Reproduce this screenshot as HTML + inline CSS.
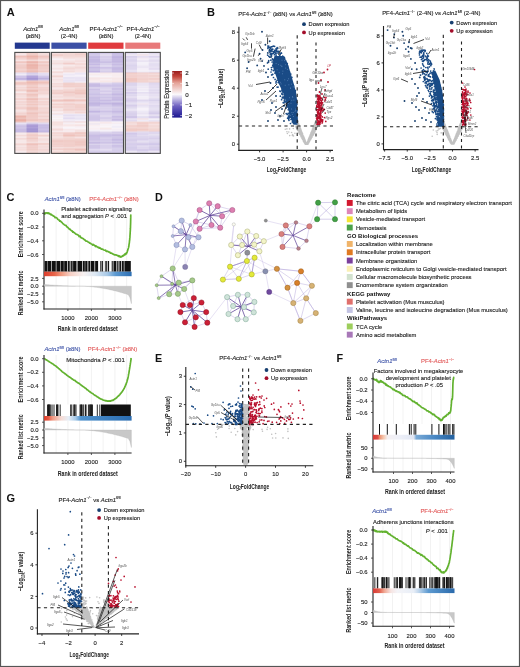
<!DOCTYPE html>
<html><head><meta charset="utf-8"><title>Figure</title>
<style>html,body{margin:0;padding:0;background:#fff;}body{width:520px;height:667px;overflow:hidden;font-family:"Liberation Sans", sans-serif;}svg{display:block;}</style>
</head><body><div style="will-change:transform;width:520px;height:667px;background:#fff;filter:blur(0.3px);">
<svg width="520" height="667" viewBox="0 0 520 667" font-family='"Liberation Sans", sans-serif'>
<text x="6.7" y="16.2" font-size="11" text-anchor="start" fill="#111" font-weight="bold">A</text>
<text x="33" y="30.7" font-size="5.9" text-anchor="middle" fill="#222" stroke="#222" stroke-width="0.12"><tspan font-style="italic">Actn1</tspan><tspan font-size="3.6" dy="-2.4">fl/fl</tspan></text>
<text x="33" y="38.2" font-size="5.9" text-anchor="middle" fill="#222" stroke="#222" stroke-width="0.12">(&#8805;8N)</text>
<text x="69.2" y="30.7" font-size="5.9" text-anchor="middle" fill="#222" stroke="#222" stroke-width="0.12"><tspan font-style="italic">Actn1</tspan><tspan font-size="3.6" dy="-2.4">fl/fl</tspan></text>
<text x="69.2" y="38.2" font-size="5.9" text-anchor="middle" fill="#222" stroke="#222" stroke-width="0.12">(2-4N)</text>
<text x="106" y="30.7" font-size="5.9" text-anchor="middle" fill="#222" stroke="#222" stroke-width="0.12">PF4-<tspan font-style="italic">Actn1</tspan><tspan font-size="3.6" dy="-2.4">&#8722;/&#8722;</tspan></text>
<text x="106" y="38.2" font-size="5.9" text-anchor="middle" fill="#222" stroke="#222" stroke-width="0.12">(&#8805;8N)</text>
<text x="143" y="30.7" font-size="5.9" text-anchor="middle" fill="#222" stroke="#222" stroke-width="0.12">PF4-<tspan font-style="italic">Actn1</tspan><tspan font-size="3.6" dy="-2.4">&#8722;/&#8722;</tspan></text>
<text x="143" y="38.2" font-size="5.9" text-anchor="middle" fill="#222" stroke="#222" stroke-width="0.12">(2-4N)</text>
<rect x="14.8" y="42.6" width="34.9" height="6.2" fill="#23388f"/>
<rect x="51.4" y="42.6" width="35.2" height="6.2" fill="#3b4fa5"/>
<rect x="88.2" y="42.6" width="35.3" height="6.2" fill="#e03a3e"/>
<rect x="125.3" y="42.6" width="35" height="6.2" fill="#e8797a"/>
<rect x="14.80" y="52.60" width="11.68" height="1.05" fill="#f3d8d7"/>
<rect x="26.43" y="52.60" width="11.68" height="1.05" fill="#edbdb7"/>
<rect x="38.07" y="52.60" width="11.68" height="1.05" fill="#f3dbdb"/>
<rect x="14.80" y="53.60" width="11.68" height="1.05" fill="#f4dcdd"/>
<rect x="26.43" y="53.60" width="11.68" height="1.05" fill="#eec2bc"/>
<rect x="38.07" y="53.60" width="11.68" height="1.05" fill="#f1d1cf"/>
<rect x="14.80" y="54.60" width="11.68" height="1.05" fill="#f5e4e5"/>
<rect x="26.43" y="54.60" width="11.68" height="1.05" fill="#edbfb9"/>
<rect x="38.07" y="54.60" width="11.68" height="1.05" fill="#f2d4d2"/>
<rect x="14.80" y="55.60" width="11.68" height="1.05" fill="#ebb4ac"/>
<rect x="26.43" y="55.60" width="11.68" height="1.05" fill="#e8a59a"/>
<rect x="38.07" y="55.60" width="11.68" height="1.05" fill="#ecbab3"/>
<rect x="14.80" y="56.60" width="11.68" height="1.05" fill="#eab1a9"/>
<rect x="26.43" y="56.60" width="11.68" height="1.05" fill="#e69e91"/>
<rect x="38.07" y="56.60" width="11.68" height="1.05" fill="#ebb4ac"/>
<rect x="14.80" y="57.60" width="11.68" height="1.05" fill="#f0cbc7"/>
<rect x="26.43" y="57.60" width="11.68" height="1.05" fill="#ecb7b0"/>
<rect x="38.07" y="57.60" width="11.68" height="1.05" fill="#efc9c5"/>
<rect x="14.80" y="58.60" width="11.68" height="1.05" fill="#efc5c0"/>
<rect x="26.43" y="58.60" width="11.68" height="1.05" fill="#e9aba1"/>
<rect x="38.07" y="58.60" width="11.68" height="1.05" fill="#efc5c0"/>
<rect x="14.80" y="59.60" width="11.68" height="1.05" fill="#f4dcdd"/>
<rect x="26.43" y="59.60" width="11.68" height="1.05" fill="#f2d4d3"/>
<rect x="38.07" y="59.60" width="11.68" height="1.05" fill="#f4dfe0"/>
<rect x="14.80" y="60.60" width="11.68" height="1.05" fill="#f4dede"/>
<rect x="26.43" y="60.60" width="11.68" height="1.05" fill="#f0ccc9"/>
<rect x="38.07" y="60.60" width="11.68" height="1.05" fill="#f3d9d8"/>
<rect x="14.80" y="61.60" width="11.68" height="1.05" fill="#e8a79d"/>
<rect x="26.43" y="61.60" width="11.68" height="1.05" fill="#e28a7a"/>
<rect x="38.07" y="61.60" width="11.68" height="1.05" fill="#e9aca3"/>
<rect x="14.80" y="62.60" width="11.68" height="1.05" fill="#f0cbc8"/>
<rect x="26.43" y="62.60" width="11.68" height="1.05" fill="#ecbab3"/>
<rect x="38.07" y="62.60" width="11.68" height="1.05" fill="#f0cac6"/>
<rect x="14.80" y="63.60" width="11.68" height="1.05" fill="#f2d3d1"/>
<rect x="26.43" y="63.60" width="11.68" height="1.05" fill="#eab1a8"/>
<rect x="38.07" y="63.60" width="11.68" height="1.05" fill="#f0cecb"/>
<rect x="14.80" y="64.60" width="11.68" height="1.05" fill="#ecbbb4"/>
<rect x="26.43" y="64.60" width="11.68" height="1.05" fill="#e69b8f"/>
<rect x="38.07" y="64.60" width="11.68" height="1.05" fill="#ebb4ac"/>
<rect x="14.80" y="65.60" width="11.68" height="1.05" fill="#efc6c2"/>
<rect x="26.43" y="65.60" width="11.68" height="1.05" fill="#e7a499"/>
<rect x="38.07" y="65.60" width="11.68" height="1.05" fill="#edbfb9"/>
<rect x="14.80" y="66.60" width="11.68" height="1.05" fill="#ecbab3"/>
<rect x="26.43" y="66.60" width="11.68" height="1.05" fill="#e8a69b"/>
<rect x="38.07" y="66.60" width="11.68" height="1.05" fill="#eec0bb"/>
<rect x="14.80" y="67.60" width="11.68" height="1.05" fill="#eec1bb"/>
<rect x="26.43" y="67.60" width="11.68" height="1.05" fill="#e7a296"/>
<rect x="38.07" y="67.60" width="11.68" height="1.05" fill="#eec3be"/>
<rect x="14.80" y="68.60" width="11.68" height="1.05" fill="#eec3be"/>
<rect x="26.43" y="68.60" width="11.68" height="1.05" fill="#e9ada4"/>
<rect x="38.07" y="68.60" width="11.68" height="1.05" fill="#eec1bc"/>
<rect x="14.80" y="69.60" width="11.68" height="1.05" fill="#f1cfcc"/>
<rect x="26.43" y="69.60" width="11.68" height="1.05" fill="#ecbbb4"/>
<rect x="38.07" y="69.60" width="11.68" height="1.05" fill="#f0cac6"/>
<rect x="14.80" y="70.60" width="11.68" height="1.05" fill="#edbcb5"/>
<rect x="26.43" y="70.60" width="11.68" height="1.05" fill="#e8a89e"/>
<rect x="38.07" y="70.60" width="11.68" height="1.05" fill="#ecbbb5"/>
<rect x="14.80" y="71.60" width="11.68" height="1.05" fill="#edbfb9"/>
<rect x="26.43" y="71.60" width="11.68" height="1.05" fill="#e9aca2"/>
<rect x="38.07" y="71.60" width="11.68" height="1.05" fill="#ecbbb4"/>
<rect x="14.80" y="72.60" width="11.68" height="1.05" fill="#e6dff1"/>
<rect x="26.43" y="72.60" width="11.68" height="1.05" fill="#cfc5e7"/>
<rect x="38.07" y="72.60" width="11.68" height="1.05" fill="#eee9f5"/>
<rect x="14.80" y="73.60" width="11.68" height="1.05" fill="#ded6ee"/>
<rect x="26.43" y="73.60" width="11.68" height="1.05" fill="#c9bee4"/>
<rect x="38.07" y="73.60" width="11.68" height="1.05" fill="#ccc1e6"/>
<rect x="14.80" y="74.60" width="11.68" height="1.05" fill="#f9f5fa"/>
<rect x="26.43" y="74.60" width="11.68" height="1.05" fill="#dbd2ec"/>
<rect x="38.07" y="74.60" width="11.68" height="1.05" fill="#eee8f5"/>
<rect x="14.80" y="75.60" width="11.68" height="1.05" fill="#b8aadd"/>
<rect x="26.43" y="75.60" width="11.68" height="1.05" fill="#9a87cf"/>
<rect x="38.07" y="75.60" width="11.68" height="1.05" fill="#bbadde"/>
<rect x="14.80" y="76.60" width="11.68" height="1.05" fill="#ccc1e5"/>
<rect x="26.43" y="76.60" width="11.68" height="1.05" fill="#a593d4"/>
<rect x="38.07" y="76.60" width="11.68" height="1.05" fill="#cbc0e5"/>
<rect x="14.80" y="77.60" width="11.68" height="1.05" fill="#baabdd"/>
<rect x="26.43" y="77.60" width="11.68" height="1.05" fill="#9885ce"/>
<rect x="38.07" y="77.60" width="11.68" height="1.05" fill="#ae9ed8"/>
<rect x="14.80" y="78.60" width="11.68" height="1.05" fill="#a593d4"/>
<rect x="26.43" y="78.60" width="11.68" height="1.05" fill="#8674c5"/>
<rect x="38.07" y="78.60" width="11.68" height="1.05" fill="#a898d5"/>
<rect x="14.80" y="79.60" width="11.68" height="1.05" fill="#c6bae3"/>
<rect x="26.43" y="79.60" width="11.68" height="1.05" fill="#a998d5"/>
<rect x="38.07" y="79.60" width="11.68" height="1.05" fill="#cbc0e5"/>
<rect x="14.80" y="80.60" width="11.68" height="1.05" fill="#f5e1e2"/>
<rect x="26.43" y="80.60" width="11.68" height="1.05" fill="#ecb8b0"/>
<rect x="38.07" y="80.60" width="11.68" height="1.05" fill="#edbdb7"/>
<rect x="14.80" y="81.60" width="11.68" height="1.05" fill="#f0cac6"/>
<rect x="26.43" y="81.60" width="11.68" height="1.05" fill="#ebb3ab"/>
<rect x="38.07" y="81.60" width="11.68" height="1.05" fill="#edbfb9"/>
<rect x="14.80" y="82.60" width="11.68" height="1.05" fill="#eaaea5"/>
<rect x="26.43" y="82.60" width="11.68" height="1.05" fill="#e69e92"/>
<rect x="38.07" y="82.60" width="11.68" height="1.05" fill="#e7a499"/>
<rect x="14.80" y="83.60" width="11.68" height="1.05" fill="#eec3be"/>
<rect x="26.43" y="83.60" width="11.68" height="1.05" fill="#eec1bc"/>
<rect x="38.07" y="83.60" width="11.68" height="1.05" fill="#f1d0cd"/>
<rect x="14.80" y="84.60" width="11.68" height="1.05" fill="#edbdb7"/>
<rect x="26.43" y="84.60" width="11.68" height="1.05" fill="#eaafa6"/>
<rect x="38.07" y="84.60" width="11.68" height="1.05" fill="#eec1bc"/>
<rect x="14.80" y="85.60" width="11.68" height="1.05" fill="#f6e9ec"/>
<rect x="26.43" y="85.60" width="11.68" height="1.05" fill="#f2d5d3"/>
<rect x="38.07" y="85.60" width="11.68" height="1.05" fill="#f5e4e6"/>
<rect x="14.80" y="86.60" width="11.68" height="1.05" fill="#f0cbc7"/>
<rect x="26.43" y="86.60" width="11.68" height="1.05" fill="#eaafa6"/>
<rect x="38.07" y="86.60" width="11.68" height="1.05" fill="#eec4c0"/>
<rect x="14.80" y="87.60" width="11.68" height="1.05" fill="#f1d2d0"/>
<rect x="26.43" y="87.60" width="11.68" height="1.05" fill="#edbcb6"/>
<rect x="38.07" y="87.60" width="11.68" height="1.05" fill="#f0cac6"/>
<rect x="14.80" y="88.60" width="11.68" height="1.05" fill="#f2d6d5"/>
<rect x="26.43" y="88.60" width="11.68" height="1.05" fill="#f0cac7"/>
<rect x="38.07" y="88.60" width="11.68" height="1.05" fill="#efc6c2"/>
<rect x="14.80" y="89.60" width="11.68" height="1.05" fill="#edc0ba"/>
<rect x="26.43" y="89.60" width="11.68" height="1.05" fill="#eaaea5"/>
<rect x="38.07" y="89.60" width="11.68" height="1.05" fill="#eec3bf"/>
<rect x="14.80" y="90.60" width="11.68" height="1.05" fill="#f0ccc8"/>
<rect x="26.43" y="90.60" width="11.68" height="1.05" fill="#e9aaa1"/>
<rect x="38.07" y="90.60" width="11.68" height="1.05" fill="#efc8c4"/>
<rect x="14.80" y="91.60" width="11.68" height="1.05" fill="#f6e9eb"/>
<rect x="26.43" y="91.60" width="11.68" height="1.05" fill="#ecbbb4"/>
<rect x="38.07" y="91.60" width="11.68" height="1.05" fill="#f2d3d1"/>
<rect x="14.80" y="92.60" width="11.68" height="1.05" fill="#f5e0e1"/>
<rect x="26.43" y="92.60" width="11.68" height="1.05" fill="#f3d9d9"/>
<rect x="38.07" y="92.60" width="11.68" height="1.05" fill="#efc6c2"/>
<rect x="14.80" y="93.60" width="11.68" height="1.05" fill="#edbeb8"/>
<rect x="26.43" y="93.60" width="11.68" height="1.05" fill="#eab0a7"/>
<rect x="38.07" y="93.60" width="11.68" height="1.05" fill="#f0cdcb"/>
<rect x="14.80" y="94.60" width="11.68" height="1.05" fill="#f3dbdb"/>
<rect x="26.43" y="94.60" width="11.68" height="1.05" fill="#ecb9b2"/>
<rect x="38.07" y="94.60" width="11.68" height="1.05" fill="#f4dcdc"/>
<rect x="14.80" y="95.60" width="11.68" height="1.05" fill="#f1d1cf"/>
<rect x="26.43" y="95.60" width="11.68" height="1.05" fill="#ecbbb4"/>
<rect x="38.07" y="95.60" width="11.68" height="1.05" fill="#f4dedf"/>
<rect x="14.80" y="96.60" width="11.68" height="1.05" fill="#f3dbda"/>
<rect x="26.43" y="96.60" width="11.68" height="1.05" fill="#efc7c3"/>
<rect x="38.07" y="96.60" width="11.68" height="1.05" fill="#f5e4e6"/>
<rect x="14.80" y="97.60" width="11.68" height="1.05" fill="#f4dcdc"/>
<rect x="26.43" y="97.60" width="11.68" height="1.05" fill="#f0ccc8"/>
<rect x="38.07" y="97.60" width="11.68" height="1.05" fill="#f3d8d8"/>
<rect x="14.80" y="98.60" width="11.68" height="1.05" fill="#edbcb5"/>
<rect x="26.43" y="98.60" width="11.68" height="1.05" fill="#e69f93"/>
<rect x="38.07" y="98.60" width="11.68" height="1.05" fill="#edbeb8"/>
<rect x="14.80" y="99.60" width="11.68" height="1.05" fill="#f3d7d6"/>
<rect x="26.43" y="99.60" width="11.68" height="1.05" fill="#edbeb8"/>
<rect x="38.07" y="99.60" width="11.68" height="1.05" fill="#f2d6d5"/>
<rect x="14.80" y="100.60" width="11.68" height="1.05" fill="#f4dfdf"/>
<rect x="26.43" y="100.60" width="11.68" height="1.05" fill="#efc6c2"/>
<rect x="38.07" y="100.60" width="11.68" height="1.05" fill="#f3dada"/>
<rect x="14.80" y="101.60" width="11.68" height="1.05" fill="#edbeb8"/>
<rect x="26.43" y="101.60" width="11.68" height="1.05" fill="#eab1a9"/>
<rect x="38.07" y="101.60" width="11.68" height="1.05" fill="#edbcb5"/>
<rect x="14.80" y="102.60" width="11.68" height="1.05" fill="#f3dbdb"/>
<rect x="26.43" y="102.60" width="11.68" height="1.05" fill="#f0cbc8"/>
<rect x="38.07" y="102.60" width="11.68" height="1.05" fill="#f3dada"/>
<rect x="14.80" y="103.60" width="11.68" height="1.05" fill="#f1cecb"/>
<rect x="26.43" y="103.60" width="11.68" height="1.05" fill="#edbfb9"/>
<rect x="38.07" y="103.60" width="11.68" height="1.05" fill="#eec2bd"/>
<rect x="14.80" y="104.60" width="11.68" height="1.05" fill="#efc9c5"/>
<rect x="26.43" y="104.60" width="11.68" height="1.05" fill="#eab1a8"/>
<rect x="38.07" y="104.60" width="11.68" height="1.05" fill="#f1cfcd"/>
<rect x="14.80" y="105.60" width="11.68" height="1.05" fill="#f5e1e1"/>
<rect x="26.43" y="105.60" width="11.68" height="1.05" fill="#f2d7d6"/>
<rect x="38.07" y="105.60" width="11.68" height="1.05" fill="#f3d9d9"/>
<rect x="14.80" y="106.60" width="11.68" height="1.05" fill="#eec4bf"/>
<rect x="26.43" y="106.60" width="11.68" height="1.05" fill="#ebb2aa"/>
<rect x="38.07" y="106.60" width="11.68" height="1.05" fill="#f2d6d5"/>
<rect x="14.80" y="107.60" width="11.68" height="1.05" fill="#f0cbc8"/>
<rect x="26.43" y="107.60" width="11.68" height="1.05" fill="#ecb8b1"/>
<rect x="38.07" y="107.60" width="11.68" height="1.05" fill="#efc6c2"/>
<rect x="14.80" y="108.60" width="11.68" height="1.05" fill="#eec0bb"/>
<rect x="26.43" y="108.60" width="11.68" height="1.05" fill="#e9aca2"/>
<rect x="38.07" y="108.60" width="11.68" height="1.05" fill="#f1cecb"/>
<rect x="14.80" y="109.60" width="11.68" height="1.05" fill="#f6e6e8"/>
<rect x="26.43" y="109.60" width="11.68" height="1.05" fill="#eec3be"/>
<rect x="38.07" y="109.60" width="11.68" height="1.05" fill="#f1cecc"/>
<rect x="14.80" y="110.60" width="11.68" height="1.05" fill="#f2d6d5"/>
<rect x="26.43" y="110.60" width="11.68" height="1.05" fill="#eec3be"/>
<rect x="38.07" y="110.60" width="11.68" height="1.05" fill="#f0cdcb"/>
<rect x="14.80" y="111.60" width="11.68" height="1.05" fill="#f4dedf"/>
<rect x="26.43" y="111.60" width="11.68" height="1.05" fill="#f0cac7"/>
<rect x="38.07" y="111.60" width="11.68" height="1.05" fill="#efc9c5"/>
<rect x="14.80" y="112.60" width="11.68" height="1.05" fill="#eec3be"/>
<rect x="26.43" y="112.60" width="11.68" height="1.05" fill="#e9ada4"/>
<rect x="38.07" y="112.60" width="11.68" height="1.05" fill="#edbeb8"/>
<rect x="14.80" y="113.60" width="11.68" height="1.05" fill="#f1cecb"/>
<rect x="26.43" y="113.60" width="11.68" height="1.05" fill="#ecbbb5"/>
<rect x="38.07" y="113.60" width="11.68" height="1.05" fill="#f1d2d0"/>
<rect x="14.80" y="114.60" width="11.68" height="1.05" fill="#f0cbc8"/>
<rect x="26.43" y="114.60" width="11.68" height="1.05" fill="#edbfb9"/>
<rect x="38.07" y="114.60" width="11.68" height="1.05" fill="#f2d3d1"/>
<rect x="14.80" y="115.60" width="11.68" height="1.05" fill="#e8a79c"/>
<rect x="26.43" y="115.60" width="11.68" height="1.05" fill="#edbcb5"/>
<rect x="38.07" y="115.60" width="11.68" height="1.05" fill="#efc8c4"/>
<rect x="14.80" y="116.60" width="11.68" height="1.05" fill="#e7a195"/>
<rect x="26.43" y="116.60" width="11.68" height="1.05" fill="#edbeb8"/>
<rect x="38.07" y="116.60" width="11.68" height="1.05" fill="#eec4c0"/>
<rect x="14.80" y="117.60" width="11.68" height="1.05" fill="#ecb7b0"/>
<rect x="26.43" y="117.60" width="11.68" height="1.05" fill="#eec1bb"/>
<rect x="38.07" y="117.60" width="11.68" height="1.05" fill="#f4dddd"/>
<rect x="14.80" y="118.60" width="11.68" height="1.05" fill="#e9aca2"/>
<rect x="26.43" y="118.60" width="11.68" height="1.05" fill="#eec3be"/>
<rect x="38.07" y="118.60" width="11.68" height="1.05" fill="#eec4bf"/>
<rect x="14.80" y="119.60" width="11.68" height="1.05" fill="#e59789"/>
<rect x="26.43" y="119.60" width="11.68" height="1.05" fill="#eaafa7"/>
<rect x="38.07" y="119.60" width="11.68" height="1.05" fill="#ecb9b1"/>
<rect x="14.80" y="120.60" width="11.68" height="1.05" fill="#e6a094"/>
<rect x="26.43" y="120.60" width="11.68" height="1.05" fill="#edc0ba"/>
<rect x="38.07" y="120.60" width="11.68" height="1.05" fill="#f0cbc7"/>
<rect x="14.80" y="121.60" width="11.68" height="1.05" fill="#ecbbb4"/>
<rect x="26.43" y="121.60" width="11.68" height="1.05" fill="#f2d4d2"/>
<rect x="38.07" y="121.60" width="11.68" height="1.05" fill="#efc8c4"/>
<rect x="14.80" y="122.60" width="11.68" height="1.05" fill="#ddd4ed"/>
<rect x="26.43" y="122.60" width="11.68" height="1.05" fill="#d3c9e9"/>
<rect x="38.07" y="122.60" width="11.68" height="1.05" fill="#dad1ec"/>
<rect x="14.80" y="123.60" width="11.68" height="1.05" fill="#e7e0f2"/>
<rect x="26.43" y="123.60" width="11.68" height="1.05" fill="#c5b8e2"/>
<rect x="38.07" y="123.60" width="11.68" height="1.05" fill="#d9d0eb"/>
<rect x="14.80" y="124.60" width="11.68" height="1.05" fill="#beb0df"/>
<rect x="26.43" y="124.60" width="11.68" height="1.05" fill="#927ecb"/>
<rect x="38.07" y="124.60" width="11.68" height="1.05" fill="#ac9bd7"/>
<rect x="14.80" y="125.60" width="11.68" height="1.05" fill="#cabee4"/>
<rect x="26.43" y="125.60" width="11.68" height="1.05" fill="#9c8ad0"/>
<rect x="38.07" y="125.60" width="11.68" height="1.05" fill="#c4b7e2"/>
<rect x="14.80" y="126.60" width="11.68" height="1.05" fill="#b3a4da"/>
<rect x="26.43" y="126.60" width="11.68" height="1.05" fill="#8976c6"/>
<rect x="38.07" y="126.60" width="11.68" height="1.05" fill="#b2a2d9"/>
<rect x="14.80" y="127.60" width="11.68" height="1.05" fill="#d3c9e9"/>
<rect x="26.43" y="127.60" width="11.68" height="1.05" fill="#aa99d6"/>
<rect x="38.07" y="127.60" width="11.68" height="1.05" fill="#bfb2e0"/>
<rect x="14.80" y="128.60" width="11.68" height="1.05" fill="#ae9ed8"/>
<rect x="26.43" y="128.60" width="11.68" height="1.05" fill="#7968bd"/>
<rect x="38.07" y="128.60" width="11.68" height="1.05" fill="#b7a9dc"/>
<rect x="14.80" y="129.60" width="11.68" height="1.05" fill="#c3b6e1"/>
<rect x="26.43" y="129.60" width="11.68" height="1.05" fill="#9f8dd1"/>
<rect x="38.07" y="129.60" width="11.68" height="1.05" fill="#c5b9e3"/>
<rect x="14.80" y="130.60" width="11.68" height="1.05" fill="#ae9ed8"/>
<rect x="26.43" y="130.60" width="11.68" height="1.05" fill="#7f6dc1"/>
<rect x="38.07" y="130.60" width="11.68" height="1.05" fill="#ac9cd7"/>
<rect x="14.80" y="131.60" width="11.68" height="1.05" fill="#c1b4e0"/>
<rect x="26.43" y="131.60" width="11.68" height="1.05" fill="#9683cd"/>
<rect x="38.07" y="131.60" width="11.68" height="1.05" fill="#baacdd"/>
<rect x="14.80" y="132.60" width="11.68" height="1.05" fill="#f3dcdb"/>
<rect x="26.43" y="132.60" width="11.68" height="1.05" fill="#f0cdc9"/>
<rect x="38.07" y="132.60" width="11.68" height="1.05" fill="#f3dad9"/>
<rect x="14.80" y="133.60" width="11.68" height="1.05" fill="#f8eff3"/>
<rect x="26.43" y="133.60" width="11.68" height="1.05" fill="#f1d1cf"/>
<rect x="38.07" y="133.60" width="11.68" height="1.05" fill="#f7eef1"/>
<rect x="14.80" y="134.60" width="11.68" height="1.05" fill="#f1d2d0"/>
<rect x="26.43" y="134.60" width="11.68" height="1.05" fill="#ebb5ae"/>
<rect x="38.07" y="134.60" width="11.68" height="1.05" fill="#efc7c3"/>
<rect x="14.80" y="135.60" width="11.68" height="1.05" fill="#f1d1cf"/>
<rect x="26.43" y="135.60" width="11.68" height="1.05" fill="#efc5c0"/>
<rect x="38.07" y="135.60" width="11.68" height="1.05" fill="#efc5c1"/>
<rect x="14.80" y="136.60" width="11.68" height="1.05" fill="#f7ebee"/>
<rect x="26.43" y="136.60" width="11.68" height="1.05" fill="#efc9c5"/>
<rect x="38.07" y="136.60" width="11.68" height="1.05" fill="#f5e3e4"/>
<rect x="14.80" y="137.60" width="11.68" height="1.05" fill="#f3dad9"/>
<rect x="26.43" y="137.60" width="11.68" height="1.05" fill="#eec1bb"/>
<rect x="38.07" y="137.60" width="11.68" height="1.05" fill="#f5e3e4"/>
<rect x="14.80" y="138.60" width="11.68" height="1.05" fill="#efc9c5"/>
<rect x="26.43" y="138.60" width="11.68" height="1.05" fill="#ebb7af"/>
<rect x="38.07" y="138.60" width="11.68" height="1.05" fill="#f1cecc"/>
<rect x="14.80" y="139.60" width="11.68" height="1.05" fill="#f5e5e6"/>
<rect x="26.43" y="139.60" width="11.68" height="1.05" fill="#f2d4d2"/>
<rect x="38.07" y="139.60" width="11.68" height="1.05" fill="#f3dbdb"/>
<rect x="14.80" y="140.60" width="11.68" height="1.05" fill="#f4dfdf"/>
<rect x="26.43" y="140.60" width="11.68" height="1.05" fill="#edbfb9"/>
<rect x="38.07" y="140.60" width="11.68" height="1.05" fill="#f2d6d5"/>
<rect x="14.80" y="141.60" width="11.68" height="1.05" fill="#f6e5e7"/>
<rect x="26.43" y="141.60" width="11.68" height="1.05" fill="#f4dddd"/>
<rect x="38.07" y="141.60" width="11.68" height="1.05" fill="#f6e6e8"/>
<rect x="14.80" y="142.60" width="11.68" height="1.05" fill="#f4e0e0"/>
<rect x="26.43" y="142.60" width="11.68" height="1.05" fill="#f0cdca"/>
<rect x="38.07" y="142.60" width="11.68" height="1.05" fill="#f2d6d5"/>
<rect x="14.80" y="143.60" width="11.68" height="1.05" fill="#efc7c3"/>
<rect x="26.43" y="143.60" width="11.68" height="1.05" fill="#e9ada3"/>
<rect x="38.07" y="143.60" width="11.68" height="1.05" fill="#eab2a9"/>
<rect x="14.80" y="144.60" width="11.68" height="1.05" fill="#f0cecb"/>
<rect x="26.43" y="144.60" width="11.68" height="1.05" fill="#ebb6af"/>
<rect x="38.07" y="144.60" width="11.68" height="1.05" fill="#f3d8d7"/>
<rect x="14.80" y="145.60" width="11.68" height="1.05" fill="#f5e5e7"/>
<rect x="26.43" y="145.60" width="11.68" height="1.05" fill="#f0cbc8"/>
<rect x="38.07" y="145.60" width="11.68" height="1.05" fill="#f2d4d2"/>
<rect x="14.80" y="146.60" width="11.68" height="1.05" fill="#f3d8d7"/>
<rect x="26.43" y="146.60" width="11.68" height="1.05" fill="#edbfb9"/>
<rect x="38.07" y="146.60" width="11.68" height="1.05" fill="#f1cfcc"/>
<rect x="14.80" y="147.60" width="11.68" height="1.05" fill="#f2d4d3"/>
<rect x="26.43" y="147.60" width="11.68" height="1.05" fill="#eec4bf"/>
<rect x="38.07" y="147.60" width="11.68" height="1.05" fill="#f2d5d4"/>
<rect x="14.80" y="148.60" width="11.68" height="1.05" fill="#f4dede"/>
<rect x="26.43" y="148.60" width="11.68" height="1.05" fill="#efc6c1"/>
<rect x="38.07" y="148.60" width="11.68" height="1.05" fill="#f2d5d4"/>
<rect x="14.80" y="149.60" width="11.68" height="1.05" fill="#f0ccc9"/>
<rect x="26.43" y="149.60" width="11.68" height="1.05" fill="#ecbbb4"/>
<rect x="38.07" y="149.60" width="11.68" height="1.05" fill="#eec4bf"/>
<rect x="14.80" y="150.60" width="11.68" height="1.05" fill="#f6e9ec"/>
<rect x="26.43" y="150.60" width="11.68" height="1.05" fill="#f2d6d5"/>
<rect x="38.07" y="150.60" width="11.68" height="1.05" fill="#f3dad9"/>
<rect x="14.80" y="151.60" width="11.68" height="1.05" fill="#f5e3e5"/>
<rect x="26.43" y="151.60" width="11.68" height="1.05" fill="#efc9c5"/>
<rect x="38.07" y="151.60" width="11.68" height="1.05" fill="#f1d0cd"/>
<rect x="14.80" y="152.60" width="11.68" height="1.05" fill="#f7ebee"/>
<rect x="26.43" y="152.60" width="11.68" height="1.05" fill="#efc8c4"/>
<rect x="38.07" y="152.60" width="11.68" height="1.05" fill="#f5e3e5"/>
<rect x="14.8" y="52.4" width="34.9" height="101" fill="none" stroke="#4a4a4a" stroke-width="1.1"/>
<rect x="51.40" y="52.60" width="11.78" height="1.05" fill="#f2d7d6"/>
<rect x="63.13" y="52.60" width="11.78" height="1.05" fill="#f1cecb"/>
<rect x="74.87" y="52.60" width="11.78" height="1.05" fill="#f3d8d7"/>
<rect x="51.40" y="53.60" width="11.78" height="1.05" fill="#f2d3d2"/>
<rect x="63.13" y="53.60" width="11.78" height="1.05" fill="#f1d0ce"/>
<rect x="74.87" y="53.60" width="11.78" height="1.05" fill="#ecbab3"/>
<rect x="51.40" y="54.60" width="11.78" height="1.05" fill="#ecb8b1"/>
<rect x="63.13" y="54.60" width="11.78" height="1.05" fill="#efc7c3"/>
<rect x="74.87" y="54.60" width="11.78" height="1.05" fill="#f0cac7"/>
<rect x="51.40" y="55.60" width="11.78" height="1.05" fill="#f0ccc9"/>
<rect x="63.13" y="55.60" width="11.78" height="1.05" fill="#f1d1cf"/>
<rect x="74.87" y="55.60" width="11.78" height="1.05" fill="#f0ccc9"/>
<rect x="51.40" y="56.60" width="11.78" height="1.05" fill="#f3d9d8"/>
<rect x="63.13" y="56.60" width="11.78" height="1.05" fill="#f0ccc8"/>
<rect x="74.87" y="56.60" width="11.78" height="1.05" fill="#f0cecb"/>
<rect x="51.40" y="57.60" width="11.78" height="1.05" fill="#f5e1e1"/>
<rect x="63.13" y="57.60" width="11.78" height="1.05" fill="#f4dcdc"/>
<rect x="74.87" y="57.60" width="11.78" height="1.05" fill="#f4dede"/>
<rect x="51.40" y="58.60" width="11.78" height="1.05" fill="#f8f1f5"/>
<rect x="63.13" y="58.60" width="11.78" height="1.05" fill="#f3dad9"/>
<rect x="74.87" y="58.60" width="11.78" height="1.05" fill="#f3dbdb"/>
<rect x="51.40" y="59.60" width="11.78" height="1.05" fill="#f7ecef"/>
<rect x="63.13" y="59.60" width="11.78" height="1.05" fill="#f8f0f4"/>
<rect x="74.87" y="59.60" width="11.78" height="1.05" fill="#f5e4e5"/>
<rect x="51.40" y="60.60" width="11.78" height="1.05" fill="#f2d4d3"/>
<rect x="63.13" y="60.60" width="11.78" height="1.05" fill="#f1cfcd"/>
<rect x="74.87" y="60.60" width="11.78" height="1.05" fill="#f0cdca"/>
<rect x="51.40" y="61.60" width="11.78" height="1.05" fill="#f6e8ea"/>
<rect x="63.13" y="61.60" width="11.78" height="1.05" fill="#f5e3e5"/>
<rect x="74.87" y="61.60" width="11.78" height="1.05" fill="#f4dfe0"/>
<rect x="51.40" y="62.60" width="11.78" height="1.05" fill="#f1d1cf"/>
<rect x="63.13" y="62.60" width="11.78" height="1.05" fill="#eec4bf"/>
<rect x="74.87" y="62.60" width="11.78" height="1.05" fill="#f4dfdf"/>
<rect x="51.40" y="63.60" width="11.78" height="1.05" fill="#f2d5d4"/>
<rect x="63.13" y="63.60" width="11.78" height="1.05" fill="#edbeb8"/>
<rect x="74.87" y="63.60" width="11.78" height="1.05" fill="#efc5c1"/>
<rect x="51.40" y="64.60" width="11.78" height="1.05" fill="#f6e8eb"/>
<rect x="63.13" y="64.60" width="11.78" height="1.05" fill="#f6e9ec"/>
<rect x="74.87" y="64.60" width="11.78" height="1.05" fill="#f4dcdc"/>
<rect x="51.40" y="65.60" width="11.78" height="1.05" fill="#f6e5e7"/>
<rect x="63.13" y="65.60" width="11.78" height="1.05" fill="#f4e0e0"/>
<rect x="74.87" y="65.60" width="11.78" height="1.05" fill="#f4dddd"/>
<rect x="51.40" y="66.60" width="11.78" height="1.05" fill="#f7ecef"/>
<rect x="63.13" y="66.60" width="11.78" height="1.05" fill="#f2d6d5"/>
<rect x="74.87" y="66.60" width="11.78" height="1.05" fill="#f1d0ce"/>
<rect x="51.40" y="67.60" width="11.78" height="1.05" fill="#f4e0e1"/>
<rect x="63.13" y="67.60" width="11.78" height="1.05" fill="#f1d2d0"/>
<rect x="74.87" y="67.60" width="11.78" height="1.05" fill="#f0cdca"/>
<rect x="51.40" y="68.60" width="11.78" height="1.05" fill="#f3dada"/>
<rect x="63.13" y="68.60" width="11.78" height="1.05" fill="#f0cbc7"/>
<rect x="74.87" y="68.60" width="11.78" height="1.05" fill="#f3dada"/>
<rect x="51.40" y="69.60" width="11.78" height="1.05" fill="#f7ecef"/>
<rect x="63.13" y="69.60" width="11.78" height="1.05" fill="#f4dede"/>
<rect x="74.87" y="69.60" width="11.78" height="1.05" fill="#f4dcdc"/>
<rect x="51.40" y="70.60" width="11.78" height="1.05" fill="#f6e8ea"/>
<rect x="63.13" y="70.60" width="11.78" height="1.05" fill="#f1d1cf"/>
<rect x="74.87" y="70.60" width="11.78" height="1.05" fill="#f4dddd"/>
<rect x="51.40" y="71.60" width="11.78" height="1.05" fill="#f0cac7"/>
<rect x="63.13" y="71.60" width="11.78" height="1.05" fill="#f2d4d3"/>
<rect x="74.87" y="71.60" width="11.78" height="1.05" fill="#f4ddde"/>
<rect x="51.40" y="72.60" width="11.78" height="1.05" fill="#f3dada"/>
<rect x="63.13" y="72.60" width="11.78" height="1.05" fill="#f8f1f5"/>
<rect x="74.87" y="72.60" width="11.78" height="1.05" fill="#ebe5f4"/>
<rect x="51.40" y="73.60" width="11.78" height="1.05" fill="#f7eaed"/>
<rect x="63.13" y="73.60" width="11.78" height="1.05" fill="#eae3f3"/>
<rect x="74.87" y="73.60" width="11.78" height="1.05" fill="#e3dbf0"/>
<rect x="51.40" y="74.60" width="11.78" height="1.05" fill="#f3dcdc"/>
<rect x="63.13" y="74.60" width="11.78" height="1.05" fill="#ebe4f3"/>
<rect x="74.87" y="74.60" width="11.78" height="1.05" fill="#f4eff8"/>
<rect x="51.40" y="75.60" width="11.78" height="1.05" fill="#f0cdca"/>
<rect x="63.13" y="75.60" width="11.78" height="1.05" fill="#f3eef7"/>
<rect x="74.87" y="75.60" width="11.78" height="1.05" fill="#f2edf7"/>
<rect x="51.40" y="76.60" width="11.78" height="1.05" fill="#eec5c0"/>
<rect x="63.13" y="76.60" width="11.78" height="1.05" fill="#efe9f5"/>
<rect x="74.87" y="76.60" width="11.78" height="1.05" fill="#ede7f4"/>
<rect x="51.40" y="77.60" width="11.78" height="1.05" fill="#f9f3f8"/>
<rect x="63.13" y="77.60" width="11.78" height="1.05" fill="#d8cfeb"/>
<rect x="74.87" y="77.60" width="11.78" height="1.05" fill="#ddd4ed"/>
<rect x="51.40" y="78.60" width="11.78" height="1.05" fill="#f2d3d2"/>
<rect x="63.13" y="78.60" width="11.78" height="1.05" fill="#f0ebf6"/>
<rect x="74.87" y="78.60" width="11.78" height="1.05" fill="#e9e3f3"/>
<rect x="51.40" y="79.60" width="11.78" height="1.05" fill="#f5e1e3"/>
<rect x="63.13" y="79.60" width="11.78" height="1.05" fill="#e0d7ee"/>
<rect x="74.87" y="79.60" width="11.78" height="1.05" fill="#e0d8ef"/>
<rect x="51.40" y="80.60" width="11.78" height="1.05" fill="#f4dddd"/>
<rect x="63.13" y="80.60" width="11.78" height="1.05" fill="#e8e2f2"/>
<rect x="74.87" y="80.60" width="11.78" height="1.05" fill="#e6dff1"/>
<rect x="51.40" y="81.60" width="11.78" height="1.05" fill="#f6e5e7"/>
<rect x="63.13" y="81.60" width="11.78" height="1.05" fill="#e1daef"/>
<rect x="74.87" y="81.60" width="11.78" height="1.05" fill="#efe9f5"/>
<rect x="51.40" y="82.60" width="11.78" height="1.05" fill="#f5e2e3"/>
<rect x="63.13" y="82.60" width="11.78" height="1.05" fill="#f0cecb"/>
<rect x="74.87" y="82.60" width="11.78" height="1.05" fill="#f2d6d5"/>
<rect x="51.40" y="83.60" width="11.78" height="1.05" fill="#eec2bd"/>
<rect x="63.13" y="83.60" width="11.78" height="1.05" fill="#ecb8b1"/>
<rect x="74.87" y="83.60" width="11.78" height="1.05" fill="#ecb9b2"/>
<rect x="51.40" y="84.60" width="11.78" height="1.05" fill="#f6e9ec"/>
<rect x="63.13" y="84.60" width="11.78" height="1.05" fill="#f0cac6"/>
<rect x="74.87" y="84.60" width="11.78" height="1.05" fill="#f1d2d1"/>
<rect x="51.40" y="85.60" width="11.78" height="1.05" fill="#efc5c0"/>
<rect x="63.13" y="85.60" width="11.78" height="1.05" fill="#edbeb8"/>
<rect x="74.87" y="85.60" width="11.78" height="1.05" fill="#ecb9b2"/>
<rect x="51.40" y="86.60" width="11.78" height="1.05" fill="#f3d7d6"/>
<rect x="63.13" y="86.60" width="11.78" height="1.05" fill="#efc6c1"/>
<rect x="74.87" y="86.60" width="11.78" height="1.05" fill="#f0ccc9"/>
<rect x="51.40" y="87.60" width="11.78" height="1.05" fill="#f5e3e5"/>
<rect x="63.13" y="87.60" width="11.78" height="1.05" fill="#f4dcdc"/>
<rect x="74.87" y="87.60" width="11.78" height="1.05" fill="#f1d2d0"/>
<rect x="51.40" y="88.60" width="11.78" height="1.05" fill="#f5e2e3"/>
<rect x="63.13" y="88.60" width="11.78" height="1.05" fill="#f2d4d2"/>
<rect x="74.87" y="88.60" width="11.78" height="1.05" fill="#eec5c0"/>
<rect x="51.40" y="89.60" width="11.78" height="1.05" fill="#f1d2d0"/>
<rect x="63.13" y="89.60" width="11.78" height="1.05" fill="#f0cac6"/>
<rect x="74.87" y="89.60" width="11.78" height="1.05" fill="#efc6c1"/>
<rect x="51.40" y="90.60" width="11.78" height="1.05" fill="#edbeb8"/>
<rect x="63.13" y="90.60" width="11.78" height="1.05" fill="#f0cac6"/>
<rect x="74.87" y="90.60" width="11.78" height="1.05" fill="#ebb3ab"/>
<rect x="51.40" y="91.60" width="11.78" height="1.05" fill="#f2d5d3"/>
<rect x="63.13" y="91.60" width="11.78" height="1.05" fill="#ecb9b2"/>
<rect x="74.87" y="91.60" width="11.78" height="1.05" fill="#efc8c4"/>
<rect x="51.40" y="92.60" width="11.78" height="1.05" fill="#ebb5ae"/>
<rect x="63.13" y="92.60" width="11.78" height="1.05" fill="#ecbab3"/>
<rect x="74.87" y="92.60" width="11.78" height="1.05" fill="#e9ada4"/>
<rect x="51.40" y="93.60" width="11.78" height="1.05" fill="#f0cbc7"/>
<rect x="63.13" y="93.60" width="11.78" height="1.05" fill="#f1d1cf"/>
<rect x="74.87" y="93.60" width="11.78" height="1.05" fill="#eec1bb"/>
<rect x="51.40" y="94.60" width="11.78" height="1.05" fill="#f4dcdc"/>
<rect x="63.13" y="94.60" width="11.78" height="1.05" fill="#edbfb9"/>
<rect x="74.87" y="94.60" width="11.78" height="1.05" fill="#f0cbc7"/>
<rect x="51.40" y="95.60" width="11.78" height="1.05" fill="#f3d9d9"/>
<rect x="63.13" y="95.60" width="11.78" height="1.05" fill="#f2d3d1"/>
<rect x="74.87" y="95.60" width="11.78" height="1.05" fill="#f1d1cf"/>
<rect x="51.40" y="96.60" width="11.78" height="1.05" fill="#f1cfcd"/>
<rect x="63.13" y="96.60" width="11.78" height="1.05" fill="#f0ccc8"/>
<rect x="74.87" y="96.60" width="11.78" height="1.05" fill="#efc7c2"/>
<rect x="51.40" y="97.60" width="11.78" height="1.05" fill="#f4dfdf"/>
<rect x="63.13" y="97.60" width="11.78" height="1.05" fill="#f4dedf"/>
<rect x="74.87" y="97.60" width="11.78" height="1.05" fill="#f2d6d4"/>
<rect x="51.40" y="98.60" width="11.78" height="1.05" fill="#f5e0e1"/>
<rect x="63.13" y="98.60" width="11.78" height="1.05" fill="#f1d2d0"/>
<rect x="74.87" y="98.60" width="11.78" height="1.05" fill="#f3dad9"/>
<rect x="51.40" y="99.60" width="11.78" height="1.05" fill="#ebb6af"/>
<rect x="63.13" y="99.60" width="11.78" height="1.05" fill="#e9ada4"/>
<rect x="74.87" y="99.60" width="11.78" height="1.05" fill="#eab0a7"/>
<rect x="51.40" y="100.60" width="11.78" height="1.05" fill="#ebb7af"/>
<rect x="63.13" y="100.60" width="11.78" height="1.05" fill="#ebb5ad"/>
<rect x="74.87" y="100.60" width="11.78" height="1.05" fill="#edbeb8"/>
<rect x="51.40" y="101.60" width="11.78" height="1.05" fill="#f2d4d2"/>
<rect x="63.13" y="101.60" width="11.78" height="1.05" fill="#f2d3d1"/>
<rect x="74.87" y="101.60" width="11.78" height="1.05" fill="#f2d5d4"/>
<rect x="51.40" y="102.60" width="11.78" height="1.05" fill="#f6e5e7"/>
<rect x="63.13" y="102.60" width="11.78" height="1.05" fill="#f2d7d6"/>
<rect x="74.87" y="102.60" width="11.78" height="1.05" fill="#f3d9d9"/>
<rect x="51.40" y="103.60" width="11.78" height="1.05" fill="#edbfb9"/>
<rect x="63.13" y="103.60" width="11.78" height="1.05" fill="#edbdb7"/>
<rect x="74.87" y="103.60" width="11.78" height="1.05" fill="#f1cecb"/>
<rect x="51.40" y="104.60" width="11.78" height="1.05" fill="#f1cecb"/>
<rect x="63.13" y="104.60" width="11.78" height="1.05" fill="#efc6c2"/>
<rect x="74.87" y="104.60" width="11.78" height="1.05" fill="#edbcb5"/>
<rect x="51.40" y="105.60" width="11.78" height="1.05" fill="#f3d9d8"/>
<rect x="63.13" y="105.60" width="11.78" height="1.05" fill="#f1d0cd"/>
<rect x="74.87" y="105.60" width="11.78" height="1.05" fill="#f0ccc8"/>
<rect x="51.40" y="106.60" width="11.78" height="1.05" fill="#edbeb8"/>
<rect x="63.13" y="106.60" width="11.78" height="1.05" fill="#eec4bf"/>
<rect x="74.87" y="106.60" width="11.78" height="1.05" fill="#ecbbb5"/>
<rect x="51.40" y="107.60" width="11.78" height="1.05" fill="#f2d6d5"/>
<rect x="63.13" y="107.60" width="11.78" height="1.05" fill="#f1d1cf"/>
<rect x="74.87" y="107.60" width="11.78" height="1.05" fill="#f0cac6"/>
<rect x="51.40" y="108.60" width="11.78" height="1.05" fill="#f5e0e1"/>
<rect x="63.13" y="108.60" width="11.78" height="1.05" fill="#efc7c3"/>
<rect x="74.87" y="108.60" width="11.78" height="1.05" fill="#efc6c2"/>
<rect x="51.40" y="109.60" width="11.78" height="1.05" fill="#f2d6d4"/>
<rect x="63.13" y="109.60" width="11.78" height="1.05" fill="#eec3be"/>
<rect x="74.87" y="109.60" width="11.78" height="1.05" fill="#efc6c1"/>
<rect x="51.40" y="110.60" width="11.78" height="1.05" fill="#f3d8d7"/>
<rect x="63.13" y="110.60" width="11.78" height="1.05" fill="#f1cfcc"/>
<rect x="74.87" y="110.60" width="11.78" height="1.05" fill="#f2d5d4"/>
<rect x="51.40" y="111.60" width="11.78" height="1.05" fill="#f7f3f9"/>
<rect x="63.13" y="111.60" width="11.78" height="1.05" fill="#f5e1e2"/>
<rect x="74.87" y="111.60" width="11.78" height="1.05" fill="#f2d3d1"/>
<rect x="51.40" y="112.60" width="11.78" height="1.05" fill="#f5e3e4"/>
<rect x="63.13" y="112.60" width="11.78" height="1.05" fill="#f1d0cd"/>
<rect x="74.87" y="112.60" width="11.78" height="1.05" fill="#efc5c0"/>
<rect x="51.40" y="113.60" width="11.78" height="1.05" fill="#f3dad9"/>
<rect x="63.13" y="113.60" width="11.78" height="1.05" fill="#f6f1f9"/>
<rect x="74.87" y="113.60" width="11.78" height="1.05" fill="#f7f3f9"/>
<rect x="51.40" y="114.60" width="11.78" height="1.05" fill="#ece5f4"/>
<rect x="63.13" y="114.60" width="11.78" height="1.05" fill="#d6cdea"/>
<rect x="74.87" y="114.60" width="11.78" height="1.05" fill="#d5ccea"/>
<rect x="51.40" y="115.60" width="11.78" height="1.05" fill="#f7f3f9"/>
<rect x="63.13" y="115.60" width="11.78" height="1.05" fill="#e5def1"/>
<rect x="74.87" y="115.60" width="11.78" height="1.05" fill="#eee8f5"/>
<rect x="51.40" y="116.60" width="11.78" height="1.05" fill="#f7eaec"/>
<rect x="63.13" y="116.60" width="11.78" height="1.05" fill="#e9e2f3"/>
<rect x="74.87" y="116.60" width="11.78" height="1.05" fill="#e3dcf0"/>
<rect x="51.40" y="117.60" width="11.78" height="1.05" fill="#f8f3f7"/>
<rect x="63.13" y="117.60" width="11.78" height="1.05" fill="#dcd3ed"/>
<rect x="74.87" y="117.60" width="11.78" height="1.05" fill="#ebe5f4"/>
<rect x="51.40" y="118.60" width="11.78" height="1.05" fill="#f8f4f9"/>
<rect x="63.13" y="118.60" width="11.78" height="1.05" fill="#ddd5ed"/>
<rect x="74.87" y="118.60" width="11.78" height="1.05" fill="#dad1ec"/>
<rect x="51.40" y="119.60" width="11.78" height="1.05" fill="#f6e5e7"/>
<rect x="63.13" y="119.60" width="11.78" height="1.05" fill="#f8f0f4"/>
<rect x="74.87" y="119.60" width="11.78" height="1.05" fill="#f6f2f9"/>
<rect x="51.40" y="120.60" width="11.78" height="1.05" fill="#f7f3f9"/>
<rect x="63.13" y="120.60" width="11.78" height="1.05" fill="#e3dcf0"/>
<rect x="74.87" y="120.60" width="11.78" height="1.05" fill="#ede7f5"/>
<rect x="51.40" y="121.60" width="11.78" height="1.05" fill="#f0cdcb"/>
<rect x="63.13" y="121.60" width="11.78" height="1.05" fill="#f3d9d8"/>
<rect x="74.87" y="121.60" width="11.78" height="1.05" fill="#f0cdca"/>
<rect x="51.40" y="122.60" width="11.78" height="1.05" fill="#f5e0e1"/>
<rect x="63.13" y="122.60" width="11.78" height="1.05" fill="#f3eef7"/>
<rect x="74.87" y="122.60" width="11.78" height="1.05" fill="#f7edf0"/>
<rect x="51.40" y="123.60" width="11.78" height="1.05" fill="#f1d1ce"/>
<rect x="63.13" y="123.60" width="11.78" height="1.05" fill="#f6e8ea"/>
<rect x="74.87" y="123.60" width="11.78" height="1.05" fill="#f7edf0"/>
<rect x="51.40" y="124.60" width="11.78" height="1.05" fill="#f4dede"/>
<rect x="63.13" y="124.60" width="11.78" height="1.05" fill="#f5e2e4"/>
<rect x="74.87" y="124.60" width="11.78" height="1.05" fill="#f3d7d7"/>
<rect x="51.40" y="125.60" width="11.78" height="1.05" fill="#f3dbdb"/>
<rect x="63.13" y="125.60" width="11.78" height="1.05" fill="#f4e0e1"/>
<rect x="74.87" y="125.60" width="11.78" height="1.05" fill="#f5e1e3"/>
<rect x="51.40" y="126.60" width="11.78" height="1.05" fill="#f8eff3"/>
<rect x="63.13" y="126.60" width="11.78" height="1.05" fill="#f9f4f9"/>
<rect x="74.87" y="126.60" width="11.78" height="1.05" fill="#f5f0f8"/>
<rect x="51.40" y="127.60" width="11.78" height="1.05" fill="#f4dfe0"/>
<rect x="63.13" y="127.60" width="11.78" height="1.05" fill="#f5f0f8"/>
<rect x="74.87" y="127.60" width="11.78" height="1.05" fill="#f7ecef"/>
<rect x="51.40" y="128.60" width="11.78" height="1.05" fill="#f3d8d8"/>
<rect x="63.13" y="128.60" width="11.78" height="1.05" fill="#f7ecf0"/>
<rect x="74.87" y="128.60" width="11.78" height="1.05" fill="#f9f4f9"/>
<rect x="51.40" y="129.60" width="11.78" height="1.05" fill="#f0cbc8"/>
<rect x="63.13" y="129.60" width="11.78" height="1.05" fill="#f3dada"/>
<rect x="74.87" y="129.60" width="11.78" height="1.05" fill="#f1d2d1"/>
<rect x="51.40" y="130.60" width="11.78" height="1.05" fill="#f6e7ea"/>
<rect x="63.13" y="130.60" width="11.78" height="1.05" fill="#f8f2f7"/>
<rect x="74.87" y="130.60" width="11.78" height="1.05" fill="#f5e3e4"/>
<rect x="51.40" y="131.60" width="11.78" height="1.05" fill="#f5e2e3"/>
<rect x="63.13" y="131.60" width="11.78" height="1.05" fill="#f4dddd"/>
<rect x="74.87" y="131.60" width="11.78" height="1.05" fill="#f1d1cf"/>
<rect x="51.40" y="132.60" width="11.78" height="1.05" fill="#edbeb8"/>
<rect x="63.13" y="132.60" width="11.78" height="1.05" fill="#edbcb6"/>
<rect x="74.87" y="132.60" width="11.78" height="1.05" fill="#eab0a7"/>
<rect x="51.40" y="133.60" width="11.78" height="1.05" fill="#f3dbda"/>
<rect x="63.13" y="133.60" width="11.78" height="1.05" fill="#eec2bd"/>
<rect x="74.87" y="133.60" width="11.78" height="1.05" fill="#efc8c4"/>
<rect x="51.40" y="134.60" width="11.78" height="1.05" fill="#f1cecb"/>
<rect x="63.13" y="134.60" width="11.78" height="1.05" fill="#ebb5ae"/>
<rect x="74.87" y="134.60" width="11.78" height="1.05" fill="#eec3be"/>
<rect x="51.40" y="135.60" width="11.78" height="1.05" fill="#f0cdca"/>
<rect x="63.13" y="135.60" width="11.78" height="1.05" fill="#eaafa6"/>
<rect x="74.87" y="135.60" width="11.78" height="1.05" fill="#ecb8b0"/>
<rect x="51.40" y="136.60" width="11.78" height="1.05" fill="#f4e0e1"/>
<rect x="63.13" y="136.60" width="11.78" height="1.05" fill="#f2d4d3"/>
<rect x="74.87" y="136.60" width="11.78" height="1.05" fill="#f3dada"/>
<rect x="51.40" y="137.60" width="11.78" height="1.05" fill="#f1d1ce"/>
<rect x="63.13" y="137.60" width="11.78" height="1.05" fill="#f0ccc8"/>
<rect x="74.87" y="137.60" width="11.78" height="1.05" fill="#f4dcdc"/>
<rect x="51.40" y="138.60" width="11.78" height="1.05" fill="#f1cfcc"/>
<rect x="63.13" y="138.60" width="11.78" height="1.05" fill="#efc8c4"/>
<rect x="74.87" y="138.60" width="11.78" height="1.05" fill="#edbfb9"/>
<rect x="51.40" y="139.60" width="11.78" height="1.05" fill="#eec3be"/>
<rect x="63.13" y="139.60" width="11.78" height="1.05" fill="#efc7c3"/>
<rect x="74.87" y="139.60" width="11.78" height="1.05" fill="#efc7c3"/>
<rect x="51.40" y="140.60" width="11.78" height="1.05" fill="#ecbab3"/>
<rect x="63.13" y="140.60" width="11.78" height="1.05" fill="#ecb8b0"/>
<rect x="74.87" y="140.60" width="11.78" height="1.05" fill="#ecb9b2"/>
<rect x="51.40" y="141.60" width="11.78" height="1.05" fill="#edbeb8"/>
<rect x="63.13" y="141.60" width="11.78" height="1.05" fill="#efc6c2"/>
<rect x="74.87" y="141.60" width="11.78" height="1.05" fill="#edbdb7"/>
<rect x="51.40" y="142.60" width="11.78" height="1.05" fill="#efc7c2"/>
<rect x="63.13" y="142.60" width="11.78" height="1.05" fill="#edbdb7"/>
<rect x="74.87" y="142.60" width="11.78" height="1.05" fill="#ecb7b0"/>
<rect x="51.40" y="143.60" width="11.78" height="1.05" fill="#eec0bb"/>
<rect x="63.13" y="143.60" width="11.78" height="1.05" fill="#efc7c3"/>
<rect x="74.87" y="143.60" width="11.78" height="1.05" fill="#eec2bd"/>
<rect x="51.40" y="144.60" width="11.78" height="1.05" fill="#eec4bf"/>
<rect x="63.13" y="144.60" width="11.78" height="1.05" fill="#edbcb5"/>
<rect x="74.87" y="144.60" width="11.78" height="1.05" fill="#ebb3ab"/>
<rect x="51.40" y="145.60" width="11.78" height="1.05" fill="#f0cac7"/>
<rect x="63.13" y="145.60" width="11.78" height="1.05" fill="#efc7c3"/>
<rect x="74.87" y="145.60" width="11.78" height="1.05" fill="#f1cecb"/>
<rect x="51.40" y="146.60" width="11.78" height="1.05" fill="#edc0ba"/>
<rect x="63.13" y="146.60" width="11.78" height="1.05" fill="#eec1bb"/>
<rect x="74.87" y="146.60" width="11.78" height="1.05" fill="#efc6c2"/>
<rect x="51.40" y="147.60" width="11.78" height="1.05" fill="#f7edf1"/>
<rect x="63.13" y="147.60" width="11.78" height="1.05" fill="#f6e5e7"/>
<rect x="74.87" y="147.60" width="11.78" height="1.05" fill="#f4dcdc"/>
<rect x="51.40" y="148.60" width="11.78" height="1.05" fill="#e9ada4"/>
<rect x="63.13" y="148.60" width="11.78" height="1.05" fill="#e8a89e"/>
<rect x="74.87" y="148.60" width="11.78" height="1.05" fill="#e9ada4"/>
<rect x="51.40" y="149.60" width="11.78" height="1.05" fill="#f4dcdc"/>
<rect x="63.13" y="149.60" width="11.78" height="1.05" fill="#f2d6d4"/>
<rect x="74.87" y="149.60" width="11.78" height="1.05" fill="#ecbab3"/>
<rect x="51.40" y="150.60" width="11.78" height="1.05" fill="#f2d6d4"/>
<rect x="63.13" y="150.60" width="11.78" height="1.05" fill="#eec2bc"/>
<rect x="74.87" y="150.60" width="11.78" height="1.05" fill="#efc5c1"/>
<rect x="51.40" y="151.60" width="11.78" height="1.05" fill="#f1d2d0"/>
<rect x="63.13" y="151.60" width="11.78" height="1.05" fill="#f2d5d4"/>
<rect x="74.87" y="151.60" width="11.78" height="1.05" fill="#f3d9d8"/>
<rect x="51.40" y="152.60" width="11.78" height="1.05" fill="#efc6c1"/>
<rect x="63.13" y="152.60" width="11.78" height="1.05" fill="#eec3be"/>
<rect x="74.87" y="152.60" width="11.78" height="1.05" fill="#ecb9b2"/>
<rect x="51.4" y="52.4" width="35.2" height="101" fill="none" stroke="#4a4a4a" stroke-width="1.1"/>
<rect x="88.20" y="52.60" width="11.82" height="1.05" fill="#bdb0df"/>
<rect x="99.97" y="52.60" width="11.82" height="1.05" fill="#c7bce3"/>
<rect x="111.73" y="52.60" width="11.82" height="1.05" fill="#b1a2d9"/>
<rect x="88.20" y="53.60" width="11.82" height="1.05" fill="#c1b4e0"/>
<rect x="99.97" y="53.60" width="11.82" height="1.05" fill="#d0c6e7"/>
<rect x="111.73" y="53.60" width="11.82" height="1.05" fill="#beb1df"/>
<rect x="88.20" y="54.60" width="11.82" height="1.05" fill="#cdc2e6"/>
<rect x="99.97" y="54.60" width="11.82" height="1.05" fill="#e5ddf1"/>
<rect x="111.73" y="54.60" width="11.82" height="1.05" fill="#c1b4e0"/>
<rect x="88.20" y="55.60" width="11.82" height="1.05" fill="#c4b7e2"/>
<rect x="99.97" y="55.60" width="11.82" height="1.05" fill="#d2c8e8"/>
<rect x="111.73" y="55.60" width="11.82" height="1.05" fill="#bcaede"/>
<rect x="88.20" y="56.60" width="11.82" height="1.05" fill="#b0a0d9"/>
<rect x="99.97" y="56.60" width="11.82" height="1.05" fill="#c8bce4"/>
<rect x="111.73" y="56.60" width="11.82" height="1.05" fill="#aa99d6"/>
<rect x="88.20" y="57.60" width="11.82" height="1.05" fill="#bcaede"/>
<rect x="99.97" y="57.60" width="11.82" height="1.05" fill="#d2c8e8"/>
<rect x="111.73" y="57.60" width="11.82" height="1.05" fill="#b7a8dc"/>
<rect x="88.20" y="58.60" width="11.82" height="1.05" fill="#bdafdf"/>
<rect x="99.97" y="58.60" width="11.82" height="1.05" fill="#d1c7e8"/>
<rect x="111.73" y="58.60" width="11.82" height="1.05" fill="#b7a9dc"/>
<rect x="88.20" y="59.60" width="11.82" height="1.05" fill="#ad9cd7"/>
<rect x="99.97" y="59.60" width="11.82" height="1.05" fill="#c6bae3"/>
<rect x="111.73" y="59.60" width="11.82" height="1.05" fill="#b5a6db"/>
<rect x="88.20" y="60.60" width="11.82" height="1.05" fill="#bcaede"/>
<rect x="99.97" y="60.60" width="11.82" height="1.05" fill="#cdc2e6"/>
<rect x="111.73" y="60.60" width="11.82" height="1.05" fill="#b6a8dc"/>
<rect x="88.20" y="61.60" width="11.82" height="1.05" fill="#ad9dd7"/>
<rect x="99.97" y="61.60" width="11.82" height="1.05" fill="#b6a7db"/>
<rect x="111.73" y="61.60" width="11.82" height="1.05" fill="#af9fd8"/>
<rect x="88.20" y="62.60" width="11.82" height="1.05" fill="#c6bae3"/>
<rect x="99.97" y="62.60" width="11.82" height="1.05" fill="#c4b8e2"/>
<rect x="111.73" y="62.60" width="11.82" height="1.05" fill="#c3b7e1"/>
<rect x="88.20" y="63.60" width="11.82" height="1.05" fill="#baacdd"/>
<rect x="99.97" y="63.60" width="11.82" height="1.05" fill="#d8cfeb"/>
<rect x="111.73" y="63.60" width="11.82" height="1.05" fill="#bfb2e0"/>
<rect x="88.20" y="64.60" width="11.82" height="1.05" fill="#b4a5db"/>
<rect x="99.97" y="64.60" width="11.82" height="1.05" fill="#c4b7e2"/>
<rect x="111.73" y="64.60" width="11.82" height="1.05" fill="#b3a4da"/>
<rect x="88.20" y="65.60" width="11.82" height="1.05" fill="#dbd2ec"/>
<rect x="99.97" y="65.60" width="11.82" height="1.05" fill="#ece6f4"/>
<rect x="111.73" y="65.60" width="11.82" height="1.05" fill="#d3c9e9"/>
<rect x="88.20" y="66.60" width="11.82" height="1.05" fill="#b1a1d9"/>
<rect x="99.97" y="66.60" width="11.82" height="1.05" fill="#c0b3e0"/>
<rect x="111.73" y="66.60" width="11.82" height="1.05" fill="#b6a8dc"/>
<rect x="88.20" y="67.60" width="11.82" height="1.05" fill="#bdafdf"/>
<rect x="99.97" y="67.60" width="11.82" height="1.05" fill="#c2b5e1"/>
<rect x="111.73" y="67.60" width="11.82" height="1.05" fill="#baacdd"/>
<rect x="88.20" y="68.60" width="11.82" height="1.05" fill="#beb1df"/>
<rect x="99.97" y="68.60" width="11.82" height="1.05" fill="#cbbfe5"/>
<rect x="111.73" y="68.60" width="11.82" height="1.05" fill="#b2a2da"/>
<rect x="88.20" y="69.60" width="11.82" height="1.05" fill="#c4b8e2"/>
<rect x="99.97" y="69.60" width="11.82" height="1.05" fill="#d7cdea"/>
<rect x="111.73" y="69.60" width="11.82" height="1.05" fill="#beb1df"/>
<rect x="88.20" y="70.60" width="11.82" height="1.05" fill="#baacdd"/>
<rect x="99.97" y="70.60" width="11.82" height="1.05" fill="#cfc5e7"/>
<rect x="111.73" y="70.60" width="11.82" height="1.05" fill="#bcaede"/>
<rect x="88.20" y="71.60" width="11.82" height="1.05" fill="#ab9ad6"/>
<rect x="99.97" y="71.60" width="11.82" height="1.05" fill="#c7bbe3"/>
<rect x="111.73" y="71.60" width="11.82" height="1.05" fill="#b6a7db"/>
<rect x="88.20" y="72.60" width="11.82" height="1.05" fill="#f7eef2"/>
<rect x="99.97" y="72.60" width="11.82" height="1.05" fill="#f4e0e0"/>
<rect x="111.73" y="72.60" width="11.82" height="1.05" fill="#f6e6e8"/>
<rect x="88.20" y="73.60" width="11.82" height="1.05" fill="#f6e8ea"/>
<rect x="99.97" y="73.60" width="11.82" height="1.05" fill="#f7ebee"/>
<rect x="111.73" y="73.60" width="11.82" height="1.05" fill="#f7ecef"/>
<rect x="88.20" y="74.60" width="11.82" height="1.05" fill="#f6e7e9"/>
<rect x="99.97" y="74.60" width="11.82" height="1.05" fill="#f7ebee"/>
<rect x="111.73" y="74.60" width="11.82" height="1.05" fill="#f6e6e9"/>
<rect x="88.20" y="75.60" width="11.82" height="1.05" fill="#f6f1f9"/>
<rect x="99.97" y="75.60" width="11.82" height="1.05" fill="#f8eef2"/>
<rect x="111.73" y="75.60" width="11.82" height="1.05" fill="#f7eaed"/>
<rect x="88.20" y="76.60" width="11.82" height="1.05" fill="#f8eff3"/>
<rect x="99.97" y="76.60" width="11.82" height="1.05" fill="#f8f4fa"/>
<rect x="111.73" y="76.60" width="11.82" height="1.05" fill="#f7ecef"/>
<rect x="88.20" y="77.60" width="11.82" height="1.05" fill="#f3dbdb"/>
<rect x="99.97" y="77.60" width="11.82" height="1.05" fill="#f4dddd"/>
<rect x="111.73" y="77.60" width="11.82" height="1.05" fill="#f5e4e6"/>
<rect x="88.20" y="78.60" width="11.82" height="1.05" fill="#f5e3e5"/>
<rect x="99.97" y="78.60" width="11.82" height="1.05" fill="#f6e7e9"/>
<rect x="111.73" y="78.60" width="11.82" height="1.05" fill="#f4dede"/>
<rect x="88.20" y="79.60" width="11.82" height="1.05" fill="#f5e1e2"/>
<rect x="99.97" y="79.60" width="11.82" height="1.05" fill="#f8eff3"/>
<rect x="111.73" y="79.60" width="11.82" height="1.05" fill="#f6e8eb"/>
<rect x="88.20" y="80.60" width="11.82" height="1.05" fill="#f8eff3"/>
<rect x="99.97" y="80.60" width="11.82" height="1.05" fill="#f4dedf"/>
<rect x="111.73" y="80.60" width="11.82" height="1.05" fill="#f4dfe0"/>
<rect x="88.20" y="81.60" width="11.82" height="1.05" fill="#f6e7e9"/>
<rect x="99.97" y="81.60" width="11.82" height="1.05" fill="#f5e5e7"/>
<rect x="111.73" y="81.60" width="11.82" height="1.05" fill="#f4dede"/>
<rect x="88.20" y="82.60" width="11.82" height="1.05" fill="#d6ccea"/>
<rect x="99.97" y="82.60" width="11.82" height="1.05" fill="#ddd4ed"/>
<rect x="111.73" y="82.60" width="11.82" height="1.05" fill="#cbc0e5"/>
<rect x="88.20" y="83.60" width="11.82" height="1.05" fill="#b5a6db"/>
<rect x="99.97" y="83.60" width="11.82" height="1.05" fill="#ccc1e6"/>
<rect x="111.73" y="83.60" width="11.82" height="1.05" fill="#cbc0e5"/>
<rect x="88.20" y="84.60" width="11.82" height="1.05" fill="#bdafdf"/>
<rect x="99.97" y="84.60" width="11.82" height="1.05" fill="#cbbfe5"/>
<rect x="111.73" y="84.60" width="11.82" height="1.05" fill="#bfb2e0"/>
<rect x="88.20" y="85.60" width="11.82" height="1.05" fill="#b2a3da"/>
<rect x="99.97" y="85.60" width="11.82" height="1.05" fill="#b7a9dc"/>
<rect x="111.73" y="85.60" width="11.82" height="1.05" fill="#c0b3e0"/>
<rect x="88.20" y="86.60" width="11.82" height="1.05" fill="#c2b6e1"/>
<rect x="99.97" y="86.60" width="11.82" height="1.05" fill="#d0c5e7"/>
<rect x="111.73" y="86.60" width="11.82" height="1.05" fill="#c6bae3"/>
<rect x="88.20" y="87.60" width="11.82" height="1.05" fill="#ddd4ed"/>
<rect x="99.97" y="87.60" width="11.82" height="1.05" fill="#d2c8e8"/>
<rect x="111.73" y="87.60" width="11.82" height="1.05" fill="#cec3e6"/>
<rect x="88.20" y="88.60" width="11.82" height="1.05" fill="#bbaede"/>
<rect x="99.97" y="88.60" width="11.82" height="1.05" fill="#d4cae9"/>
<rect x="111.73" y="88.60" width="11.82" height="1.05" fill="#b0a0d9"/>
<rect x="88.20" y="89.60" width="11.82" height="1.05" fill="#c3b6e1"/>
<rect x="99.97" y="89.60" width="11.82" height="1.05" fill="#d9d0ec"/>
<rect x="111.73" y="89.60" width="11.82" height="1.05" fill="#cfc4e7"/>
<rect x="88.20" y="90.60" width="11.82" height="1.05" fill="#ccc1e5"/>
<rect x="99.97" y="90.60" width="11.82" height="1.05" fill="#c7bbe3"/>
<rect x="111.73" y="90.60" width="11.82" height="1.05" fill="#c4b8e2"/>
<rect x="88.20" y="91.60" width="11.82" height="1.05" fill="#c4b8e2"/>
<rect x="99.97" y="91.60" width="11.82" height="1.05" fill="#ccc1e6"/>
<rect x="111.73" y="91.60" width="11.82" height="1.05" fill="#c4b7e2"/>
<rect x="88.20" y="92.60" width="11.82" height="1.05" fill="#cbc0e5"/>
<rect x="99.97" y="92.60" width="11.82" height="1.05" fill="#e0d8ef"/>
<rect x="111.73" y="92.60" width="11.82" height="1.05" fill="#c7bbe3"/>
<rect x="88.20" y="93.60" width="11.82" height="1.05" fill="#bbaede"/>
<rect x="99.97" y="93.60" width="11.82" height="1.05" fill="#c2b5e1"/>
<rect x="111.73" y="93.60" width="11.82" height="1.05" fill="#b4a5db"/>
<rect x="88.20" y="94.60" width="11.82" height="1.05" fill="#c0b3e0"/>
<rect x="99.97" y="94.60" width="11.82" height="1.05" fill="#c2b5e1"/>
<rect x="111.73" y="94.60" width="11.82" height="1.05" fill="#b6a8dc"/>
<rect x="88.20" y="95.60" width="11.82" height="1.05" fill="#cec4e7"/>
<rect x="99.97" y="95.60" width="11.82" height="1.05" fill="#d3c9e9"/>
<rect x="111.73" y="95.60" width="11.82" height="1.05" fill="#cabee4"/>
<rect x="88.20" y="96.60" width="11.82" height="1.05" fill="#bdb0df"/>
<rect x="99.97" y="96.60" width="11.82" height="1.05" fill="#c1b4e1"/>
<rect x="111.73" y="96.60" width="11.82" height="1.05" fill="#bbadde"/>
<rect x="88.20" y="97.60" width="11.82" height="1.05" fill="#baacdd"/>
<rect x="99.97" y="97.60" width="11.82" height="1.05" fill="#c2b6e1"/>
<rect x="111.73" y="97.60" width="11.82" height="1.05" fill="#b8aadc"/>
<rect x="88.20" y="98.60" width="11.82" height="1.05" fill="#bfb2df"/>
<rect x="99.97" y="98.60" width="11.82" height="1.05" fill="#d1c6e8"/>
<rect x="111.73" y="98.60" width="11.82" height="1.05" fill="#bdafdf"/>
<rect x="88.20" y="99.60" width="11.82" height="1.05" fill="#bbaede"/>
<rect x="99.97" y="99.60" width="11.82" height="1.05" fill="#bbadde"/>
<rect x="111.73" y="99.60" width="11.82" height="1.05" fill="#b1a1d9"/>
<rect x="88.20" y="100.60" width="11.82" height="1.05" fill="#bbadde"/>
<rect x="99.97" y="100.60" width="11.82" height="1.05" fill="#b9abdd"/>
<rect x="111.73" y="100.60" width="11.82" height="1.05" fill="#c4b8e2"/>
<rect x="88.20" y="101.60" width="11.82" height="1.05" fill="#c5b9e2"/>
<rect x="99.97" y="101.60" width="11.82" height="1.05" fill="#d1c6e8"/>
<rect x="111.73" y="101.60" width="11.82" height="1.05" fill="#cfc5e7"/>
<rect x="88.20" y="102.60" width="11.82" height="1.05" fill="#ab9bd7"/>
<rect x="99.97" y="102.60" width="11.82" height="1.05" fill="#b0a1d9"/>
<rect x="111.73" y="102.60" width="11.82" height="1.05" fill="#ac9cd7"/>
<rect x="88.20" y="103.60" width="11.82" height="1.05" fill="#b6a7db"/>
<rect x="99.97" y="103.60" width="11.82" height="1.05" fill="#b7a8dc"/>
<rect x="111.73" y="103.60" width="11.82" height="1.05" fill="#afa0d8"/>
<rect x="88.20" y="104.60" width="11.82" height="1.05" fill="#b4a5db"/>
<rect x="99.97" y="104.60" width="11.82" height="1.05" fill="#c7bbe3"/>
<rect x="111.73" y="104.60" width="11.82" height="1.05" fill="#b6a7db"/>
<rect x="88.20" y="105.60" width="11.82" height="1.05" fill="#bfb2e0"/>
<rect x="99.97" y="105.60" width="11.82" height="1.05" fill="#cabee4"/>
<rect x="111.73" y="105.60" width="11.82" height="1.05" fill="#c0b3e0"/>
<rect x="88.20" y="106.60" width="11.82" height="1.05" fill="#d1c7e8"/>
<rect x="99.97" y="106.60" width="11.82" height="1.05" fill="#cdc2e6"/>
<rect x="111.73" y="106.60" width="11.82" height="1.05" fill="#c9bee4"/>
<rect x="88.20" y="107.60" width="11.82" height="1.05" fill="#d6cdea"/>
<rect x="99.97" y="107.60" width="11.82" height="1.05" fill="#d6ccea"/>
<rect x="111.73" y="107.60" width="11.82" height="1.05" fill="#cfc5e7"/>
<rect x="88.20" y="108.60" width="11.82" height="1.05" fill="#c7bbe3"/>
<rect x="99.97" y="108.60" width="11.82" height="1.05" fill="#c8bde4"/>
<rect x="111.73" y="108.60" width="11.82" height="1.05" fill="#c0b3e0"/>
<rect x="88.20" y="109.60" width="11.82" height="1.05" fill="#d2c8e8"/>
<rect x="99.97" y="109.60" width="11.82" height="1.05" fill="#dcd3ed"/>
<rect x="111.73" y="109.60" width="11.82" height="1.05" fill="#cdc2e6"/>
<rect x="88.20" y="110.60" width="11.82" height="1.05" fill="#baacdd"/>
<rect x="99.97" y="110.60" width="11.82" height="1.05" fill="#bdb0df"/>
<rect x="111.73" y="110.60" width="11.82" height="1.05" fill="#bbadde"/>
<rect x="88.20" y="111.60" width="11.82" height="1.05" fill="#ab9bd7"/>
<rect x="99.97" y="111.60" width="11.82" height="1.05" fill="#c0b3e0"/>
<rect x="111.73" y="111.60" width="11.82" height="1.05" fill="#b4a5da"/>
<rect x="88.20" y="112.60" width="11.82" height="1.05" fill="#d3c9e9"/>
<rect x="99.97" y="112.60" width="11.82" height="1.05" fill="#d5cbe9"/>
<rect x="111.73" y="112.60" width="11.82" height="1.05" fill="#cabfe5"/>
<rect x="88.20" y="113.60" width="11.82" height="1.05" fill="#cabee5"/>
<rect x="99.97" y="113.60" width="11.82" height="1.05" fill="#cbc0e5"/>
<rect x="111.73" y="113.60" width="11.82" height="1.05" fill="#c4b7e2"/>
<rect x="88.20" y="114.60" width="11.82" height="1.05" fill="#ccc1e6"/>
<rect x="99.97" y="114.60" width="11.82" height="1.05" fill="#d6ccea"/>
<rect x="111.73" y="114.60" width="11.82" height="1.05" fill="#d4cae9"/>
<rect x="88.20" y="115.60" width="11.82" height="1.05" fill="#c1b4e0"/>
<rect x="99.97" y="115.60" width="11.82" height="1.05" fill="#d6ccea"/>
<rect x="111.73" y="115.60" width="11.82" height="1.05" fill="#c1b4e1"/>
<rect x="88.20" y="116.60" width="11.82" height="1.05" fill="#c7bbe3"/>
<rect x="99.97" y="116.60" width="11.82" height="1.05" fill="#d7cdea"/>
<rect x="111.73" y="116.60" width="11.82" height="1.05" fill="#b7a8dc"/>
<rect x="88.20" y="117.60" width="11.82" height="1.05" fill="#beb1df"/>
<rect x="99.97" y="117.60" width="11.82" height="1.05" fill="#c1b4e0"/>
<rect x="111.73" y="117.60" width="11.82" height="1.05" fill="#c8bce4"/>
<rect x="88.20" y="118.60" width="11.82" height="1.05" fill="#c7bce3"/>
<rect x="99.97" y="118.60" width="11.82" height="1.05" fill="#d4cae9"/>
<rect x="111.73" y="118.60" width="11.82" height="1.05" fill="#c2b5e1"/>
<rect x="88.20" y="119.60" width="11.82" height="1.05" fill="#bfb2e0"/>
<rect x="99.97" y="119.60" width="11.82" height="1.05" fill="#d4cae9"/>
<rect x="111.73" y="119.60" width="11.82" height="1.05" fill="#ae9ed8"/>
<rect x="88.20" y="120.60" width="11.82" height="1.05" fill="#d1c7e8"/>
<rect x="99.97" y="120.60" width="11.82" height="1.05" fill="#d4cae9"/>
<rect x="111.73" y="120.60" width="11.82" height="1.05" fill="#d1c7e8"/>
<rect x="88.20" y="121.60" width="11.82" height="1.05" fill="#f7edf0"/>
<rect x="99.97" y="121.60" width="11.82" height="1.05" fill="#f7ebee"/>
<rect x="111.73" y="121.60" width="11.82" height="1.05" fill="#f8f4fa"/>
<rect x="88.20" y="122.60" width="11.82" height="1.05" fill="#f6e8ea"/>
<rect x="99.97" y="122.60" width="11.82" height="1.05" fill="#f4ddde"/>
<rect x="111.73" y="122.60" width="11.82" height="1.05" fill="#f6e6e8"/>
<rect x="88.20" y="123.60" width="11.82" height="1.05" fill="#e6dff1"/>
<rect x="99.97" y="123.60" width="11.82" height="1.05" fill="#f4eff8"/>
<rect x="111.73" y="123.60" width="11.82" height="1.05" fill="#f2edf7"/>
<rect x="88.20" y="124.60" width="11.82" height="1.05" fill="#f7ebee"/>
<rect x="99.97" y="124.60" width="11.82" height="1.05" fill="#f8eff2"/>
<rect x="111.73" y="124.60" width="11.82" height="1.05" fill="#f7f2f9"/>
<rect x="88.20" y="125.60" width="11.82" height="1.05" fill="#f7ebed"/>
<rect x="99.97" y="125.60" width="11.82" height="1.05" fill="#f8f2f6"/>
<rect x="111.73" y="125.60" width="11.82" height="1.05" fill="#f3eef7"/>
<rect x="88.20" y="126.60" width="11.82" height="1.05" fill="#f7f3f9"/>
<rect x="99.97" y="126.60" width="11.82" height="1.05" fill="#f9f4f9"/>
<rect x="111.73" y="126.60" width="11.82" height="1.05" fill="#e9e3f3"/>
<rect x="88.20" y="127.60" width="11.82" height="1.05" fill="#f7ecef"/>
<rect x="99.97" y="127.60" width="11.82" height="1.05" fill="#f5e5e7"/>
<rect x="111.73" y="127.60" width="11.82" height="1.05" fill="#f6f2f9"/>
<rect x="88.20" y="128.60" width="11.82" height="1.05" fill="#f7ecef"/>
<rect x="99.97" y="128.60" width="11.82" height="1.05" fill="#f5e1e2"/>
<rect x="111.73" y="128.60" width="11.82" height="1.05" fill="#f7edf1"/>
<rect x="88.20" y="129.60" width="11.82" height="1.05" fill="#f2edf7"/>
<rect x="99.97" y="129.60" width="11.82" height="1.05" fill="#f1ebf6"/>
<rect x="111.73" y="129.60" width="11.82" height="1.05" fill="#ede7f5"/>
<rect x="88.20" y="130.60" width="11.82" height="1.05" fill="#f1ecf7"/>
<rect x="99.97" y="130.60" width="11.82" height="1.05" fill="#f7f3f9"/>
<rect x="111.73" y="130.60" width="11.82" height="1.05" fill="#f8f0f4"/>
<rect x="88.20" y="131.60" width="11.82" height="1.05" fill="#d0c6e7"/>
<rect x="99.97" y="131.60" width="11.82" height="1.05" fill="#d6ccea"/>
<rect x="111.73" y="131.60" width="11.82" height="1.05" fill="#c7bbe3"/>
<rect x="88.20" y="132.60" width="11.82" height="1.05" fill="#ccc1e5"/>
<rect x="99.97" y="132.60" width="11.82" height="1.05" fill="#d1c7e8"/>
<rect x="111.73" y="132.60" width="11.82" height="1.05" fill="#cec3e6"/>
<rect x="88.20" y="133.60" width="11.82" height="1.05" fill="#c9bde4"/>
<rect x="99.97" y="133.60" width="11.82" height="1.05" fill="#c7bce3"/>
<rect x="111.73" y="133.60" width="11.82" height="1.05" fill="#cabee4"/>
<rect x="88.20" y="134.60" width="11.82" height="1.05" fill="#beb1df"/>
<rect x="99.97" y="134.60" width="11.82" height="1.05" fill="#b9abdd"/>
<rect x="111.73" y="134.60" width="11.82" height="1.05" fill="#b3a4da"/>
<rect x="88.20" y="135.60" width="11.82" height="1.05" fill="#b6a7db"/>
<rect x="99.97" y="135.60" width="11.82" height="1.05" fill="#bbaede"/>
<rect x="111.73" y="135.60" width="11.82" height="1.05" fill="#beb0df"/>
<rect x="88.20" y="136.60" width="11.82" height="1.05" fill="#c2b5e1"/>
<rect x="99.97" y="136.60" width="11.82" height="1.05" fill="#c5b9e2"/>
<rect x="111.73" y="136.60" width="11.82" height="1.05" fill="#c7bbe3"/>
<rect x="88.20" y="137.60" width="11.82" height="1.05" fill="#bbadde"/>
<rect x="99.97" y="137.60" width="11.82" height="1.05" fill="#cdc2e6"/>
<rect x="111.73" y="137.60" width="11.82" height="1.05" fill="#beb1df"/>
<rect x="88.20" y="138.60" width="11.82" height="1.05" fill="#c4b8e2"/>
<rect x="99.97" y="138.60" width="11.82" height="1.05" fill="#ccc1e6"/>
<rect x="111.73" y="138.60" width="11.82" height="1.05" fill="#c3b6e1"/>
<rect x="88.20" y="139.60" width="11.82" height="1.05" fill="#baacdd"/>
<rect x="99.97" y="139.60" width="11.82" height="1.05" fill="#c1b4e0"/>
<rect x="111.73" y="139.60" width="11.82" height="1.05" fill="#aa99d6"/>
<rect x="88.20" y="140.60" width="11.82" height="1.05" fill="#cfc4e7"/>
<rect x="99.97" y="140.60" width="11.82" height="1.05" fill="#d1c7e8"/>
<rect x="111.73" y="140.60" width="11.82" height="1.05" fill="#cdc2e6"/>
<rect x="88.20" y="141.60" width="11.82" height="1.05" fill="#c4b7e2"/>
<rect x="99.97" y="141.60" width="11.82" height="1.05" fill="#c4b8e2"/>
<rect x="111.73" y="141.60" width="11.82" height="1.05" fill="#bcafde"/>
<rect x="88.20" y="142.60" width="11.82" height="1.05" fill="#af9fd8"/>
<rect x="99.97" y="142.60" width="11.82" height="1.05" fill="#beb0df"/>
<rect x="111.73" y="142.60" width="11.82" height="1.05" fill="#b5a6db"/>
<rect x="88.20" y="143.60" width="11.82" height="1.05" fill="#d3c9e9"/>
<rect x="99.97" y="143.60" width="11.82" height="1.05" fill="#d4cbe9"/>
<rect x="111.73" y="143.60" width="11.82" height="1.05" fill="#d3c9e9"/>
<rect x="88.20" y="144.60" width="11.82" height="1.05" fill="#d0c5e7"/>
<rect x="99.97" y="144.60" width="11.82" height="1.05" fill="#d9d0eb"/>
<rect x="111.73" y="144.60" width="11.82" height="1.05" fill="#c9bde4"/>
<rect x="88.20" y="145.60" width="11.82" height="1.05" fill="#b8aadc"/>
<rect x="99.97" y="145.60" width="11.82" height="1.05" fill="#c4b8e2"/>
<rect x="111.73" y="145.60" width="11.82" height="1.05" fill="#b5a6db"/>
<rect x="88.20" y="146.60" width="11.82" height="1.05" fill="#d0c5e7"/>
<rect x="99.97" y="146.60" width="11.82" height="1.05" fill="#d9d0eb"/>
<rect x="111.73" y="146.60" width="11.82" height="1.05" fill="#cbc0e5"/>
<rect x="88.20" y="147.60" width="11.82" height="1.05" fill="#b8aadd"/>
<rect x="99.97" y="147.60" width="11.82" height="1.05" fill="#c5b9e2"/>
<rect x="111.73" y="147.60" width="11.82" height="1.05" fill="#c4b7e2"/>
<rect x="88.20" y="148.60" width="11.82" height="1.05" fill="#dcd4ed"/>
<rect x="99.97" y="148.60" width="11.82" height="1.05" fill="#e1d9ef"/>
<rect x="111.73" y="148.60" width="11.82" height="1.05" fill="#d8cfeb"/>
<rect x="88.20" y="149.60" width="11.82" height="1.05" fill="#d7cdea"/>
<rect x="99.97" y="149.60" width="11.82" height="1.05" fill="#dcd3ed"/>
<rect x="111.73" y="149.60" width="11.82" height="1.05" fill="#c3b7e2"/>
<rect x="88.20" y="150.60" width="11.82" height="1.05" fill="#d2c8e8"/>
<rect x="99.97" y="150.60" width="11.82" height="1.05" fill="#d5ccea"/>
<rect x="111.73" y="150.60" width="11.82" height="1.05" fill="#d1c7e8"/>
<rect x="88.20" y="151.60" width="11.82" height="1.05" fill="#c9bde4"/>
<rect x="99.97" y="151.60" width="11.82" height="1.05" fill="#c7bbe3"/>
<rect x="111.73" y="151.60" width="11.82" height="1.05" fill="#c8bce4"/>
<rect x="88.20" y="152.60" width="11.82" height="1.05" fill="#ccc1e5"/>
<rect x="99.97" y="152.60" width="11.82" height="1.05" fill="#cbbfe5"/>
<rect x="111.73" y="152.60" width="11.82" height="1.05" fill="#cdc2e6"/>
<rect x="88.2" y="52.4" width="35.3" height="101" fill="none" stroke="#4a4a4a" stroke-width="1.1"/>
<rect x="125.30" y="52.60" width="11.72" height="1.05" fill="#ded6ee"/>
<rect x="136.97" y="52.60" width="11.72" height="1.05" fill="#f7f2f9"/>
<rect x="148.63" y="52.60" width="11.72" height="1.05" fill="#e2daef"/>
<rect x="125.30" y="53.60" width="11.72" height="1.05" fill="#d2c8e8"/>
<rect x="136.97" y="53.60" width="11.72" height="1.05" fill="#e4ddf0"/>
<rect x="148.63" y="53.60" width="11.72" height="1.05" fill="#d7ceeb"/>
<rect x="125.30" y="54.60" width="11.72" height="1.05" fill="#f9f3f7"/>
<rect x="136.97" y="54.60" width="11.72" height="1.05" fill="#f4dcdd"/>
<rect x="148.63" y="54.60" width="11.72" height="1.05" fill="#f4eff8"/>
<rect x="125.30" y="55.60" width="11.72" height="1.05" fill="#dbd2ec"/>
<rect x="136.97" y="55.60" width="11.72" height="1.05" fill="#eae3f3"/>
<rect x="148.63" y="55.60" width="11.72" height="1.05" fill="#dcd4ed"/>
<rect x="125.30" y="56.60" width="11.72" height="1.05" fill="#c2b6e1"/>
<rect x="136.97" y="56.60" width="11.72" height="1.05" fill="#d3c8e8"/>
<rect x="148.63" y="56.60" width="11.72" height="1.05" fill="#cabfe5"/>
<rect x="125.30" y="57.60" width="11.72" height="1.05" fill="#e2dbf0"/>
<rect x="136.97" y="57.60" width="11.72" height="1.05" fill="#f7ecf0"/>
<rect x="148.63" y="57.60" width="11.72" height="1.05" fill="#ece6f4"/>
<rect x="125.30" y="58.60" width="11.72" height="1.05" fill="#d2c8e8"/>
<rect x="136.97" y="58.60" width="11.72" height="1.05" fill="#e6dff1"/>
<rect x="148.63" y="58.60" width="11.72" height="1.05" fill="#e2dbf0"/>
<rect x="125.30" y="59.60" width="11.72" height="1.05" fill="#d8cfeb"/>
<rect x="136.97" y="59.60" width="11.72" height="1.05" fill="#f9f3f7"/>
<rect x="148.63" y="59.60" width="11.72" height="1.05" fill="#e1d9ef"/>
<rect x="125.30" y="60.60" width="11.72" height="1.05" fill="#cec3e6"/>
<rect x="136.97" y="60.60" width="11.72" height="1.05" fill="#d6ccea"/>
<rect x="148.63" y="60.60" width="11.72" height="1.05" fill="#d5cbe9"/>
<rect x="125.30" y="61.60" width="11.72" height="1.05" fill="#ddd5ed"/>
<rect x="136.97" y="61.60" width="11.72" height="1.05" fill="#f2edf7"/>
<rect x="148.63" y="61.60" width="11.72" height="1.05" fill="#e6dff1"/>
<rect x="125.30" y="62.60" width="11.72" height="1.05" fill="#ddd4ed"/>
<rect x="136.97" y="62.60" width="11.72" height="1.05" fill="#f2edf7"/>
<rect x="148.63" y="62.60" width="11.72" height="1.05" fill="#e7e0f2"/>
<rect x="125.30" y="63.60" width="11.72" height="1.05" fill="#d8cfeb"/>
<rect x="136.97" y="63.60" width="11.72" height="1.05" fill="#f2edf7"/>
<rect x="148.63" y="63.60" width="11.72" height="1.05" fill="#d8cfeb"/>
<rect x="125.30" y="64.60" width="11.72" height="1.05" fill="#d7ceeb"/>
<rect x="136.97" y="64.60" width="11.72" height="1.05" fill="#f0eaf6"/>
<rect x="148.63" y="64.60" width="11.72" height="1.05" fill="#e3dbf0"/>
<rect x="125.30" y="65.60" width="11.72" height="1.05" fill="#cdc2e6"/>
<rect x="136.97" y="65.60" width="11.72" height="1.05" fill="#e9e3f3"/>
<rect x="148.63" y="65.60" width="11.72" height="1.05" fill="#dad2ec"/>
<rect x="125.30" y="66.60" width="11.72" height="1.05" fill="#ddd5ed"/>
<rect x="136.97" y="66.60" width="11.72" height="1.05" fill="#e5def1"/>
<rect x="148.63" y="66.60" width="11.72" height="1.05" fill="#e9e2f3"/>
<rect x="125.30" y="67.60" width="11.72" height="1.05" fill="#cfc5e7"/>
<rect x="136.97" y="67.60" width="11.72" height="1.05" fill="#e9e2f3"/>
<rect x="148.63" y="67.60" width="11.72" height="1.05" fill="#ded5ee"/>
<rect x="125.30" y="68.60" width="11.72" height="1.05" fill="#dcd4ed"/>
<rect x="136.97" y="68.60" width="11.72" height="1.05" fill="#f7f2f9"/>
<rect x="148.63" y="68.60" width="11.72" height="1.05" fill="#dcd3ed"/>
<rect x="125.30" y="69.60" width="11.72" height="1.05" fill="#d7cdea"/>
<rect x="136.97" y="69.60" width="11.72" height="1.05" fill="#ece6f4"/>
<rect x="148.63" y="69.60" width="11.72" height="1.05" fill="#e4dcf0"/>
<rect x="125.30" y="70.60" width="11.72" height="1.05" fill="#eee8f5"/>
<rect x="136.97" y="70.60" width="11.72" height="1.05" fill="#f9f4f8"/>
<rect x="148.63" y="70.60" width="11.72" height="1.05" fill="#f8f4fa"/>
<rect x="125.30" y="71.60" width="11.72" height="1.05" fill="#d2c8e8"/>
<rect x="136.97" y="71.60" width="11.72" height="1.05" fill="#e6dff1"/>
<rect x="148.63" y="71.60" width="11.72" height="1.05" fill="#dcd4ed"/>
<rect x="125.30" y="72.60" width="11.72" height="1.05" fill="#edbdb7"/>
<rect x="136.97" y="72.60" width="11.72" height="1.05" fill="#eec2bd"/>
<rect x="148.63" y="72.60" width="11.72" height="1.05" fill="#eec4bf"/>
<rect x="125.30" y="73.60" width="11.72" height="1.05" fill="#eec3be"/>
<rect x="136.97" y="73.60" width="11.72" height="1.05" fill="#f1cfcd"/>
<rect x="148.63" y="73.60" width="11.72" height="1.05" fill="#f1cfcc"/>
<rect x="125.30" y="74.60" width="11.72" height="1.05" fill="#f0ccc9"/>
<rect x="136.97" y="74.60" width="11.72" height="1.05" fill="#f0cbc8"/>
<rect x="148.63" y="74.60" width="11.72" height="1.05" fill="#f2d6d5"/>
<rect x="125.30" y="75.60" width="11.72" height="1.05" fill="#edbcb6"/>
<rect x="136.97" y="75.60" width="11.72" height="1.05" fill="#eec4c0"/>
<rect x="148.63" y="75.60" width="11.72" height="1.05" fill="#ecbab3"/>
<rect x="125.30" y="76.60" width="11.72" height="1.05" fill="#f0cac7"/>
<rect x="136.97" y="76.60" width="11.72" height="1.05" fill="#f0cdca"/>
<rect x="148.63" y="76.60" width="11.72" height="1.05" fill="#f2d6d5"/>
<rect x="125.30" y="77.60" width="11.72" height="1.05" fill="#eec1bc"/>
<rect x="136.97" y="77.60" width="11.72" height="1.05" fill="#f0c9c6"/>
<rect x="148.63" y="77.60" width="11.72" height="1.05" fill="#f0cac7"/>
<rect x="125.30" y="78.60" width="11.72" height="1.05" fill="#ebb3ab"/>
<rect x="136.97" y="78.60" width="11.72" height="1.05" fill="#eec2bd"/>
<rect x="148.63" y="78.60" width="11.72" height="1.05" fill="#edbeb8"/>
<rect x="125.30" y="79.60" width="11.72" height="1.05" fill="#edbcb6"/>
<rect x="136.97" y="79.60" width="11.72" height="1.05" fill="#efc5c0"/>
<rect x="148.63" y="79.60" width="11.72" height="1.05" fill="#f0cdca"/>
<rect x="125.30" y="80.60" width="11.72" height="1.05" fill="#ebb7af"/>
<rect x="136.97" y="80.60" width="11.72" height="1.05" fill="#f0ccc9"/>
<rect x="148.63" y="80.60" width="11.72" height="1.05" fill="#f2d4d3"/>
<rect x="125.30" y="81.60" width="11.72" height="1.05" fill="#eec3be"/>
<rect x="136.97" y="81.60" width="11.72" height="1.05" fill="#eec3be"/>
<rect x="148.63" y="81.60" width="11.72" height="1.05" fill="#efc6c1"/>
<rect x="125.30" y="82.60" width="11.72" height="1.05" fill="#cfc5e7"/>
<rect x="136.97" y="82.60" width="11.72" height="1.05" fill="#e6dff1"/>
<rect x="148.63" y="82.60" width="11.72" height="1.05" fill="#d4cae9"/>
<rect x="125.30" y="83.60" width="11.72" height="1.05" fill="#d6cdea"/>
<rect x="136.97" y="83.60" width="11.72" height="1.05" fill="#e4dcf0"/>
<rect x="148.63" y="83.60" width="11.72" height="1.05" fill="#d9cfeb"/>
<rect x="125.30" y="84.60" width="11.72" height="1.05" fill="#d0c6e7"/>
<rect x="136.97" y="84.60" width="11.72" height="1.05" fill="#e5def1"/>
<rect x="148.63" y="84.60" width="11.72" height="1.05" fill="#d9d0eb"/>
<rect x="125.30" y="85.60" width="11.72" height="1.05" fill="#d9cfeb"/>
<rect x="136.97" y="85.60" width="11.72" height="1.05" fill="#e7e0f2"/>
<rect x="148.63" y="85.60" width="11.72" height="1.05" fill="#e0d8ef"/>
<rect x="125.30" y="86.60" width="11.72" height="1.05" fill="#e4ddf0"/>
<rect x="136.97" y="86.60" width="11.72" height="1.05" fill="#efeaf6"/>
<rect x="148.63" y="86.60" width="11.72" height="1.05" fill="#dbd2ec"/>
<rect x="125.30" y="87.60" width="11.72" height="1.05" fill="#d4cae9"/>
<rect x="136.97" y="87.60" width="11.72" height="1.05" fill="#e5ddf1"/>
<rect x="148.63" y="87.60" width="11.72" height="1.05" fill="#ded5ee"/>
<rect x="125.30" y="88.60" width="11.72" height="1.05" fill="#e2daef"/>
<rect x="136.97" y="88.60" width="11.72" height="1.05" fill="#f9f4f9"/>
<rect x="148.63" y="88.60" width="11.72" height="1.05" fill="#e7e0f2"/>
<rect x="125.30" y="89.60" width="11.72" height="1.05" fill="#c8bde4"/>
<rect x="136.97" y="89.60" width="11.72" height="1.05" fill="#ded6ee"/>
<rect x="148.63" y="89.60" width="11.72" height="1.05" fill="#d5cbea"/>
<rect x="125.30" y="90.60" width="11.72" height="1.05" fill="#e0d8ee"/>
<rect x="136.97" y="90.60" width="11.72" height="1.05" fill="#f9f5fa"/>
<rect x="148.63" y="90.60" width="11.72" height="1.05" fill="#dfd7ee"/>
<rect x="125.30" y="91.60" width="11.72" height="1.05" fill="#ded5ed"/>
<rect x="136.97" y="91.60" width="11.72" height="1.05" fill="#ebe5f4"/>
<rect x="148.63" y="91.60" width="11.72" height="1.05" fill="#e0d8ef"/>
<rect x="125.30" y="92.60" width="11.72" height="1.05" fill="#b9abdd"/>
<rect x="136.97" y="92.60" width="11.72" height="1.05" fill="#d2c8e8"/>
<rect x="148.63" y="92.60" width="11.72" height="1.05" fill="#cec3e6"/>
<rect x="125.30" y="93.60" width="11.72" height="1.05" fill="#e2dbf0"/>
<rect x="136.97" y="93.60" width="11.72" height="1.05" fill="#f4eff8"/>
<rect x="148.63" y="93.60" width="11.72" height="1.05" fill="#e5def1"/>
<rect x="125.30" y="94.60" width="11.72" height="1.05" fill="#d0c6e7"/>
<rect x="136.97" y="94.60" width="11.72" height="1.05" fill="#dfd7ee"/>
<rect x="148.63" y="94.60" width="11.72" height="1.05" fill="#ddd5ed"/>
<rect x="125.30" y="95.60" width="11.72" height="1.05" fill="#d9d0eb"/>
<rect x="136.97" y="95.60" width="11.72" height="1.05" fill="#f2edf7"/>
<rect x="148.63" y="95.60" width="11.72" height="1.05" fill="#e1d9ef"/>
<rect x="125.30" y="96.60" width="11.72" height="1.05" fill="#e3dbf0"/>
<rect x="136.97" y="96.60" width="11.72" height="1.05" fill="#f0eaf6"/>
<rect x="148.63" y="96.60" width="11.72" height="1.05" fill="#e8e1f2"/>
<rect x="125.30" y="97.60" width="11.72" height="1.05" fill="#dbd2ec"/>
<rect x="136.97" y="97.60" width="11.72" height="1.05" fill="#f1ecf6"/>
<rect x="148.63" y="97.60" width="11.72" height="1.05" fill="#e4ddf1"/>
<rect x="125.30" y="98.60" width="11.72" height="1.05" fill="#cfc4e7"/>
<rect x="136.97" y="98.60" width="11.72" height="1.05" fill="#eee9f5"/>
<rect x="148.63" y="98.60" width="11.72" height="1.05" fill="#d8ceeb"/>
<rect x="125.30" y="99.60" width="11.72" height="1.05" fill="#d3c8e8"/>
<rect x="136.97" y="99.60" width="11.72" height="1.05" fill="#dbd2ec"/>
<rect x="148.63" y="99.60" width="11.72" height="1.05" fill="#d5ccea"/>
<rect x="125.30" y="100.60" width="11.72" height="1.05" fill="#c6b9e3"/>
<rect x="136.97" y="100.60" width="11.72" height="1.05" fill="#d2c8e8"/>
<rect x="148.63" y="100.60" width="11.72" height="1.05" fill="#c9bde4"/>
<rect x="125.30" y="101.60" width="11.72" height="1.05" fill="#ded5ed"/>
<rect x="136.97" y="101.60" width="11.72" height="1.05" fill="#ece5f4"/>
<rect x="148.63" y="101.60" width="11.72" height="1.05" fill="#eee8f5"/>
<rect x="125.30" y="102.60" width="11.72" height="1.05" fill="#d8cfeb"/>
<rect x="136.97" y="102.60" width="11.72" height="1.05" fill="#e1d9ef"/>
<rect x="148.63" y="102.60" width="11.72" height="1.05" fill="#ccc1e5"/>
<rect x="125.30" y="103.60" width="11.72" height="1.05" fill="#e5def1"/>
<rect x="136.97" y="103.60" width="11.72" height="1.05" fill="#f7ecef"/>
<rect x="148.63" y="103.60" width="11.72" height="1.05" fill="#f4eff8"/>
<rect x="125.30" y="104.60" width="11.72" height="1.05" fill="#c9bee4"/>
<rect x="136.97" y="104.60" width="11.72" height="1.05" fill="#d9d0ec"/>
<rect x="148.63" y="104.60" width="11.72" height="1.05" fill="#d1c7e8"/>
<rect x="125.30" y="105.60" width="11.72" height="1.05" fill="#cec3e6"/>
<rect x="136.97" y="105.60" width="11.72" height="1.05" fill="#eae4f3"/>
<rect x="148.63" y="105.60" width="11.72" height="1.05" fill="#dfd7ee"/>
<rect x="125.30" y="106.60" width="11.72" height="1.05" fill="#d6cdea"/>
<rect x="136.97" y="106.60" width="11.72" height="1.05" fill="#e4dcf0"/>
<rect x="148.63" y="106.60" width="11.72" height="1.05" fill="#d8ceeb"/>
<rect x="125.30" y="107.60" width="11.72" height="1.05" fill="#dad1ec"/>
<rect x="136.97" y="107.60" width="11.72" height="1.05" fill="#f5f0f8"/>
<rect x="148.63" y="107.60" width="11.72" height="1.05" fill="#e4ddf0"/>
<rect x="125.30" y="108.60" width="11.72" height="1.05" fill="#e2dbf0"/>
<rect x="136.97" y="108.60" width="11.72" height="1.05" fill="#f3eef7"/>
<rect x="148.63" y="108.60" width="11.72" height="1.05" fill="#dcd4ed"/>
<rect x="125.30" y="109.60" width="11.72" height="1.05" fill="#ebe4f3"/>
<rect x="136.97" y="109.60" width="11.72" height="1.05" fill="#f6f1f9"/>
<rect x="148.63" y="109.60" width="11.72" height="1.05" fill="#e4dcf0"/>
<rect x="125.30" y="110.60" width="11.72" height="1.05" fill="#ddd4ed"/>
<rect x="136.97" y="110.60" width="11.72" height="1.05" fill="#ebe5f4"/>
<rect x="148.63" y="110.60" width="11.72" height="1.05" fill="#d5cbe9"/>
<rect x="125.30" y="111.60" width="11.72" height="1.05" fill="#d0c5e7"/>
<rect x="136.97" y="111.60" width="11.72" height="1.05" fill="#e7e0f2"/>
<rect x="148.63" y="111.60" width="11.72" height="1.05" fill="#d4cae9"/>
<rect x="125.30" y="112.60" width="11.72" height="1.05" fill="#d6ccea"/>
<rect x="136.97" y="112.60" width="11.72" height="1.05" fill="#e8e1f2"/>
<rect x="148.63" y="112.60" width="11.72" height="1.05" fill="#c9bde4"/>
<rect x="125.30" y="113.60" width="11.72" height="1.05" fill="#c9bee4"/>
<rect x="136.97" y="113.60" width="11.72" height="1.05" fill="#ded6ee"/>
<rect x="148.63" y="113.60" width="11.72" height="1.05" fill="#c9bde4"/>
<rect x="125.30" y="114.60" width="11.72" height="1.05" fill="#d5cbea"/>
<rect x="136.97" y="114.60" width="11.72" height="1.05" fill="#f7f3f9"/>
<rect x="148.63" y="114.60" width="11.72" height="1.05" fill="#e8e1f2"/>
<rect x="125.30" y="115.60" width="11.72" height="1.05" fill="#cec3e7"/>
<rect x="136.97" y="115.60" width="11.72" height="1.05" fill="#e7e0f2"/>
<rect x="148.63" y="115.60" width="11.72" height="1.05" fill="#d8cfeb"/>
<rect x="125.30" y="116.60" width="11.72" height="1.05" fill="#baacdd"/>
<rect x="136.97" y="116.60" width="11.72" height="1.05" fill="#d8cfeb"/>
<rect x="148.63" y="116.60" width="11.72" height="1.05" fill="#c5b9e3"/>
<rect x="125.30" y="117.60" width="11.72" height="1.05" fill="#ccc1e5"/>
<rect x="136.97" y="117.60" width="11.72" height="1.05" fill="#e2daef"/>
<rect x="148.63" y="117.60" width="11.72" height="1.05" fill="#d2c8e8"/>
<rect x="125.30" y="118.60" width="11.72" height="1.05" fill="#eae4f3"/>
<rect x="136.97" y="118.60" width="11.72" height="1.05" fill="#f4dcdc"/>
<rect x="148.63" y="118.60" width="11.72" height="1.05" fill="#f9f5fa"/>
<rect x="125.30" y="119.60" width="11.72" height="1.05" fill="#d9d0eb"/>
<rect x="136.97" y="119.60" width="11.72" height="1.05" fill="#eae3f3"/>
<rect x="148.63" y="119.60" width="11.72" height="1.05" fill="#e6e0f2"/>
<rect x="125.30" y="120.60" width="11.72" height="1.05" fill="#dbd2ec"/>
<rect x="136.97" y="120.60" width="11.72" height="1.05" fill="#eee9f5"/>
<rect x="148.63" y="120.60" width="11.72" height="1.05" fill="#e1d9ef"/>
<rect x="125.30" y="121.60" width="11.72" height="1.05" fill="#f2d4d2"/>
<rect x="136.97" y="121.60" width="11.72" height="1.05" fill="#f1d2d0"/>
<rect x="148.63" y="121.60" width="11.72" height="1.05" fill="#f2d5d4"/>
<rect x="125.30" y="122.60" width="11.72" height="1.05" fill="#f0cac7"/>
<rect x="136.97" y="122.60" width="11.72" height="1.05" fill="#edbcb5"/>
<rect x="148.63" y="122.60" width="11.72" height="1.05" fill="#edbfb9"/>
<rect x="125.30" y="123.60" width="11.72" height="1.05" fill="#f3dbdb"/>
<rect x="136.97" y="123.60" width="11.72" height="1.05" fill="#efc9c5"/>
<rect x="148.63" y="123.60" width="11.72" height="1.05" fill="#f4dcdc"/>
<rect x="125.30" y="124.60" width="11.72" height="1.05" fill="#f1d2d0"/>
<rect x="136.97" y="124.60" width="11.72" height="1.05" fill="#efc5c0"/>
<rect x="148.63" y="124.60" width="11.72" height="1.05" fill="#f2d5d4"/>
<rect x="125.30" y="125.60" width="11.72" height="1.05" fill="#edbfba"/>
<rect x="136.97" y="125.60" width="11.72" height="1.05" fill="#ecbab3"/>
<rect x="148.63" y="125.60" width="11.72" height="1.05" fill="#f0ccc9"/>
<rect x="125.30" y="126.60" width="11.72" height="1.05" fill="#f0cac7"/>
<rect x="136.97" y="126.60" width="11.72" height="1.05" fill="#efc8c4"/>
<rect x="148.63" y="126.60" width="11.72" height="1.05" fill="#f1d1cf"/>
<rect x="125.30" y="127.60" width="11.72" height="1.05" fill="#f0ccc9"/>
<rect x="136.97" y="127.60" width="11.72" height="1.05" fill="#f0cbc8"/>
<rect x="148.63" y="127.60" width="11.72" height="1.05" fill="#f2d7d5"/>
<rect x="125.30" y="128.60" width="11.72" height="1.05" fill="#ecbbb4"/>
<rect x="136.97" y="128.60" width="11.72" height="1.05" fill="#eec3be"/>
<rect x="148.63" y="128.60" width="11.72" height="1.05" fill="#efc7c3"/>
<rect x="125.30" y="129.60" width="11.72" height="1.05" fill="#edc0ba"/>
<rect x="136.97" y="129.60" width="11.72" height="1.05" fill="#ecb9b2"/>
<rect x="148.63" y="129.60" width="11.72" height="1.05" fill="#f0ccc9"/>
<rect x="125.30" y="130.60" width="11.72" height="1.05" fill="#edbcb6"/>
<rect x="136.97" y="130.60" width="11.72" height="1.05" fill="#f1d2d0"/>
<rect x="148.63" y="130.60" width="11.72" height="1.05" fill="#eec4bf"/>
<rect x="125.30" y="131.60" width="11.72" height="1.05" fill="#e0d8ef"/>
<rect x="136.97" y="131.60" width="11.72" height="1.05" fill="#d5ccea"/>
<rect x="148.63" y="131.60" width="11.72" height="1.05" fill="#d7ceeb"/>
<rect x="125.30" y="132.60" width="11.72" height="1.05" fill="#ccc1e6"/>
<rect x="136.97" y="132.60" width="11.72" height="1.05" fill="#e0d8ef"/>
<rect x="148.63" y="132.60" width="11.72" height="1.05" fill="#d7cdea"/>
<rect x="125.30" y="133.60" width="11.72" height="1.05" fill="#c0b3e0"/>
<rect x="136.97" y="133.60" width="11.72" height="1.05" fill="#cbc0e5"/>
<rect x="148.63" y="133.60" width="11.72" height="1.05" fill="#d7ceea"/>
<rect x="125.30" y="134.60" width="11.72" height="1.05" fill="#d5ccea"/>
<rect x="136.97" y="134.60" width="11.72" height="1.05" fill="#e0d8ef"/>
<rect x="148.63" y="134.60" width="11.72" height="1.05" fill="#eae4f3"/>
<rect x="125.30" y="135.60" width="11.72" height="1.05" fill="#cabee5"/>
<rect x="136.97" y="135.60" width="11.72" height="1.05" fill="#d8cfeb"/>
<rect x="148.63" y="135.60" width="11.72" height="1.05" fill="#d0c6e7"/>
<rect x="125.30" y="136.60" width="11.72" height="1.05" fill="#d3c9e9"/>
<rect x="136.97" y="136.60" width="11.72" height="1.05" fill="#d2c8e8"/>
<rect x="148.63" y="136.60" width="11.72" height="1.05" fill="#dbd3ed"/>
<rect x="125.30" y="137.60" width="11.72" height="1.05" fill="#d1c7e8"/>
<rect x="136.97" y="137.60" width="11.72" height="1.05" fill="#d5ccea"/>
<rect x="148.63" y="137.60" width="11.72" height="1.05" fill="#ccc1e6"/>
<rect x="125.30" y="138.60" width="11.72" height="1.05" fill="#d0c5e7"/>
<rect x="136.97" y="138.60" width="11.72" height="1.05" fill="#ccc1e6"/>
<rect x="148.63" y="138.60" width="11.72" height="1.05" fill="#d0c6e7"/>
<rect x="125.30" y="139.60" width="11.72" height="1.05" fill="#c9bee4"/>
<rect x="136.97" y="139.60" width="11.72" height="1.05" fill="#d1c7e8"/>
<rect x="148.63" y="139.60" width="11.72" height="1.05" fill="#dbd3ed"/>
<rect x="125.30" y="140.60" width="11.72" height="1.05" fill="#cec3e6"/>
<rect x="136.97" y="140.60" width="11.72" height="1.05" fill="#e1d9ef"/>
<rect x="148.63" y="140.60" width="11.72" height="1.05" fill="#d8cfeb"/>
<rect x="125.30" y="141.60" width="11.72" height="1.05" fill="#d6cdea"/>
<rect x="136.97" y="141.60" width="11.72" height="1.05" fill="#ded6ee"/>
<rect x="148.63" y="141.60" width="11.72" height="1.05" fill="#d6ccea"/>
<rect x="125.30" y="142.60" width="11.72" height="1.05" fill="#d0c5e7"/>
<rect x="136.97" y="142.60" width="11.72" height="1.05" fill="#d4cae9"/>
<rect x="148.63" y="142.60" width="11.72" height="1.05" fill="#d0c6e8"/>
<rect x="125.30" y="143.60" width="11.72" height="1.05" fill="#cbc0e5"/>
<rect x="136.97" y="143.60" width="11.72" height="1.05" fill="#c8bce4"/>
<rect x="148.63" y="143.60" width="11.72" height="1.05" fill="#c0b3e0"/>
<rect x="125.30" y="144.60" width="11.72" height="1.05" fill="#ccc0e5"/>
<rect x="136.97" y="144.60" width="11.72" height="1.05" fill="#c9bee4"/>
<rect x="148.63" y="144.60" width="11.72" height="1.05" fill="#cbc0e5"/>
<rect x="125.30" y="145.60" width="11.72" height="1.05" fill="#d3c9e9"/>
<rect x="136.97" y="145.60" width="11.72" height="1.05" fill="#e2daef"/>
<rect x="148.63" y="145.60" width="11.72" height="1.05" fill="#dbd2ec"/>
<rect x="125.30" y="146.60" width="11.72" height="1.05" fill="#cabfe5"/>
<rect x="136.97" y="146.60" width="11.72" height="1.05" fill="#d5cbea"/>
<rect x="148.63" y="146.60" width="11.72" height="1.05" fill="#c9bde4"/>
<rect x="125.30" y="147.60" width="11.72" height="1.05" fill="#c8bde4"/>
<rect x="136.97" y="147.60" width="11.72" height="1.05" fill="#d6ccea"/>
<rect x="148.63" y="147.60" width="11.72" height="1.05" fill="#d0c6e7"/>
<rect x="125.30" y="148.60" width="11.72" height="1.05" fill="#cdc3e6"/>
<rect x="136.97" y="148.60" width="11.72" height="1.05" fill="#d6cdea"/>
<rect x="148.63" y="148.60" width="11.72" height="1.05" fill="#cbbfe5"/>
<rect x="125.30" y="149.60" width="11.72" height="1.05" fill="#cabfe5"/>
<rect x="136.97" y="149.60" width="11.72" height="1.05" fill="#c0b3e0"/>
<rect x="148.63" y="149.60" width="11.72" height="1.05" fill="#c6bae3"/>
<rect x="125.30" y="150.60" width="11.72" height="1.05" fill="#e0d9ef"/>
<rect x="136.97" y="150.60" width="11.72" height="1.05" fill="#d7ceeb"/>
<rect x="148.63" y="150.60" width="11.72" height="1.05" fill="#e0d8ee"/>
<rect x="125.30" y="151.60" width="11.72" height="1.05" fill="#f1ecf6"/>
<rect x="136.97" y="151.60" width="11.72" height="1.05" fill="#dfd7ee"/>
<rect x="148.63" y="151.60" width="11.72" height="1.05" fill="#eee9f5"/>
<rect x="125.30" y="152.60" width="11.72" height="1.05" fill="#d7cdea"/>
<rect x="136.97" y="152.60" width="11.72" height="1.05" fill="#d7cdea"/>
<rect x="148.63" y="152.60" width="11.72" height="1.05" fill="#cfc4e7"/>
<rect x="125.3" y="52.4" width="35" height="101" fill="none" stroke="#4a4a4a" stroke-width="1.1"/>
<defs><linearGradient id="cbg" x1="0" y1="0" x2="0" y2="1"><stop offset="0" stop-color="#9a1c1c"/><stop offset="0.12" stop-color="#c4473d"/><stop offset="0.25" stop-color="#e4a095"/><stop offset="0.5" stop-color="#fbf8fb"/><stop offset="0.75" stop-color="#6f62c2"/><stop offset="1" stop-color="#1a1690"/></linearGradient></defs>
<rect x="172.2" y="71" width="9.8" height="46.6" fill="url(#cbg)"/>
<line x1="172.2" y1="73" x2="174" y2="73" stroke="#fff" stroke-width="0.6"/>
<line x1="180.2" y1="73" x2="182" y2="73" stroke="#fff" stroke-width="0.6"/>
<text x="185.2" y="75.2" font-size="6.2" text-anchor="start" fill="#222" stroke="#222" stroke-width="0.12">2</text>
<line x1="172.2" y1="83.65" x2="174" y2="83.65" stroke="#fff" stroke-width="0.6"/>
<line x1="180.2" y1="83.65" x2="182" y2="83.65" stroke="#fff" stroke-width="0.6"/>
<text x="185.2" y="85.85" font-size="6.2" text-anchor="start" fill="#222" stroke="#222" stroke-width="0.12">1</text>
<line x1="172.2" y1="94.3" x2="174" y2="94.3" stroke="#fff" stroke-width="0.6"/>
<line x1="180.2" y1="94.3" x2="182" y2="94.3" stroke="#fff" stroke-width="0.6"/>
<text x="185.2" y="96.5" font-size="6.2" text-anchor="start" fill="#222" stroke="#222" stroke-width="0.12">0</text>
<line x1="172.2" y1="104.95" x2="174" y2="104.95" stroke="#fff" stroke-width="0.6"/>
<line x1="180.2" y1="104.95" x2="182" y2="104.95" stroke="#fff" stroke-width="0.6"/>
<text x="185.2" y="107.15" font-size="6.2" text-anchor="start" fill="#222" stroke="#222" stroke-width="0.12">&#8722;1</text>
<line x1="172.2" y1="115.6" x2="174" y2="115.6" stroke="#fff" stroke-width="0.6"/>
<line x1="180.2" y1="115.6" x2="182" y2="115.6" stroke="#fff" stroke-width="0.6"/>
<text x="185.2" y="117.8" font-size="6.2" text-anchor="start" fill="#222" stroke="#222" stroke-width="0.12">&#8722;2</text>
<text x="168.8" y="94.5" font-size="6.3" text-anchor="middle" fill="#222" stroke="#222" stroke-width="0.12" transform="rotate(-90 168.8 94.5)" textLength="48.5" lengthAdjust="spacingAndGlyphs">Protein Expression</text>
<text x="207" y="16" font-size="11" text-anchor="start" fill="#111" font-weight="bold">B</text>
<path d="M300.9 132.9h0M303.8 139.5h0M309.3 137.4h0M301.4 131.9h0M313.9 128.7h0M309.6 136.9h0M309.5 140.9h0M307.1 144.2h0M310.3 134.9h0M312.2 133.4h0M302.3 133.3h0M314.5 127.2h0M311.3 137.4h0M311.2 138.0h0M304.3 141.7h0M305.4 144.2h0M314.8 123.6h0M298.7 125.2h0M309.3 138.2h0M306.8 144.2h0M303.4 138.5h0M308.4 143.2h0M310.5 139.3h0M314.3 132.9h0M310.3 135.2h0M314.4 132.4h0M315.3 126.3h0M311.2 133.2h0M313.8 129.8h0M302.0 132.5h0M314.3 133.0h0M297.7 128.5h0M304.7 139.6h0M302.1 137.1h0M314.7 123.7h0M309.1 137.9h0M311.3 133.6h0M314.8 131.8h0M306.7 144.2h0M302.5 133.9h0M308.8 138.7h0M300.1 129.8h0M309.0 138.5h0M296.7 127.3h0M302.6 139.4h0M315.2 124.8h0M305.7 143.5h0M309.7 138.8h0M307.9 142.9h0M305.1 142.9h0M300.9 131.1h0M307.6 141.5h0M304.8 141.6h0M309.5 137.0h0M309.4 138.9h0M310.5 135.7h0M311.1 136.9h0M310.4 139.8h0M301.2 132.9h0M308.6 140.0h0M303.7 137.8h0M303.8 139.5h0M302.3 134.8h0M312.5 129.2h0M308.1 143.0h0M302.5 134.5h0M313.2 128.6h0M299.8 129.5h0M310.9 133.5h0M302.8 135.7h0M313.8 128.5h0M314.3 125.4h0M303.1 138.3h0M314.9 126.1h0M300.7 129.4h0M307.2 142.9h0M313.2 133.4h0M299.8 128.2h0M313.2 131.5h0M313.2 129.2h0M298.6 125.5h0M313.0 129.3h0M303.3 137.4h0M304.9 141.0h0M315.7 121.8h0M295.9 126.8h0M314.8 131.9h0M305.2 144.2h0M315.8 121.9h0M311.9 136.0h0M310.1 137.5h0M302.0 134.0h0M300.7 129.3h0M308.5 140.1h0M313.3 127.2h0M315.3 127.6h0M315.8 129.1h0M315.2 126.6h0M299.5 127.7h0M310.1 137.5h0M304.7 143.3h0M309.0 139.1h0M301.2 136.1h0M306.1 144.2h0M303.4 136.6h0M307.3 144.2h0M299.5 132.0h0M315.7 128.1h0M313.6 126.3h0M309.4 141.1h0M301.6 134.2h0M304.9 141.5h0M312.6 128.9h0M298.5 123.7h0M316.9 126.4h0M297.7 125.1h0M302.6 135.3h0M303.4 138.9h0M308.5 140.5h0M299.9 128.9h0M298.5 127.5h0M311.3 134.0h0M297.5 122.0h0M303.9 139.7h0M312.7 130.6h0M313.1 131.7h0M305.1 141.5h0M306.5 144.2h0M304.9 142.3h0M305.8 142.6h0M307.4 144.2h0M297.3 123.7h0M305.0 143.5h0M315.2 129.0h0M301.5 133.5h0M298.5 130.1h0M310.1 139.8h0M312.9 132.4h0M311.7 134.4h0M298.0 126.8h0M312.5 129.1h0M297.8 122.1h0M314.8 124.1h0M296.3 126.2h0M298.4 130.4h0M310.4 139.0h0M313.1 127.8h0M312.4 132.4h0M311.3 132.6h0M312.0 136.6h0M308.0 143.7h0M301.0 130.7h0M301.2 134.0h0M312.1 132.2h0M303.7 138.3h0M303.4 137.6h0M297.6 125.0h0M311.9 131.1h0M310.7 137.7h0M310.4 136.9h0M306.2 144.2h0M315.2 123.0h0M297.9 128.2h0M315.6 125.2h0M305.4 143.5h0M299.8 128.2h0M300.1 131.4h0M302.6 134.8h0M310.7 139.1h0M302.2 136.8h0M304.7 142.8h0M308.4 140.3h0M300.5 128.6h0M306.2 144.0h0M299.5 128.2h0M302.8 138.4h0M298.9 132.9h0M306.2 144.2h0M305.9 144.2h0M313.6 130.1h0M306.2 144.2h0M314.3 127.0h0M311.7 137.5h0M305.9 142.9h0M300.9 134.1h0M310.4 139.8h0M314.3 125.9h0M299.9 128.4h0M299.8 131.8h0M314.4 131.8h0M301.3 136.2h0M302.6 135.8h0M311.6 131.8h0M297.8 129.0h0M302.1 134.3h0M308.3 142.2h0M305.2 142.2h0M300.3 131.9h0M307.6 142.0h0M301.7 135.5h0M298.2 130.5h0M315.4 122.0h0M312.5 134.1h0M302.2 136.5h0M309.9 139.7h0M301.5 135.8h0M307.4 142.4h0M306.5 144.2h0M311.3 135.9h0M308.0 140.9h0M309.7 139.0h0M299.7 133.3h0M310.0 135.9h0M315.9 121.0h0M303.0 138.5h0M308.7 140.8h0M309.8 137.9h0M302.5 134.4h0M297.3 126.6h0M312.1 133.2h0M311.8 132.7h0M301.5 133.1h0M314.7 123.7h0M306.7 144.2h0M312.4 131.2h0M303.0 136.6h0M307.5 144.2h0M303.4 140.2h0M298.2 124.4h0M297.9 122.6h0M312.6 133.6h0M299.8 127.6h0M304.8 142.4h0M313.4 132.1h0M308.6 139.5h0M304.4 139.1h0M307.2 144.2h0M300.2 129.0h0M312.7 128.7h0M313.2 134.0h0M307.7 143.1h0M309.5 141.6h0M310.6 135.1h0M314.4 127.6h0M308.8 141.5h0M310.1 137.4h0M307.1 144.1h0M300.0 130.6h0M309.8 137.9h0M308.0 144.2h0M315.1 123.2h0M312.9 132.1h0M300.8 129.7h0M307.4 144.2h0M302.8 139.1h0M310.8 133.9h0M314.3 128.8h0M315.8 126.8h0M311.8 132.6h0M313.2 134.3h0M314.4 127.1h0M312.2 132.7h0M298.1 122.7h0M297.5 122.0h0M299.3 128.7h0M310.9 135.8h0M304.9 142.2h0M302.4 135.6h0M312.2 132.1h0M299.7 133.4h0M311.3 133.8h0M303.8 139.2h0M308.7 139.5h0M312.7 129.1h0M305.7 142.4h0M300.3 128.9h0M304.5 139.3h0M299.4 129.0h0M305.5 142.5h0M311.0 133.1h0M304.5 140.2h0M296.4 127.9h0M300.5 129.0h0M306.1 143.1h0M309.2 138.6h0M298.5 123.6h0M311.5 132.8h0M312.8 131.0h0M316.0 122.3h0M301.2 131.6h0M313.4 131.1h0M303.2 135.8h0M310.5 139.6h0M308.6 139.1h0M299.5 126.1h0M315.3 123.2h0M313.2 134.3h0M302.4 136.5h0M302.1 137.7h0M298.3 125.5h0M303.0 138.3h0M315.9 121.5h0M311.8 135.4h0M313.9 129.4h0M315.8 123.3h0M304.8 140.1h0M312.6 131.5h0M301.6 132.1h0M311.4 135.3h0M311.2 134.3h0M306.3 143.8h0M311.2 132.6h0M305.9 144.2h0M310.4 134.7h0M300.9 135.3h0M309.7 140.6h0M314.6 126.7h0M315.2 128.4h0M303.0 136.5h0M297.3 123.4h0M308.1 140.6h0M297.5 126.4h0M301.0 130.0h0M299.1 129.7h0M308.4 139.5h0M300.8 136.1h0M300.5 132.2h0M304.9 142.7h0M308.9 141.7h0M307.4 142.6h0M299.6 126.6h0M313.6 126.6h0M296.3 127.8h0M300.1 134.1h0M297.6 124.8h0M300.6 134.5h0M309.1 140.4h0M312.3 135.6h0M303.3 138.4h0M305.4 141.4h0M313.9 129.8h0M313.4 127.8h0M307.4 143.3h0M311.5 131.8h0M303.3 137.7h0M297.3 125.0h0M311.7 133.3h0M309.8 138.7h0M300.4 130.3h0M305.1 140.5h0M300.5 129.3h0M315.9 126.8h0M314.7 132.1h0M309.0 142.2h0M307.4 143.3h0M316.3 128.2h0M312.5 131.3h0M317.4 126.4h0M302.1 138.3h0M299.8 127.1h0M311.4 133.2h0M307.0 144.2h0M301.8 133.9h0M303.2 139.2h0M311.9 131.9h0M298.0 124.1h0M304.7 139.4h0M299.1 130.9h0M310.9 138.9h0M317.0 126.5h0M303.8 137.6h0M302.5 135.9h0M307.2 144.2h0M303.6 140.5h0M302.0 134.6h0M315.0 129.6h0M302.2 133.9h0M313.2 127.2h0M298.6 127.6h0M307.4 142.5h0M312.4 131.9h0M299.8 126.8h0M305.1 141.4h0M297.8 123.8h0M301.1 135.4h0M304.8 140.4h0M309.4 140.1h0M315.5 128.5h0M301.1 130.7h0M312.2 135.0h0M306.8 144.2h0M307.7 142.0h0M299.4 125.9h0M309.7 140.7h0M315.4 125.2h0M310.2 140.0h0M313.4 130.9h0M304.7 141.2h0M299.5 126.9h0M310.6 139.7h0M307.6 142.7h0M303.4 137.9h0M313.1 130.2h0M302.6 136.4h0M304.7 142.7h0M313.7 133.4h0M309.0 138.0h0M308.2 141.9h0M306.3 144.1h0M311.1 138.1h0M298.0 127.6h0M303.8 139.1h0M315.2 131.0h0M309.7 136.9h0M315.7 121.9h0M304.1 141.4h0M302.6 135.1h0M316.3 128.6h0M302.7 135.8h0M301.9 132.6h0M301.2 137.0h0M297.5 122.3h0M300.1 127.9h0M307.2 144.2h0M313.9 130.0h0M313.5 126.6h0M301.9 138.1h0M297.3 122.1h0M306.2 143.8h0M307.6 141.7h0M300.9 136.2h0M298.9 132.0h0M299.6 134.3h0M310.4 137.7h0M298.9 124.6h0M312.2 130.6h0M299.9 133.1h0M314.7 123.6h0M304.1 137.9h0M304.2 142.6h0M301.9 132.5h0M298.9 125.1h0M303.4 140.6h0M297.5 121.9h0M316.1 129.7h0M303.5 141.0h0M306.3 144.2h0M302.6 133.9h0M303.3 139.3h0M312.7 132.1h0M305.8 143.7h0M305.4 142.7h0M313.8 126.8h0M308.6 142.9h0M314.1 125.8h0M316.6 126.7h0M299.4 127.3h0M300.2 127.9h0M314.7 124.1h0M296.1 126.1h0M313.0 135.4h0M310.6 136.4h0M312.4 129.8h0M307.5 143.2h0M299.0 129.0h0M302.8 136.7h0M303.9 138.3h0M303.5 139.0h0M317.0 127.3h0M314.4 131.0h0M302.0 138.4h0M301.6 131.9h0M306.6 144.2h0M303.2 138.4h0M301.9 138.2h0M305.6 143.0h0M307.3 144.2h0M305.3 143.0h0M297.3 123.6h0M314.1 131.0h0M297.1 127.9h0M304.1 142.3h0M303.7 137.5h0M307.7 144.2h0M305.1 143.6h0M311.2 134.1h0M302.3 135.6h0M304.4 139.8h0M309.9 140.2h0M308.4 139.9h0M300.5 130.7h0M309.1 138.2h0M297.6 123.2h0M301.9 132.2h0M307.4 144.2h0M307.3 144.2h0M313.7 132.4h0M315.5 124.6h0M310.5 134.5h0M314.8 125.7h0M306.1 144.2h0M302.0 133.1h0M313.6 130.4h0M297.6 121.3h0M303.4 136.0h0M313.8 126.7h0M301.7 133.6h0M306.9 144.2h0M309.4 139.9h0M305.2 140.9h0M297.6 124.4h0M312.1 137.0h0M297.2 120.2h0M306.2 144.1h0M315.1 129.5h0M303.0 136.6h0M308.4 143.1h0M300.2 129.9h0M297.7 126.7h0M296.4 127.5h0M307.1 144.2h0M297.6 122.7h0M305.9 144.2h0M307.4 142.7h0M307.2 143.0h0M302.2 138.3h0M298.7 127.7h0M309.2 138.8h0M312.4 135.6h0M314.3 130.2h0M300.2 128.0h0M305.1 141.3h0M300.0 133.7h0M300.5 134.2h0M315.5 124.1h0M300.4 129.1h0M304.1 141.6h0M313.8 126.0h0M304.5 140.0h0M299.6 127.7h0M301.5 135.2h0M303.1 135.7h0M300.6 131.2h0M308.0 141.2h0M310.9 134.0h0M310.3 137.7h0M299.6 131.8h0M304.3 140.4h0M308.7 141.2h0M305.4 141.1h0M312.8 134.4h0M306.4 144.2h0M301.6 137.1h0M310.6 134.7h0M313.5 134.4h0M303.3 140.9h0M306.2 143.6h0M311.3 133.7h0M311.6 134.6h0M298.1 126.4h0M314.2 128.0h0M307.5 144.2h0M305.4 142.7h0M308.4 142.8h0M300.2 128.1h0M312.2 133.0h0M302.3 138.4h0M314.9 126.9h0M312.0 131.8h0M311.7 132.9h0M306.1 144.2h0M301.2 134.6h0M308.0 141.8h0M298.2 126.8h0M302.7 138.0h0M299.5 128.5h0M300.0 129.8h0M308.3 140.2h0M300.1 130.8h0M299.4 126.2h0M307.4 144.2h0M314.6 127.5h0M304.4 138.6h0M301.8 133.2h0M305.2 141.2h0M308.1 141.9h0M300.1 128.6h0M311.6 137.0h0M297.9 127.8h0M312.0 131.3h0M305.7 144.2h0M302.9 138.5h0M299.4 130.5h0M301.6 134.1h0M303.8 141.2h0M311.9 133.4h0M310.6 135.8h0M313.2 128.7h0M307.6 143.5h0M304.2 138.1h0M299.5 130.5h0M300.4 133.4h0M306.7 144.2h0M314.1 130.5h0M303.8 137.2h0M307.8 143.6h0M315.7 122.1h0M299.2 133.4h0M311.8 133.5h0M311.8 131.6h0M307.6 143.8h0M308.8 138.9h0M298.7 128.8h0M314.9 123.6h0M312.8 130.6h0M305.6 144.2h0M309.0 138.9h0M310.9 133.1h0M301.9 136.1h0M299.5 126.1h0M307.0 143.9h0M313.1 129.7h0M313.2 130.0h0M310.2 136.2h0M300.6 131.5h0M313.1 129.5h0M300.8 131.5h0M297.9 123.9h0M308.2 142.0h0M308.7 139.7h0M303.1 135.9h0M308.1 141.1h0M312.3 133.3h0M310.1 138.8h0M307.1 144.0h0M302.5 133.8h0M313.0 131.0h0M297.9 130.4h0M308.4 141.9h0M305.3 141.1h0M303.7 141.7h0M298.4 126.9h0M306.2 143.6h0M315.8 123.7h0M314.6 131.4h0M302.4 135.6h0M302.3 134.4h0M298.7 128.6h0M297.7 130.4h0M296.7 128.6h0M299.9 127.4h0M311.9 133.6h0M312.4 132.3h0M309.4 137.2h0M310.4 136.9h0M297.3 126.2h0M315.8 123.7h0M311.2 135.4h0M304.2 139.8h0M308.8 138.6h0M302.4 137.4h0M301.4 133.3h0M301.3 132.5h0M309.9 139.4h0M300.2 129.6h0M308.4 141.7h0M301.0 130.6h0M297.9 122.9h0M306.6 144.2h0M314.9 127.2h0M303.1 137.1h0M312.0 132.1h0M311.5 132.9h0M300.5 129.7h0M300.0 131.4h0M309.7 139.7h0M298.0 128.7h0M306.1 143.9h0M306.7 144.2h0M300.1 129.9h0M309.8 139.4h0M315.6 122.3h0M315.1 129.4h0M311.2 138.5h0M298.8 130.4h0M315.2 122.7h0M308.6 143.0h0M302.1 137.7h0M315.4 124.9h0M298.9 125.7h0M313.7 128.6h0M302.6 136.0h0M315.9 122.1h0M296.2 127.4h0M302.6 135.7h0M297.6 129.4h0M301.1 131.0h0M315.3 124.2h0M302.3 134.1h0M307.5 143.5h0M304.4 140.4h0M302.2 137.8h0M316.0 126.9h0M313.5 126.7h0M301.2 131.2h0M299.1 133.1h0M315.4 130.1h0M307.9 141.2h0M305.0 140.3h0M315.3 123.5h0M302.0 138.2h0M300.1 134.5h0M302.5 137.2h0M298.1 130.4h0M304.4 139.7h0M309.9 138.3h0M301.2 130.9h0M308.2 140.1h0M314.6 125.8h0M299.5 127.8h0M298.3 124.8h0M307.5 142.9h0M303.0 136.1h0M306.3 144.2h0M305.3 143.4h0M306.2 143.4h0M299.5 132.5h0M306.2 144.0h0M306.9 144.2h0M303.9 138.6h0M303.7 136.8h0M307.6 143.1h0M306.5 144.2h0M306.0 144.2h0M299.8 134.5h0M298.3 130.3h0M299.6 132.2h0M301.4 131.2h0M307.5 144.2h0M314.1 132.1h0M304.0 137.8h0M312.1 132.5h0M311.9 135.7h0M314.7 127.5h0M297.5 129.2h0M297.8 121.9h0M313.7 127.5h0M310.1 135.3h0M300.3 133.0h0M311.0 137.0h0M309.2 140.9h0M310.9 133.2h0M299.9 130.6h0M308.5 139.7h0M314.1 127.9h0M307.1 144.2h0M298.7 129.8h0M313.1 133.9h0M301.9 133.1h0M299.4 132.8h0M305.3 141.9h0M307.0 144.2h0M302.7 135.5h0M312.4 134.6h0M302.2 133.1h0M315.9 126.9h0M308.6 140.3h0M300.5 128.9h0M303.4 138.6h0M303.7 141.3h0M309.8 137.8h0M310.1 138.1h0M309.1 139.6h0M307.1 144.2h0M313.8 126.8h0M312.8 129.9h0M314.1 125.2h0M306.3 144.2h0M311.2 133.3h0M301.5 131.5h0M307.9 142.6h0M300.1 134.8h0M305.6 143.4h0M302.1 136.2h0M313.4 131.5h0M306.4 143.6h0M312.9 129.8h0M302.1 136.1h0M308.4 141.2h0M314.4 128.0h0M303.2 135.7h0M307.7 142.3h0M307.4 143.0h0M299.2 125.6h0M314.2 128.9h0M300.9 134.2h0M309.5 136.9h0M312.0 131.3h0M302.0 133.4h0M314.4 130.8h0M308.3 140.1h0M305.1 142.7h0M297.0 128.6h0M314.0 132.9h0M310.9 136.4h0M302.4 133.8h0M299.7 132.4h0M297.8 128.1h0M304.4 142.2h0M312.2 134.1h0M314.1 125.2h0M301.5 133.0h0M305.1 142.6h0M314.8 129.2h0M315.9 126.5h0M303.5 138.4h0M312.0 135.6h0M303.8 138.3h0M309.1 138.5h0M314.9 123.0h0M309.8 138.0h0M300.0 131.0h0M306.0 144.2h0M314.9 127.4h0M314.6 131.1h0M299.4 132.1h0M313.8 133.8h0M312.2 131.9h0M300.3 132.3h0M300.3 133.4h0M308.2 143.2h0M303.5 137.3h0M315.3 127.3h0M304.0 139.7h0M305.2 142.8h0M307.0 143.9h0M317.0 126.6h0M312.2 131.2h0M300.0 132.4h0M313.6 130.9h0M300.4 133.2h0M307.1 143.8h0M308.5 140.8h0M309.8 139.5h0M308.1 143.9h0M310.0 138.1h0M314.2 124.7h0M312.9 132.1h0M308.4 140.4h0M309.2 137.9h0M307.2 143.3h0M315.9 127.6h0M306.0 144.2h0M304.1 139.8h0M299.3 132.2h0M312.3 134.5h0M297.6 128.5h0M306.3 143.6h0M304.9 143.3h0M309.3 138.4h0M313.4 128.8h0M315.2 125.0h0M297.5 130.1h0M297.3 122.1h0M312.5 129.6h0M307.6 144.2h0M308.5 140.3h0M312.2 135.3h0M308.3 142.0h0M302.8 136.1h0M317.2 127.3h0M300.7 134.3h0M300.1 128.4h0M312.3 130.2h0M315.2 129.2h0M300.3 133.5h0M304.8 140.1h0M307.9 141.6h0M313.8 126.8h0M305.4 141.3h0M303.4 140.4h0M306.6 144.2h0M300.9 133.6h0M301.8 137.3h0M297.1 128.1h0M309.2 141.1h0M303.4 136.3h0M299.5 130.4h0M312.7 134.8h0M314.3 131.3h0M307.8 144.2h0M310.9 136.1h0M305.0 140.1h0M297.7 123.0h0M305.8 142.3h0M311.8 136.6h0M300.7 135.2h0M298.5 130.1h0M315.0 129.4h0M304.6 141.3h0M298.3 124.2h0M304.8 142.5h0M297.7 130.0h0M296.4 128.1h0M300.9 135.1h0M313.5 134.0h0M306.0 144.2h0M302.1 137.5h0M298.1 130.3h0M308.6 139.2h0M297.3 122.0h0M285.3 129.2h0M293.5 135.9h0M292.6 134.6h0M294.9 133.3h0M289.6 128.9h0M286.9 131.7h0M287.4 133.5h0M288.8 132.0h0M291.6 132.5h0M286.9 128.9h0M293.3 128.5h0M293.1 135.7h0M289.7 135.6h0M292.4 135.5h0" stroke="#c2c2c2" stroke-width="1.6" stroke-linecap="round" fill="none"/>
<polygon points="274.5,56.0 272.5,64.0 275.0,73.0 278.5,83.0 283.2,93.0 285.5,100.0 289.0,112.0 293.0,123.5 297.8,123.5 297.0,100.0 296.2,93.0 293.5,83.0 290.6,73.0 287.7,64.0 283.5,56.0" fill="#1a4b86"/>
<path d="M281.3 83.0h0M285.2 83.6h0M291.1 87.8h0M268.7 60.6h0M268.2 69.2h0M297.0 110.6h0M288.1 94.9h0M287.4 89.8h0M268.0 47.2h0M282.5 68.5h0M287.8 66.0h0M279.5 76.4h0M292.2 87.8h0M286.9 68.5h0M291.7 111.3h0M276.9 68.6h0M284.7 66.5h0M294.4 118.3h0M291.1 109.4h0M281.2 76.2h0M270.7 51.5h0M272.7 49.1h0M289.6 115.8h0M290.8 94.9h0M293.1 96.5h0M282.8 75.0h0M290.9 99.9h0M289.7 85.7h0M286.1 108.1h0M296.9 104.3h0M289.6 117.6h0M271.6 74.9h0M283.2 57.8h0M288.2 113.3h0M289.6 112.1h0M296.2 114.9h0M291.8 104.7h0M295.0 91.8h0M282.4 97.4h0M295.7 110.4h0M286.5 99.4h0M282.4 98.0h0M271.6 55.9h0M295.8 106.4h0M291.5 113.8h0M284.2 84.8h0M291.9 109.1h0M295.6 104.4h0M295.3 108.3h0M275.1 79.4h0M277.2 47.6h0M282.7 62.2h0M289.1 118.1h0M285.8 62.4h0M289.0 120.3h0M294.0 100.4h0M292.4 89.6h0M276.8 68.9h0M281.5 70.4h0M286.3 100.2h0M281.2 52.8h0M288.6 84.2h0M294.4 97.5h0M295.9 102.6h0M289.7 100.3h0M289.7 113.9h0M279.6 83.2h0M286.9 99.8h0M280.3 53.9h0M279.8 79.4h0M268.7 46.2h0M293.2 89.7h0M285.6 102.0h0M294.0 122.6h0M294.1 117.1h0M277.6 57.6h0M283.2 102.7h0M288.5 105.3h0M282.4 84.5h0M271.9 53.4h0M288.3 106.7h0M276.1 55.2h0M290.0 89.4h0M288.8 105.3h0M282.2 84.6h0M293.8 105.2h0M284.4 76.9h0M273.4 70.6h0M284.4 58.2h0M277.6 65.0h0M292.3 122.1h0M294.0 116.4h0M289.5 104.1h0M275.9 59.6h0M293.6 117.4h0M281.0 53.1h0M277.1 73.1h0M291.1 94.9h0M294.8 122.3h0M277.4 59.5h0M286.0 77.0h0M292.9 119.9h0M291.2 84.8h0M284.8 96.8h0M287.6 101.8h0M287.3 98.8h0M287.4 84.6h0M296.7 100.0h0M271.6 50.8h0M296.1 115.3h0M281.5 53.2h0M286.3 80.7h0M276.7 73.1h0M290.5 107.8h0M289.1 78.0h0M280.0 70.4h0M274.2 69.8h0M275.8 53.5h0M290.3 102.4h0M271.6 69.7h0M279.8 55.7h0M282.2 76.7h0M288.1 101.2h0M273.7 59.6h0M293.5 117.3h0M287.0 78.2h0M295.1 99.1h0M292.6 99.8h0M292.5 100.3h0M294.4 99.0h0M286.5 63.4h0M284.5 105.5h0M277.8 51.4h0M273.2 51.5h0M279.1 63.1h0M277.1 87.1h0M274.9 73.1h0M290.5 116.9h0M274.6 46.3h0M288.0 113.6h0M276.5 49.9h0M283.5 68.5h0M273.9 52.6h0M293.9 123.0h0M277.8 78.0h0M289.3 96.1h0M279.7 77.9h0M297.1 118.0h0M272.1 74.7h0M271.4 53.5h0M277.0 75.0h0M286.4 102.3h0M277.7 67.5h0M282.7 79.7h0M288.4 77.8h0M295.0 100.3h0M271.0 50.6h0M286.0 64.9h0M271.4 67.5h0M291.9 77.3h0M292.1 108.0h0M284.0 96.7h0M275.6 66.9h0M284.8 65.9h0M286.2 94.7h0M295.5 124.0h0M276.9 65.3h0M294.6 107.8h0M288.9 109.2h0M276.3 57.3h0M280.3 84.1h0M276.1 49.7h0M279.0 81.5h0M294.6 118.3h0M270.5 53.8h0M273.4 46.1h0M296.8 102.8h0M277.6 61.2h0M290.4 81.6h0M294.0 101.5h0M271.9 49.6h0M281.6 73.2h0M269.9 52.4h0M288.0 83.1h0M275.2 52.5h0M269.5 47.6h0M291.7 118.5h0M285.7 68.8h0M282.4 60.9h0M287.1 69.2h0M277.3 60.2h0M289.0 115.6h0M278.8 51.3h0M285.9 70.5h0M282.2 87.3h0M293.4 111.7h0M276.0 83.0h0M281.7 93.9h0M282.2 86.9h0M274.4 59.3h0M290.4 98.5h0M290.8 74.1h0M288.4 69.1h0M275.9 57.3h0M290.5 114.0h0M270.3 54.4h0M281.8 70.2h0M278.1 75.0h0M278.2 82.5h0M289.9 110.4h0M273.5 77.5h0M285.7 84.3h0M289.2 108.5h0M287.3 63.7h0M277.5 48.4h0M288.5 117.5h0M291.8 118.9h0M296.6 116.3h0M272.4 46.5h0M281.6 99.7h0M284.3 100.3h0M296.9 120.8h0M277.1 57.8h0M289.3 81.6h0M294.5 100.3h0M284.1 96.8h0M290.6 92.5h0M290.7 113.7h0M283.6 75.3h0M292.6 93.7h0M281.5 58.0h0M283.3 77.5h0M281.2 79.7h0M284.6 73.3h0M287.5 87.9h0M285.8 79.7h0M292.7 109.6h0M290.4 88.8h0M283.2 57.1h0M287.5 87.2h0M292.5 120.8h0M286.7 100.2h0M289.3 101.5h0M286.7 65.0h0M276.8 51.3h0M277.3 67.5h0M291.2 109.0h0M271.0 72.0h0M267.5 62.9h0M285.1 70.1h0M289.7 113.0h0M292.9 121.8h0M284.3 57.7h0M295.6 112.2h0M272.0 54.1h0M285.2 89.7h0M287.6 103.7h0M290.7 110.5h0M287.3 68.5h0M277.1 64.9h0M274.2 65.8h0M292.0 94.6h0M272.7 65.4h0M281.1 77.4h0M287.2 64.1h0M297.0 110.6h0M270.8 47.1h0M278.4 53.0h0M276.1 48.6h0M286.2 96.2h0M289.3 90.8h0M288.8 79.7h0M284.9 87.3h0M273.1 66.9h0M295.5 110.1h0M285.9 77.2h0M272.0 51.0h0M279.6 82.1h0M286.8 77.5h0M286.8 104.1h0M281.3 65.6h0M274.4 54.7h0M293.6 85.9h0M287.2 106.9h0M279.1 51.3h0M276.5 66.9h0M286.3 101.9h0M289.9 104.5h0M291.0 119.4h0M284.1 78.8h0M290.8 117.1h0M275.0 67.3h0M267.9 46.1h0M280.4 96.2h0M285.0 89.8h0M289.9 112.7h0M293.1 84.7h0M288.0 67.7h0M297.0 115.5h0M289.5 85.3h0M284.4 63.5h0M277.5 60.1h0M294.3 122.1h0M292.0 94.9h0M285.9 61.0h0M282.7 56.2h0M292.2 89.7h0M280.5 72.5h0M297.1 120.1h0M292.3 87.2h0M290.8 109.4h0M276.1 62.0h0M295.3 99.0h0M286.4 69.7h0M295.4 90.7h0M274.7 50.4h0M286.1 85.5h0M282.4 91.9h0M283.7 87.3h0M285.0 84.1h0M295.5 123.5h0M282.5 94.2h0M287.7 105.0h0M268.3 47.5h0M291.1 109.9h0M282.2 63.1h0M276.1 81.7h0M286.7 105.7h0M279.5 78.1h0M294.8 123.1h0M284.8 68.5h0M274.4 68.6h0M271.5 46.9h0M270.8 48.6h0M272.8 74.3h0M290.7 113.9h0M291.8 114.7h0M288.7 95.2h0M293.5 89.9h0M282.8 58.0h0M285.5 65.5h0M289.9 96.2h0M290.2 107.5h0M270.9 60.2h0M290.5 123.5h0M292.9 93.4h0M267.6 55.1h0M288.0 95.5h0M296.5 121.8h0M276.6 71.3h0M282.6 97.3h0M284.8 91.1h0M290.2 104.1h0M295.2 122.1h0M295.7 103.5h0M290.8 104.0h0M270.8 54.8h0M297.1 121.8h0M273.3 60.7h0M275.9 65.7h0M282.3 69.7h0M275.4 73.0h0M297.6 121.1h0M292.4 89.1h0M286.7 68.6h0M285.5 86.4h0M280.4 67.7h0M286.9 79.7h0M284.0 102.9h0M286.4 62.6h0M282.9 80.3h0M286.0 95.1h0M275.8 50.0h0M293.5 123.6h0M277.1 80.3h0M267.9 48.5h0M280.5 91.4h0M289.4 105.1h0M288.0 94.7h0M273.2 66.7h0M289.5 72.0h0M293.6 101.8h0M269.6 50.5h0M294.2 89.9h0M283.7 77.0h0M284.8 97.5h0M275.1 60.5h0M288.3 109.7h0M272.8 59.5h0M280.5 82.8h0M295.6 95.8h0M276.2 64.2h0M283.0 76.0h0M279.2 67.8h0M281.8 90.1h0M296.7 115.0h0M284.0 102.3h0M292.1 90.7h0M295.0 105.8h0M268.8 56.3h0M277.6 48.1h0M297.4 114.4h0M294.3 121.6h0M289.0 78.3h0M297.2 115.6h0M285.5 75.2h0M289.3 113.7h0M292.5 91.2h0M284.5 98.8h0M292.5 114.8h0M283.5 68.4h0M280.8 58.8h0M291.9 109.7h0M293.6 102.7h0M286.5 78.7h0M287.0 94.2h0M288.1 98.7h0M287.6 118.2h0M285.6 65.0h0M282.4 90.1h0M284.6 65.7h0M284.1 59.8h0M291.4 94.0h0M292.2 107.1h0M294.2 118.2h0M282.5 58.3h0M284.4 57.3h0M295.4 100.2h0M288.1 92.0h0M280.5 63.2h0M295.9 110.9h0M291.5 110.3h0M288.0 78.0h0M286.4 98.0h0M275.0 66.4h0M286.2 79.6h0M270.9 53.8h0M284.6 101.3h0M274.2 51.6h0M283.4 68.6h0M287.3 114.5h0M295.5 114.5h0M296.7 124.0h0M289.1 96.8h0M280.4 81.8h0M291.2 92.6h0M286.2 113.6h0M283.9 98.1h0M276.8 53.0h0M292.9 106.1h0M286.0 97.4h0M292.6 109.9h0M279.7 63.7h0M271.4 51.1h0M281.9 81.3h0M283.1 62.0h0M287.0 101.1h0M289.4 96.7h0M292.2 118.1h0M262.2 61.1h0M296.2 100.0h0M272.8 49.3h0M291.0 113.3h0M288.7 119.4h0M278.4 70.3h0M288.0 102.5h0M285.1 91.4h0M293.1 106.5h0M275.9 50.9h0M283.8 105.9h0M272.4 58.8h0M276.6 60.5h0M294.9 123.9h0M295.5 112.5h0M277.7 69.7h0M294.6 122.3h0M287.3 102.6h0M286.4 101.7h0M282.5 86.9h0M296.1 115.3h0M285.0 69.7h0M294.8 94.4h0M284.2 73.5h0M292.9 96.4h0M292.0 98.3h0M287.3 102.7h0M296.8 120.3h0M280.2 54.3h0M295.0 106.5h0M273.5 53.2h0M282.9 94.7h0M294.5 121.0h0M289.8 100.1h0M283.0 68.5h0M284.8 59.0h0M277.2 56.8h0M284.7 92.9h0M285.0 83.5h0M282.0 93.7h0M281.9 86.6h0M286.2 80.7h0M269.1 50.9h0M278.1 87.1h0M293.1 106.5h0M290.1 105.4h0M283.3 88.5h0M290.4 96.9h0M287.5 106.2h0M274.8 51.5h0M288.5 116.4h0M285.0 84.0h0M272.1 62.1h0M289.3 78.2h0M279.5 55.1h0M291.1 117.2h0M290.4 108.3h0M279.8 91.1h0M269.8 57.2h0M279.9 70.2h0M290.3 113.6h0" stroke="#1a4b86" stroke-width="1.7" stroke-linecap="round" fill="none"/>
<path d="M281.1 83.9h0M282.9 71.1h0M291.5 109.0h0M293.9 100.1h0M292.6 96.5h0M291.8 100.3h0M287.6 69.4h0M284.6 60.6h0M278.4 64.6h0M295.1 111.3h0M290.6 88.3h0M293.3 116.5h0M288.6 78.8h0M280.7 82.3h0M292.8 97.6h0M295.7 109.1h0M288.9 84.8h0M290.5 88.0h0M287.7 80.6h0M282.4 73.8h0M291.8 112.6h0M293.2 112.5h0M285.2 85.3h0M285.7 68.1h0M295.7 110.5h0M293.2 86.9h0M291.0 103.3h0M291.6 84.2h0M285.7 64.7h0M288.6 103.3h0M281.8 66.1h0M292.3 114.4h0M277.1 69.8h0M284.8 79.8h0M282.0 60.2h0M279.2 72.7h0M289.6 97.7h0M280.8 65.3h0M281.9 66.6h0M276.1 63.5h0" stroke="#5d86b8" stroke-width="0.9" stroke-linecap="round" fill="none"/>
<path d="M262.0 31.7h0M269.7 41.3h0M265.4 44.7h0M262.5 50.0h0M245.2 52.4h0M259.6 53.8h0M248.6 62.0h0M260.6 58.7h0M257.2 65.4h0M264.0 65.9h0M247.1 68.3h0M269.7 49.5h0M267.8 52.9h0M271.0 57.0h0M268.5 62.0h0M266.0 72.5h0M268.0 77.0h0M270.5 83.0h0M265.0 91.0h0M262.0 100.0h0M276.0 107.0h0M271.0 110.0h0M278.0 120.0h0M280.0 116.0h0M275.0 113.0h0M282.0 109.0h0M284.0 121.0h0M268.0 121.0h0M272.0 103.0h0M273.0 88.0h0M276.0 96.0h0" stroke="#173f6e" stroke-width="1.9" stroke-linecap="round" fill="none"/>
<path d="M321.2 119.4h0M320.1 119.0h0M316.9 105.4h0M320.6 114.8h0M321.0 105.4h0M320.4 112.8h0M316.7 107.3h0M320.0 96.9h0M318.9 105.4h0M319.6 117.3h0M317.2 95.5h0M317.8 115.3h0M319.6 107.9h0M317.4 111.9h0M319.6 116.7h0M317.7 104.2h0M317.3 123.8h0M318.7 95.6h0M316.5 118.0h0M318.0 120.5h0M317.0 119.9h0M320.1 120.5h0M319.9 116.2h0M317.6 124.2h0M317.5 99.0h0M318.4 121.3h0M318.7 111.0h0M320.3 113.9h0M319.9 98.3h0M319.3 102.1h0M319.6 106.4h0M318.0 99.2h0M320.2 122.5h0M320.7 102.5h0M318.5 113.9h0M316.9 119.5h0M319.5 117.7h0M318.7 96.2h0M319.4 104.9h0M318.4 101.6h0M318.8 105.5h0M320.8 100.2h0M319.2 108.9h0M320.0 95.9h0M321.2 109.8h0M316.7 106.2h0M319.2 124.2h0M317.7 112.6h0M316.7 110.2h0M316.9 118.4h0M318.5 99.0h0M316.8 115.2h0M318.1 117.0h0M321.2 103.0h0M317.8 113.3h0M317.0 101.0h0M318.3 122.3h0M321.3 101.7h0M320.9 113.6h0M318.4 112.3h0M316.9 124.1h0M321.8 105.0h0M319.5 116.0h0M319.1 101.6h0M319.1 100.1h0M317.5 118.7h0M318.5 96.5h0M319.5 99.5h0M320.2 118.0h0M320.2 103.6h0M317.3 115.0h0M318.7 100.6h0M318.4 122.7h0M318.9 121.7h0M321.1 108.6h0M318.7 104.8h0M318.8 96.8h0M319.3 113.6h0M318.5 121.1h0M320.4 117.4h0M317.4 117.0h0M319.1 99.8h0M317.9 120.3h0M319.4 108.1h0M318.1 96.5h0M318.7 100.7h0M316.7 109.5h0M318.3 98.0h0M321.0 111.4h0M319.4 122.0h0M318.6 124.4h0M320.8 113.6h0M318.2 104.1h0M319.2 104.1h0M319.4 124.5h0M319.9 123.5h0M317.5 102.2h0M320.2 109.5h0M319.7 110.1h0M319.9 96.4h0M317.8 95.3h0M320.4 97.7h0M316.7 115.6h0M321.1 110.6h0M320.6 108.7h0M321.0 115.7h0M318.2 122.0h0M320.1 98.4h0M317.2 95.2h0M321.2 110.2h0M320.5 114.5h0M321.1 118.9h0M320.1 121.0h0M318.7 103.5h0M318.1 103.4h0M316.7 117.8h0M318.1 118.2h0M318.3 106.5h0M321.1 100.6h0M319.9 107.4h0M318.4 95.5h0M319.4 103.2h0M321.0 110.2h0M319.5 122.5h0M320.2 121.8h0M319.6 115.1h0M319.1 109.5h0M317.8 109.7h0M317.4 96.7h0M321.4 103.3h0M321.2 107.0h0M317.7 101.8h0M318.7 121.8h0M317.8 103.2h0M318.6 117.0h0M318.0 106.8h0M320.5 120.5h0M317.7 106.4h0M319.9 124.2h0M320.1 108.8h0M319.3 118.6h0M318.8 96.0h0M320.4 119.8h0M318.6 101.0h0M318.2 107.2h0M318.0 96.6h0M317.0 115.1h0M320.7 111.4h0M319.5 113.7h0M319.1 116.6h0M320.7 109.4h0M320.1 118.3h0M319.5 122.3h0M317.0 124.4h0M320.8 112.6h0M321.6 108.8h0M317.4 122.2h0M318.7 109.0h0M317.4 95.1h0M318.6 117.6h0M322.6 102.7h0M322.0 103.9h0M322.5 99.9h0M322.5 121.7h0M325.2 113.1h0M325.8 121.4h0M321.5 98.2h0M322.7 110.8h0M326.0 97.7h0M324.5 117.6h0M322.3 116.9h0M325.3 99.4h0M324.3 109.3h0M324.9 100.9h0M324.3 97.3h0M321.2 108.2h0M322.7 108.2h0M322.1 122.9h0M323.1 109.9h0M322.8 119.9h0M321.8 121.2h0M322.0 119.8h0" stroke="#b80f2c" stroke-width="1.7" stroke-linecap="round" fill="none"/>
<path d="M327.5 69.5h0M324.0 72.5h0M321.0 80.0h0M318.5 83.0h0M328.0 82.0h0M325.0 90.0h0M322.0 94.0h0M319.5 92.0h0" stroke="#b80f2c" stroke-width="1.8" stroke-linecap="round" fill="none"/>
<line x1="297.2" y1="35.2" x2="297.2" y2="150" stroke="#222" stroke-width="1.1" stroke-dasharray="3.2,3.3"/>
<line x1="316" y1="42.4" x2="316" y2="150" stroke="#222" stroke-width="1.1" stroke-dasharray="3.2,3.3"/>
<line x1="238.9" y1="126" x2="333" y2="126" stroke="#222" stroke-width="1.1" stroke-dasharray="3.2,3.3"/>
<line x1="238.9" y1="26.8" x2="238.9" y2="150.9" stroke="#222" stroke-width="1.1"/>
<line x1="238.4" y1="150.4" x2="333" y2="150.4" stroke="#222" stroke-width="1.1"/>
<line x1="236.9" y1="144.2" x2="238.9" y2="144.2" stroke="#222" stroke-width="0.9"/>
<text x="235.1" y="146.3" font-size="5.9" text-anchor="end" fill="#222" stroke="#222" stroke-width="0.12">0</text>
<line x1="236.9" y1="116.2" x2="238.9" y2="116.2" stroke="#222" stroke-width="0.9"/>
<text x="235.1" y="118.3" font-size="5.9" text-anchor="end" fill="#222" stroke="#222" stroke-width="0.12">2</text>
<line x1="236.9" y1="88.2" x2="238.9" y2="88.2" stroke="#222" stroke-width="0.9"/>
<text x="235.1" y="90.3" font-size="5.9" text-anchor="end" fill="#222" stroke="#222" stroke-width="0.12">4</text>
<line x1="236.9" y1="60.2" x2="238.9" y2="60.2" stroke="#222" stroke-width="0.9"/>
<text x="235.1" y="62.3" font-size="5.9" text-anchor="end" fill="#222" stroke="#222" stroke-width="0.12">6</text>
<line x1="236.9" y1="32.2" x2="238.9" y2="32.2" stroke="#222" stroke-width="0.9"/>
<text x="235.1" y="34.3" font-size="5.9" text-anchor="end" fill="#222" stroke="#222" stroke-width="0.12">8</text>
<line x1="259.6" y1="150.4" x2="259.6" y2="152.4" stroke="#222" stroke-width="0.9"/>
<text x="259.6" y="161" font-size="5.9" text-anchor="middle" fill="#222" stroke="#222" stroke-width="0.12">&#8722;5.0</text>
<line x1="283.1" y1="150.4" x2="283.1" y2="152.4" stroke="#222" stroke-width="0.9"/>
<text x="283.1" y="161" font-size="5.9" text-anchor="middle" fill="#222" stroke="#222" stroke-width="0.12">&#8722;2.5</text>
<line x1="306.6" y1="150.4" x2="306.6" y2="152.4" stroke="#222" stroke-width="0.9"/>
<text x="306.6" y="161" font-size="5.9" text-anchor="middle" fill="#222" stroke="#222" stroke-width="0.12">0.0</text>
<line x1="330.1" y1="150.4" x2="330.1" y2="152.4" stroke="#222" stroke-width="0.9"/>
<text x="330.1" y="161" font-size="5.9" text-anchor="middle" fill="#222" stroke="#222" stroke-width="0.12">2.5</text>
<text x="222.9" y="88.5" font-size="7.2" text-anchor="middle" fill="#222" font-weight="bold" transform="rotate(-90 222.9 88.5)" textLength="39.5" lengthAdjust="spacingAndGlyphs">&#8722;Log<tspan font-size="4.6" dy="1.8">10</tspan><tspan dy="-1.8">(</tspan><tspan font-style="italic">P</tspan> value)</text>
<text x="286.6" y="172.4" font-size="7.4" text-anchor="middle" fill="#222" font-weight="bold" textLength="39.5" lengthAdjust="spacingAndGlyphs">Log<tspan font-size="4.8" dy="1.8">2</tspan><tspan dy="-1.8">FoldChange</tspan></text>
<text x="285.5" y="15.9" font-size="5.9" text-anchor="middle" fill="#222" stroke="#222" stroke-width="0.12">PF4-<tspan font-style="italic">Actn1</tspan><tspan font-size="3.5" dy="-2.3">&#8722;/&#8722;</tspan><tspan dy="2.3"> (&#8805;8N) vs </tspan><tspan font-style="italic">Actn1</tspan><tspan font-size="3.5" dy="-2.3">fl/fl</tspan><tspan dy="2.3"> (&#8805;8N)</tspan></text>
<circle cx="304" cy="24.2" r="1.9" fill="#173f70"/>
<text x="308.6" y="26.3" font-size="5.7" text-anchor="start" fill="#222" stroke="#222" stroke-width="0.12">Down expresion</text>
<circle cx="304" cy="32.4" r="1.9" fill="#a30d2a"/>
<text x="308.6" y="34.5" font-size="5.7" text-anchor="start" fill="#222" stroke="#222" stroke-width="0.12">Up expression</text>
<text x="250" y="34.8" font-size="3.1" text-anchor="middle" fill="#555" font-style="italic">Gp1bb</text>
<text x="269.7" y="36.8" font-size="3.1" text-anchor="middle" fill="#555" font-style="italic">Actn1</text>
<text x="244.7" y="44.8" font-size="3.1" text-anchor="middle" fill="#555" font-style="italic">Itgb3</text>
<text x="258.7" y="44.3" font-size="3.1" text-anchor="middle" fill="#555" font-style="italic">Cd9</text>
<text x="282.2" y="48.6" font-size="3.1" text-anchor="middle" fill="#555" font-style="italic">Myh9</text>
<text x="249.5" y="52.4" font-size="3.1" text-anchor="middle" fill="#555" font-style="italic">Gp5</text>
<text x="247.1" y="56.8" font-size="3.1" text-anchor="middle" fill="#555" font-style="italic">Gp1ba</text>
<text x="251.5" y="60.6" font-size="3.1" text-anchor="middle" fill="#555" font-style="italic">Itga2b</text>
<text x="260.6" y="62.1" font-size="3.1" text-anchor="middle" fill="#555" font-style="italic">Vwf</text>
<text x="248.1" y="73.1" font-size="3.1" text-anchor="middle" fill="#555" font-style="italic">Pf4</text>
<text x="261.1" y="71.7" font-size="3.1" text-anchor="middle" fill="#555" font-style="italic">Itgb1</text>
<text x="250.5" y="86.8" font-size="3.1" text-anchor="middle" fill="#555" font-style="italic">Vcl</text>
<text x="264.5" y="94.5" font-size="3.1" text-anchor="middle" fill="#555" font-style="italic">Acta1</text>
<text x="261" y="102.5" font-size="3.1" text-anchor="middle" fill="#555" font-style="italic">Rgs6</text>
<text x="273.5" y="101.5" font-size="3.1" text-anchor="middle" fill="#555" font-style="italic">Rap1</text>
<text x="268" y="114" font-size="3.1" text-anchor="middle" fill="#555" font-style="italic">Sh3</text>
<text x="281" y="116.5" font-size="3.1" text-anchor="middle" fill="#555" font-style="italic">Itgb7</text>
<line x1="242.8" y1="38.5" x2="244.7" y2="40.4" stroke="#111" stroke-width="0.8"/>
<line x1="246.2" y1="37.3" x2="247.6" y2="39.9" stroke="#111" stroke-width="0.8"/>
<line x1="267.6" y1="37.5" x2="267.6" y2="44.2" stroke="#111" stroke-width="0.8"/>
<line x1="251.5" y1="43.3" x2="251.5" y2="48.6" stroke="#111" stroke-width="0.8"/>
<line x1="259.2" y1="44.7" x2="261.6" y2="49.5" stroke="#111" stroke-width="0.8"/>
<line x1="281" y1="49.5" x2="278.5" y2="55" stroke="#111" stroke-width="0.8"/>
<line x1="255.1" y1="48.6" x2="253.4" y2="56.7" stroke="#111" stroke-width="0.8"/>
<line x1="259.6" y1="53.8" x2="258.2" y2="55.8" stroke="#111" stroke-width="0.8"/>
<line x1="256" y1="84.5" x2="270" y2="82" stroke="#111" stroke-width="0.8"/>
<line x1="268" y1="93" x2="277" y2="84" stroke="#111" stroke-width="0.8"/>
<line x1="266" y1="100" x2="276" y2="91" stroke="#111" stroke-width="0.8"/>
<line x1="275" y1="111.5" x2="290" y2="101" stroke="#111" stroke-width="0.8"/>
<line x1="283.5" y1="114" x2="287" y2="104" stroke="#111" stroke-width="0.8"/>
<text x="327.5" y="66.5" font-size="2.9" text-anchor="start" fill="#b21a30" font-style="italic">LP</text>
<text x="312.5" y="73.5" font-size="2.9" text-anchor="start" fill="#444" font-style="italic">Gm10xx</text>
<text x="309" y="81" font-size="2.9" text-anchor="start" fill="#444" font-style="italic">Itga</text>
<text x="320" y="87.5" font-size="2.9" text-anchor="start" fill="#444" font-style="italic">Lrrc7</text>
<text x="324.5" y="92" font-size="2.9" text-anchor="start" fill="#444" font-style="italic">Arhgd</text>
<text x="325" y="97" font-size="2.9" text-anchor="start" fill="#444" font-style="italic">Rasa1</text>
<text x="324.5" y="103" font-size="2.9" text-anchor="start" fill="#444" font-style="italic">Cald1</text>
<text x="326.5" y="108.5" font-size="2.9" text-anchor="start" fill="#444" font-style="italic">Cd47</text>
<text x="326.5" y="113" font-size="2.9" text-anchor="start" fill="#444" font-style="italic">Tpx</text>
<text x="325.5" y="119" font-size="2.9" text-anchor="start" fill="#444" font-style="italic">Rgs2</text>
<line x1="315" y1="81" x2="322" y2="81" stroke="#111" stroke-width="0.65"/>
<line x1="322" y1="88" x2="320" y2="95" stroke="#111" stroke-width="0.65"/>
<line x1="325" y1="93" x2="322" y2="100" stroke="#111" stroke-width="0.65"/>
<line x1="324" y1="104" x2="321" y2="110" stroke="#111" stroke-width="0.65"/>
<line x1="325" y1="109" x2="322" y2="113" stroke="#111" stroke-width="0.65"/>
<path d="M451.0 142.0h0M447.0 135.0h0M446.7 134.1h0M455.8 139.9h0M445.7 132.4h0M444.2 129.4h0M461.3 122.1h0M442.9 126.8h0M449.4 138.9h0M459.1 133.9h0M452.9 143.9h0M461.1 128.4h0M449.8 141.2h0M450.9 143.1h0M450.1 139.4h0M461.4 124.4h0M457.3 134.0h0M457.2 134.5h0M445.1 126.7h0M455.3 137.1h0M453.8 143.6h0M457.3 132.1h0M444.3 128.5h0M450.6 139.3h0M444.7 128.9h0M459.8 125.2h0M446.3 128.0h0M457.3 134.6h0M458.1 134.9h0M457.1 132.4h0M451.6 141.7h0M458.7 130.1h0M451.7 143.9h0M450.1 141.6h0M459.7 126.6h0M451.5 143.9h0M462.6 127.1h0M452.2 143.5h0M460.6 124.1h0M454.6 139.7h0M459.7 127.6h0M449.9 141.1h0M457.2 138.0h0M444.6 124.2h0M456.2 136.7h0M460.7 126.1h0M447.3 135.4h0M458.9 133.6h0M444.4 127.2h0M446.2 135.0h0M445.2 129.8h0M457.0 133.0h0M454.2 139.7h0M443.7 124.5h0M456.2 139.3h0M447.5 133.6h0M456.4 135.0h0M448.5 135.3h0M459.5 128.2h0M458.1 130.1h0M448.5 134.8h0M446.8 130.0h0M450.3 141.6h0M455.8 140.5h0M448.7 135.2h0M447.1 132.8h0M444.7 130.2h0M450.9 139.9h0M452.6 143.9h0M446.1 129.1h0M456.0 140.2h0M454.7 139.1h0M447.1 132.2h0M451.5 141.9h0M445.5 133.2h0M461.4 125.5h0M457.5 133.2h0M455.9 139.4h0M456.8 137.3h0M454.8 139.0h0M458.8 134.2h0M447.0 130.4h0M445.9 127.8h0M445.5 127.8h0M445.6 133.7h0M443.6 121.0h0M461.3 124.0h0M457.7 132.1h0M461.3 121.5h0M451.3 141.6h0M455.5 137.6h0M458.9 128.5h0M453.3 143.9h0M453.2 143.9h0M443.1 128.0h0M450.2 142.4h0M456.7 134.2h0M458.1 130.2h0M453.1 143.9h0M445.6 126.3h0M459.6 126.6h0M457.9 132.5h0M446.1 133.7h0M449.8 137.9h0M460.8 131.4h0M449.0 140.0h0M444.4 129.5h0M454.3 140.0h0M450.4 139.4h0M456.1 136.4h0M451.0 142.3h0M449.3 136.0h0M452.4 143.9h0M447.1 131.2h0M461.1 122.7h0M446.4 133.1h0M460.6 126.3h0M447.7 132.1h0M457.5 132.5h0M452.0 143.9h0M456.6 136.9h0M461.2 123.0h0M448.7 137.6h0M448.4 135.3h0M459.2 132.5h0M454.5 141.9h0M460.1 126.8h0M443.7 129.8h0M444.2 126.6h0M458.3 129.0h0M452.4 143.9h0M456.0 139.5h0M456.1 134.8h0M449.4 137.9h0M445.5 132.4h0M449.6 137.7h0M446.5 131.8h0M458.9 127.9h0M452.5 143.9h0M455.3 139.2h0M461.4 127.1h0M456.3 138.9h0M460.1 130.2h0M448.9 135.7h0M460.1 124.5h0M450.2 141.5h0M448.2 135.2h0M449.3 138.6h0M459.4 126.5h0M450.6 142.4h0M450.7 143.2h0M447.7 134.3h0M445.7 132.9h0M452.1 143.9h0M456.4 134.8h0M459.9 125.3h0M461.4 128.0h0M447.2 133.5h0M449.4 137.7h0M454.2 139.6h0M450.9 143.3h0M454.0 143.4h0M454.0 143.4h0M448.7 134.3h0M457.7 134.3h0M446.2 128.7h0M451.9 143.9h0M456.0 136.6h0M454.0 141.0h0M450.3 138.7h0M456.6 133.5h0M453.0 142.7h0M445.1 130.6h0M460.1 128.0h0M453.3 143.5h0M457.7 132.4h0M448.0 133.1h0M461.5 125.2h0M447.4 131.1h0M454.2 139.5h0M460.0 125.3h0M458.0 135.5h0M448.1 135.6h0M456.4 135.9h0M450.7 142.7h0M447.4 134.0h0M457.4 132.8h0M449.9 138.7h0M460.4 125.6h0M454.2 141.6h0M451.8 142.9h0M457.0 133.4h0M447.5 131.8h0M456.1 136.2h0M451.6 142.1h0M447.5 134.9h0M456.5 139.1h0M453.4 143.9h0M445.9 132.4h0M444.4 124.3h0M444.1 122.4h0M457.9 131.8h0M449.6 139.8h0M447.3 136.0h0M445.9 134.4h0M460.2 127.5h0M461.6 128.2h0M450.7 140.2h0M451.3 142.6h0M460.0 126.7h0M453.7 141.6h0M451.4 141.0h0M453.4 143.5h0M454.4 142.4h0M452.9 143.4h0M446.1 130.7h0M456.7 134.2h0M446.9 129.9h0M453.7 141.9h0M458.7 128.8h0M454.8 138.3h0M446.2 128.2h0M455.5 139.4h0M451.1 143.3h0M458.8 133.9h0M455.5 137.9h0M450.8 142.4h0M448.2 133.9h0M462.9 126.9h0M455.7 139.7h0M443.2 127.0h0M454.4 139.8h0M447.9 135.8h0M461.1 128.0h0M449.1 135.9h0M447.7 133.1h0M452.5 143.9h0M447.8 134.9h0M455.6 139.5h0M459.7 126.5h0M460.1 124.8h0M451.6 143.9h0M460.8 124.8h0M456.2 137.8h0M443.1 126.4h0M459.5 126.5h0M448.8 136.1h0M461.6 129.5h0M445.9 129.3h0M444.6 123.9h0M446.5 135.2h0M460.9 123.4h0M455.1 139.9h0M451.4 143.9h0M444.0 123.7h0M444.5 131.0h0M458.7 130.6h0M443.9 129.3h0M458.3 134.8h0M452.3 143.9h0M445.0 131.2h0M448.5 135.6h0M460.3 124.0h0M449.1 139.2h0M450.5 142.4h0M457.0 133.2h0M452.3 143.9h0M455.9 138.6h0M452.5 143.9h0M460.0 125.5h0M455.3 140.5h0M451.6 141.7h0M453.5 141.4h0M445.7 127.4h0M445.7 130.2h0M457.7 132.8h0M449.0 136.0h0M453.3 143.8h0M447.8 134.0h0M450.0 138.7h0M443.3 126.8h0M446.8 131.5h0M456.7 137.4h0M460.2 128.8h0M448.0 132.4h0M445.2 132.1h0M450.0 138.8h0M449.4 137.3h0M446.1 128.9h0M451.9 143.5h0M455.5 140.3h0M450.4 140.8h0M458.4 131.8h0M453.3 142.1h0M456.3 137.8h0M448.4 136.7h0M446.4 128.8h0M449.0 137.3h0M450.2 138.7h0M447.9 132.4h0M457.0 137.8h0M457.1 135.9h0M444.7 127.0h0M450.3 140.4h0M445.4 130.0h0M456.8 134.0h0M455.1 138.4h0M456.1 136.6h0M456.5 134.0h0M458.0 132.5h0M449.3 137.2h0M459.7 129.1h0M450.8 141.0h0M454.1 141.1h0M456.9 134.6h0M448.0 132.8h0M451.6 141.8h0M446.2 128.4h0M449.5 140.6h0M452.7 143.8h0M452.0 143.6h0M443.2 127.3h0M452.7 143.9h0M455.3 137.5h0M445.5 126.7h0M445.3 126.1h0M460.8 123.2h0M452.2 143.5h0M448.6 134.1h0M449.8 137.8h0M457.2 138.0h0M446.1 130.2h0M454.9 142.1h0M443.5 126.1h0M450.5 140.5h0M456.7 136.8h0M450.1 141.2h0M454.2 140.2h0M446.1 128.5h0M459.0 133.5h0M445.5 129.9h0M443.6 121.4h0M456.3 136.8h0M451.0 141.4h0M451.5 142.4h0M448.0 137.9h0M443.5 125.7h0M445.8 128.7h0M454.8 138.0h0M450.7 141.5h0M454.0 140.3h0M450.9 140.6h0M458.8 133.8h0M454.4 142.0h0M450.7 143.2h0M457.0 137.5h0M445.5 130.9h0M456.0 138.2h0M460.7 124.2h0M444.6 127.6h0M446.7 135.8h0M461.1 125.4h0M458.9 131.5h0M461.1 126.0h0M446.3 135.3h0M447.6 131.8h0M458.3 133.0h0M460.1 125.6h0M461.3 128.6h0M455.5 136.3h0M458.0 131.6h0M444.9 126.4h0M451.7 143.9h0M456.9 134.3h0M449.0 137.4h0M453.3 143.9h0M455.5 136.7h0M460.3 130.3h0M452.5 143.9h0M451.5 143.9h0M447.7 133.1h0M456.5 137.5h0M459.4 128.5h0M457.3 132.4h0M447.0 135.6h0M448.9 135.9h0M459.7 125.5h0M444.7 125.3h0M452.5 143.9h0M446.0 134.8h0M445.1 125.4h0M447.7 131.5h0M460.4 124.5h0M449.2 135.7h0M451.9 142.6h0M443.7 125.2h0M447.1 131.6h0M452.4 143.9h0M454.7 140.2h0M448.4 135.4h0M447.6 136.5h0M461.5 128.4h0M450.7 141.8h0M448.2 137.3h0M443.9 130.8h0M454.0 142.8h0M459.7 131.4h0M444.2 124.2h0M449.8 140.9h0M457.3 132.4h0M445.0 130.8h0M460.3 123.9h0M449.0 135.1h0M451.0 140.2h0M450.2 138.3h0M443.3 129.4h0M445.2 132.6h0M457.2 133.4h0M449.9 138.6h0M447.8 134.9h0M444.9 128.6h0M452.3 143.8h0M455.2 140.1h0M457.5 134.3h0M451.7 142.8h0M457.5 131.3h0M453.8 143.4h0M451.5 142.7h0M456.5 137.8h0M448.9 137.4h0M459.1 131.1h0M446.5 135.6h0M449.2 138.5h0M453.6 143.9h0M446.9 129.6h0M449.0 136.6h0M456.3 135.3h0M458.1 135.0h0M442.8 128.7h0M443.8 128.5h0M453.9 143.8h0M458.1 130.7h0M451.7 143.9h0M460.2 127.3h0M454.2 139.7h0M450.3 141.6h0M453.9 140.4h0M445.8 132.1h0M446.0 130.2h0M456.4 134.0h0M453.1 143.8h0M452.1 143.9h0M443.5 125.8h0M449.4 139.0h0M447.4 136.6h0M451.7 143.9h0M453.0 143.3h0M451.2 141.2h0M453.1 143.1h0M447.7 137.8h0M453.9 143.3h0M455.3 138.4h0M452.6 143.9h0M443.8 126.0h0M444.8 126.3h0M449.9 140.6h0M446.4 129.3h0M450.8 141.7h0M446.4 129.4h0M450.2 140.3h0M448.2 135.5h0M458.4 130.1h0M457.0 136.5h0M461.3 127.5h0M455.4 139.2h0M450.0 141.5h0M446.0 129.3h0M444.7 127.5h0M460.9 127.4h0M442.4 126.7h0M452.1 142.8h0M458.6 132.7h0M451.0 140.7h0M448.7 137.2h0M459.4 127.0h0M453.0 143.9h0M446.9 133.9h0M447.9 133.7h0M446.4 135.0h0M454.8 139.7h0M446.7 132.0h0M451.9 143.8h0M451.3 141.3h0M456.6 134.7h0M458.9 129.4h0M460.1 125.7h0M455.6 140.8h0M448.3 137.6h0M453.6 141.2h0M454.4 140.2h0M443.5 128.0h0M456.6 138.7h0M444.8 126.5h0M454.1 140.9h0M444.7 126.2h0M451.1 141.8h0M451.3 141.9h0M452.5 143.9h0M447.3 133.0h0M459.6 131.4h0M458.4 135.1h0M452.2 143.9h0M458.5 130.3h0M458.0 132.4h0M453.9 140.7h0M457.4 132.8h0M451.0 141.8h0M457.9 136.5h0M460.2 129.2h0M448.2 135.5h0M455.1 138.4h0M461.0 124.1h0M453.0 143.9h0M446.5 130.9h0M461.2 129.9h0M451.3 143.2h0M454.0 140.3h0M461.1 129.4h0M461.2 122.9h0M453.5 143.9h0M460.0 131.5h0M449.3 136.0h0M452.6 143.7h0M448.4 135.3h0M450.4 139.5h0M452.2 143.9h0M445.2 126.5h0M449.0 135.0h0M453.0 143.9h0M447.2 136.0h0M449.8 138.6h0M458.3 131.3h0M452.5 143.9h0M443.5 124.2h0M448.4 135.6h0M453.5 143.4h0M448.2 138.3h0M461.9 126.8h0M454.7 141.4h0M451.4 142.0h0M456.3 135.7h0M460.7 123.3h0M447.6 133.7h0M445.0 125.1h0M456.2 135.4h0M444.9 129.6h0M460.0 129.1h0M455.1 138.2h0M461.0 128.6h0M458.9 130.9h0M446.9 132.1h0M450.1 140.2h0M445.0 125.8h0M453.6 141.4h0M445.5 129.4h0M451.4 143.8h0M455.5 137.8h0M454.7 139.5h0M460.2 127.6h0M447.1 132.3h0M459.7 125.6h0M452.6 143.9h0M447.3 132.2h0M457.2 135.2h0M452.5 143.9h0M450.8 140.0h0M449.9 140.2h0M442.5 127.6h0M448.2 135.5h0M447.5 134.5h0M443.0 128.0h0M461.3 129.1h0M456.6 133.8h0M455.1 139.5h0M458.7 130.7h0M458.5 130.2h0M444.9 125.2h0M461.9 127.1h0M451.2 140.6h0M458.8 127.8h0M457.7 132.7h0M449.6 136.4h0M455.9 139.7h0M451.5 143.9h0M445.9 128.8h0M451.0 140.5h0M445.2 127.2h0M459.1 128.9h0M447.6 136.7h0M447.6 137.2h0M453.6 143.6h0M448.3 137.9h0M447.9 137.2h0M452.4 143.9h0M462.1 126.6h0M445.1 127.9h0M461.1 125.0h0M446.4 131.0h0M444.9 124.6h0M454.4 139.2h0M450.5 139.8h0M458.7 130.0h0M451.3 142.7h0M445.6 129.2h0M446.1 129.9h0M458.9 134.4h0M461.9 127.0h0M449.7 138.1h0M451.7 143.9h0M443.3 126.8h0M461.5 126.3h0M458.2 136.0h0M461.1 123.6h0M454.8 139.7h0M452.9 143.9h0M442.7 127.3h0M458.5 128.7h0M455.4 140.5h0M455.2 139.7h0M452.2 143.9h0M449.1 135.3h0M448.5 134.3h0M451.0 141.1h0M448.5 139.3h0M446.9 131.5h0M459.2 128.8h0M449.2 139.3h0M449.0 136.2h0M452.7 143.9h0M444.8 124.3h0M458.0 130.9h0M461.6 127.8h0M453.2 142.3h0M447.5 131.0h0M454.2 141.3h0M457.2 133.5h0M460.9 129.8h0M456.4 136.1h0M461.4 124.9h0M443.9 124.4h0M449.7 140.7h0M454.6 140.5h0M462.7 126.6h0M455.5 137.9h0M446.9 135.3h0M456.8 138.2h0M450.6 142.9h0M443.7 123.1h0M461.7 127.0h0M445.8 128.7h0M446.7 132.9h0M456.5 136.6h0M450.4 138.6h0M449.0 139.7h0M457.4 134.5h0M454.3 140.5h0M448.6 133.8h0M449.4 137.2h0M450.6 140.4h0M458.3 132.0h0M460.8 126.9h0M448.8 136.4h0M456.3 134.6h0M456.8 138.4h0M457.3 135.5h0M459.4 126.1h0M453.7 141.8h0M445.9 129.1h0M444.1 125.0h0M444.1 131.2h0M447.0 132.8h0M450.7 139.2h0M460.4 128.4h0M444.6 126.5h0M458.2 130.3h0M459.4 129.3h0M455.1 141.8h0M445.7 131.6h0M461.2 125.4h0M446.9 134.4h0M451.6 141.7h0M460.9 123.0h0M457.6 131.5h0M451.5 142.9h0M447.8 134.7h0M454.8 142.0h0M445.2 132.0h0M461.3 126.5h0M446.8 132.3h0M446.3 134.8h0M459.1 129.4h0M452.9 143.9h0M449.6 138.4h0M454.3 140.2h0M446.9 131.3h0M446.0 131.3h0M453.6 143.5h0M455.4 139.0h0M446.9 131.7h0M444.3 129.3h0M461.2 127.0h0M452.6 143.9h0M453.4 143.9h0M452.5 143.9h0M443.7 122.7h0M453.6 143.9h0M448.0 134.7h0M448.9 135.0h0M448.2 136.4h0M449.8 138.7h0M453.0 143.9h0M454.9 140.4h0M460.6 128.0h0M453.9 143.7h0M451.3 142.5h0M443.8 126.6h0M454.3 143.0h0M443.6 122.4h0M457.9 135.0h0M456.1 135.5h0M461.3 125.6h0M459.6 131.9h0M455.9 137.3h0M455.8 135.7h0M457.7 136.5h0M454.8 140.5h0M457.6 134.7h0M445.0 131.2h0M458.6 129.5h0M453.6 141.2h0M447.2 132.2h0M452.4 143.9h0M461.7 126.9h0M448.7 135.4h0M444.1 126.4h0M450.0 139.7h0M450.8 141.9h0M457.9 132.2h0M452.4 143.9h0M446.2 131.8h0M444.3 124.9h0M451.3 142.3h0M450.2 141.6h0M447.8 136.5h0M457.2 132.6h0M448.0 136.2h0M453.9 142.2h0M460.0 125.4h0M445.9 134.4h0M448.5 136.7h0M448.0 132.7h0M459.0 132.4h0M448.2 133.1h0M458.1 130.8h0M458.0 131.0h0M449.0 135.8h0M455.1 140.7h0M444.7 127.8h0M461.5 123.7h0M457.1 136.0h0M448.2 138.0h0M458.8 130.5h0M446.4 128.8h0M460.0 128.7h0M452.9 143.8h0M443.4 128.8h0M455.1 139.7h0M462.4 128.4h0M444.9 132.0h0M454.9 138.9h0M458.5 128.6h0M459.0 133.6h0M443.9 123.4h0M462.6 127.5h0M455.0 141.9h0M443.8 124.5h0M459.8 125.3h0M449.0 135.3h0M454.4 143.1h0M452.3 143.9h0M443.5 123.8h0M462.2 128.5h0M447.2 131.0h0M447.7 137.3h0M444.6 125.1h0M448.6 135.9h0M458.4 131.8h0M458.6 131.0h0M459.3 128.5h0M454.6 139.6h0M450.7 139.7h0M460.0 126.9h0M444.3 130.5h0M459.7 129.5h0M447.7 136.6h0M448.1 137.8h0M460.3 124.1h0M449.2 140.5h0M458.8 128.9h0M450.8 143.1h0M456.9 134.5h0M455.6 137.6h0M452.5 143.9h0M457.4 131.7h0M454.3 143.3h0M453.0 143.0h0M460.9 125.0h0M461.3 121.8h0M453.1 143.9h0M450.7 140.1h0M459.2 127.0h0M459.5 132.7h0M459.2 130.9h0M450.6 140.6h0M447.2 131.5h0M453.0 142.7h0M443.8 122.2h0M457.7 132.9h0M443.1 128.8h0M458.3 129.7h0M460.0 132.1h0M448.3 135.9h0M446.3 134.7h0M457.3 132.6h0M457.5 131.4h0M459.3 133.5h0M448.3 134.4h0M451.3 141.8h0M456.5 135.7h0M447.2 131.5h0M453.7 141.0h0M445.7 127.4h0M446.2 127.8h0M453.1 143.9h0M448.2 138.3h0M448.4 135.7h0M455.5 139.0h0M461.5 120.9h0M443.8 121.9h0M444.2 125.2h0M453.5 143.9h0M460.0 128.9h0M453.2 143.3h0M446.6 129.6h0M449.5 136.5h0M455.1 138.0h0M457.9 131.3h0M446.8 131.7h0M453.2 143.9h0M445.6 126.4h0M443.8 129.2h0M443.5 129.5h0M445.9 133.7h0M449.3 140.2h0M451.6 142.5h0M451.5 143.9h0M452.9 143.9h0M451.4 143.1h0M454.7 138.5h0M454.3 141.8h0M450.8 139.9h0M445.5 128.5h0M447.1 132.6h0M457.6 136.1h0M444.7 126.9h0M451.6 142.1h0M444.8 130.4h0M446.6 133.6h0M445.0 125.4h0M446.1 133.2h0M443.9 123.2h0M454.8 139.5h0M460.5 125.2h0M450.6 140.7h0M446.0 134.2h0M458.3 130.1h0M449.7 136.9h0M450.5 139.4h0M452.1 143.9h0M447.4 134.1h0M456.0 135.7h0M453.9 143.9h0M448.5 133.6h0M447.2 130.6h0M443.9 129.9h0M439.1 129.1h0M436.2 131.0h0M433.3 130.0h0M432.2 136.3h0M437.0 132.5h0M441.2 132.9h0M437.2 134.4h0M437.8 130.6h0M440.4 128.4h0M438.4 129.0h0" stroke="#c2c2c2" stroke-width="1.6" stroke-linecap="round" fill="none"/>
<polygon points="431.5,72.0 433.0,80.0 436.5,94.0 438.5,107.0 441.5,125.5 443.6,125.5 443.6,107.0 442.8,94.0 439.7,80.0 436.0,72.0" fill="#1a4b86"/>
<path d="M435.3 99.2h0M429.3 83.6h0M442.1 123.7h0M427.3 88.2h0M435.5 92.5h0M434.4 93.4h0M440.1 125.3h0M421.3 52.8h0M432.9 99.3h0M419.3 53.1h0M436.5 116.7h0M423.0 73.1h0M438.9 115.0h0M430.7 94.9h0M443.1 104.2h0M437.5 92.1h0M442.7 125.5h0M435.6 81.1h0M426.1 56.8h0M442.9 117.6h0M441.1 119.3h0M439.6 119.0h0M439.5 98.2h0M422.7 51.1h0M431.4 89.0h0M435.5 110.9h0M423.6 56.7h0M433.3 112.6h0M440.5 100.5h0M420.1 57.2h0M436.0 80.8h0M428.9 74.7h0M440.8 125.3h0M439.2 102.0h0M442.9 107.3h0M440.4 103.5h0M432.6 83.9h0M437.9 98.6h0M437.8 119.2h0M441.0 105.2h0M436.1 86.7h0M425.3 77.8h0M442.3 120.7h0M443.1 124.9h0M436.0 92.2h0M443.5 118.1h0M443.0 125.6h0M443.3 120.7h0M438.6 123.9h0M437.4 111.3h0M436.6 99.5h0M439.5 103.9h0M441.0 123.4h0M434.0 81.5h0M440.7 125.0h0M440.9 110.8h0M437.3 118.6h0M430.5 76.9h0M440.0 115.6h0M442.6 105.5h0M441.1 111.8h0M438.8 86.6h0M429.4 86.9h0M438.0 90.9h0M433.8 83.2h0M433.6 70.8h0M430.9 91.4h0M422.5 70.7h0M443.4 104.9h0M442.2 124.9h0M427.8 79.7h0M440.2 121.0h0M427.2 71.6h0M433.4 92.1h0M435.7 95.5h0M436.9 95.5h0M433.4 90.9h0M431.4 98.0h0M439.6 87.9h0M438.0 85.3h0M438.4 105.6h0M434.6 97.2h0M440.4 101.9h0M441.3 121.7h0M436.0 82.2h0M440.6 125.8h0M424.5 79.0h0M438.8 120.6h0M438.9 98.7h0M432.0 87.7h0M423.9 66.4h0M428.3 76.1h0M441.7 112.6h0M431.7 100.4h0M436.2 114.1h0M435.8 93.0h0M437.7 83.3h0M435.5 77.5h0M434.2 105.4h0M429.4 96.1h0M438.6 114.1h0M441.0 124.5h0M423.4 60.9h0M432.6 101.0h0M441.2 109.2h0M422.5 55.7h0M437.5 98.9h0M440.5 94.1h0M430.3 93.2h0M429.6 76.5h0M434.6 95.3h0M442.1 105.9h0M437.0 119.6h0M440.8 124.1h0M419.8 51.2h0M443.2 115.3h0M435.9 114.0h0M424.3 60.3h0M438.8 125.6h0M437.4 107.4h0M440.9 118.9h0M443.4 120.0h0M440.6 90.0h0M434.2 69.1h0M438.2 97.4h0M425.3 50.7h0M425.7 85.5h0M436.9 106.6h0M438.4 121.4h0M427.4 84.5h0M437.8 122.3h0M435.1 89.9h0M436.9 94.8h0M424.7 70.9h0M428.3 90.3h0M441.2 120.0h0M441.9 124.2h0M436.7 87.8h0M423.4 57.8h0M440.9 125.3h0M420.6 52.5h0M429.9 80.7h0M438.2 97.8h0M443.1 117.4h0M419.6 51.5h0M439.7 125.5h0M437.4 113.5h0M440.9 111.6h0M439.4 118.3h0M439.4 123.9h0M442.1 123.0h0M431.4 103.7h0M436.4 93.9h0M436.1 95.9h0M427.9 56.2h0M443.2 123.8h0M442.2 95.3h0M439.1 122.3h0M440.4 125.0h0M426.3 87.0h0M440.7 125.6h0M435.2 88.2h0M442.6 125.4h0M427.6 56.8h0M433.7 104.0h0M442.1 124.5h0M434.2 98.6h0M440.1 118.8h0M440.1 102.7h0M443.1 124.3h0M437.2 119.9h0M439.0 124.9h0M437.7 100.0h0M422.6 63.8h0M442.3 115.1h0M428.4 59.6h0M443.1 125.9h0M435.9 102.7h0M441.3 124.6h0M442.7 122.4h0M439.5 122.1h0M440.0 120.2h0M424.5 73.8h0M442.3 113.2h0M441.0 124.6h0M435.8 112.0h0M430.1 83.4h0M422.2 70.8h0M430.7 62.5h0M440.4 111.8h0M433.6 102.5h0M438.1 80.9h0M441.7 125.1h0M439.8 106.2h0M422.7 51.1h0M437.5 87.5h0M441.6 100.1h0M443.4 109.4h0M429.9 93.7h0M423.7 50.2h0M434.4 86.4h0M436.5 109.9h0M436.9 106.6h0M442.1 122.3h0M423.3 81.5h0M443.3 123.1h0M425.5 85.6h0M423.5 69.7h0M438.4 125.7h0M439.1 84.1h0M429.6 64.1h0M441.8 98.2h0M442.8 120.8h0M439.6 123.7h0M442.9 100.6h0M440.8 124.0h0M439.6 122.6h0M436.8 104.0h0M443.2 125.7h0M441.7 122.7h0M433.8 73.9h0M427.2 60.7h0M432.8 77.2h0M441.4 119.6h0M439.1 123.2h0M441.5 113.0h0M433.5 108.6h0M437.3 102.1h0M435.7 78.4h0M424.7 80.5h0M439.5 120.2h0M440.5 91.8h0M440.0 85.4h0M435.6 88.0h0M438.1 84.5h0M440.5 120.4h0M439.9 117.9h0M430.2 80.2h0M439.9 106.1h0M431.5 91.5h0M427.8 56.2h0M440.6 104.0h0M435.8 100.1h0M436.7 105.1h0M441.4 125.9h0M441.6 117.4h0M439.5 118.1h0M442.2 106.1h0M438.7 87.9h0M434.5 77.0h0M438.0 115.9h0M427.3 72.7h0M441.7 118.8h0M435.2 72.2h0M426.2 74.7h0M438.1 111.9h0M439.4 109.1h0M434.0 92.5h0M441.8 116.7h0M426.1 81.8h0M437.3 114.5h0M438.2 91.8h0M428.1 68.8h0M419.5 54.9h0M425.7 79.3h0M443.1 105.4h0M435.6 93.9h0M440.8 124.5h0M428.0 62.4h0M422.5 61.2h0M440.6 112.4h0M428.1 75.0h0M429.3 66.9h0M442.3 123.4h0M441.7 125.2h0M434.2 107.6h0M433.3 71.4h0M433.7 79.3h0M435.8 105.6h0M432.1 85.1h0M441.7 114.6h0M442.1 125.3h0M443.0 108.2h0M423.5 54.0h0M434.8 71.4h0M440.3 112.8h0M442.5 114.8h0M421.3 57.2h0M427.6 85.3h0M441.5 101.4h0M439.3 124.4h0M437.6 86.2h0M442.0 102.9h0M441.5 122.6h0M427.7 55.2h0M439.2 85.9h0M434.7 108.9h0M431.8 97.3h0M432.3 80.5h0M423.0 61.5h0M434.4 104.3h0M423.7 52.9h0M421.6 50.4h0M423.8 77.6h0M442.9 124.1h0M429.8 88.8h0M438.2 116.7h0M433.3 71.2h0M438.1 117.6h0M439.2 85.5h0M439.6 124.4h0M422.2 51.0h0M422.8 58.7h0M436.1 97.9h0M423.5 57.3h0M432.9 76.7h0M436.3 92.3h0M425.7 71.7h0M443.0 113.5h0M433.8 75.2h0M439.3 104.3h0M443.2 122.1h0M430.4 64.0h0M431.5 63.8h0M443.3 126.0h0M426.3 83.1h0M429.8 89.1h0M430.7 71.1h0M443.5 121.6h0M430.3 86.5h0M439.9 115.7h0M432.6 96.9h0M443.1 125.8h0M436.3 101.7h0M427.3 58.7h0M436.4 82.7h0M442.1 110.1h0M437.6 106.9h0M438.3 84.6h0M441.5 121.2h0M439.8 107.8h0M440.5 125.5h0M425.5 71.4h0M438.8 126.0h0M425.5 56.1h0M441.7 105.1h0M441.3 105.8h0M443.4 108.7h0M439.9 119.3h0M437.9 120.6h0M440.5 107.8h0M440.7 120.3h0M440.0 125.9h0M431.6 64.3h0M440.0 96.6h0M434.3 90.7h0M427.1 87.4h0M424.0 76.9h0M421.4 59.5h0M427.3 81.3h0M443.0 103.9h0M440.1 124.3h0M441.2 122.2h0M435.4 102.1h0M440.9 125.9h0M429.6 85.9h0M443.5 119.5h0M438.3 120.7h0M443.0 120.6h0M438.9 120.3h0M430.4 61.2h0M423.3 72.8h0M433.9 96.5h0M437.5 89.0h0M430.9 85.5h0M431.7 81.2h0M420.5 51.6h0M435.4 118.6h0M428.3 81.6h0M439.8 123.4h0M438.0 111.3h0M442.0 124.8h0M435.0 105.6h0M422.6 71.4h0M428.4 56.1h0M439.3 111.2h0M436.8 87.7h0M432.9 105.8h0M431.0 84.2h0M442.4 96.3h0M427.4 88.3h0M440.4 87.2h0M440.6 87.9h0M435.2 106.9h0M423.7 55.6h0M438.9 125.0h0M434.1 68.8h0M443.1 111.6h0M435.2 80.9h0M434.7 97.7h0M423.8 54.2h0M438.4 113.8h0M428.2 84.4h0M439.5 113.5h0M439.2 123.7h0M429.3 79.9h0M438.5 117.1h0M442.9 101.0h0M434.4 106.5h0M438.9 91.2h0M426.2 59.4h0M430.8 65.7h0M430.9 63.3h0M440.3 88.6h0M432.0 83.8h0M438.1 81.2h0M441.2 120.9h0M426.5 72.0h0M442.4 125.0h0M423.6 55.1h0M427.1 58.2h0M435.3 110.3h0M439.9 122.0h0M429.7 63.5h0M439.4 125.0h0M438.2 119.3h0M434.7 75.0h0M435.5 112.6h0M425.8 67.5h0M420.9 52.5h0M436.9 124.0h0M442.6 100.0h0M440.7 101.3h0M438.5 107.2h0M441.5 116.5h0M440.2 115.6h0M439.8 125.9h0M441.5 121.1h0M439.2 83.6h0M433.0 109.1h0M437.1 98.4h0M426.8 53.3h0M426.9 78.7h0M440.4 121.2h0M429.7 83.9h0M442.9 110.7h0M438.8 109.2h0M441.5 124.8h0M431.2 72.7h0M440.4 91.1h0M443.6 116.0h0M441.7 109.5h0M431.7 95.9h0M443.3 125.8h0M441.1 115.8h0M431.7 81.6h0M433.3 102.8h0M442.4 124.2h0M431.4 64.5h0M432.3 111.7h0M428.9 91.5h0M422.4 72.1h0M428.2 71.1h0M440.3 124.6h0M441.1 124.4h0M430.0 73.3h0M421.5 52.0h0M435.7 79.0h0M424.9 50.2h0M441.2 99.2h0M443.2 125.1h0M428.7 80.4h0M435.9 103.0h0M421.2 50.2h0M424.7 79.5h0M435.4 106.9h0M439.7 126.0h0M439.1 122.3h0M440.4 112.5h0M442.2 122.7h0M437.2 118.4h0M427.8 63.9h0M443.5 113.0h0M422.6 74.0h0M421.1 68.0h0M443.3 112.9h0M423.1 65.1h0M438.7 109.7h0M442.4 104.7h0M436.9 83.0h0M438.3 122.7h0M442.6 114.9h0M422.7 50.1h0M440.7 121.8h0M439.8 123.6h0M438.7 119.0h0M424.6 76.6h0M433.8 94.8h0M440.7 122.9h0M424.8 59.7h0M441.0 90.6h0M440.9 121.0h0M425.1 82.9h0M442.2 122.1h0M439.4 113.6h0M434.6 111.1h0M435.7 106.0h0M437.4 94.7h0M433.4 90.0h0M419.8 52.1h0M439.6 125.3h0M438.7 105.5h0M441.5 90.4h0M436.9 125.9h0M437.3 97.6h0M443.4 110.7h0M424.9 51.5h0M431.9 100.7h0M434.0 80.8h0M425.6 75.0h0M435.1 110.4h0M433.8 100.3h0M427.6 67.4h0M437.0 108.5h0M432.2 73.9h0M436.7 99.6h0M442.8 118.0h0M429.1 64.3h0M442.0 96.5h0M433.6 73.3h0M428.8 75.8h0M429.0 60.2h0M440.2 121.2h0M439.5 125.3h0M434.4 103.9h0M433.0 72.9h0M422.3 56.1h0M441.5 113.8h0M428.5 61.9h0M440.8 112.6h0M440.0 109.7h0M434.1 93.7h0M437.6 89.6h0M433.0 83.4h0M442.9 109.3h0M438.9 122.6h0M430.2 83.8h0M431.3 63.3h0M437.5 85.0h0M423.8 53.1h0M431.7 83.8h0M443.4 125.3h0M433.9 105.4h0M440.7 125.5h0M422.2 58.7h0M440.1 95.4h0M436.0 114.5h0M439.6 121.8h0M440.7 113.0h0M441.9 119.7h0" stroke="#1a4b86" stroke-width="1.7" stroke-linecap="round" fill="none"/>
<path d="M387.6 30.1h0M394.3 34.1h0M394.0 37.6h0M402.4 31.8h0M403.2 35.8h0M390.5 45.7h0M397.1 48.3h0M404.1 43.1h0M409.0 42.2h0M408.2 46.8h0M405.8 49.1h0M410.7 48.0h0M408.6 51.8h0M411.8 48.5h0M410.9 58.9h0M415.1 63.0h0M411.8 69.1h0M416.7 69.3h0M420.5 75.1h0M419.7 77.4h0M412.0 79.0h0M415.0 84.0h0M418.0 88.0h0M419.0 93.0h0M412.0 103.0h0M416.0 107.0h0M419.0 110.0h0M422.0 118.0h0M426.0 120.0h0M429.0 113.0h0M431.0 122.0h0M423.0 99.0h0M417.0 96.0h0M404.5 101.0h0M415.0 121.0h0M425.0 108.0h0M427.0 102.0h0" stroke="#173f6e" stroke-width="1.9" stroke-linecap="round" fill="none"/>
<path d="M466.1 91.8h0M462.4 122.6h0M461.9 113.3h0M462.0 113.3h0M464.9 110.0h0M464.9 125.1h0M467.1 102.2h0M465.8 90.6h0M465.2 117.3h0M466.2 100.3h0M462.2 107.2h0M465.9 113.3h0M465.9 112.5h0M465.9 101.8h0M462.6 112.6h0M464.5 110.2h0M462.0 117.1h0M464.5 107.7h0M462.8 124.5h0M462.6 112.8h0M462.2 102.3h0M465.7 94.0h0M466.0 107.9h0M462.6 89.3h0M462.4 109.4h0M461.9 111.1h0M466.9 103.4h0M462.9 96.0h0M463.8 122.5h0M464.5 120.6h0M463.7 107.1h0M463.5 111.1h0M463.7 120.8h0M465.5 124.3h0M462.0 95.4h0M466.5 98.7h0M464.7 92.5h0M463.9 111.6h0M462.2 100.4h0M465.8 111.4h0M462.9 100.2h0M466.1 99.0h0M465.5 114.8h0M465.8 124.2h0M463.5 89.6h0M462.0 94.1h0M462.9 120.5h0M465.2 121.5h0M465.4 93.9h0M463.8 98.0h0M462.6 118.1h0M465.2 90.6h0M464.8 106.3h0M465.6 111.3h0M464.5 119.1h0M463.4 112.7h0M464.6 95.7h0M466.5 115.1h0M462.0 121.6h0M464.8 96.6h0M463.6 110.7h0M465.3 90.0h0M463.9 105.8h0M465.5 121.3h0M463.2 105.0h0M464.3 124.2h0M463.8 107.6h0M462.2 95.2h0M465.6 124.4h0M467.2 101.1h0M466.1 113.4h0M462.6 96.8h0M462.7 92.3h0M466.2 120.0h0M464.0 101.8h0M466.6 94.7h0M465.8 96.7h0M465.4 91.9h0M462.8 125.1h0M465.6 90.2h0M462.1 104.5h0M463.0 117.4h0M464.7 93.8h0M464.9 89.8h0M462.9 114.2h0M464.8 97.0h0M464.8 111.3h0M466.5 95.1h0M467.2 104.7h0M463.4 112.0h0M464.4 117.9h0M462.8 117.2h0M462.9 118.0h0M465.9 109.9h0M462.8 92.6h0M463.6 115.2h0M463.1 102.4h0M462.6 120.6h0M465.7 119.0h0M464.7 96.7h0M466.6 114.8h0M462.8 103.0h0M463.9 117.5h0M463.7 107.8h0M466.0 90.1h0M462.6 104.0h0M463.1 93.7h0M463.3 105.5h0M463.7 89.9h0M464.3 94.8h0M465.0 98.8h0M466.1 93.0h0M466.5 110.0h0M464.2 118.6h0M464.8 94.8h0M462.0 100.7h0M467.0 107.7h0M464.0 103.7h0M462.0 94.9h0M463.1 113.0h0M463.9 108.8h0M463.4 122.1h0M463.3 94.4h0M462.6 100.5h0M464.4 105.5h0M465.3 103.7h0M466.5 105.5h0M465.2 100.5h0M465.0 92.5h0M463.0 94.7h0M463.2 115.4h0M462.2 96.7h0M463.8 123.7h0M463.4 101.4h0M462.2 102.0h0M465.9 100.1h0M463.5 106.8h0M466.6 94.4h0M465.2 96.4h0M462.5 91.9h0M465.0 104.2h0M465.4 90.2h0M466.0 89.1h0M462.5 102.3h0M466.2 101.6h0M467.0 99.0h0M465.8 107.1h0M462.3 98.5h0M462.4 96.6h0M462.0 97.4h0M470.7 102.5h0M467.0 112.8h0M470.8 115.0h0M468.0 103.2h0M469.3 100.2h0M467.3 113.2h0M466.6 112.0h0M469.9 120.0h0M468.0 112.5h0M468.2 111.7h0M468.0 105.2h0M470.0 100.7h0M470.8 108.3h0M467.1 102.4h0M466.9 115.4h0M467.8 94.3h0M468.0 117.9h0M468.0 92.2h0M468.0 108.9h0M469.5 99.2h0" stroke="#b80f2c" stroke-width="1.7" stroke-linecap="round" fill="none"/>
<path d="M474.5 69.5h0M462.5 83.0h0M465.0 87.0h0M468.0 91.0h0M470.0 93.0h0" stroke="#b80f2c" stroke-width="1.7" stroke-linecap="round" fill="none"/>
<line x1="443.3" y1="34.7" x2="443.3" y2="149.5" stroke="#222" stroke-width="1.1" stroke-dasharray="3.2,3.3"/>
<line x1="461.5" y1="41.4" x2="461.5" y2="149.5" stroke="#222" stroke-width="1.1" stroke-dasharray="3.2,3.3"/>
<line x1="383.5" y1="126.8" x2="478.5" y2="126.8" stroke="#222" stroke-width="1.1" stroke-dasharray="3.2,3.3"/>
<line x1="383.5" y1="26" x2="383.5" y2="150.1" stroke="#222" stroke-width="1.1"/>
<line x1="383" y1="149.6" x2="478.5" y2="149.6" stroke="#222" stroke-width="1.1"/>
<line x1="381.5" y1="143.9" x2="383.5" y2="143.9" stroke="#222" stroke-width="0.9"/>
<text x="379.7" y="146" font-size="5.9" text-anchor="end" fill="#222" stroke="#222" stroke-width="0.12">0</text>
<line x1="381.5" y1="116.9" x2="383.5" y2="116.9" stroke="#222" stroke-width="0.9"/>
<text x="379.7" y="119" font-size="5.9" text-anchor="end" fill="#222" stroke="#222" stroke-width="0.12">2</text>
<line x1="381.5" y1="89.9" x2="383.5" y2="89.9" stroke="#222" stroke-width="0.9"/>
<text x="379.7" y="92" font-size="5.9" text-anchor="end" fill="#222" stroke="#222" stroke-width="0.12">4</text>
<line x1="381.5" y1="62.9" x2="383.5" y2="62.9" stroke="#222" stroke-width="0.9"/>
<text x="379.7" y="65" font-size="5.9" text-anchor="end" fill="#222" stroke="#222" stroke-width="0.12">6</text>
<line x1="381.5" y1="35.9" x2="383.5" y2="35.9" stroke="#222" stroke-width="0.9"/>
<text x="379.7" y="38" font-size="5.9" text-anchor="end" fill="#222" stroke="#222" stroke-width="0.12">8</text>
<line x1="384.62" y1="149.6" x2="384.62" y2="151.6" stroke="#222" stroke-width="0.9"/>
<text x="384.62" y="160.2" font-size="5.9" text-anchor="middle" fill="#222" stroke="#222" stroke-width="0.12">&#8722;7.5</text>
<line x1="407.25" y1="149.6" x2="407.25" y2="151.6" stroke="#222" stroke-width="0.9"/>
<text x="407.25" y="160.2" font-size="5.9" text-anchor="middle" fill="#222" stroke="#222" stroke-width="0.12">&#8722;5.0</text>
<line x1="429.88" y1="149.6" x2="429.88" y2="151.6" stroke="#222" stroke-width="0.9"/>
<text x="429.88" y="160.2" font-size="5.9" text-anchor="middle" fill="#222" stroke="#222" stroke-width="0.12">&#8722;2.5</text>
<line x1="452.5" y1="149.6" x2="452.5" y2="151.6" stroke="#222" stroke-width="0.9"/>
<text x="452.5" y="160.2" font-size="5.9" text-anchor="middle" fill="#222" stroke="#222" stroke-width="0.12">0.0</text>
<line x1="475.12" y1="149.6" x2="475.12" y2="151.6" stroke="#222" stroke-width="0.9"/>
<text x="475.12" y="160.2" font-size="5.9" text-anchor="middle" fill="#222" stroke="#222" stroke-width="0.12">2.5</text>
<text x="367" y="87.5" font-size="7.2" text-anchor="middle" fill="#222" font-weight="bold" transform="rotate(-90 367 87.5)" textLength="39.5" lengthAdjust="spacingAndGlyphs">&#8722;Log<tspan font-size="4.6" dy="1.8">10</tspan><tspan dy="-1.8">(</tspan><tspan font-style="italic">P</tspan> value)</text>
<text x="431.5" y="172.2" font-size="7.4" text-anchor="middle" fill="#222" font-weight="bold" textLength="39.5" lengthAdjust="spacingAndGlyphs">Log<tspan font-size="4.8" dy="1.8">2</tspan><tspan dy="-1.8">FoldChange</tspan></text>
<text x="431.3" y="15.4" font-size="5.9" text-anchor="middle" fill="#222" stroke="#222" stroke-width="0.12">PF4-<tspan font-style="italic">Actn1</tspan><tspan font-size="3.5" dy="-2.3">&#8722;/&#8722;</tspan><tspan dy="2.3"> (2-4N) vs </tspan><tspan font-style="italic">Actn1</tspan><tspan font-size="3.5" dy="-2.3">fl/fl</tspan><tspan dy="2.3"> (2-4N)</tspan></text>
<circle cx="451.7" cy="22.6" r="1.9" fill="#173f70"/>
<text x="456.3" y="24.7" font-size="5.7" text-anchor="start" fill="#222" stroke="#222" stroke-width="0.12">Down expresion</text>
<circle cx="451.7" cy="30.8" r="1.9" fill="#a30d2a"/>
<text x="456.3" y="32.9" font-size="5.7" text-anchor="start" fill="#222" stroke="#222" stroke-width="0.12">Up expression</text>
<text x="389" y="28.2" font-size="3.1" text-anchor="middle" fill="#555" font-style="italic">Pf4</text>
<text x="395.7" y="31.7" font-size="3.1" text-anchor="middle" fill="#555" font-style="italic">Itgb3</text>
<text x="408.4" y="29.9" font-size="3.1" text-anchor="middle" fill="#555" font-style="italic">Gp5</text>
<text x="390.5" y="43.8" font-size="3.1" text-anchor="middle" fill="#555" font-style="italic">Gp1bb</text>
<text x="401.5" y="41.2" font-size="3.1" text-anchor="middle" fill="#555" font-style="italic">Gp1ba</text>
<text x="414.1" y="37.8" font-size="3.1" text-anchor="middle" fill="#555" font-style="italic">Itgb1</text>
<text x="427.5" y="40.3" font-size="3.1" text-anchor="middle" fill="#555" font-style="italic">Vcl</text>
<text x="419.9" y="49" font-size="3.1" text-anchor="middle" fill="#555" font-style="italic">Itgb2</text>
<text x="392" y="54.1" font-size="3.1" text-anchor="middle" fill="#555" font-style="italic">Itga2b</text>
<text x="406.6" y="56.5" font-size="3.1" text-anchor="middle" fill="#555" font-style="italic">Itga6</text>
<text x="435.5" y="51.3" font-size="3.1" text-anchor="middle" fill="#555" font-style="italic">Actn1</text>
<text x="407.8" y="68.6" font-size="3.1" text-anchor="middle" fill="#555" font-style="italic">Vwf</text>
<text x="408.1" y="74.9" font-size="3.1" text-anchor="middle" fill="#555" font-style="italic">Itgb5</text>
<text x="396.3" y="80.1" font-size="3.1" text-anchor="middle" fill="#555" font-style="italic">Gp6</text>
<text x="414" y="101" font-size="3.1" text-anchor="middle" fill="#555" font-style="italic">Myl9</text>
<text x="432" y="111" font-size="3.1" text-anchor="middle" fill="#555" font-style="italic">Flna</text>
<line x1="424" y1="39.5" x2="413.5" y2="43.5" stroke="#111" stroke-width="0.8"/>
<line x1="413" y1="73.5" x2="428" y2="71" stroke="#111" stroke-width="0.8"/>
<line x1="401" y1="79" x2="408" y2="82" stroke="#111" stroke-width="0.8"/>
<line x1="421" y1="101" x2="432" y2="105" stroke="#111" stroke-width="0.8"/>
<line x1="409.5" y1="39" x2="409" y2="42" stroke="#111" stroke-width="0.8"/>
<line x1="394.5" y1="34" x2="393.5" y2="38" stroke="#111" stroke-width="0.8"/>
<line x1="431" y1="50" x2="428.5" y2="54" stroke="#111" stroke-width="0.8"/>
<text x="462.5" y="69.5" font-size="2.7" text-anchor="start" fill="#555" font-style="italic">Gm10648</text>
<text x="463" y="86" font-size="2.7" text-anchor="start" fill="#555" font-style="italic">Cd36</text>
<text x="466" y="96" font-size="2.7" text-anchor="start" fill="#555" font-style="italic">Rasa1</text>
<text x="464" y="102" font-size="2.7" text-anchor="start" fill="#555" font-style="italic">Pkn2</text>
<text x="464" y="108" font-size="2.7" text-anchor="start" fill="#555" font-style="italic">Rac1</text>
<text x="465" y="113" font-size="2.7" text-anchor="start" fill="#555" font-style="italic">Tns1</text>
<text x="467" y="119" font-size="2.7" text-anchor="start" fill="#555" font-style="italic">Cd47</text>
<text x="468" y="125" font-size="2.7" text-anchor="start" fill="#555" font-style="italic">Mmrn2</text>
<text x="465" y="131" font-size="2.7" text-anchor="start" fill="#555" font-style="italic">Cd226</text>
<text x="463.5" y="137" font-size="2.7" text-anchor="start" fill="#555" font-style="italic">Cdc42ep</text>
<line x1="468" y1="121" x2="466" y2="110" stroke="#111" stroke-width="0.65"/>
<line x1="466" y1="127" x2="465" y2="112" stroke="#111" stroke-width="0.65"/>
<line x1="466" y1="133" x2="464" y2="114" stroke="#111" stroke-width="0.65"/>
<text x="6.4" y="200.6" font-size="11" text-anchor="start" fill="#111" font-weight="bold">C</text>
<line x1="56.15" y1="209.5" x2="56.15" y2="261" stroke="#e4e4e4" stroke-width="0.5"/>
<line x1="56.15" y1="276.2" x2="56.15" y2="309" stroke="#e4e4e4" stroke-width="0.5"/>
<line x1="67.9" y1="209.5" x2="67.9" y2="261" stroke="#e4e4e4" stroke-width="0.5"/>
<line x1="67.9" y1="276.2" x2="67.9" y2="309" stroke="#e4e4e4" stroke-width="0.5"/>
<line x1="79.65" y1="209.5" x2="79.65" y2="261" stroke="#e4e4e4" stroke-width="0.5"/>
<line x1="79.65" y1="276.2" x2="79.65" y2="309" stroke="#e4e4e4" stroke-width="0.5"/>
<line x1="91.4" y1="209.5" x2="91.4" y2="261" stroke="#e4e4e4" stroke-width="0.5"/>
<line x1="91.4" y1="276.2" x2="91.4" y2="309" stroke="#e4e4e4" stroke-width="0.5"/>
<line x1="103.15" y1="209.5" x2="103.15" y2="261" stroke="#e4e4e4" stroke-width="0.5"/>
<line x1="103.15" y1="276.2" x2="103.15" y2="309" stroke="#e4e4e4" stroke-width="0.5"/>
<line x1="114.9" y1="209.5" x2="114.9" y2="261" stroke="#e4e4e4" stroke-width="0.5"/>
<line x1="114.9" y1="276.2" x2="114.9" y2="309" stroke="#e4e4e4" stroke-width="0.5"/>
<line x1="126.65" y1="209.5" x2="126.65" y2="261" stroke="#e4e4e4" stroke-width="0.5"/>
<line x1="126.65" y1="276.2" x2="126.65" y2="309" stroke="#e4e4e4" stroke-width="0.5"/>
<polyline points="44.3,213.69 44.41,213.81 44.54,213.26 44.68,213.2 44.85,213.46 45.02,213.75 45.21,213.37 45.41,212.92 45.62,212.97 45.84,213.09 46.07,213.29 46.3,213.02 46.53,212.9 46.77,212.91 47,212.99 47.24,212.77 47.47,212.97 47.7,213.07 47.92,213.46 48.15,213.09 48.37,213.41 48.59,212.99 48.81,213.53 49.03,213.44 49.26,213.36 49.49,213.59 49.73,213.93 49.98,213.75 50.23,214.22 50.5,214.48 50.77,214.66 51.06,214.83 51.36,214.3 51.67,214.89 52,214.84 52.34,215.46 52.7,215.47 53.07,215.75 53.44,216.06 53.83,216.06 54.23,216.51 54.64,216.59 55.06,217.57 55.48,217.26 55.92,217.69 56.36,217.58 56.82,217.99 57.28,218.5 57.75,219.26 58.23,219.62 58.71,219.89 59.2,220.05 59.7,221.07 60.22,220.8 60.75,221.29 61.29,222.09 61.84,222.22 62.41,223.02 62.98,223.7 63.55,223.96 64.14,224.6 64.72,225.03 65.31,225.38 65.9,225.28 66.48,226.27 67.07,227.07 67.65,227.17 68.23,227.91 68.8,228.56 69.37,229.29 69.94,229.07 70.51,229.71 71.08,230.33 71.65,230.84 72.22,230.8 72.8,232.02 73.37,231.77 73.94,232.66 74.52,232.75 75.09,233.31 75.66,234.03 76.23,234.19 76.8,234.45 77.37,234.57 77.93,235.05 78.5,235.26 79.06,236.5 79.63,236.01 80.19,236.15 80.74,237.58 81.3,237.87 81.86,237.85 82.42,238.52 82.97,238.49 83.53,238.92 84.08,239.56 84.64,239.9 85.2,240.05 85.76,240.92 86.31,241.06 86.87,241.26 87.44,241.28 88,241.94 88.57,242.17 89.13,242.56 89.7,243.1 90.27,243.08 90.84,243.61 91.41,244.05 91.98,244.26 92.56,245.04 93.13,244.35 93.7,245.06 94.28,245.08 94.85,245.65 95.42,246.59 95.99,245.85 96.56,246.47 97.13,246.99 97.7,247.13 98.27,247.61 98.83,247.28 99.4,248.18 99.97,247.97 100.53,248.17 101.1,248.88 101.66,249.12 102.22,249.08 102.79,249.31 103.35,249.72 103.92,250.02 104.48,250.23 105.04,250.27 105.61,250.19 106.17,251.34 106.74,251.3 107.3,251.2 107.87,251.36 108.46,251.83 109.07,252.16 109.68,251.99 110.3,253.12 110.92,253.13 111.54,253.2 112.15,253.62 112.76,253.83 113.35,254.28 113.93,254.29 114.49,254.78 115.03,255.07 115.55,254.81 116.03,254.96 116.48,255.03 116.9,255.35 117.28,255.37 117.62,255.69 117.93,255.89 118.21,256.07 118.47,255.76 118.7,256.42 118.92,256.16 119.12,256.29 119.31,256.27 119.49,255.96 119.66,256.57 119.83,256.11 120.01,256.86 120.19,256.62 120.38,257 120.58,256.78 120.8,256.78 121.03,256.93 121.26,256.53 121.49,256.87 121.72,256.4 121.95,256.42 122.18,256.1 122.42,256.31 122.65,256.24 122.88,255.83 123.1,255.52 123.33,255.7 123.55,255.68 123.77,255.39 123.98,255.04 124.19,254.94 124.4,254.9 124.6,254.15 124.8,254.49 124.99,254.83 125.18,254 125.37,254.1 125.55,254.4 125.73,253.98 125.91,253.85 126.08,253.4 126.25,252.9 126.42,253.73 126.59,252.86 126.75,252.6 126.91,252.68 127.06,252.19 127.21,251.7 127.36,251.08 127.5,250.96 127.64,250.59 127.77,250.06 127.91,249.61 128.03,249.14 128.16,248.92 128.28,248.34 128.4,248.11 128.51,247.76 128.62,247.08 128.73,246.48 128.84,246.31 128.94,245.52 129.04,244.42 129.13,244.01 129.22,243.62 129.31,242.73 129.4,242.49 129.48,241.2 129.56,240.46 129.64,240.46 129.71,239.62 129.78,238.31 129.84,237.95 129.91,237.46 129.97,236.04 130.02,235.2 130.08,234.36 130.13,233.58 130.18,232.55 130.23,232.02 130.27,230.94 130.32,230.48 130.36,230.18 130.4,228.54 130.44,228.18 130.48,227.35 130.51,225.55 130.54,225.2 130.57,224.19 130.6,223.12 130.63,222.42 130.65,221.13 130.67,220.37 130.69,219.25 130.71,218.42 130.73,217.41 130.75,217.38 130.76,216.08 130.77,215.16 130.79,215.36 130.8,214.4" fill="none" stroke="#62b22f" stroke-width="1.7" stroke-linejoin="round"/>
<line x1="44" y1="209.5" x2="44" y2="309.5" stroke="#222" stroke-width="1.1"/>
<line x1="42" y1="213.3" x2="44" y2="213.3" stroke="#333" stroke-width="0.8"/>
<text x="38.6" y="215.4" font-size="5.9" text-anchor="end" fill="#222" stroke="#222" stroke-width="0.12">0.0</text>
<line x1="42" y1="227" x2="44" y2="227" stroke="#333" stroke-width="0.8"/>
<text x="38.6" y="229.1" font-size="5.9" text-anchor="end" fill="#222" stroke="#222" stroke-width="0.12">&#8722;0.2</text>
<line x1="42" y1="240.8" x2="44" y2="240.8" stroke="#333" stroke-width="0.8"/>
<text x="38.6" y="242.9" font-size="5.9" text-anchor="end" fill="#222" stroke="#222" stroke-width="0.12">&#8722;0.4</text>
<line x1="42" y1="254.5" x2="44" y2="254.5" stroke="#333" stroke-width="0.8"/>
<text x="38.6" y="256.6" font-size="5.9" text-anchor="end" fill="#222" stroke="#222" stroke-width="0.12">&#8722;0.6</text>
<rect x="44.6" y="261" width="86.2" height="10.7" fill="#111"/>
<rect x="51" y="261" width="0.6" height="10.7" fill="#fff"/>
<rect x="55.8" y="261" width="0.6" height="10.7" fill="#fff"/>
<rect x="60.25" y="261" width="0.5" height="10.7" fill="#fff"/>
<rect x="67.05" y="261" width="0.7" height="10.7" fill="#fff"/>
<rect x="70.4" y="261" width="0.6" height="10.7" fill="#fff"/>
<rect x="76.35" y="261" width="0.5" height="10.7" fill="#fff"/>
<rect x="77.25" y="261" width="0.5" height="10.7" fill="#fff"/>
<rect x="82.25" y="261" width="0.7" height="10.7" fill="#fff"/>
<rect x="87.5" y="261" width="0.8" height="10.7" fill="#fff"/>
<rect x="90" y="261" width="0.6" height="10.7" fill="#fff"/>
<rect x="94.45" y="261" width="0.7" height="10.7" fill="#fff"/>
<rect x="98.1" y="261" width="2.2" height="10.7" fill="#fff"/>
<rect x="103.1" y="261" width="1.8" height="10.7" fill="#fff"/>
<rect x="106.9" y="261" width="0.8" height="10.7" fill="#fff"/>
<rect x="109.1" y="261" width="2.6" height="10.7" fill="#fff"/>
<rect x="112.75" y="261" width="0.7" height="10.7" fill="#fff"/>
<rect x="116.4" y="261" width="0.8" height="10.7" fill="#fff"/>
<rect x="121.05" y="261" width="0.7" height="10.7" fill="#fff"/>
<rect x="123.8" y="261" width="0.6" height="10.7" fill="#fff"/>
<rect x="47.3" y="261" width="0.4" height="10.7" fill="#fff"/>
<rect x="63.8" y="261" width="0.4" height="10.7" fill="#fff"/>
<rect x="84.8" y="261" width="0.4" height="10.7" fill="#fff"/>
<rect x="101.5" y="261" width="0.6" height="10.7" fill="#fff"/>
<rect x="118.25" y="261" width="0.5" height="10.7" fill="#fff"/>
<rect x="68.9" y="261" width="1.2" height="10.7" fill="#555"/>
<rect x="71.75" y="261" width="1.5" height="10.7" fill="#666"/>
<rect x="105.35" y="261" width="0.9" height="10.7" fill="#888"/>
<rect x="119.1" y="261" width="0.8" height="10.7" fill="#777"/>
<defs><linearGradient id="cbC1" x1="0" y1="0" x2="1" y2="0"><stop offset="0" stop-color="#dc3d2c"/><stop offset="0.12" stop-color="#e8654a"/><stop offset="0.2" stop-color="#f09a80"/><stop offset="0.3" stop-color="#f6cfc4"/><stop offset="0.45" stop-color="#f7f1f1"/><stop offset="0.58" stop-color="#dde8f3"/><stop offset="0.72" stop-color="#a9c9e6"/><stop offset="0.82" stop-color="#5a98d0"/><stop offset="1" stop-color="#2d6fb3"/></linearGradient></defs>
<rect x="44" y="271.7" width="87.6" height="4.5" fill="url(#cbC1)"/>
<path d="M44.2,286.2 L44.2,284.5 L45.65,284.61 L47.11,284.71 L48.56,284.81 L50.01,284.91 L51.47,285.01 L52.92,285.1 L54.37,285.19 L55.83,285.28 L57.28,285.36 L58.73,285.44 L60.19,285.52 L61.64,285.6 L63.09,285.67 L64.55,285.74 L66,285.8 L67.45,285.86 L68.91,285.92 L70.36,285.97 L71.81,286.02 L73.27,286.06 L74.72,286.1 L76.17,286.14 L77.63,286.17 L79.08,286.19 L80.53,286.2 L81.99,286.21 L83.44,286.25 L84.89,286.3 L86.35,286.38 L87.8,286.47 L89.25,286.58 L90.71,286.7 L92.16,286.84 L93.61,287 L95.07,287.17 L96.52,287.36 L97.97,287.56 L99.43,287.77 L100.88,288 L102.33,288.24 L103.79,288.49 L105.24,288.76 L106.69,289.04 L108.15,289.34 L109.6,289.64 L111.05,289.96 L112.51,290.29 L113.96,290.64 L115.41,290.99 L116.87,291.36 L118.32,291.74 L119.77,292.14 L121.23,292.54 L122.68,292.96 L124.13,293.39 L125.59,293.83 L127.04,294.28 L128.49,295.01 L129.95,297.73 L131.4,303.7 L131.4,286.2 Z" fill="#c8c8c8" stroke="#b0b0b0" stroke-width="0.3"/>
<line x1="42" y1="278.4" x2="44" y2="278.4" stroke="#333" stroke-width="0.8"/>
<text x="38.6" y="280.5" font-size="5.9" text-anchor="end" fill="#222" stroke="#222" stroke-width="0.12">2.5</text>
<line x1="42" y1="286.2" x2="44" y2="286.2" stroke="#333" stroke-width="0.8"/>
<text x="38.6" y="288.3" font-size="5.9" text-anchor="end" fill="#222" stroke="#222" stroke-width="0.12">0.0</text>
<line x1="42" y1="294" x2="44" y2="294" stroke="#333" stroke-width="0.8"/>
<text x="38.6" y="296.1" font-size="5.9" text-anchor="end" fill="#222" stroke="#222" stroke-width="0.12">&#8722;2.5</text>
<line x1="42" y1="301.8" x2="44" y2="301.8" stroke="#333" stroke-width="0.8"/>
<text x="38.6" y="303.9" font-size="5.9" text-anchor="end" fill="#222" stroke="#222" stroke-width="0.12">&#8722;5.0</text>
<line x1="43.5" y1="309" x2="131.6" y2="309" stroke="#222" stroke-width="1.1"/>
<line x1="67.9" y1="309" x2="67.9" y2="311" stroke="#333" stroke-width="0.8"/>
<text x="67.9" y="320.3" font-size="5.9" text-anchor="middle" fill="#222" stroke="#222" stroke-width="0.12">1000</text>
<line x1="91.4" y1="309" x2="91.4" y2="311" stroke="#333" stroke-width="0.8"/>
<text x="91.4" y="320.3" font-size="5.9" text-anchor="middle" fill="#222" stroke="#222" stroke-width="0.12">2000</text>
<line x1="114.9" y1="309" x2="114.9" y2="311" stroke="#333" stroke-width="0.8"/>
<text x="114.9" y="320.3" font-size="5.9" text-anchor="middle" fill="#222" stroke="#222" stroke-width="0.12">3000</text>
<text x="87.8" y="331.3" font-size="7.4" text-anchor="middle" fill="#222" font-weight="bold" textLength="60" lengthAdjust="spacingAndGlyphs">Rank in ordered dataset</text>
<text x="23" y="234.3" font-size="7.2" text-anchor="middle" fill="#222" font-weight="bold" transform="rotate(-90 23 234.3)" textLength="46" lengthAdjust="spacingAndGlyphs">Enrichment score</text>
<text x="23" y="293" font-size="7.2" text-anchor="middle" fill="#222" font-weight="bold" transform="rotate(-90 23 293)" textLength="44.7" lengthAdjust="spacingAndGlyphs">Ranked list metric</text>
<text x="62.7" y="200.8" font-size="5.9" text-anchor="middle" fill="#3f55a8" stroke="#3f55a8" stroke-width="0.12"><tspan font-style="italic">Actn1</tspan><tspan font-size="3.6" dy="-2.3">fl/fl</tspan><tspan dy="2.3"> (&#8805;8N)</tspan></text>
<text x="114" y="200.8" font-size="5.9" text-anchor="middle" fill="#e25a5a" stroke="#e25a5a" stroke-width="0.12">PF4-<tspan font-style="italic">Actn1</tspan><tspan font-size="3.6" dy="-2.3">&#8722;/&#8722;</tspan><tspan dy="2.3"> (&#8805;8N)</tspan></text>
<text x="61.2" y="210.8" font-size="5.85" text-anchor="start" fill="#222" stroke="#222" stroke-width="0.12">Platelet activation signaling</text>
<text x="61.2" y="218.2" font-size="5.85" text-anchor="start" fill="#222" stroke="#222" stroke-width="0.12">and aggregation <tspan font-style="italic">P</tspan> &lt; .001</text>
<line x1="56.15" y1="355" x2="56.15" y2="404.5" stroke="#e4e4e4" stroke-width="0.5"/>
<line x1="56.15" y1="420.6" x2="56.15" y2="453" stroke="#e4e4e4" stroke-width="0.5"/>
<line x1="67.9" y1="355" x2="67.9" y2="404.5" stroke="#e4e4e4" stroke-width="0.5"/>
<line x1="67.9" y1="420.6" x2="67.9" y2="453" stroke="#e4e4e4" stroke-width="0.5"/>
<line x1="79.65" y1="355" x2="79.65" y2="404.5" stroke="#e4e4e4" stroke-width="0.5"/>
<line x1="79.65" y1="420.6" x2="79.65" y2="453" stroke="#e4e4e4" stroke-width="0.5"/>
<line x1="91.4" y1="355" x2="91.4" y2="404.5" stroke="#e4e4e4" stroke-width="0.5"/>
<line x1="91.4" y1="420.6" x2="91.4" y2="453" stroke="#e4e4e4" stroke-width="0.5"/>
<line x1="103.15" y1="355" x2="103.15" y2="404.5" stroke="#e4e4e4" stroke-width="0.5"/>
<line x1="103.15" y1="420.6" x2="103.15" y2="453" stroke="#e4e4e4" stroke-width="0.5"/>
<line x1="114.9" y1="355" x2="114.9" y2="404.5" stroke="#e4e4e4" stroke-width="0.5"/>
<line x1="114.9" y1="420.6" x2="114.9" y2="453" stroke="#e4e4e4" stroke-width="0.5"/>
<line x1="126.65" y1="355" x2="126.65" y2="404.5" stroke="#e4e4e4" stroke-width="0.5"/>
<line x1="126.65" y1="420.6" x2="126.65" y2="453" stroke="#e4e4e4" stroke-width="0.5"/>
<polyline points="44.3,358.94 44.63,358.87 45.01,359.02 45.44,359.26 45.91,359.83 46.43,359.89 46.99,360.16 47.58,360.74 48.21,360.94 48.86,361.35 49.53,362.06 50.22,362.33 50.92,362.83 51.64,363.17 52.36,363.78 53.08,364.06 53.8,364.74 54.53,365.3 55.3,365.66 56.08,366.15 56.89,367.07 57.72,367.64 58.57,368.44 59.43,368.97 60.3,369.86 61.18,370.65 62.06,371.59 62.95,372.23 63.83,372.74 64.71,373.61 65.59,373.99 66.45,374.93 67.3,375.42 68.14,376.22 68.99,376.69 69.83,377.21 70.68,377.73 71.52,378.61 72.37,379.01 73.21,379.68 74.06,380.22 74.9,380.42 75.74,381.38 76.59,381.81 77.43,382.5 78.27,383.09 79.12,383.34 79.96,384.15 80.8,384.79 81.65,385.48 82.52,386.2 83.39,386.61 84.28,387.35 85.17,388.15 86.07,388.46 86.95,389.69 87.84,389.95 88.71,390.95 89.57,391.43 90.41,392.32 91.23,392.81 92.02,393.23 92.78,393.54 93.51,394.34 94.2,394.85 94.86,395.33 95.48,395.48 96.09,395.95 96.66,396.33 97.21,396.84 97.74,397 98.26,397.43 98.75,397.88 99.23,397.95 99.69,398.48 100.15,398.57 100.59,398.72 101.02,399.15 101.45,399.27 101.88,399.36 102.3,399.51 102.71,399.78 103.11,400 103.5,400.27 103.87,400.27 104.22,400.26 104.57,400.26 104.91,400.58 105.24,400.68 105.56,400.86 105.87,400.68 106.18,400.62 106.49,400.98 106.79,400.87 107.1,400.75 107.4,401.22 107.7,401.13 108,401.04 108.29,401.09 108.58,400.95 108.86,401.22 109.14,401.01 109.42,401 109.68,401.01 109.95,400.86 110.21,401.16 110.47,401.22 110.73,401.04 110.99,400.57 111.24,400.77 111.49,400.66 111.75,400.74 112,400.28 112.25,400.19 112.49,400.36 112.72,400.48 112.95,400.2 113.17,400.45 113.39,399.89 113.61,399.9 113.83,399.74 114.05,399.5 114.28,399.64 114.51,399.11 114.75,398.98 115,398.9 115.25,398.68 115.52,398.7 115.8,398.22 116.1,398.13 116.41,397.71 116.73,397.69 117.07,397.2 117.42,396.92 117.77,396.32 118.13,396.33 118.49,395.78 118.85,395.65 119.21,395.23 119.56,394.87 119.91,394.58 120.25,394.09 120.58,393.53 120.9,393.3 121.2,392.93 121.49,392.34 121.78,392.23 122.06,391.96 122.33,391.39 122.6,390.97 122.86,390.61 123.12,390.3 123.37,389.64 123.62,389.44 123.86,388.76 124.09,388.52 124.32,388.08 124.55,387.37 124.77,387.21 124.99,386.69 125.2,385.95 125.41,385.67 125.61,385.18 125.8,384.67 125.99,384.4 126.17,383.75 126.34,383.39 126.51,382.74 126.68,382.37 126.84,382.18 127,381.46 127.16,380.65 127.31,380.21 127.46,379.79 127.61,379.01 127.76,378.83 127.9,378.09 128.04,377.49 128.18,376.88 128.31,376.12 128.44,375.38 128.57,374.4 128.69,373.93 128.81,373.51 128.93,372.86 129.05,372.03 129.16,371.07 129.27,370.59 129.38,369.95 129.49,369.07 129.59,368.79 129.7,367.77 129.8,367.3 129.9,366.51 130.01,366.15 130.11,365.17 130.22,364.56 130.32,364.19 130.42,363.18 130.52,362.63 130.62,362.16 130.71,361.51 130.8,360.61 130.88,360.4 130.96,359.75 131.03,359.5 131.1,358.63 131.15,358.63 131.2,358.2" fill="none" stroke="#62b22f" stroke-width="1.7" stroke-linejoin="round"/>
<line x1="44" y1="355" x2="44" y2="453.5" stroke="#222" stroke-width="1.1"/>
<line x1="42" y1="358.7" x2="44" y2="358.7" stroke="#333" stroke-width="0.8"/>
<text x="38.6" y="360.8" font-size="5.9" text-anchor="end" fill="#222" stroke="#222" stroke-width="0.12">0.0</text>
<line x1="42" y1="372.3" x2="44" y2="372.3" stroke="#333" stroke-width="0.8"/>
<text x="38.6" y="374.4" font-size="5.9" text-anchor="end" fill="#222" stroke="#222" stroke-width="0.12">&#8722;0.2</text>
<line x1="42" y1="385.9" x2="44" y2="385.9" stroke="#333" stroke-width="0.8"/>
<text x="38.6" y="388" font-size="5.9" text-anchor="end" fill="#222" stroke="#222" stroke-width="0.12">&#8722;0.4</text>
<line x1="42" y1="399.5" x2="44" y2="399.5" stroke="#333" stroke-width="0.8"/>
<text x="38.6" y="401.6" font-size="5.9" text-anchor="end" fill="#222" stroke="#222" stroke-width="0.12">&#8722;0.6</text>
<rect x="101" y="404.5" width="29.8" height="11.5" fill="#111"/>
<rect x="51.25" y="404.5" width="1.5" height="11.5" fill="#666"/>
<rect x="56.4" y="404.5" width="1.2" height="11.5" fill="#777"/>
<rect x="74.25" y="404.5" width="1.5" height="11.5" fill="#888"/>
<rect x="79.4" y="404.5" width="1.2" height="11.5" fill="#777"/>
<rect x="85.25" y="404.5" width="1.5" height="11.5" fill="#666"/>
<line x1="56.52" y1="404.5" x2="56.52" y2="416" stroke="#111" stroke-width="0.9"/>
<line x1="47.5" y1="404.5" x2="47.5" y2="416" stroke="#111" stroke-width="0.9"/>
<line x1="60.18" y1="404.5" x2="60.18" y2="416" stroke="#111" stroke-width="0.9"/>
<line x1="49.7" y1="404.5" x2="49.7" y2="416" stroke="#111" stroke-width="0.9"/>
<line x1="57.42" y1="404.5" x2="57.42" y2="416" stroke="#111" stroke-width="0.9"/>
<line x1="50.27" y1="404.5" x2="50.27" y2="416" stroke="#111" stroke-width="0.9"/>
<line x1="48.84" y1="404.5" x2="48.84" y2="416" stroke="#111" stroke-width="0.9"/>
<line x1="48.63" y1="404.5" x2="48.63" y2="416" stroke="#111" stroke-width="0.9"/>
<line x1="54" y1="404.5" x2="54" y2="416" stroke="#111" stroke-width="0.9"/>
<line x1="57.99" y1="404.5" x2="57.99" y2="416" stroke="#111" stroke-width="0.9"/>
<line x1="48.83" y1="404.5" x2="48.83" y2="416" stroke="#111" stroke-width="0.9"/>
<line x1="91.28" y1="404.5" x2="91.28" y2="416" stroke="#111" stroke-width="0.9"/>
<line x1="80.39" y1="404.5" x2="80.39" y2="416" stroke="#111" stroke-width="0.9"/>
<line x1="90.13" y1="404.5" x2="90.13" y2="416" stroke="#111" stroke-width="0.9"/>
<line x1="81.41" y1="404.5" x2="81.41" y2="416" stroke="#111" stroke-width="0.9"/>
<line x1="75.99" y1="404.5" x2="75.99" y2="416" stroke="#111" stroke-width="0.9"/>
<line x1="74.37" y1="404.5" x2="74.37" y2="416" stroke="#111" stroke-width="0.9"/>
<line x1="71.79" y1="404.5" x2="71.79" y2="416" stroke="#111" stroke-width="0.9"/>
<line x1="91.59" y1="404.5" x2="91.59" y2="416" stroke="#111" stroke-width="0.9"/>
<line x1="82.82" y1="404.5" x2="82.82" y2="416" stroke="#111" stroke-width="0.9"/>
<line x1="73.82" y1="404.5" x2="73.82" y2="416" stroke="#111" stroke-width="0.9"/>
<line x1="97.3" y1="404.5" x2="97.3" y2="416" stroke="#111" stroke-width="0.9"/>
<line x1="90.3" y1="404.5" x2="90.3" y2="416" stroke="#111" stroke-width="0.9"/>
<line x1="70.66" y1="404.5" x2="70.66" y2="416" stroke="#111" stroke-width="0.9"/>
<line x1="92.47" y1="404.5" x2="92.47" y2="416" stroke="#111" stroke-width="0.9"/>
<line x1="88.43" y1="404.5" x2="88.43" y2="416" stroke="#111" stroke-width="0.9"/>
<line x1="83.76" y1="404.5" x2="83.76" y2="416" stroke="#111" stroke-width="0.9"/>
<line x1="85.52" y1="404.5" x2="85.52" y2="416" stroke="#111" stroke-width="0.9"/>
<line x1="99.83" y1="404.5" x2="99.83" y2="416" stroke="#111" stroke-width="0.9"/>
<line x1="81.59" y1="404.5" x2="81.59" y2="416" stroke="#111" stroke-width="0.9"/>
<line x1="89.72" y1="404.5" x2="89.72" y2="416" stroke="#111" stroke-width="0.9"/>
<defs><linearGradient id="cbC2" x1="0" y1="0" x2="1" y2="0"><stop offset="0" stop-color="#dc3d2c"/><stop offset="0.05" stop-color="#e65a44"/><stop offset="0.1" stop-color="#f19c86"/><stop offset="0.2" stop-color="#f5dcd6"/><stop offset="0.28" stop-color="#e6eef7"/><stop offset="0.36" stop-color="#a8cae8"/><stop offset="0.42" stop-color="#4f92cd"/><stop offset="1" stop-color="#2a6cb0"/></linearGradient></defs>
<rect x="44" y="416" width="87.6" height="4.6" fill="url(#cbC2)"/>
<path d="M44.2,430 L44.2,428.3 L45.65,428.41 L47.11,428.51 L48.56,428.61 L50.01,428.71 L51.47,428.81 L52.92,428.9 L54.37,428.99 L55.83,429.08 L57.28,429.16 L58.73,429.24 L60.19,429.32 L61.64,429.4 L63.09,429.47 L64.55,429.54 L66,429.6 L67.45,429.66 L68.91,429.72 L70.36,429.77 L71.81,429.82 L73.27,429.86 L74.72,429.9 L76.17,429.94 L77.63,429.97 L79.08,429.99 L80.53,430 L81.99,430.01 L83.44,430.05 L84.89,430.1 L86.35,430.18 L87.8,430.27 L89.25,430.38 L90.71,430.5 L92.16,430.64 L93.61,430.8 L95.07,430.97 L96.52,431.16 L97.97,431.36 L99.43,431.57 L100.88,431.8 L102.33,432.04 L103.79,432.29 L105.24,432.56 L106.69,432.84 L108.15,433.14 L109.6,433.44 L111.05,433.76 L112.51,434.09 L113.96,434.44 L115.41,434.79 L116.87,435.16 L118.32,435.54 L119.77,435.94 L121.23,436.34 L122.68,436.76 L124.13,437.19 L125.59,437.63 L127.04,438.08 L128.49,438.81 L129.95,441.53 L131.4,447.5 L131.4,430 Z" fill="#c8c8c8" stroke="#b0b0b0" stroke-width="0.3"/>
<line x1="42" y1="422.2" x2="44" y2="422.2" stroke="#333" stroke-width="0.8"/>
<text x="38.6" y="424.3" font-size="5.9" text-anchor="end" fill="#222" stroke="#222" stroke-width="0.12">2.5</text>
<line x1="42" y1="430" x2="44" y2="430" stroke="#333" stroke-width="0.8"/>
<text x="38.6" y="432.1" font-size="5.9" text-anchor="end" fill="#222" stroke="#222" stroke-width="0.12">0.0</text>
<line x1="42" y1="437.8" x2="44" y2="437.8" stroke="#333" stroke-width="0.8"/>
<text x="38.6" y="439.9" font-size="5.9" text-anchor="end" fill="#222" stroke="#222" stroke-width="0.12">&#8722;2.5</text>
<line x1="42" y1="445.6" x2="44" y2="445.6" stroke="#333" stroke-width="0.8"/>
<text x="38.6" y="447.7" font-size="5.9" text-anchor="end" fill="#222" stroke="#222" stroke-width="0.12">&#8722;5.0</text>
<line x1="43.5" y1="453" x2="131.6" y2="453" stroke="#222" stroke-width="1.1"/>
<line x1="67.9" y1="453" x2="67.9" y2="455" stroke="#333" stroke-width="0.8"/>
<text x="67.9" y="464.3" font-size="5.9" text-anchor="middle" fill="#222" stroke="#222" stroke-width="0.12">1000</text>
<line x1="91.4" y1="453" x2="91.4" y2="455" stroke="#333" stroke-width="0.8"/>
<text x="91.4" y="464.3" font-size="5.9" text-anchor="middle" fill="#222" stroke="#222" stroke-width="0.12">2000</text>
<line x1="114.9" y1="453" x2="114.9" y2="455" stroke="#333" stroke-width="0.8"/>
<text x="114.9" y="464.3" font-size="5.9" text-anchor="middle" fill="#222" stroke="#222" stroke-width="0.12">3000</text>
<text x="87.8" y="475.9" font-size="7.4" text-anchor="middle" fill="#222" font-weight="bold" textLength="60" lengthAdjust="spacingAndGlyphs">Rank in ordered dataset</text>
<text x="23" y="379.5" font-size="7.2" text-anchor="middle" fill="#222" font-weight="bold" transform="rotate(-90 23 379.5)" textLength="46" lengthAdjust="spacingAndGlyphs">Enrichment score</text>
<text x="23" y="436.8" font-size="7.2" text-anchor="middle" fill="#222" font-weight="bold" transform="rotate(-90 23 436.8)" textLength="44.7" lengthAdjust="spacingAndGlyphs">Ranked list metric</text>
<text x="62.4" y="351" font-size="5.9" text-anchor="middle" fill="#3f55a8" stroke="#3f55a8" stroke-width="0.12"><tspan font-style="italic">Actn1</tspan><tspan font-size="3.6" dy="-2.3">fl/fl</tspan><tspan dy="2.3"> (&#8805;8N)</tspan></text>
<text x="112.5" y="351" font-size="5.9" text-anchor="middle" fill="#e25a5a" stroke="#e25a5a" stroke-width="0.12">PF4-<tspan font-style="italic">Actn1</tspan><tspan font-size="3.6" dy="-2.3">&#8722;/&#8722;</tspan><tspan dy="2.3"> (&#8805;8N)</tspan></text>
<text x="95.5" y="362.4" font-size="6" text-anchor="middle" fill="#222" stroke="#222" stroke-width="0.12">Mitochondria <tspan font-style="italic">P</tspan> &lt; .001</text>
<text x="155" y="200.7" font-size="10.8" text-anchor="start" fill="#111" font-weight="bold">D</text>
<line x1="199.6" y1="228.8" x2="192.3" y2="246.9" stroke="#c7bde4" stroke-width="0.45"/>
<line x1="195.8" y1="221.5" x2="188.5" y2="237.3" stroke="#c7bde4" stroke-width="0.45"/>
<line x1="185" y1="249.4" x2="185.2" y2="266.9" stroke="#c7bde4" stroke-width="0.45"/>
<line x1="176.5" y1="245" x2="172.7" y2="268.5" stroke="#c7bde4" stroke-width="0.45"/>
<line x1="192.3" y1="246.9" x2="185.2" y2="266.9" stroke="#c7bde4" stroke-width="0.45"/>
<line x1="185" y1="249.4" x2="172.7" y2="268.5" stroke="#c7bde4" stroke-width="0.45"/>
<line x1="192.3" y1="280.4" x2="193.8" y2="298.1" stroke="#c7bde4" stroke-width="0.45"/>
<line x1="184.2" y1="289" x2="190" y2="305" stroke="#c7bde4" stroke-width="0.45"/>
<line x1="177.9" y1="293.8" x2="182.7" y2="305" stroke="#c7bde4" stroke-width="0.45"/>
<line x1="207.3" y1="322.7" x2="227.1" y2="297.1" stroke="#c7bde4" stroke-width="0.45"/>
<line x1="233.8" y1="224.4" x2="230" y2="266.7" stroke="#c7bde4" stroke-width="0.45"/>
<line x1="233.8" y1="224.4" x2="231.2" y2="245" stroke="#c7bde4" stroke-width="0.45"/>
<line x1="246.9" y1="261" x2="265.4" y2="271.3" stroke="#c7bde4" stroke-width="0.45"/>
<line x1="251.7" y1="274.4" x2="265.4" y2="271.3" stroke="#c7bde4" stroke-width="0.45"/>
<line x1="265.4" y1="271.3" x2="276.9" y2="268.8" stroke="#c7bde4" stroke-width="0.45"/>
<line x1="265.4" y1="271.3" x2="269.2" y2="291.9" stroke="#c7bde4" stroke-width="0.45"/>
<line x1="269.2" y1="291.9" x2="293.3" y2="303.1" stroke="#c7bde4" stroke-width="0.45"/>
<line x1="254.6" y1="257.7" x2="276.9" y2="268.8" stroke="#c7bde4" stroke-width="0.45"/>
<line x1="309.4" y1="226.3" x2="317.1" y2="219.2" stroke="#c7bde4" stroke-width="0.45"/>
<line x1="309.4" y1="226.3" x2="318.1" y2="202.7" stroke="#c7bde4" stroke-width="0.45"/>
<line x1="265.8" y1="220.6" x2="285.8" y2="225.4" stroke="#c7bde4" stroke-width="0.45"/>
<line x1="199.6" y1="210" x2="188.5" y2="237.3" stroke="#c7bde4" stroke-width="0.45"/>
<line x1="263.8" y1="241.2" x2="281.5" y2="234" stroke="#c7bde4" stroke-width="0.45"/>
<line x1="259.4" y1="251.3" x2="265.4" y2="271.3" stroke="#c7bde4" stroke-width="0.45"/>
<line x1="238.8" y1="278.8" x2="254.6" y2="257.7" stroke="#c7bde4" stroke-width="0.45"/>
<line x1="222.9" y1="279.6" x2="246.9" y2="261" stroke="#c7bde4" stroke-width="0.45"/>
<line x1="230" y1="266.7" x2="251.7" y2="274.4" stroke="#c7bde4" stroke-width="0.45"/>
<line x1="222.9" y1="279.6" x2="238.8" y2="278.8" stroke="#c7bde4" stroke-width="0.45"/>
<line x1="209.2" y1="203.3" x2="217.7" y2="206.2" stroke="#b6a8dc" stroke-width="0.45"/>
<line x1="209.2" y1="203.3" x2="199.6" y2="210" stroke="#b6a8dc" stroke-width="0.45"/>
<line x1="209.2" y1="203.3" x2="222.1" y2="216.2" stroke="#b6a8dc" stroke-width="0.45"/>
<line x1="217.7" y1="206.2" x2="222.1" y2="216.2" stroke="#b6a8dc" stroke-width="0.45"/>
<line x1="217.7" y1="206.2" x2="232.3" y2="210" stroke="#b6a8dc" stroke-width="0.45"/>
<line x1="199.6" y1="210" x2="195.8" y2="221.5" stroke="#b6a8dc" stroke-width="0.45"/>
<line x1="232.3" y1="210" x2="222.1" y2="216.2" stroke="#b6a8dc" stroke-width="0.45"/>
<line x1="232.3" y1="210" x2="220.2" y2="227.7" stroke="#b6a8dc" stroke-width="0.45"/>
<line x1="222.1" y1="216.2" x2="220.2" y2="227.7" stroke="#b6a8dc" stroke-width="0.45"/>
<line x1="195.8" y1="221.5" x2="199.6" y2="228.8" stroke="#b6a8dc" stroke-width="0.45"/>
<line x1="195.8" y1="221.5" x2="211.5" y2="225" stroke="#b6a8dc" stroke-width="0.45"/>
<line x1="211.5" y1="225" x2="220.2" y2="227.7" stroke="#b6a8dc" stroke-width="0.45"/>
<line x1="211.5" y1="225" x2="199.6" y2="228.8" stroke="#b6a8dc" stroke-width="0.45"/>
<line x1="220.2" y1="227.7" x2="199.6" y2="228.8" stroke="#b6a8dc" stroke-width="0.45"/>
<line x1="181.7" y1="220.6" x2="190.4" y2="225" stroke="#b6a8dc" stroke-width="0.45"/>
<line x1="181.7" y1="220.6" x2="173.5" y2="226.3" stroke="#b6a8dc" stroke-width="0.45"/>
<line x1="181.7" y1="220.6" x2="180.8" y2="231.2" stroke="#b6a8dc" stroke-width="0.45"/>
<line x1="180.8" y1="231.2" x2="173.5" y2="226.3" stroke="#b6a8dc" stroke-width="0.45"/>
<line x1="180.8" y1="231.2" x2="172.7" y2="236" stroke="#b6a8dc" stroke-width="0.45"/>
<line x1="180.8" y1="231.2" x2="188.5" y2="237.3" stroke="#b6a8dc" stroke-width="0.45"/>
<line x1="198.5" y1="237.3" x2="188.5" y2="237.3" stroke="#b6a8dc" stroke-width="0.45"/>
<line x1="198.5" y1="237.3" x2="192.3" y2="246.9" stroke="#b6a8dc" stroke-width="0.45"/>
<line x1="198.5" y1="237.3" x2="190.4" y2="225" stroke="#b6a8dc" stroke-width="0.45"/>
<line x1="188.5" y1="237.3" x2="192.3" y2="246.9" stroke="#b6a8dc" stroke-width="0.45"/>
<line x1="176.5" y1="245" x2="185" y2="249.4" stroke="#b6a8dc" stroke-width="0.45"/>
<line x1="176.5" y1="245" x2="172.7" y2="236" stroke="#b6a8dc" stroke-width="0.45"/>
<line x1="185" y1="249.4" x2="192.3" y2="246.9" stroke="#b6a8dc" stroke-width="0.45"/>
<line x1="173.5" y1="226.3" x2="172.7" y2="236" stroke="#b6a8dc" stroke-width="0.45"/>
<line x1="172.7" y1="268.5" x2="161.5" y2="276.2" stroke="#b6a8dc" stroke-width="0.45"/>
<line x1="172.7" y1="268.5" x2="172.1" y2="283.8" stroke="#b6a8dc" stroke-width="0.45"/>
<line x1="172.7" y1="268.5" x2="178.8" y2="282.7" stroke="#b6a8dc" stroke-width="0.45"/>
<line x1="192.3" y1="280.4" x2="184.2" y2="289" stroke="#b6a8dc" stroke-width="0.45"/>
<line x1="192.3" y1="280.4" x2="178.8" y2="282.7" stroke="#b6a8dc" stroke-width="0.45"/>
<line x1="192.3" y1="280.4" x2="177.9" y2="293.8" stroke="#b6a8dc" stroke-width="0.45"/>
<line x1="178.8" y1="282.7" x2="172.1" y2="283.8" stroke="#b6a8dc" stroke-width="0.45"/>
<line x1="178.8" y1="282.7" x2="184.2" y2="289" stroke="#b6a8dc" stroke-width="0.45"/>
<line x1="178.8" y1="282.7" x2="177.9" y2="293.8" stroke="#b6a8dc" stroke-width="0.45"/>
<line x1="184.2" y1="289" x2="177.9" y2="293.8" stroke="#b6a8dc" stroke-width="0.45"/>
<line x1="169.2" y1="294.2" x2="177.9" y2="293.8" stroke="#b6a8dc" stroke-width="0.45"/>
<line x1="169.2" y1="294.2" x2="172.1" y2="283.8" stroke="#b6a8dc" stroke-width="0.45"/>
<line x1="169.2" y1="294.2" x2="158.7" y2="298.1" stroke="#b6a8dc" stroke-width="0.45"/>
<line x1="161.5" y1="276.2" x2="156.7" y2="285.2" stroke="#b6a8dc" stroke-width="0.45"/>
<line x1="161.5" y1="276.2" x2="172.1" y2="283.8" stroke="#b6a8dc" stroke-width="0.45"/>
<line x1="156.7" y1="285.2" x2="158.7" y2="298.1" stroke="#b6a8dc" stroke-width="0.45"/>
<line x1="193.8" y1="298.1" x2="190" y2="305" stroke="#b6a8dc" stroke-width="0.45"/>
<line x1="193.8" y1="298.1" x2="201.5" y2="302.5" stroke="#b6a8dc" stroke-width="0.45"/>
<line x1="193.8" y1="298.1" x2="182.7" y2="305" stroke="#b6a8dc" stroke-width="0.45"/>
<line x1="182.7" y1="305" x2="190" y2="305" stroke="#b6a8dc" stroke-width="0.45"/>
<line x1="182.7" y1="305" x2="180.4" y2="312.1" stroke="#b6a8dc" stroke-width="0.45"/>
<line x1="190" y1="305" x2="201.5" y2="302.5" stroke="#b6a8dc" stroke-width="0.45"/>
<line x1="201.5" y1="302.5" x2="206.2" y2="312.1" stroke="#b6a8dc" stroke-width="0.45"/>
<line x1="180.4" y1="312.1" x2="185" y2="322.3" stroke="#b6a8dc" stroke-width="0.45"/>
<line x1="206.2" y1="312.1" x2="207.3" y2="322.7" stroke="#b6a8dc" stroke-width="0.45"/>
<line x1="206.2" y1="312.1" x2="195.8" y2="317.3" stroke="#b6a8dc" stroke-width="0.45"/>
<line x1="195.8" y1="317.3" x2="194.6" y2="326.9" stroke="#b6a8dc" stroke-width="0.45"/>
<line x1="195.8" y1="317.3" x2="185" y2="322.3" stroke="#b6a8dc" stroke-width="0.45"/>
<line x1="185" y1="322.3" x2="194.6" y2="326.9" stroke="#b6a8dc" stroke-width="0.45"/>
<line x1="207.3" y1="322.7" x2="194.6" y2="326.9" stroke="#b6a8dc" stroke-width="0.45"/>
<line x1="227.1" y1="297.1" x2="233.1" y2="306" stroke="#b6a8dc" stroke-width="0.45"/>
<line x1="227.1" y1="297.1" x2="237.9" y2="294.8" stroke="#b6a8dc" stroke-width="0.45"/>
<line x1="227.1" y1="297.1" x2="228.5" y2="314" stroke="#b6a8dc" stroke-width="0.45"/>
<line x1="237.9" y1="294.8" x2="247.5" y2="294.8" stroke="#b6a8dc" stroke-width="0.45"/>
<line x1="237.9" y1="294.8" x2="233.1" y2="306" stroke="#b6a8dc" stroke-width="0.45"/>
<line x1="247.5" y1="294.8" x2="254.4" y2="301.9" stroke="#b6a8dc" stroke-width="0.45"/>
<line x1="247.5" y1="294.8" x2="244" y2="307.1" stroke="#b6a8dc" stroke-width="0.45"/>
<line x1="254.4" y1="301.9" x2="253.8" y2="312.3" stroke="#b6a8dc" stroke-width="0.45"/>
<line x1="254.4" y1="301.9" x2="244" y2="307.1" stroke="#b6a8dc" stroke-width="0.45"/>
<line x1="233.1" y1="306" x2="228.5" y2="314" stroke="#b6a8dc" stroke-width="0.45"/>
<line x1="233.1" y1="306" x2="244" y2="307.1" stroke="#b6a8dc" stroke-width="0.45"/>
<line x1="244" y1="307.1" x2="253.8" y2="312.3" stroke="#b6a8dc" stroke-width="0.45"/>
<line x1="228.5" y1="314" x2="237.5" y2="319.2" stroke="#b6a8dc" stroke-width="0.45"/>
<line x1="253.8" y1="312.3" x2="245.8" y2="319.2" stroke="#b6a8dc" stroke-width="0.45"/>
<line x1="237.5" y1="319.2" x2="245.8" y2="319.2" stroke="#b6a8dc" stroke-width="0.45"/>
<line x1="247.3" y1="231.5" x2="239.8" y2="236.5" stroke="#b6a8dc" stroke-width="0.45"/>
<line x1="247.3" y1="231.5" x2="256.2" y2="236" stroke="#b6a8dc" stroke-width="0.45"/>
<line x1="247.3" y1="231.5" x2="242.1" y2="245" stroke="#b6a8dc" stroke-width="0.45"/>
<line x1="239.8" y1="236.5" x2="242.1" y2="245" stroke="#b6a8dc" stroke-width="0.45"/>
<line x1="239.8" y1="236.5" x2="231.2" y2="245" stroke="#b6a8dc" stroke-width="0.45"/>
<line x1="256.2" y1="236" x2="254.2" y2="244.6" stroke="#b6a8dc" stroke-width="0.45"/>
<line x1="256.2" y1="236" x2="263.8" y2="241.2" stroke="#b6a8dc" stroke-width="0.45"/>
<line x1="263.8" y1="241.2" x2="254.2" y2="244.6" stroke="#b6a8dc" stroke-width="0.45"/>
<line x1="263.8" y1="241.2" x2="259.4" y2="251.3" stroke="#b6a8dc" stroke-width="0.45"/>
<line x1="231.2" y1="245" x2="242.1" y2="245" stroke="#b6a8dc" stroke-width="0.45"/>
<line x1="231.2" y1="245" x2="237.9" y2="255.2" stroke="#b6a8dc" stroke-width="0.45"/>
<line x1="242.1" y1="245" x2="237.9" y2="255.2" stroke="#b6a8dc" stroke-width="0.45"/>
<line x1="254.2" y1="244.6" x2="259.4" y2="251.3" stroke="#b6a8dc" stroke-width="0.45"/>
<line x1="254.6" y1="257.7" x2="246.9" y2="261" stroke="#b6a8dc" stroke-width="0.45"/>
<line x1="254.6" y1="257.7" x2="251.7" y2="274.4" stroke="#b6a8dc" stroke-width="0.45"/>
<line x1="254.6" y1="257.7" x2="230" y2="266.7" stroke="#b6a8dc" stroke-width="0.45"/>
<line x1="246.9" y1="261" x2="251.7" y2="274.4" stroke="#b6a8dc" stroke-width="0.45"/>
<line x1="246.9" y1="261" x2="230" y2="266.7" stroke="#b6a8dc" stroke-width="0.45"/>
<line x1="230" y1="266.7" x2="222.9" y2="279.6" stroke="#b6a8dc" stroke-width="0.45"/>
<line x1="230" y1="266.7" x2="238.8" y2="278.8" stroke="#b6a8dc" stroke-width="0.45"/>
<line x1="251.7" y1="274.4" x2="238.8" y2="278.8" stroke="#b6a8dc" stroke-width="0.45"/>
<line x1="238.8" y1="278.8" x2="222.9" y2="279.6" stroke="#b6a8dc" stroke-width="0.45"/>
<line x1="285.8" y1="225.4" x2="281.5" y2="234" stroke="#b6a8dc" stroke-width="0.45"/>
<line x1="285.8" y1="225.4" x2="296" y2="222.5" stroke="#b6a8dc" stroke-width="0.45"/>
<line x1="285.8" y1="225.4" x2="282.5" y2="246.9" stroke="#b6a8dc" stroke-width="0.45"/>
<line x1="309.4" y1="226.3" x2="296" y2="222.5" stroke="#b6a8dc" stroke-width="0.45"/>
<line x1="309.4" y1="226.3" x2="306.5" y2="240.8" stroke="#b6a8dc" stroke-width="0.45"/>
<line x1="281.5" y1="234" x2="282.5" y2="246.9" stroke="#b6a8dc" stroke-width="0.45"/>
<line x1="281.5" y1="234" x2="296" y2="222.5" stroke="#b6a8dc" stroke-width="0.45"/>
<line x1="282.5" y1="246.9" x2="298.5" y2="248.5" stroke="#b6a8dc" stroke-width="0.45"/>
<line x1="306.5" y1="240.8" x2="298.5" y2="248.5" stroke="#b6a8dc" stroke-width="0.45"/>
<line x1="276.9" y1="268.8" x2="287.5" y2="287.7" stroke="#b6a8dc" stroke-width="0.45"/>
<line x1="276.9" y1="268.8" x2="301" y2="271.3" stroke="#b6a8dc" stroke-width="0.45"/>
<line x1="276.9" y1="268.8" x2="297.1" y2="282.9" stroke="#b6a8dc" stroke-width="0.45"/>
<line x1="301" y1="271.3" x2="297.1" y2="282.9" stroke="#b6a8dc" stroke-width="0.45"/>
<line x1="301" y1="271.3" x2="311.9" y2="285.8" stroke="#b6a8dc" stroke-width="0.45"/>
<line x1="301" y1="271.3" x2="287.5" y2="287.7" stroke="#b6a8dc" stroke-width="0.45"/>
<line x1="297.1" y1="282.9" x2="287.5" y2="287.7" stroke="#b6a8dc" stroke-width="0.45"/>
<line x1="297.1" y1="282.9" x2="311.9" y2="285.8" stroke="#b6a8dc" stroke-width="0.45"/>
<line x1="287.5" y1="287.7" x2="293.3" y2="303.1" stroke="#b6a8dc" stroke-width="0.45"/>
<line x1="311.9" y1="285.8" x2="306.2" y2="298.3" stroke="#b6a8dc" stroke-width="0.45"/>
<line x1="306.2" y1="298.3" x2="293.3" y2="303.1" stroke="#b6a8dc" stroke-width="0.45"/>
<line x1="306.2" y1="298.3" x2="315.8" y2="313.1" stroke="#b6a8dc" stroke-width="0.45"/>
<line x1="293.3" y1="303.1" x2="300.4" y2="320.8" stroke="#b6a8dc" stroke-width="0.45"/>
<line x1="315.8" y1="313.1" x2="300.4" y2="320.8" stroke="#b6a8dc" stroke-width="0.45"/>
<line x1="318.1" y1="202.7" x2="335" y2="202.3" stroke="#b6a8dc" stroke-width="0.55"/>
<line x1="318.1" y1="202.7" x2="317.1" y2="219.2" stroke="#b6a8dc" stroke-width="0.55"/>
<line x1="318.1" y1="202.7" x2="335" y2="219.2" stroke="#b6a8dc" stroke-width="0.55"/>
<line x1="335" y1="202.3" x2="317.1" y2="219.2" stroke="#b6a8dc" stroke-width="0.55"/>
<line x1="335" y1="202.3" x2="335" y2="219.2" stroke="#b6a8dc" stroke-width="0.55"/>
<line x1="317.1" y1="219.2" x2="335" y2="219.2" stroke="#b6a8dc" stroke-width="0.55"/>
<line x1="210" y1="215.4" x2="209.2" y2="203.3" stroke="#5b3f96" stroke-width="0.75"/>
<line x1="210" y1="215.4" x2="217.7" y2="206.2" stroke="#5b3f96" stroke-width="0.75"/>
<line x1="210" y1="215.4" x2="199.6" y2="210" stroke="#5b3f96" stroke-width="0.75"/>
<line x1="210" y1="215.4" x2="232.3" y2="210" stroke="#5b3f96" stroke-width="0.75"/>
<line x1="210" y1="215.4" x2="222.1" y2="216.2" stroke="#5b3f96" stroke-width="0.75"/>
<line x1="210" y1="215.4" x2="195.8" y2="221.5" stroke="#5b3f96" stroke-width="0.75"/>
<line x1="210" y1="215.4" x2="211.5" y2="225" stroke="#5b3f96" stroke-width="0.75"/>
<line x1="210" y1="215.4" x2="220.2" y2="227.7" stroke="#5b3f96" stroke-width="0.75"/>
<line x1="210" y1="215.4" x2="199.6" y2="228.8" stroke="#5b3f96" stroke-width="0.75"/>
<line x1="186.2" y1="234.6" x2="181.7" y2="220.6" stroke="#5b3f96" stroke-width="0.7"/>
<line x1="186.2" y1="234.6" x2="180.8" y2="231.2" stroke="#5b3f96" stroke-width="0.7"/>
<line x1="186.2" y1="234.6" x2="198.5" y2="237.3" stroke="#5b3f96" stroke-width="0.7"/>
<line x1="186.2" y1="234.6" x2="188.5" y2="237.3" stroke="#5b3f96" stroke-width="0.7"/>
<line x1="186.2" y1="234.6" x2="176.5" y2="245" stroke="#5b3f96" stroke-width="0.7"/>
<line x1="186.2" y1="234.6" x2="185" y2="249.4" stroke="#5b3f96" stroke-width="0.7"/>
<line x1="186.2" y1="234.6" x2="192.3" y2="246.9" stroke="#5b3f96" stroke-width="0.7"/>
<line x1="186.2" y1="234.6" x2="173.5" y2="226.3" stroke="#5b3f96" stroke-width="0.7"/>
<line x1="186.2" y1="234.6" x2="190.4" y2="225" stroke="#5b3f96" stroke-width="0.7"/>
<line x1="186.2" y1="234.6" x2="172.7" y2="236" stroke="#5b3f96" stroke-width="0.7"/>
<line x1="175.5" y1="285" x2="172.7" y2="268.5" stroke="#5b3f96" stroke-width="0.7"/>
<line x1="175.5" y1="285" x2="192.3" y2="280.4" stroke="#5b3f96" stroke-width="0.7"/>
<line x1="175.5" y1="285" x2="178.8" y2="282.7" stroke="#5b3f96" stroke-width="0.7"/>
<line x1="175.5" y1="285" x2="184.2" y2="289" stroke="#5b3f96" stroke-width="0.7"/>
<line x1="175.5" y1="285" x2="169.2" y2="294.2" stroke="#5b3f96" stroke-width="0.7"/>
<line x1="175.5" y1="285" x2="177.9" y2="293.8" stroke="#5b3f96" stroke-width="0.7"/>
<line x1="175.5" y1="285" x2="161.5" y2="276.2" stroke="#5b3f96" stroke-width="0.7"/>
<line x1="175.5" y1="285" x2="172.1" y2="283.8" stroke="#5b3f96" stroke-width="0.7"/>
<line x1="175.5" y1="285" x2="156.7" y2="285.2" stroke="#5b3f96" stroke-width="0.7"/>
<line x1="175.5" y1="285" x2="158.7" y2="298.1" stroke="#5b3f96" stroke-width="0.7"/>
<line x1="192.3" y1="310.2" x2="193.8" y2="298.1" stroke="#5b3f96" stroke-width="0.75"/>
<line x1="192.3" y1="310.2" x2="182.7" y2="305" stroke="#5b3f96" stroke-width="0.75"/>
<line x1="192.3" y1="310.2" x2="190" y2="305" stroke="#5b3f96" stroke-width="0.75"/>
<line x1="192.3" y1="310.2" x2="201.5" y2="302.5" stroke="#5b3f96" stroke-width="0.75"/>
<line x1="192.3" y1="310.2" x2="180.4" y2="312.1" stroke="#5b3f96" stroke-width="0.75"/>
<line x1="192.3" y1="310.2" x2="206.2" y2="312.1" stroke="#5b3f96" stroke-width="0.75"/>
<line x1="192.3" y1="310.2" x2="195.8" y2="317.3" stroke="#5b3f96" stroke-width="0.75"/>
<line x1="192.3" y1="310.2" x2="185" y2="322.3" stroke="#5b3f96" stroke-width="0.75"/>
<line x1="192.3" y1="310.2" x2="207.3" y2="322.7" stroke="#5b3f96" stroke-width="0.75"/>
<line x1="192.3" y1="310.2" x2="194.6" y2="326.9" stroke="#5b3f96" stroke-width="0.75"/>
<line x1="241.2" y1="306.8" x2="227.1" y2="297.1" stroke="#5b3f96" stroke-width="0.75"/>
<line x1="241.2" y1="306.8" x2="237.9" y2="294.8" stroke="#5b3f96" stroke-width="0.75"/>
<line x1="241.2" y1="306.8" x2="247.5" y2="294.8" stroke="#5b3f96" stroke-width="0.75"/>
<line x1="241.2" y1="306.8" x2="254.4" y2="301.9" stroke="#5b3f96" stroke-width="0.75"/>
<line x1="241.2" y1="306.8" x2="233.1" y2="306" stroke="#5b3f96" stroke-width="0.75"/>
<line x1="241.2" y1="306.8" x2="244" y2="307.1" stroke="#5b3f96" stroke-width="0.75"/>
<line x1="241.2" y1="306.8" x2="228.5" y2="314" stroke="#5b3f96" stroke-width="0.75"/>
<line x1="241.2" y1="306.8" x2="253.8" y2="312.3" stroke="#5b3f96" stroke-width="0.75"/>
<line x1="241.2" y1="306.8" x2="237.5" y2="319.2" stroke="#5b3f96" stroke-width="0.75"/>
<line x1="241.2" y1="306.8" x2="245.8" y2="319.2" stroke="#5b3f96" stroke-width="0.75"/>
<line x1="248.5" y1="246.5" x2="247.3" y2="231.5" stroke="#5b3f96" stroke-width="0.7"/>
<line x1="248.5" y1="246.5" x2="239.8" y2="236.5" stroke="#5b3f96" stroke-width="0.7"/>
<line x1="248.5" y1="246.5" x2="256.2" y2="236" stroke="#5b3f96" stroke-width="0.7"/>
<line x1="248.5" y1="246.5" x2="263.8" y2="241.2" stroke="#5b3f96" stroke-width="0.7"/>
<line x1="248.5" y1="246.5" x2="231.2" y2="245" stroke="#5b3f96" stroke-width="0.7"/>
<line x1="248.5" y1="246.5" x2="242.1" y2="245" stroke="#5b3f96" stroke-width="0.7"/>
<line x1="248.5" y1="246.5" x2="254.2" y2="244.6" stroke="#5b3f96" stroke-width="0.7"/>
<line x1="248.5" y1="246.5" x2="259.4" y2="251.3" stroke="#5b3f96" stroke-width="0.7"/>
<line x1="248.5" y1="246.5" x2="237.9" y2="255.2" stroke="#5b3f96" stroke-width="0.7"/>
<line x1="293" y1="235.4" x2="285.8" y2="225.4" stroke="#5b3f96" stroke-width="0.7"/>
<line x1="293" y1="235.4" x2="309.4" y2="226.3" stroke="#5b3f96" stroke-width="0.7"/>
<line x1="293" y1="235.4" x2="281.5" y2="234" stroke="#5b3f96" stroke-width="0.7"/>
<line x1="293" y1="235.4" x2="282.5" y2="246.9" stroke="#5b3f96" stroke-width="0.7"/>
<line x1="293" y1="235.4" x2="296" y2="222.5" stroke="#5b3f96" stroke-width="0.7"/>
<line x1="293" y1="235.4" x2="306.5" y2="240.8" stroke="#5b3f96" stroke-width="0.7"/>
<line x1="293" y1="235.4" x2="298.5" y2="248.5" stroke="#5b3f96" stroke-width="0.7"/>
<line x1="246.9" y1="261" x2="238.8" y2="278.8" stroke="#8a78c0" stroke-width="0.55"/>
<line x1="246.9" y1="261" x2="230" y2="266.7" stroke="#8a78c0" stroke-width="0.55"/>
<line x1="254.6" y1="257.7" x2="251.7" y2="274.4" stroke="#8a78c0" stroke-width="0.55"/>
<line x1="247.3" y1="252.7" x2="246.9" y2="261" stroke="#8a78c0" stroke-width="0.55"/>
<line x1="297.1" y1="282.9" x2="306.2" y2="298.3" stroke="#b9abdd" stroke-width="0.5"/>
<line x1="287.5" y1="287.7" x2="293.3" y2="303.1" stroke="#b9abdd" stroke-width="0.5"/>
<line x1="301" y1="271.3" x2="311.9" y2="285.8" stroke="#b9abdd" stroke-width="0.5"/>
<line x1="297.1" y1="282.9" x2="293.3" y2="303.1" stroke="#b9abdd" stroke-width="0.5"/>
<line x1="306.2" y1="298.3" x2="315.8" y2="313.1" stroke="#b9abdd" stroke-width="0.5"/>
<line x1="293.3" y1="303.1" x2="300.4" y2="320.8" stroke="#b9abdd" stroke-width="0.5"/>
<line x1="306.2" y1="298.3" x2="300.4" y2="320.8" stroke="#b9abdd" stroke-width="0.5"/>
<line x1="276.9" y1="268.8" x2="301" y2="271.3" stroke="#b9abdd" stroke-width="0.5"/>
<line x1="276.9" y1="268.8" x2="287.5" y2="287.7" stroke="#b9abdd" stroke-width="0.5"/>
<line x1="311.9" y1="285.8" x2="293.3" y2="303.1" stroke="#b9abdd" stroke-width="0.5"/>
<circle cx="209.2" cy="203.3" r="2.6" fill="#dd7fb0" stroke="#a05080" stroke-width="0.5"/>
<circle cx="217.7" cy="206.2" r="2.6" fill="#dd7fb0" stroke="#a05080" stroke-width="0.5"/>
<circle cx="199.6" cy="210" r="2.6" fill="#dd7fb0" stroke="#a05080" stroke-width="0.5"/>
<circle cx="232.3" cy="210" r="2.6" fill="#dd7fb0" stroke="#a05080" stroke-width="0.5"/>
<circle cx="222.1" cy="216.2" r="2.6" fill="#dd7fb0" stroke="#a05080" stroke-width="0.5"/>
<circle cx="195.8" cy="221.5" r="2.6" fill="#dd7fb0" stroke="#a05080" stroke-width="0.5"/>
<circle cx="211.5" cy="225" r="2.6" fill="#dd7fb0" stroke="#a05080" stroke-width="0.5"/>
<circle cx="220.2" cy="227.7" r="2.6" fill="#dd7fb0" stroke="#a05080" stroke-width="0.5"/>
<circle cx="199.6" cy="228.8" r="2.6" fill="#dd7fb0" stroke="#a05080" stroke-width="0.5"/>
<circle cx="181.7" cy="220.6" r="2.6" fill="#b3bde0" stroke="#7f88b0" stroke-width="0.5"/>
<circle cx="180.8" cy="231.2" r="2.6" fill="#b3bde0" stroke="#7f88b0" stroke-width="0.5"/>
<circle cx="198.5" cy="237.3" r="2.6" fill="#b3bde0" stroke="#7f88b0" stroke-width="0.5"/>
<circle cx="188.5" cy="237.3" r="2.6" fill="#b3bde0" stroke="#7f88b0" stroke-width="0.5"/>
<circle cx="176.5" cy="245" r="2.6" fill="#b3bde0" stroke="#7f88b0" stroke-width="0.5"/>
<circle cx="185" cy="249.4" r="2.6" fill="#b3bde0" stroke="#7f88b0" stroke-width="0.5"/>
<circle cx="192.3" cy="246.9" r="2.6" fill="#b3bde0" stroke="#7f88b0" stroke-width="0.5"/>
<circle cx="173.5" cy="226.3" r="1.5" fill="#b3bde0" stroke="#7f88b0" stroke-width="0.5"/>
<circle cx="190.4" cy="225" r="1.5" fill="#b3bde0" stroke="#7f88b0" stroke-width="0.5"/>
<circle cx="172.7" cy="236" r="1.5" fill="#b3bde0" stroke="#7f88b0" stroke-width="0.5"/>
<circle cx="172.7" cy="268.5" r="2.6" fill="#a5c98a" stroke="#70905a" stroke-width="0.5"/>
<circle cx="192.3" cy="280.4" r="2.6" fill="#a5c98a" stroke="#70905a" stroke-width="0.5"/>
<circle cx="178.8" cy="282.7" r="2.6" fill="#a5c98a" stroke="#70905a" stroke-width="0.5"/>
<circle cx="184.2" cy="289" r="2.6" fill="#a5c98a" stroke="#70905a" stroke-width="0.5"/>
<circle cx="169.2" cy="294.2" r="2.6" fill="#a5c98a" stroke="#70905a" stroke-width="0.5"/>
<circle cx="177.9" cy="293.8" r="2.6" fill="#a5c98a" stroke="#70905a" stroke-width="0.5"/>
<circle cx="161.5" cy="276.2" r="1.5" fill="#a5c98a" stroke="#70905a" stroke-width="0.5"/>
<circle cx="172.1" cy="283.8" r="1.5" fill="#a5c98a" stroke="#70905a" stroke-width="0.5"/>
<circle cx="156.7" cy="285.2" r="1.5" fill="#a5c98a" stroke="#70905a" stroke-width="0.5"/>
<circle cx="158.7" cy="298.1" r="1.5" fill="#a5c98a" stroke="#70905a" stroke-width="0.5"/>
<circle cx="185.2" cy="266.9" r="2.6" fill="#8b83b2" stroke="#6a6290" stroke-width="0.35"/>
<circle cx="193.8" cy="298.1" r="2.6" fill="#cc1f36" stroke="#8a1020" stroke-width="0.5"/>
<circle cx="182.7" cy="305" r="2.6" fill="#cc1f36" stroke="#8a1020" stroke-width="0.5"/>
<circle cx="190" cy="305" r="2.6" fill="#cc1f36" stroke="#8a1020" stroke-width="0.5"/>
<circle cx="201.5" cy="302.5" r="2.6" fill="#cc1f36" stroke="#8a1020" stroke-width="0.5"/>
<circle cx="180.4" cy="312.1" r="2.6" fill="#cc1f36" stroke="#8a1020" stroke-width="0.5"/>
<circle cx="206.2" cy="312.1" r="2.6" fill="#cc1f36" stroke="#8a1020" stroke-width="0.5"/>
<circle cx="195.8" cy="317.3" r="2.6" fill="#cc1f36" stroke="#8a1020" stroke-width="0.5"/>
<circle cx="185" cy="322.3" r="2.6" fill="#cc1f36" stroke="#8a1020" stroke-width="0.5"/>
<circle cx="207.3" cy="322.7" r="2.6" fill="#cc1f36" stroke="#8a1020" stroke-width="0.5"/>
<circle cx="194.6" cy="326.9" r="2.6" fill="#cc1f36" stroke="#8a1020" stroke-width="0.5"/>
<circle cx="227.1" cy="297.1" r="2.6" fill="#cfe3d9" stroke="#7ea896" stroke-width="0.5"/>
<circle cx="237.9" cy="294.8" r="2.6" fill="#cfe3d9" stroke="#7ea896" stroke-width="0.5"/>
<circle cx="247.5" cy="294.8" r="2.6" fill="#cfe3d9" stroke="#7ea896" stroke-width="0.5"/>
<circle cx="254.4" cy="301.9" r="2.6" fill="#cfe3d9" stroke="#7ea896" stroke-width="0.5"/>
<circle cx="233.1" cy="306" r="2.6" fill="#cfe3d9" stroke="#7ea896" stroke-width="0.5"/>
<circle cx="244" cy="307.1" r="2.6" fill="#cfe3d9" stroke="#7ea896" stroke-width="0.5"/>
<circle cx="228.5" cy="314" r="2.6" fill="#cfe3d9" stroke="#7ea896" stroke-width="0.5"/>
<circle cx="253.8" cy="312.3" r="2.6" fill="#cfe3d9" stroke="#7ea896" stroke-width="0.5"/>
<circle cx="237.5" cy="319.2" r="2.6" fill="#cfe3d9" stroke="#7ea896" stroke-width="0.5"/>
<circle cx="245.8" cy="319.2" r="2.6" fill="#cfe3d9" stroke="#7ea896" stroke-width="0.5"/>
<circle cx="247.3" cy="231.5" r="2.6" fill="#f3f4c8" stroke="#a6aa70" stroke-width="0.5"/>
<circle cx="239.8" cy="236.5" r="2.6" fill="#f3f4c8" stroke="#a6aa70" stroke-width="0.5"/>
<circle cx="256.2" cy="236" r="2.6" fill="#f3f4c8" stroke="#a6aa70" stroke-width="0.5"/>
<circle cx="263.8" cy="241.2" r="2.6" fill="#f3f4c8" stroke="#a6aa70" stroke-width="0.5"/>
<circle cx="231.2" cy="245" r="2.6" fill="#f3f4c8" stroke="#a6aa70" stroke-width="0.5"/>
<circle cx="242.1" cy="245" r="2.6" fill="#f3f4c8" stroke="#a6aa70" stroke-width="0.5"/>
<circle cx="254.2" cy="244.6" r="2.6" fill="#f3f4c8" stroke="#a6aa70" stroke-width="0.5"/>
<circle cx="259.4" cy="251.3" r="2.6" fill="#f3f4c8" stroke="#a6aa70" stroke-width="0.5"/>
<circle cx="237.9" cy="255.2" r="2.6" fill="#f3f4c8" stroke="#a6aa70" stroke-width="0.5"/>
<circle cx="233.8" cy="224.4" r="1.6" fill="#fbfbf0" stroke="#999" stroke-width="0.35"/>
<circle cx="247.3" cy="252.7" r="2.6" fill="#8e8e96" stroke="#666" stroke-width="0.35"/>
<circle cx="254.6" cy="257.7" r="2.6" fill="#e3ea3a" stroke="#a0a020" stroke-width="0.5"/>
<circle cx="246.9" cy="261" r="2.6" fill="#e3ea3a" stroke="#a0a020" stroke-width="0.5"/>
<circle cx="230" cy="266.7" r="2.6" fill="#e3ea3a" stroke="#a0a020" stroke-width="0.5"/>
<circle cx="251.7" cy="274.4" r="2.6" fill="#e3ea3a" stroke="#a0a020" stroke-width="0.5"/>
<circle cx="238.8" cy="278.8" r="2.6" fill="#e3ea3a" stroke="#a0a020" stroke-width="0.5"/>
<circle cx="222.9" cy="279.6" r="2.6" fill="#e3ea3a" stroke="#a0a020" stroke-width="0.5"/>
<circle cx="265.4" cy="271.3" r="2.6" fill="#8890b0" stroke="#667" stroke-width="0.35"/>
<circle cx="269.2" cy="291.9" r="2.6" fill="#6f4a9e" stroke="#4a2a70" stroke-width="0.35"/>
<circle cx="285.8" cy="225.4" r="2.6" fill="#d9807e" stroke="#a05555" stroke-width="0.5"/>
<circle cx="309.4" cy="226.3" r="2.6" fill="#d9807e" stroke="#a05555" stroke-width="0.5"/>
<circle cx="281.5" cy="234" r="2.6" fill="#d9807e" stroke="#a05555" stroke-width="0.5"/>
<circle cx="282.5" cy="246.9" r="2.6" fill="#d9807e" stroke="#a05555" stroke-width="0.5"/>
<circle cx="296" cy="222.5" r="1.8" fill="#b9808a" stroke="#805560" stroke-width="0.5"/>
<circle cx="306.5" cy="240.8" r="1.8" fill="#b9808a" stroke="#805560" stroke-width="0.5"/>
<circle cx="298.5" cy="248.5" r="1.8" fill="#b9808a" stroke="#805560" stroke-width="0.5"/>
<circle cx="265.8" cy="220.6" r="1.6" fill="#909090" stroke="#666" stroke-width="0.35"/>
<circle cx="318.1" cy="202.7" r="2.6" fill="#43a047" stroke="#2a7a2a" stroke-width="0.5"/>
<circle cx="335" cy="202.3" r="2.6" fill="#43a047" stroke="#2a7a2a" stroke-width="0.5"/>
<circle cx="317.1" cy="219.2" r="2.6" fill="#43a047" stroke="#2a7a2a" stroke-width="0.5"/>
<circle cx="335" cy="219.2" r="2.6" fill="#43a047" stroke="#2a7a2a" stroke-width="0.5"/>
<circle cx="276.9" cy="268.8" r="2.6" fill="#d3913f" stroke="#9a6020" stroke-width="0.5"/>
<circle cx="287.5" cy="287.7" r="2.6" fill="#d3913f" stroke="#9a6020" stroke-width="0.5"/>
<circle cx="301" cy="271.3" r="2.6" fill="#d97f2a" stroke="#9a5a10" stroke-width="0.5"/>
<circle cx="297.1" cy="282.9" r="2.6" fill="#d97f2a" stroke="#9a5a10" stroke-width="0.5"/>
<circle cx="311.9" cy="285.8" r="2.6" fill="#d6b274" stroke="#a08040" stroke-width="0.5"/>
<circle cx="306.2" cy="298.3" r="2.6" fill="#d6b274" stroke="#a08040" stroke-width="0.5"/>
<circle cx="293.3" cy="303.1" r="2.6" fill="#d6b274" stroke="#a08040" stroke-width="0.5"/>
<circle cx="315.8" cy="313.1" r="2.6" fill="#d6b274" stroke="#a08040" stroke-width="0.5"/>
<circle cx="300.4" cy="320.8" r="2.6" fill="#d6b274" stroke="#a08040" stroke-width="0.5"/>
<text x="347.1" y="196.7" font-size="6" text-anchor="start" fill="#111" font-weight="bold">Reactome</text>
<rect x="346.8" y="200" width="5.9" height="5.9" fill="#d3192f"/>
<text x="355.9" y="205" font-size="5.85" text-anchor="start" fill="#222" stroke="#222" stroke-width="0.12">The citric acid (TCA) cycle and respiratory electron transport</text>
<rect x="346.8" y="208.2" width="5.9" height="5.9" fill="#de86b8"/>
<text x="355.9" y="213.2" font-size="5.85" text-anchor="start" fill="#222" stroke="#222" stroke-width="0.12">Metabolism of lipids</text>
<rect x="346.8" y="216.4" width="5.9" height="5.9" fill="#f5e434"/>
<text x="355.9" y="221.4" font-size="5.85" text-anchor="start" fill="#222" stroke="#222" stroke-width="0.12">Vesicle-mediated transport</text>
<rect x="346.8" y="224.6" width="5.9" height="5.9" fill="#4ca24a"/>
<text x="355.9" y="229.6" font-size="5.85" text-anchor="start" fill="#222" stroke="#222" stroke-width="0.12">Hemostasis</text>
<text x="347.1" y="237.7" font-size="6" text-anchor="start" fill="#111" font-weight="bold">GO Biological processes</text>
<rect x="346.8" y="241" width="5.9" height="5.9" fill="#f0b46a"/>
<text x="355.9" y="246" font-size="5.85" text-anchor="start" fill="#222" stroke="#222" stroke-width="0.12">Localization within membrane</text>
<rect x="346.8" y="249.3" width="5.9" height="5.9" fill="#e07a22"/>
<text x="355.9" y="254.3" font-size="5.85" text-anchor="start" fill="#222" stroke="#222" stroke-width="0.12">Intracellular protein transport</text>
<rect x="346.8" y="257.6" width="5.9" height="5.9" fill="#7b3f9c"/>
<text x="355.9" y="262.6" font-size="5.85" text-anchor="start" fill="#222" stroke="#222" stroke-width="0.12">Membrane organization</text>
<rect x="346.8" y="265.8" width="5.9" height="5.9" fill="#faf0b4"/>
<text x="355.9" y="270.8" font-size="5.85" text-anchor="start" fill="#222" stroke="#222" stroke-width="0.12">Endoplasmic reticulum to Golgi vesicle-mediated transport</text>
<rect x="346.8" y="274" width="5.9" height="5.9" fill="#d2e2cf"/>
<text x="355.9" y="279" font-size="5.85" text-anchor="start" fill="#222" stroke="#222" stroke-width="0.12">Cellular macromolecule biosynthetic process</text>
<rect x="346.8" y="282.2" width="5.9" height="5.9" fill="#8f8f8f"/>
<text x="355.9" y="287.2" font-size="5.85" text-anchor="start" fill="#222" stroke="#222" stroke-width="0.12">Enomembrane system organization</text>
<text x="347.1" y="295.7" font-size="6" text-anchor="start" fill="#111" font-weight="bold">KEGG pathway</text>
<rect x="346.8" y="298.7" width="5.9" height="5.9" fill="#e0706c"/>
<text x="355.9" y="303.7" font-size="5.85" text-anchor="start" fill="#222" stroke="#222" stroke-width="0.12"> Platelet activation (Mus musculus)</text>
<rect x="346.8" y="307" width="5.9" height="5.9" fill="#c3c3e3"/>
<text x="355.9" y="312" font-size="5.85" text-anchor="start" fill="#222" stroke="#222" stroke-width="0.12">Valine, leucine and isoleucine degradation (Mus musculus)</text>
<text x="347.1" y="320.3" font-size="6" text-anchor="start" fill="#111" font-weight="bold">WikiPathways</text>
<rect x="346.8" y="323.5" width="5.9" height="5.9" fill="#9dce5c"/>
<text x="355.9" y="328.5" font-size="5.85" text-anchor="start" fill="#222" stroke="#222" stroke-width="0.12">TCA cycle</text>
<rect x="346.8" y="331.7" width="5.9" height="5.9" fill="#a878b8"/>
<text x="355.9" y="336.7" font-size="5.85" text-anchor="start" fill="#222" stroke="#222" stroke-width="0.12">Amino acid metabolism</text>
<text x="155" y="362.4" font-size="10.8" text-anchor="start" fill="#111" font-weight="bold">E</text>
<path d="M247.0 441.9h0M247.8 452.2h0M247.8 448.9h0M245.4 406.2h0M246.2 461.1h0M243.9 458.6h0M243.6 432.6h0M246.1 437.1h0M243.6 405.3h0M248.6 421.3h0M243.8 450.4h0M243.8 452.3h0M243.4 441.5h0M248.3 404.6h0M243.6 417.1h0M247.1 463.4h0M248.9 421.9h0M246.9 436.9h0M248.8 416.8h0M248.2 445.9h0M244.7 458.1h0M241.9 426.2h0M242.5 413.2h0M246.3 422.6h0M246.9 404.7h0M243.4 424.8h0M245.5 453.6h0M245.4 423.4h0M243.2 446.8h0M243.6 463.0h0M247.4 449.5h0M247.7 405.6h0M246.4 426.5h0M242.3 405.0h0M248.9 415.4h0M247.4 416.3h0M247.5 460.3h0M243.9 425.2h0M247.6 436.0h0M247.4 411.0h0M247.4 452.3h0M248.8 406.7h0M244.5 410.0h0M248.1 441.1h0M250.5 424.9h0M244.2 437.2h0M241.7 423.5h0M243.1 409.2h0M248.3 445.9h0M242.3 414.2h0M245.7 463.7h0M243.1 428.9h0M247.6 440.1h0M245.0 431.8h0M248.6 407.8h0M245.6 406.5h0M243.8 454.8h0M248.0 448.4h0M247.3 442.3h0M245.1 410.9h0M248.1 413.5h0M245.3 422.2h0M247.0 464.5h0M245.4 463.1h0M247.3 433.8h0M244.0 433.2h0M242.2 428.7h0M250.7 427.1h0M246.1 462.1h0M244.4 434.5h0M244.0 409.8h0M247.5 451.4h0M248.7 426.2h0M246.6 451.0h0M247.1 444.3h0M247.8 426.3h0M245.5 421.4h0M246.6 450.7h0M248.8 422.1h0M246.1 443.5h0M245.9 405.2h0M246.8 419.5h0M248.1 432.3h0M247.3 443.3h0M247.2 425.4h0M247.3 448.8h0M249.5 425.5h0M246.5 456.7h0M247.5 463.1h0M245.8 435.6h0M248.0 414.5h0M245.5 460.7h0M246.8 446.0h0M243.8 448.3h0M246.0 451.3h0M245.2 444.4h0M247.2 441.9h0M246.9 442.7h0M243.2 406.2h0M246.9 431.0h0M246.9 417.6h0M242.9 442.4h0M243.5 432.8h0M243.0 407.7h0M241.7 423.5h0M242.3 416.1h0M244.6 432.4h0M246.1 441.2h0M248.5 418.8h0M244.9 404.5h0M245.0 421.2h0M248.0 411.4h0M240.7 426.9h0M243.2 441.3h0M244.4 437.2h0M248.9 439.4h0M245.2 453.6h0M246.3 453.3h0M241.8 426.7h0M246.0 440.3h0M247.6 461.9h0M244.7 441.0h0M243.3 458.1h0M246.1 411.0h0M243.5 441.4h0M247.9 442.3h0M244.9 427.1h0M244.1 418.1h0M245.1 462.8h0M247.3 462.2h0M244.2 440.2h0M245.6 463.4h0M243.9 429.4h0M245.6 463.6h0M245.4 421.7h0M246.5 411.8h0M243.8 431.1h0M247.3 451.4h0M245.8 405.3h0M248.7 420.9h0M244.3 451.4h0M243.1 420.6h0M244.8 463.8h0M245.4 441.0h0M246.2 443.2h0M243.6 449.1h0M244.6 450.1h0M244.4 436.5h0M245.8 422.3h0M244.5 432.4h0M246.1 449.2h0M243.8 406.7h0M249.0 431.8h0M245.8 457.8h0M247.6 405.4h0M246.3 430.2h0M246.3 447.0h0M248.7 433.4h0M244.5 427.6h0M244.2 455.6h0M248.0 422.3h0M248.0 408.5h0M245.2 446.2h0M247.6 421.7h0M244.0 459.1h0M246.0 433.2h0M244.4 434.4h0M246.2 413.7h0M243.5 453.2h0M247.9 418.3h0M246.4 452.0h0M247.2 406.0h0M247.7 463.2h0M243.1 446.6h0M244.3 455.0h0M248.2 443.2h0M243.6 447.2h0M248.6 422.0h0M246.4 413.5h0M242.4 429.3h0M242.9 441.8h0M244.7 411.0h0M242.4 408.8h0M247.3 439.0h0M243.9 457.2h0M243.9 430.4h0M245.5 440.5h0M245.1 460.8h0M247.0 407.8h0M246.5 413.6h0M248.6 434.9h0M246.5 437.8h0M246.0 420.3h0M247.4 419.8h0M243.0 435.5h0M244.7 418.6h0M243.9 448.7h0M246.4 447.3h0M246.8 409.6h0M242.9 410.0h0M244.0 440.1h0M245.5 457.1h0M249.2 423.9h0M247.2 406.3h0M243.1 407.7h0M246.4 461.6h0M242.8 417.9h0M246.3 462.9h0M243.8 453.7h0M244.7 442.0h0M244.4 418.6h0M244.7 441.3h0M241.9 427.6h0M246.3 454.4h0M245.3 452.8h0M245.7 455.6h0M246.0 440.1h0M245.0 448.9h0M242.2 410.3h0M242.3 416.6h0M245.5 457.9h0M243.0 450.1h0M248.6 432.7h0M245.2 441.7h0M242.4 432.4h0M243.1 413.8h0M244.4 427.0h0M244.0 457.3h0M244.0 419.7h0M244.1 414.2h0M245.5 418.6h0M248.7 406.4h0M250.3 426.6h0M246.6 445.8h0M249.1 432.8h0M246.8 411.6h0M246.9 422.0h0M243.8 448.3h0M242.2 416.6h0M242.6 418.3h0M250.2 428.6h0M243.6 426.4h0M243.9 432.6h0M246.8 448.4h0M243.7 414.3h0M248.1 444.8h0M245.2 443.3h0M243.5 463.0h0M247.6 408.2h0M241.3 429.1h0M249.1 437.4h0M244.5 435.6h0M242.5 410.1h0M245.6 458.4h0M243.7 460.6h0M242.4 419.1h0M241.2 428.3h0M244.9 419.8h0M242.4 422.9h0M249.0 406.8h0M245.7 415.3h0M245.9 428.6h0M244.3 409.6h0M245.9 411.0h0M246.0 459.8h0M244.2 455.9h0M245.9 405.5h0M246.1 433.7h0M246.9 427.1h0M247.8 448.0h0M245.2 423.0h0M244.3 454.1h0M244.2 411.4h0M247.6 409.8h0M244.7 453.7h0M242.6 412.3h0M242.6 419.2h0M246.3 430.2h0M242.4 419.2h0M243.1 446.5h0M244.1 416.5h0M241.3 426.9h0M243.9 429.7h0M245.9 449.6h0M246.3 458.3h0M246.0 450.1h0M248.3 431.0h0M248.2 443.8h0M246.7 448.2h0M247.8 420.6h0M241.8 427.4h0M243.2 408.5h0M246.9 420.3h0M242.5 421.6h0M245.9 450.3h0M242.4 406.1h0M244.6 412.3h0M247.7 456.1h0M244.0 441.2h0M244.4 430.2h0M239.8 424.3h0M248.0 439.6h0M243.4 448.1h0M243.2 436.3h0M245.3 447.1h0M246.9 460.8h0M244.3 411.6h0M245.4 459.4h0M245.1 430.5h0M247.8 450.6h0M249.0 436.5h0M243.2 440.3h0M245.2 453.4h0M249.0 407.6h0M246.2 406.5h0M248.5 433.4h0M242.7 428.1h0M243.4 421.1h0M244.6 438.2h0M244.2 449.6h0M242.8 425.6h0M247.0 463.4h0M246.2 455.5h0M242.1 428.6h0M245.6 454.4h0M243.2 406.8h0M247.2 410.4h0M244.2 458.5h0M244.7 452.3h0M247.6 445.5h0M247.4 441.9h0M240.4 427.1h0M246.2 435.2h0M244.8 415.6h0M239.8 423.5h0M244.2 423.2h0M247.2 433.1h0M250.4 428.4h0M247.7 453.4h0M246.5 446.1h0M247.8 436.7h0M246.6 426.3h0M245.7 445.3h0M242.6 421.6h0M244.6 409.7h0M247.5 439.3h0M244.6 447.4h0M244.6 460.3h0M243.3 447.5h0M246.5 449.7h0M247.3 461.9h0M247.5 445.8h0M246.2 448.8h0M245.7 417.0h0M244.4 458.3h0M245.8 463.0h0M240.6 428.1h0M242.3 427.9h0M247.9 443.7h0M246.1 459.1h0M241.6 427.7h0M245.9 445.8h0M244.9 447.4h0M244.3 457.7h0M243.9 422.8h0M247.9 441.8h0M246.6 414.5h0M244.2 450.5h0M246.1 408.3h0M247.4 454.3h0M245.2 448.2h0M245.9 430.0h0M244.7 458.8h0M246.4 421.3h0M244.3 462.5h0M242.8 406.3h0M246.3 438.3h0M243.4 415.5h0M246.5 440.2h0M246.9 445.9h0M245.5 408.2h0M247.8 454.6h0M249.9 423.6h0M248.1 443.2h0M247.0 418.2h0M245.5 454.9h0M243.4 410.5h0M242.7 413.9h0M246.4 413.6h0M247.5 410.8h0M247.3 448.7h0M246.7 452.7h0M247.6 459.9h0M248.3 442.0h0M242.7 410.7h0M243.5 408.4h0M245.2 427.0h0M247.0 445.3h0M244.9 409.5h0M244.7 437.1h0M246.3 411.6h0M247.5 427.0h0M248.9 434.2h0M243.8 461.2h0M246.7 450.1h0M242.8 422.3h0M244.5 433.2h0M247.8 448.7h0M243.4 427.4h0M247.0 434.4h0M246.0 451.8h0M244.4 422.3h0M245.7 455.4h0M245.0 407.5h0M246.8 418.8h0M244.0 408.9h0M245.4 410.3h0M245.8 463.6h0M250.0 427.7h0M244.6 410.0h0M243.2 453.1h0M244.9 450.5h0M243.8 405.5h0M244.6 432.0h0M242.4 435.5h0M249.0 417.6h0M245.4 431.1h0M244.0 409.6h0M246.4 461.8h0M242.4 435.0h0M248.4 428.1h0M246.4 430.6h0M246.3 458.6h0M242.9 442.7h0M247.5 405.9h0M249.1 429.3h0M247.6 454.0h0M250.8 427.2h0M247.6 449.9h0M247.6 413.4h0M249.9 429.8h0M244.4 464.2h0M243.5 429.8h0M243.9 432.7h0M243.5 444.5h0M245.3 414.7h0M244.7 408.9h0M247.3 458.3h0M242.1 416.3h0M247.8 454.2h0M243.4 440.4h0M248.6 418.7h0M243.6 460.8h0M245.1 415.6h0M247.4 420.5h0M248.5 426.9h0M245.7 413.6h0M246.4 463.0h0M242.8 409.9h0M244.9 443.1h0M245.4 426.6h0M249.0 439.4h0M246.1 419.0h0M245.9 420.3h0M243.6 448.4h0M247.1 433.4h0M247.6 405.0h0M245.6 429.6h0M247.3 441.1h0M245.6 407.9h0M244.8 406.8h0M240.1 425.2h0M245.2 422.4h0M248.0 443.8h0M245.9 426.7h0M248.0 447.3h0M247.7 461.5h0M243.2 422.6h0M243.8 460.4h0M247.6 431.4h0M244.8 436.2h0M244.7 460.0h0M248.0 437.6h0M244.5 412.8h0M246.1 434.2h0M245.3 416.9h0M242.6 408.1h0M241.5 425.0h0M244.6 462.6h0M247.6 421.0h0M244.3 449.0h0M246.2 454.3h0M246.9 427.8h0M243.9 419.2h0M245.3 457.1h0M244.1 458.3h0M242.4 412.7h0M245.9 448.9h0M242.3 405.1h0M245.6 453.9h0M243.5 456.8h0M242.8 439.8h0M246.2 447.8h0M244.0 441.2h0M243.9 461.4h0M246.9 408.3h0M242.5 410.1h0M246.8 432.1h0M246.6 458.0h0M246.6 408.7h0M243.8 455.1h0M244.3 449.8h0M242.0 422.4h0M245.7 450.0h0M245.4 458.6h0M243.6 413.8h0M248.8 420.3h0M242.6 416.8h0M240.9 425.7h0M246.7 430.0h0M243.7 443.5h0M245.5 412.8h0M245.3 445.7h0M248.6 438.9h0M243.9 413.2h0M245.9 434.1h0M245.8 458.5h0M245.1 444.2h0M247.3 451.6h0M242.8 422.1h0M244.6 420.1h0M244.5 457.9h0M246.4 442.3h0M244.0 461.9h0M244.8 450.7h0M246.6 410.7h0M246.0 455.2h0M249.0 407.5h0M247.0 427.5h0M244.3 447.9h0M244.0 429.0h0M242.5 410.3h0M245.1 447.5h0M243.6 456.7h0M243.3 422.6h0M246.9 461.1h0M245.6 458.3h0M245.0 410.8h0M242.2 418.1h0M244.1 438.4h0M245.7 411.0h0M247.5 460.5h0M242.4 432.5h0M243.6 450.6h0M242.6 436.7h0M245.8 463.7h0M243.6 430.7h0M249.0 437.6h0M243.0 430.2h0M248.6 435.4h0M247.0 427.4h0M244.8 459.6h0M245.7 453.2h0M242.4 412.9h0M245.5 460.8h0M249.2 431.1h0M245.6 438.9h0M247.4 421.5h0M245.4 419.9h0M246.1 450.0h0M243.5 412.6h0M246.9 446.2h0M249.2 410.7h0M243.2 412.5h0M245.2 409.9h0M247.7 441.7h0M247.0 414.3h0M246.2 410.8h0M244.6 419.6h0M247.2 407.6h0M247.5 411.8h0M246.7 424.7h0M245.5 442.8h0M247.5 456.9h0M244.4 421.4h0M243.9 457.1h0M244.8 429.7h0M244.1 463.1h0M247.1 443.8h0M242.9 448.2h0M244.8 461.1h0M246.4 455.7h0M248.7 429.7h0M244.7 445.0h0M245.6 448.4h0M246.2 447.2h0M243.9 452.3h0M242.0 434.2h0M247.0 451.9h0M243.4 454.7h0M245.4 436.6h0M243.5 411.7h0M247.1 463.0h0M248.0 418.8h0M244.9 443.6h0M244.0 443.2h0M242.1 420.9h0M246.1 443.9h0M245.6 449.1h0M243.9 430.6h0M244.9 448.6h0M247.1 440.3h0M247.2 431.2h0M243.9 408.2h0M243.9 454.9h0M242.1 407.9h0M243.6 450.5h0M245.1 432.0h0M245.5 452.7h0M242.2 435.8h0M246.9 452.2h0M247.6 441.9h0M246.9 441.3h0M246.2 455.6h0M248.4 405.7h0M244.4 463.9h0M244.4 408.5h0M244.7 410.5h0M243.6 409.9h0M245.1 404.7h0M247.2 422.5h0M242.2 427.8h0M247.3 461.7h0M244.0 445.9h0M245.1 428.7h0M241.1 429.0h0M247.8 431.8h0M247.6 446.1h0M247.1 445.5h0M247.5 456.7h0M245.2 452.1h0M246.5 444.1h0M246.6 457.5h0M242.9 431.1h0M242.6 424.1h0M247.1 445.4h0M245.8 416.0h0M245.0 454.9h0M246.4 410.2h0M241.7 426.2h0M242.0 421.8h0M245.1 413.4h0M242.0 410.8h0M248.9 437.5h0M244.8 454.5h0M243.8 460.0h0M242.0 413.5h0M246.3 408.0h0M245.5 449.9h0M245.4 452.7h0M246.1 459.6h0M243.2 436.7h0M245.1 430.1h0M244.3 453.9h0M247.9 422.2h0M245.9 408.8h0M246.8 417.7h0M243.2 440.2h0M245.1 448.3h0M249.9 423.7h0M244.6 451.2h0M243.5 445.2h0M242.6 435.6h0M248.0 442.9h0M242.9 442.7h0M245.4 435.3h0M242.6 431.1h0M245.2 421.2h0M246.9 408.8h0M244.1 419.1h0M244.2 409.9h0M244.7 460.4h0M244.5 410.3h0M243.8 461.2h0M242.3 425.0h0M245.4 445.4h0M248.2 410.4h0M247.8 424.2h0M248.7 431.7h0M243.6 408.0h0M243.9 421.6h0M245.6 453.8h0M245.7 425.3h0M245.9 455.2h0M246.9 431.6h0M245.0 441.4h0M242.3 430.1h0M248.9 430.8h0M244.6 422.9h0M246.1 440.7h0M245.2 415.0h0M243.2 448.5h0M247.4 411.0h0M243.7 458.8h0M246.5 409.4h0M246.7 421.6h0M245.3 406.6h0M244.4 414.2h0M245.7 446.1h0M247.2 455.7h0M247.6 441.7h0M245.4 415.1h0M247.1 423.7h0M248.4 411.2h0M248.6 426.7h0M247.5 461.1h0M249.2 427.9h0M244.1 464.3h0M246.8 449.3h0M243.8 432.0h0M245.0 414.9h0M245.2 460.4h0M246.5 419.8h0M246.6 430.7h0M243.8 431.8h0M247.9 406.6h0M244.1 444.0h0M246.2 434.5h0M248.5 434.7h0M244.6 451.2h0M246.9 424.8h0M248.7 414.2h0M245.6 407.2h0M245.8 420.9h0M243.6 407.2h0M246.8 463.8h0M245.3 417.8h0M242.9 406.4h0M249.1 416.0h0M242.5 423.2h0M242.8 408.4h0M246.6 464.2h0M247.1 459.7h0M244.4 451.5h0M243.9 414.6h0M243.3 408.4h0M245.6 447.7h0M244.2 405.1h0M247.3 455.5h0M246.8 448.3h0M245.9 459.2h0M246.4 427.5h0M242.3 421.4h0M245.3 420.1h0M242.6 411.7h0M244.7 419.3h0M245.5 461.9h0M246.8 454.7h0M244.5 440.0h0M243.8 428.1h0M247.7 442.6h0M244.6 451.9h0M242.1 413.5h0M243.6 439.6h0M244.2 404.8h0M243.5 418.2h0M246.1 444.4h0M247.3 421.4h0M248.6 416.9h0M246.3 411.6h0M246.9 446.8h0M248.3 433.7h0M246.7 442.2h0M243.3 409.2h0M246.0 432.4h0M247.3 410.2h0M245.3 425.3h0M248.0 435.8h0M246.0 422.6h0M246.5 440.8h0M242.9 423.2h0M246.4 432.7h0M243.5 443.2h0M246.1 431.3h0M242.7 416.2h0M243.5 460.2h0M244.1 434.4h0M243.9 406.4h0M244.9 414.2h0M243.7 459.1h0M247.8 425.6h0M242.8 442.0h0M244.0 418.2h0M245.3 458.2h0M245.5 420.0h0M243.0 433.6h0M246.8 444.5h0M245.9 433.1h0M247.9 450.7h0M242.9 441.3h0M246.8 434.8h0M247.8 424.4h0M246.9 426.6h0M246.6 441.3h0M246.5 460.0h0M246.7 447.1h0M246.4 418.3h0M243.0 441.7h0M244.2 449.8h0M245.8 434.0h0M247.0 447.8h0M249.1 432.6h0M246.2 431.1h0M244.9 464.0h0M248.1 447.3h0M247.6 409.6h0M245.8 443.6h0M247.4 451.9h0M245.5 413.3h0M246.8 441.4h0M246.9 462.0h0M243.5 454.2h0M249.4 430.1h0M246.7 461.3h0M248.8 424.5h0M246.8 436.4h0M247.7 442.7h0M248.1 447.4h0M245.6 434.1h0M246.0 443.9h0M248.9 407.4h0M245.6 423.6h0M243.4 407.0h0M244.6 460.2h0M247.8 422.4h0M246.8 419.0h0M248.5 438.6h0M244.3 433.1h0M244.6 420.0h0M242.9 404.5h0M244.3 413.4h0M247.9 450.6h0M242.8 425.8h0M246.5 422.1h0M242.7 433.2h0M243.9 435.9h0M247.7 413.1h0M245.2 410.8h0M245.8 450.5h0M244.8 456.9h0M243.6 461.3h0M245.3 458.2h0M243.9 404.7h0M246.5 463.8h0M247.2 448.7h0M244.2 404.9h0M248.9 432.4h0M244.0 459.0h0M245.8 463.7h0M242.6 422.8h0M245.8 430.1h0M244.0 431.7h0M245.5 461.4h0M247.6 423.0h0M245.0 419.2h0M243.7 410.7h0M246.1 464.3h0M246.8 435.9h0M245.7 444.8h0M241.8 426.5h0M242.9 406.3h0M240.9 428.8h0M244.7 445.0h0M244.3 418.5h0M243.5 434.1h0M245.5 455.6h0M242.6 408.6h0M246.0 457.9h0M247.1 422.0h0M248.4 407.3h0M246.3 460.7h0M245.1 407.5h0M246.1 454.7h0M243.7 417.0h0M245.8 408.3h0M245.2 415.4h0M247.4 458.2h0M247.6 434.0h0M248.8 412.5h0M245.5 456.4h0M244.7 457.7h0M244.9 463.3h0M247.1 460.0h0M246.6 460.6h0M244.0 408.9h0M247.9 443.8h0M243.0 445.4h0M243.8 425.4h0M243.6 414.8h0M244.7 435.5h0M234.8 428.5h0M287.9 431.4h0M272.6 438.0h0M216.4 436.9h0M221.4 425.8h0M271.7 434.3h0M262.0 429.4h0M270.3 428.7h0M229.2 426.0h0M222.8 424.6h0M288.3 438.4h0M241.2 428.5h0M235.7 434.9h0M252.4 425.6h0M283.0 437.9h0M217.6 429.2h0M231.2 432.2h0M242.0 426.9h0M237.6 431.6h0M253.2 429.6h0M267.1 429.4h0M287.9 428.9h0M275.8 438.0h0M262.5 431.3h0M275.6 433.5h0M229.1 428.5h0M226.2 424.5h0M267.6 427.3h0M233.9 424.6h0M215.8 432.8h0" stroke="#c2c2c2" stroke-width="1.6" stroke-linecap="round" fill="none"/>
<path d="M241.2 417.2h0M239.0 406.0h0M238.7 421.4h0M228.1 422.1h0M239.8 412.5h0M241.5 406.5h0M239.6 410.9h0M242.1 407.9h0M241.5 413.1h0M238.3 419.5h0M241.6 419.3h0M230.4 412.2h0M240.6 414.4h0M239.2 420.7h0M242.3 423.3h0M239.8 413.5h0M230.4 413.0h0M236.5 403.9h0M240.4 417.5h0M240.6 418.5h0M238.0 414.1h0M242.2 404.8h0M240.2 410.0h0M240.1 413.8h0M239.9 423.2h0M242.2 410.4h0M241.2 423.0h0M237.2 410.0h0M238.0 418.2h0M242.1 409.7h0M241.8 411.9h0M238.8 420.4h0M242.6 413.7h0M237.6 413.8h0M229.3 421.3h0M238.4 417.2h0M239.8 419.9h0M241.8 414.7h0M239.6 405.9h0M239.6 415.8h0M239.2 412.9h0M240.9 420.6h0M238.9 418.2h0M242.5 422.3h0M241.2 411.5h0M239.2 416.0h0M237.2 419.4h0M241.2 409.9h0M239.0 417.4h0M235.6 424.4h0M240.1 407.3h0M235.8 421.9h0M237.3 415.0h0M233.8 419.4h0M239.1 412.5h0M227.7 419.2h0M241.0 423.0h0M238.9 423.8h0M236.5 422.7h0M241.9 404.9h0M240.4 409.8h0M241.2 421.0h0M241.1 404.1h0M241.9 406.1h0M235.7 411.6h0M241.6 410.4h0M235.1 413.7h0M241.8 413.3h0M232.6 413.7h0M242.1 421.7h0M239.4 424.1h0M242.6 418.5h0M241.6 415.9h0M242.4 414.4h0M239.0 419.6h0M239.8 415.2h0M237.6 414.1h0M239.3 414.3h0M237.1 423.5h0M242.2 407.1h0M236.9 424.5h0M235.4 413.3h0M236.4 411.1h0M241.1 423.2h0M238.0 410.9h0M240.6 420.5h0M241.2 405.3h0M240.6 421.6h0M228.9 404.2h0M242.0 421.8h0M238.4 418.2h0M240.5 411.5h0M241.6 413.6h0M241.9 421.4h0M240.1 417.3h0M235.4 422.8h0M234.7 420.7h0M241.3 423.3h0M241.4 404.1h0M241.2 407.8h0M230.6 411.3h0M241.9 417.3h0M242.0 420.9h0M241.3 422.4h0M239.0 415.3h0M241.5 420.8h0M242.1 423.2h0M240.8 423.8h0M240.2 420.8h0M237.9 420.6h0M236.4 405.0h0M234.1 421.3h0M234.1 416.4h0M235.7 416.6h0M240.1 420.7h0M238.1 418.6h0M235.7 411.0h0M240.8 424.3h0M241.6 417.6h0M241.1 413.9h0M242.6 416.5h0M235.5 404.8h0M238.9 411.5h0M239.6 403.6h0M237.6 416.6h0M229.9 404.0h0M230.8 413.8h0M226.9 412.1h0M229.8 403.8h0M238.0 402.1h0M237.2 423.8h0M223.2 419.7h0M235.2 414.8h0M226.1 423.3h0M226.0 423.0h0M224.3 409.9h0M225.1 422.5h0M231.9 423.0h0M235.3 412.5h0M236.0 410.4h0M233.7 421.0h0M228.8 418.8h0M228.3 404.8h0M229.0 408.3h0M232.1 423.5h0M225.4 414.3h0M234.6 421.5h0M226.0 418.9h0M229.3 418.0h0M236.8 413.6h0M226.5 419.6h0M230.1 422.6h0M228.3 423.6h0M232.5 406.2h0M236.4 413.8h0M228.2 414.8h0M230.9 422.4h0M230.6 416.3h0M225.2 417.5h0M235.4 412.7h0M227.3 421.4h0M232.1 415.0h0M226.8 416.9h0M228.5 413.1h0M236.1 419.0h0M195.2 373.5h0M190.8 386.9h0M192.7 389.2h0M191.9 406.2h0M193.3 406.9h0M195.2 408.8h0M207.7 415.2h0M213.5 415.8h0M223.1 402.3h0M228.8 404.6h0M230.8 406.5h0M217.3 423.5h0M193.3 423.5h0M195.8 423.8h0M200.0 423.8h0M240.5 386.0h0M241.0 391.0h0M238.5 398.0h0M221.0 419.0h0M226.0 414.0h0M212.0 423.5h0M204.0 423.0h0" stroke="#1a4b86" stroke-width="1.7" stroke-linecap="round" fill="none"/>
<path d="M252.9 411.4h0M254.5 420.1h0M250.4 399.4h0M249.8 407.6h0M250.5 413.5h0M252.0 420.2h0M250.0 398.1h0M249.2 422.4h0M255.7 416.9h0M250.1 404.5h0M269.0 421.0h0M255.1 416.2h0M279.0 410.3h0M260.3 408.2h0M249.7 414.9h0M255.1 422.2h0M249.5 396.9h0M261.9 408.6h0M249.3 407.0h0M271.5 404.2h0M255.3 415.0h0M254.0 399.2h0M252.5 423.6h0M249.8 398.3h0M255.2 398.9h0M249.8 423.1h0M254.7 415.3h0M252.1 420.4h0M256.2 404.3h0M255.5 415.3h0M252.4 416.2h0M252.1 418.1h0M252.2 398.0h0M257.1 422.5h0M254.6 403.0h0M251.1 400.6h0M263.1 423.7h0M253.9 416.6h0M252.1 411.8h0M258.8 409.2h0M260.0 420.0h0M257.0 416.3h0M250.0 403.5h0M253.3 420.6h0M260.2 413.5h0M254.6 397.1h0M251.0 411.9h0M253.0 419.1h0M252.8 397.8h0M255.0 419.6h0M254.8 409.7h0M251.3 407.9h0M251.4 404.3h0M251.5 402.8h0M250.8 421.8h0M251.0 422.7h0M259.4 396.8h0M251.7 420.2h0M259.7 401.9h0M250.4 418.6h0M252.4 422.6h0M250.2 416.2h0M249.6 422.3h0M253.6 418.7h0M261.3 398.0h0M254.5 419.4h0M256.1 417.7h0M259.2 415.4h0M254.9 405.3h0M255.1 405.2h0M251.1 422.2h0M251.3 398.1h0M249.2 419.2h0M250.9 415.0h0M259.2 421.8h0M249.6 424.5h0M251.1 406.1h0M252.0 408.7h0M252.6 417.2h0M251.6 424.2h0M264.2 405.9h0M249.5 421.1h0M256.6 413.0h0M255.9 405.3h0M249.8 402.9h0M250.1 422.5h0M255.9 403.1h0M250.8 416.5h0M255.6 418.9h0M251.9 396.9h0M249.7 398.6h0M259.9 396.7h0M250.4 421.2h0M251.9 421.8h0M261.9 411.1h0M258.2 413.5h0M252.5 398.2h0M249.7 420.6h0M258.7 410.5h0M256.6 396.8h0M256.4 409.9h0M256.0 412.3h0M250.2 418.1h0M261.9 412.4h0M249.2 408.9h0M274.3 409.4h0M252.4 414.5h0M254.0 409.7h0M252.4 400.1h0M259.9 404.3h0M255.5 406.4h0M250.1 413.5h0M250.6 421.0h0M264.0 420.4h0M257.4 402.5h0M251.6 424.4h0M250.0 408.8h0M255.2 417.3h0M253.6 422.0h0M254.4 404.3h0M256.6 411.3h0M253.3 424.6h0M250.5 415.9h0M249.4 423.7h0M264.8 407.5h0M253.1 407.3h0M259.2 409.1h0M251.8 416.3h0M266.6 398.3h0M249.8 403.0h0M287.5 417.9h0M290.0 419.3h0M292.5 413.1h0M284.7 423.3h0M300.3 403.2h0M293.3 419.0h0M291.4 422.3h0M282.8 417.9h0M279.1 419.0h0M259.5 415.9h0M267.6 421.3h0M272.2 422.2h0M257.1 402.7h0M258.7 404.8h0M276.6 422.3h0M277.0 414.3h0M258.7 413.4h0M256.4 418.8h0M290.8 406.0h0M264.7 416.5h0M302.4 418.5h0M261.8 419.9h0M298.4 417.9h0M288.6 403.6h0M286.5 420.9h0M279.6 418.3h0M279.5 411.7h0M303.8 409.9h0M280.9 406.9h0M280.8 420.9h0M288.8 419.4h0M266.4 416.9h0M279.8 423.6h0M273.7 403.0h0M281.0 417.4h0M278.4 409.7h0M280.6 416.6h0M284.4 419.3h0M289.5 416.1h0M290.6 417.8h0M298.8 390.4h0M255.6 383.0h0M258.5 389.8h0M253.0 395.0h0M256.0 399.0h0M262.0 396.0h0M264.0 400.0h0M292.0 404.0h0M300.0 401.0h0M303.0 405.0h0" stroke="#b80f2c" stroke-width="1.7" stroke-linecap="round" fill="none"/>
<line x1="242.7" y1="368.5" x2="242.7" y2="465.5" stroke="#222" stroke-width="1.1" stroke-dasharray="3.2,3.3"/>
<line x1="248.6" y1="368.5" x2="248.6" y2="465.5" stroke="#222" stroke-width="1.1" stroke-dasharray="3.2,3.3"/>
<line x1="185.8" y1="424.4" x2="313.3" y2="424.4" stroke="#222" stroke-width="1.1" stroke-dasharray="3.2,3.3"/>
<line x1="185.8" y1="367.1" x2="185.8" y2="466.3" stroke="#222" stroke-width="1.1"/>
<line x1="185.3" y1="465.8" x2="313.3" y2="465.8" stroke="#222" stroke-width="1.1"/>
<line x1="183.8" y1="461.3" x2="185.8" y2="461.3" stroke="#222" stroke-width="0.9"/>
<text x="182" y="463.4" font-size="5.9" text-anchor="end" fill="#222" stroke="#222" stroke-width="0.12">0</text>
<line x1="183.8" y1="432.95" x2="185.8" y2="432.95" stroke="#222" stroke-width="0.9"/>
<text x="182" y="435.05" font-size="5.9" text-anchor="end" fill="#222" stroke="#222" stroke-width="0.12">1</text>
<line x1="183.8" y1="404.6" x2="185.8" y2="404.6" stroke="#222" stroke-width="0.9"/>
<text x="182" y="406.7" font-size="5.9" text-anchor="end" fill="#222" stroke="#222" stroke-width="0.12">2</text>
<line x1="183.8" y1="376.25" x2="185.8" y2="376.25" stroke="#222" stroke-width="0.9"/>
<text x="182" y="378.35" font-size="5.9" text-anchor="end" fill="#222" stroke="#222" stroke-width="0.12">3</text>
<line x1="185.8" y1="465.8" x2="185.8" y2="467.8" stroke="#222" stroke-width="0.9"/>
<text x="185.8" y="476.4" font-size="5.9" text-anchor="middle" fill="#222" stroke="#222" stroke-width="0.12">&#8722;20</text>
<line x1="215.7" y1="465.8" x2="215.7" y2="467.8" stroke="#222" stroke-width="0.9"/>
<text x="215.7" y="476.4" font-size="5.9" text-anchor="middle" fill="#222" stroke="#222" stroke-width="0.12">&#8722;10</text>
<line x1="245.6" y1="465.8" x2="245.6" y2="467.8" stroke="#222" stroke-width="0.9"/>
<text x="245.6" y="476.4" font-size="5.9" text-anchor="middle" fill="#222" stroke="#222" stroke-width="0.12">0</text>
<line x1="275.5" y1="465.8" x2="275.5" y2="467.8" stroke="#222" stroke-width="0.9"/>
<text x="275.5" y="476.4" font-size="5.9" text-anchor="middle" fill="#222" stroke="#222" stroke-width="0.12">10</text>
<line x1="305.4" y1="465.8" x2="305.4" y2="467.8" stroke="#222" stroke-width="0.9"/>
<text x="305.4" y="476.4" font-size="5.9" text-anchor="middle" fill="#222" stroke="#222" stroke-width="0.12">20</text>
<text x="170" y="416.2" font-size="7.2" text-anchor="middle" fill="#222" font-weight="bold" transform="rotate(-90 170 416.2)" textLength="40" lengthAdjust="spacingAndGlyphs">&#8722;Log<tspan font-size="4.6" dy="1.8">10</tspan><tspan dy="-1.8">(</tspan><tspan font-style="italic">P</tspan> value)</text>
<text x="249.6" y="488.6" font-size="7.4" text-anchor="middle" fill="#222" font-weight="bold" textLength="39.5" lengthAdjust="spacingAndGlyphs">Log<tspan font-size="4.8" dy="1.8">2</tspan><tspan dy="-1.8">FoldChange</tspan></text>
<text x="250.3" y="360.2" font-size="5.95" text-anchor="middle" fill="#222" stroke="#222" stroke-width="0.12">PF4-<tspan font-style="italic">Actn1</tspan><tspan font-size="3.5" dy="-2.3">&#8722;/&#8722;</tspan><tspan dy="2.3"> vs </tspan><tspan font-style="italic">Actn1</tspan><tspan font-size="3.5" dy="-2.3">fl/fl</tspan></text>
<circle cx="266.5" cy="370" r="1.9" fill="#173f70"/>
<text x="271.1" y="372.1" font-size="5.7" text-anchor="start" fill="#222" stroke="#222" stroke-width="0.12">Down expresion</text>
<circle cx="266.5" cy="378.2" r="1.9" fill="#a30d2a"/>
<text x="271.1" y="380.3" font-size="5.7" text-anchor="start" fill="#222" stroke="#222" stroke-width="0.12">Up expression</text>
<text x="189.4" y="380.2" font-size="2.9" text-anchor="start" fill="#555" font-style="italic">Actn1</text>
<text x="195.5" y="391.5" font-size="2.9" text-anchor="start" fill="#555" font-style="italic">Pf4</text>
<text x="211" y="406" font-size="2.9" text-anchor="start" fill="#555" font-style="italic">Gp1ba</text>
<text x="214.5" y="413.5" font-size="2.9" text-anchor="start" fill="#555" font-style="italic">Gp5</text>
<text x="188.8" y="418.5" font-size="2.9" text-anchor="start" fill="#555" font-style="italic">Gp1bb</text>
<text x="216.5" y="428" font-size="2.9" text-anchor="start" fill="#555" font-style="italic">Itga6</text>
<text x="284.5" y="418" font-size="2.9" text-anchor="start" fill="#555" font-style="italic">Itgb1</text>
<line x1="190.5" y1="386.5" x2="195" y2="390" stroke="#111" stroke-width="0.7"/>
<line x1="220.5" y1="405" x2="237" y2="420" stroke="#111" stroke-width="0.7"/>
<line x1="221" y1="412.5" x2="236" y2="421" stroke="#111" stroke-width="0.7"/>
<line x1="197" y1="416.5" x2="203" y2="423" stroke="#111" stroke-width="0.7"/>
<line x1="258" y1="417" x2="283" y2="417.5" stroke="#111" stroke-width="0.7"/>
<line x1="224" y1="408" x2="236" y2="419" stroke="#111" stroke-width="0.7"/>
<text x="336.5" y="362.3" font-size="10.8" text-anchor="start" fill="#111" font-weight="bold">F</text>
<line x1="384" y1="372.5" x2="384" y2="424" stroke="#e4e4e4" stroke-width="0.5"/>
<line x1="384" y1="439.6" x2="384" y2="472" stroke="#e4e4e4" stroke-width="0.5"/>
<line x1="393.5" y1="372.5" x2="393.5" y2="424" stroke="#e4e4e4" stroke-width="0.5"/>
<line x1="393.5" y1="439.6" x2="393.5" y2="472" stroke="#e4e4e4" stroke-width="0.5"/>
<line x1="403" y1="372.5" x2="403" y2="424" stroke="#e4e4e4" stroke-width="0.5"/>
<line x1="403" y1="439.6" x2="403" y2="472" stroke="#e4e4e4" stroke-width="0.5"/>
<line x1="412.5" y1="372.5" x2="412.5" y2="424" stroke="#e4e4e4" stroke-width="0.5"/>
<line x1="412.5" y1="439.6" x2="412.5" y2="472" stroke="#e4e4e4" stroke-width="0.5"/>
<line x1="422" y1="372.5" x2="422" y2="424" stroke="#e4e4e4" stroke-width="0.5"/>
<line x1="422" y1="439.6" x2="422" y2="472" stroke="#e4e4e4" stroke-width="0.5"/>
<line x1="431.5" y1="372.5" x2="431.5" y2="424" stroke="#e4e4e4" stroke-width="0.5"/>
<line x1="431.5" y1="439.6" x2="431.5" y2="472" stroke="#e4e4e4" stroke-width="0.5"/>
<line x1="441" y1="372.5" x2="441" y2="424" stroke="#e4e4e4" stroke-width="0.5"/>
<line x1="441" y1="439.6" x2="441" y2="472" stroke="#e4e4e4" stroke-width="0.5"/>
<line x1="450.5" y1="372.5" x2="450.5" y2="424" stroke="#e4e4e4" stroke-width="0.5"/>
<line x1="450.5" y1="439.6" x2="450.5" y2="472" stroke="#e4e4e4" stroke-width="0.5"/>
<polyline points="373,378.9 373.16,378.82 373.36,378.52 373.6,379.24 373.87,379.14 374.16,379.26 374.47,379.31 374.78,379.86 375.1,379.78 375.41,380 375.71,379.65 376,379.73 376.25,379.68 376.48,380.08 376.71,379.46 376.93,381.04 377.14,380.76 377.34,380.95 377.55,381.41 377.75,381.21 377.94,381.59 378.14,381.93 378.34,381.32 378.54,382.49 378.75,382.05 378.95,382.23 379.15,381.67 379.35,381.74 379.54,382.38 379.73,381.55 379.92,381.47 380.12,381.63 380.32,381.83 380.54,380.5 380.76,381.7 381,381.3 381.25,381.54 381.51,381.02 381.76,381.56 382.01,382.11 382.27,381.73 382.53,381.74 382.81,382.01 383.11,382.2 383.43,382.87 383.77,382.94 384.14,383 384.55,383.7 385,383.41 385.49,383.63 386.03,385.24 386.61,384.64 387.22,385.79 387.86,385.67 388.52,386.08 389.19,386.77 389.86,386.78 390.54,387.23 391.21,387.87 391.86,388.23 392.5,388.99 393.12,389.76 393.75,389.13 394.38,389.58 395,390.46 395.62,390.73 396.25,391.27 396.88,391.02 397.5,391.79 398.12,391.93 398.75,391.77 399.38,392.79 400,392.5 400.62,393.54 401.25,393.59 401.88,394.04 402.5,395.16 403.12,395.33 403.75,395.35 404.38,395.71 405,395.71 405.62,396.74 406.25,396.93 406.88,396.84 407.5,396.97 408.12,397.91 408.75,398.25 409.38,399 410,398.81 410.62,399.27 411.25,400.11 411.88,400.43 412.5,401.13 413.12,401.61 413.75,401.38 414.38,401.33 415,402.53 415.62,402.69 416.25,403.42 416.88,402.88 417.5,404.14 418.12,404.62 418.75,404.83 419.38,405.59 420,405.87 420.62,406.33 421.25,407.09 421.88,407.51 422.5,407.89 423.13,408.05 423.78,408.41 424.43,408.99 425.09,409.35 425.75,409.46 426.41,410.26 427.05,410.86 427.69,410.86 428.3,411.05 428.89,411.98 429.46,411.92 430,412.03 430.51,412.75 430.98,412.65 431.44,413.49 431.87,413.47 432.29,413.9 432.69,414.47 433.08,414.68 433.46,414.51 433.84,414.04 434.22,414.85 434.61,414.87 435,415.8 435.4,416.29 435.81,416.31 436.22,416.61 436.63,416.9 437.04,417.27 437.44,417.25 437.83,417.98 438.2,417.89 438.56,417.91 438.9,418.57 439.21,419.31 439.5,418.95 439.75,418.63 439.98,419.78 440.17,419.64 440.34,419.9 440.5,419.72 440.64,420.15 440.78,420.62 440.91,419.97 441.04,420.46 441.18,420.37 441.33,419.97 441.5,420.27 441.68,420.31 441.86,419.71 442.04,420.17 442.22,419.21 442.41,419.7 442.59,419.26 442.78,418.86 442.97,418.25 443.16,417.97 443.36,417.25 443.55,417.71 443.75,417.47 443.95,417.5 444.15,417.46 444.36,417.02 444.56,416.68 444.77,416.94 444.98,416.46 445.2,416.3 445.41,415.77 445.62,416.33 445.83,415.62 446.04,416.29 446.25,415.23 446.46,415.19 446.68,415.21 446.89,414.79 447.11,414.38 447.33,414.32 447.55,414.26 447.76,414.28 447.97,414.51 448.18,414.24 448.38,413.96 448.57,413.94 448.75,412.81 448.92,413.16 449.09,413.08 449.25,412.84 449.41,413.26 449.56,412.84 449.7,412.61 449.84,413.13 449.98,412.48 450.12,412.38 450.25,411.68 450.37,412.05 450.5,411.27 450.62,411.07 450.74,410.51 450.86,409.09 450.97,407.74 451.08,406.51 451.19,406.17 451.29,404.47 451.39,403.65 451.48,402.49 451.58,400.41 451.66,400.72 451.75,400.06 451.83,399.6 451.91,399.19 451.98,399.14 452.05,398.67 452.11,399.17 452.17,398.83 452.23,399.05 452.29,399.47 452.34,398.88 452.4,398.22 452.45,398.24 452.5,397.05 452.55,396.72 452.59,396.06 452.64,394.07 452.68,393.02 452.71,391.36 452.75,390.22 452.79,388.79 452.82,387.29 452.86,385.76 452.91,383.97 452.95,383.16 453,382.37 453.06,381.98 453.12,380.4 453.19,380.79 453.26,379.68 453.33,378.93 453.41,379.53 453.48,378.84 453.55,378.14 453.61,378.26 453.67,378.13 453.71,377.26 453.75,377.5" fill="none" stroke="#62b22f" stroke-width="1.7" stroke-linejoin="round"/>
<line x1="373" y1="372.5" x2="373" y2="472.5" stroke="#222" stroke-width="1.1"/>
<line x1="371" y1="378.75" x2="373" y2="378.75" stroke="#333" stroke-width="0.8"/>
<text x="367.6" y="380.85" font-size="5.9" text-anchor="end" fill="#222" stroke="#222" stroke-width="0.12">0.0</text>
<line x1="371" y1="390" x2="373" y2="390" stroke="#333" stroke-width="0.8"/>
<text x="367.6" y="392.1" font-size="5.9" text-anchor="end" fill="#222" stroke="#222" stroke-width="0.12">&#8722;0.2</text>
<line x1="371" y1="401.25" x2="373" y2="401.25" stroke="#333" stroke-width="0.8"/>
<text x="367.6" y="403.35" font-size="5.9" text-anchor="end" fill="#222" stroke="#222" stroke-width="0.12">&#8722;0.4</text>
<line x1="371" y1="412.5" x2="373" y2="412.5" stroke="#333" stroke-width="0.8"/>
<text x="367.6" y="414.6" font-size="5.9" text-anchor="end" fill="#222" stroke="#222" stroke-width="0.12">&#8722;0.6</text>
<line x1="379.5" y1="424" x2="379.5" y2="434.8" stroke="#111" stroke-width="1"/>
<line x1="387.3" y1="424" x2="387.3" y2="434.8" stroke="#111" stroke-width="1"/>
<line x1="396.3" y1="424" x2="396.3" y2="434.8" stroke="#111" stroke-width="1"/>
<line x1="409.4" y1="424" x2="409.4" y2="434.8" stroke="#111" stroke-width="1"/>
<line x1="411.2" y1="424" x2="411.2" y2="434.8" stroke="#111" stroke-width="1"/>
<line x1="414.1" y1="424" x2="414.1" y2="434.8" stroke="#111" stroke-width="1"/>
<line x1="415.8" y1="424" x2="415.8" y2="434.8" stroke="#111" stroke-width="1"/>
<line x1="431.9" y1="424" x2="431.9" y2="434.8" stroke="#111" stroke-width="1"/>
<line x1="438.9" y1="424" x2="438.9" y2="434.8" stroke="#111" stroke-width="1"/>
<line x1="443.5" y1="424" x2="443.5" y2="434.8" stroke="#111" stroke-width="1"/>
<line x1="444.7" y1="424" x2="444.7" y2="434.8" stroke="#111" stroke-width="1"/>
<line x1="446.1" y1="424" x2="446.1" y2="434.8" stroke="#111" stroke-width="1"/>
<line x1="448.2" y1="424" x2="448.2" y2="434.8" stroke="#111" stroke-width="1"/>
<line x1="449.9" y1="424" x2="449.9" y2="434.8" stroke="#111" stroke-width="1"/>
<line x1="452.7" y1="424" x2="452.7" y2="434.8" stroke="#111" stroke-width="1"/>
<line x1="453.9" y1="424" x2="453.9" y2="434.8" stroke="#111" stroke-width="1"/>
<defs><linearGradient id="cbF1" x1="0" y1="0" x2="1" y2="0"><stop offset="0" stop-color="#d63a36"/><stop offset="0.06" stop-color="#dc5048"/><stop offset="0.08" stop-color="#eb9070"/><stop offset="0.13" stop-color="#f5c8b0"/><stop offset="0.18" stop-color="#f4f0f2"/><stop offset="0.32" stop-color="#eef0f8"/><stop offset="0.5" stop-color="#e0e6f3"/><stop offset="0.53" stop-color="#7aaad6"/><stop offset="0.75" stop-color="#4a88c4"/><stop offset="1" stop-color="#22609f"/></linearGradient></defs>
<rect x="373" y="434.8" width="81.5" height="4.8" fill="url(#cbF1)"/>
<path d="M373.2,458.25 L373.2,455.75 L374.21,456.25 L375.23,456.66 L376.24,456.98 L377.25,457.23 L378.27,457.44 L379.28,457.6 L380.3,457.73 L381.31,457.84 L382.32,457.92 L383.34,457.99 L384.35,458.04 L385.37,458.08 L386.38,458.12 L387.39,458.14 L388.41,458.16 L389.42,458.18 L390.43,458.2 L391.45,458.21 L392.46,458.22 L393.48,458.22 L394.49,458.23 L395.5,458.23 L396.52,458.24 L397.53,458.24 L398.54,458.24 L399.56,458.24 L400.57,458.24 L401.58,458.25 L402.6,458.25 L403.61,458.25 L404.63,458.25 L405.64,458.25 L406.65,458.25 L407.67,458.25 L408.68,458.25 L409.69,458.25 L410.71,458.25 L411.72,458.25 L412.74,458.25 L413.75,458.25 L414.76,458.25 L415.78,458.25 L416.79,458.26 L417.81,458.26 L418.82,458.27 L419.83,458.28 L420.85,458.29 L421.86,458.3 L422.87,458.31 L423.89,458.32 L424.9,458.34 L425.92,458.36 L426.93,458.38 L427.94,458.4 L428.96,458.42 L429.97,458.44 L430.98,458.47 L432,458.49 L433.01,458.52 L434.02,458.55 L435.04,458.58 L436.05,458.61 L437.07,458.65 L438.08,458.68 L439.09,458.72 L440.11,458.76 L441.12,458.8 L442.13,458.84 L443.15,458.88 L444.16,458.92 L445.18,458.97 L446.19,459.02 L447.2,459.16 L448.22,459.54 L449.23,460.21 L450.25,461.18 L451.26,462.48 L452.27,464.11 L453.29,466.1 L454.3,468.45 L454.3,458.25 Z" fill="#c8c8c8" stroke="#b0b0b0" stroke-width="0.3"/>
<line x1="371" y1="447.7" x2="373" y2="447.7" stroke="#333" stroke-width="0.8"/>
<text x="367.6" y="449.8" font-size="5.9" text-anchor="end" fill="#222" stroke="#222" stroke-width="0.12">50</text>
<line x1="371" y1="458.25" x2="373" y2="458.25" stroke="#333" stroke-width="0.8"/>
<text x="367.6" y="460.35" font-size="5.9" text-anchor="end" fill="#222" stroke="#222" stroke-width="0.12">0</text>
<line x1="371" y1="468.8" x2="373" y2="468.8" stroke="#333" stroke-width="0.8"/>
<text x="367.6" y="470.9" font-size="5.9" text-anchor="end" fill="#222" stroke="#222" stroke-width="0.12">&#8722;50</text>
<line x1="372.5" y1="472" x2="454.5" y2="472" stroke="#222" stroke-width="1.1"/>
<line x1="393.5" y1="472" x2="393.5" y2="474" stroke="#333" stroke-width="0.8"/>
<text x="393.5" y="483.3" font-size="5.9" text-anchor="middle" fill="#222" stroke="#222" stroke-width="0.12">100</text>
<line x1="412.5" y1="472" x2="412.5" y2="474" stroke="#333" stroke-width="0.8"/>
<text x="412.5" y="483.3" font-size="5.9" text-anchor="middle" fill="#222" stroke="#222" stroke-width="0.12">200</text>
<line x1="431.5" y1="472" x2="431.5" y2="474" stroke="#333" stroke-width="0.8"/>
<text x="431.5" y="483.3" font-size="5.9" text-anchor="middle" fill="#222" stroke="#222" stroke-width="0.12">300</text>
<line x1="450.5" y1="472" x2="450.5" y2="474" stroke="#333" stroke-width="0.8"/>
<text x="450.5" y="483.3" font-size="5.9" text-anchor="middle" fill="#222" stroke="#222" stroke-width="0.12">400</text>
<text x="415" y="493.6" font-size="7.4" text-anchor="middle" fill="#222" font-weight="bold" textLength="60" lengthAdjust="spacingAndGlyphs">Rank in ordered dataset</text>
<text x="351" y="398.4" font-size="7.2" text-anchor="middle" fill="#222" font-weight="bold" transform="rotate(-90 351 398.4)" textLength="43.6" lengthAdjust="spacingAndGlyphs">Enrichment score</text>
<text x="351" y="455.6" font-size="7.2" text-anchor="middle" fill="#222" font-weight="bold" transform="rotate(-90 351 455.6)" textLength="46" lengthAdjust="spacingAndGlyphs">Ranked list metric</text>
<text x="387.2" y="362.9" font-size="5.9" text-anchor="middle" fill="#3f55a8" stroke="#3f55a8" stroke-width="0.12"><tspan font-style="italic">Actn1</tspan><tspan font-size="3.6" dy="-2.3">fl/fl</tspan></text>
<text x="437.5" y="362.9" font-size="5.9" text-anchor="middle" fill="#e25a5a" stroke="#e25a5a" stroke-width="0.12">PF4-<tspan font-style="italic">Actn1</tspan><tspan font-size="3.6" dy="-2.3">&#8722;/&#8722;</tspan></text>
<text x="418.5" y="372.5" font-size="5.83" text-anchor="middle" fill="#222" stroke="#222" stroke-width="0.12">Factors involved in megakaryocyte</text>
<text x="418.3" y="379.8" font-size="5.83" text-anchor="middle" fill="#222" stroke="#222" stroke-width="0.12">development and platelet</text>
<text x="419.3" y="387" font-size="5.83" text-anchor="middle" fill="#222" stroke="#222" stroke-width="0.12">production <tspan font-style="italic">P</tspan> &lt; .05</text>
<line x1="383" y1="526" x2="383" y2="577.2" stroke="#e4e4e4" stroke-width="0.5"/>
<line x1="383" y1="593.1" x2="383" y2="626.3" stroke="#e4e4e4" stroke-width="0.5"/>
<line x1="392.5" y1="526" x2="392.5" y2="577.2" stroke="#e4e4e4" stroke-width="0.5"/>
<line x1="392.5" y1="593.1" x2="392.5" y2="626.3" stroke="#e4e4e4" stroke-width="0.5"/>
<line x1="402" y1="526" x2="402" y2="577.2" stroke="#e4e4e4" stroke-width="0.5"/>
<line x1="402" y1="593.1" x2="402" y2="626.3" stroke="#e4e4e4" stroke-width="0.5"/>
<line x1="411.5" y1="526" x2="411.5" y2="577.2" stroke="#e4e4e4" stroke-width="0.5"/>
<line x1="411.5" y1="593.1" x2="411.5" y2="626.3" stroke="#e4e4e4" stroke-width="0.5"/>
<line x1="421" y1="526" x2="421" y2="577.2" stroke="#e4e4e4" stroke-width="0.5"/>
<line x1="421" y1="593.1" x2="421" y2="626.3" stroke="#e4e4e4" stroke-width="0.5"/>
<line x1="430.5" y1="526" x2="430.5" y2="577.2" stroke="#e4e4e4" stroke-width="0.5"/>
<line x1="430.5" y1="593.1" x2="430.5" y2="626.3" stroke="#e4e4e4" stroke-width="0.5"/>
<line x1="440" y1="526" x2="440" y2="577.2" stroke="#e4e4e4" stroke-width="0.5"/>
<line x1="440" y1="593.1" x2="440" y2="626.3" stroke="#e4e4e4" stroke-width="0.5"/>
<line x1="449.5" y1="526" x2="449.5" y2="577.2" stroke="#e4e4e4" stroke-width="0.5"/>
<line x1="449.5" y1="593.1" x2="449.5" y2="626.3" stroke="#e4e4e4" stroke-width="0.5"/>
<polyline points="373,530.42 373.09,529.77 373.19,530.34 373.31,529.96 373.45,529.69 373.6,530.06 373.76,530.15 373.93,530.42 374.1,529.92 374.28,530.2 374.46,530.69 374.64,530.53 374.82,530.54 375,530.9 375.17,530.39 375.33,531.48 375.49,530.65 375.65,531.05 375.81,530.91 375.98,531.32 376.15,530.9 376.33,530.83 376.53,531.19 376.74,531.34 376.97,531.13 377.22,531.86 377.5,531.49 377.81,531.73 378.14,531.74 378.51,531.7 378.9,531.36 379.3,531.97 379.71,531.38 380.13,531.59 380.55,532.02 380.97,531.92 381.38,531.32 381.77,531.6 382.15,531.44 382.5,532.12 382.83,531.67 383.16,531.8 383.48,531.58 383.79,531.64 384.09,532.01 384.39,531.49 384.67,531.82 384.96,531.66 385.23,531.71 385.5,531.45 385.75,532.25 386.01,531.43 386.25,531.62 386.47,531.95 386.67,532.19 386.84,532.02 386.99,531.84 387.13,532.3 387.27,532.25 387.42,532.48 387.57,533.33 387.75,532.34 387.94,533.14 388.17,533.45 388.44,533.4 388.75,533.64 389.1,534.33 389.49,534.2 389.91,534.01 390.36,534.75 390.82,535.3 391.31,535.41 391.82,535.7 392.33,536.29 392.86,536.44 393.4,536.99 393.93,537.51 394.47,537.46 395,537.51 395.54,538.75 396.09,538.79 396.65,538.77 397.22,538.91 397.79,539.69 398.38,540.09 398.97,540.53 399.56,540.83 400.15,540.93 400.74,541.29 401.33,541.3 401.92,541.9 402.5,542.35 403.08,543.2 403.65,542.83 404.23,544.2 404.81,544.28 405.38,544.22 405.96,544.59 406.54,545.23 407.12,545.67 407.69,546.16 408.27,545.8 408.85,546.62 409.42,547.27 410,547.78 410.58,548.02 411.15,548.24 411.73,548.75 412.31,548.87 412.88,549.95 413.46,550.09 414.04,550.31 414.62,550.4 415.19,550.95 415.77,551.46 416.35,551.76 416.92,552.62 417.5,553.14 418.08,553.18 418.65,552.9 419.23,553.84 419.81,553.84 420.38,554.37 420.96,555.34 421.54,554.57 422.12,555.06 422.69,555.67 423.27,556.5 423.85,556.54 424.42,556.47 425,557.62 425.58,558.14 426.15,558.77 426.73,558.88 427.31,559.66 427.88,559.61 428.46,560.55 429.04,561.13 429.62,561.17 430.19,561.63 430.77,562.63 431.35,562.52 431.92,562.97 432.5,563.77 433.09,564.45 433.7,565.09 434.33,565.22 434.97,566.11 435.61,566.25 436.25,566.75 436.87,568.42 437.48,568 438.06,568.28 438.61,569.35 439.12,569.49 439.59,570.36 440,569.73 440.36,570.48 440.66,571.43 440.92,571.45 441.14,571.3 441.33,572.24 441.49,572.27 441.63,571.99 441.77,572.57 441.89,572.51 442.03,572.02 442.17,572.25 442.32,572.6 442.5,572.27 442.69,572.16 442.88,572.52 443.08,572.9 443.27,572.72 443.46,572.35 443.65,571.86 443.85,572.8 444.04,572.41 444.23,572.64 444.42,572.24 444.62,571.98 444.81,572.04 445,571.56 445.19,571.41 445.39,571.05 445.59,570.4 445.79,571.1 445.98,570.81 446.18,569.97 446.38,569.67 446.57,570.15 446.77,569.24 446.96,568.56 447.14,567.91 447.32,568.42 447.5,567.89 447.67,566.83 447.84,566.89 448,565.99 448.16,565.77 448.32,565.79 448.47,564.94 448.62,564.35 448.77,563.64 448.92,563.77 449.07,563 449.21,562.11 449.36,562.52 449.5,561.02 449.64,560.37 449.79,559.89 449.93,558.87 450.07,558.11 450.21,557.34 450.35,556.15 450.49,555.09 450.62,554.36 450.76,553.84 450.89,552.6 451.01,552.18 451.13,550.86 451.25,549.71 451.36,549.25 451.47,548.33 451.57,547.45 451.67,546.76 451.77,546.35 451.86,545.56 451.95,544.64 452.04,543.85 452.13,543.23 452.22,542.5 452.31,541.65 452.41,540.55 452.5,540.37 452.6,539.56 452.7,538.77 452.81,536.58 452.93,536.77 453.04,535.75 453.15,533.97 453.26,534.32 453.36,532.52 453.46,532.19 453.55,531.68 453.63,531.32 453.69,530.36 453.75,530" fill="none" stroke="#62b22f" stroke-width="1.7" stroke-linejoin="round"/>
<line x1="373" y1="526" x2="373" y2="626.8" stroke="#222" stroke-width="1.1"/>
<line x1="371" y1="530" x2="373" y2="530" stroke="#333" stroke-width="0.8"/>
<text x="367.6" y="532.1" font-size="5.9" text-anchor="end" fill="#222" stroke="#222" stroke-width="0.12">0.0</text>
<line x1="371" y1="544.1" x2="373" y2="544.1" stroke="#333" stroke-width="0.8"/>
<text x="367.6" y="546.2" font-size="5.9" text-anchor="end" fill="#222" stroke="#222" stroke-width="0.12">&#8722;0.2</text>
<line x1="371" y1="558.1" x2="373" y2="558.1" stroke="#333" stroke-width="0.8"/>
<text x="367.6" y="560.2" font-size="5.9" text-anchor="end" fill="#222" stroke="#222" stroke-width="0.12">&#8722;0.4</text>
<line x1="371" y1="572.2" x2="373" y2="572.2" stroke="#333" stroke-width="0.8"/>
<text x="367.6" y="574.3" font-size="5.9" text-anchor="end" fill="#222" stroke="#222" stroke-width="0.12">&#8722;0.6</text>
<line x1="381.84" y1="577.2" x2="381.84" y2="588.4" stroke="#111" stroke-width="0.9"/>
<line x1="386.37" y1="577.2" x2="386.37" y2="588.4" stroke="#111" stroke-width="0.9"/>
<line x1="386.23" y1="577.2" x2="386.23" y2="588.4" stroke="#111" stroke-width="0.9"/>
<line x1="384.45" y1="577.2" x2="384.45" y2="588.4" stroke="#111" stroke-width="0.9"/>
<line x1="386.43" y1="577.2" x2="386.43" y2="588.4" stroke="#111" stroke-width="0.9"/>
<line x1="388.94" y1="577.2" x2="388.94" y2="588.4" stroke="#111" stroke-width="0.9"/>
<line x1="383.08" y1="577.2" x2="383.08" y2="588.4" stroke="#111" stroke-width="0.9"/>
<line x1="377.74" y1="577.2" x2="377.74" y2="588.4" stroke="#111" stroke-width="0.9"/>
<line x1="377.33" y1="577.2" x2="377.33" y2="588.4" stroke="#111" stroke-width="0.9"/>
<line x1="374.85" y1="577.2" x2="374.85" y2="588.4" stroke="#111" stroke-width="0.9"/>
<line x1="387.78" y1="577.2" x2="387.78" y2="588.4" stroke="#111" stroke-width="0.9"/>
<line x1="382.57" y1="577.2" x2="382.57" y2="588.4" stroke="#111" stroke-width="0.9"/>
<line x1="383.04" y1="577.2" x2="383.04" y2="588.4" stroke="#111" stroke-width="0.9"/>
<line x1="402.39" y1="577.2" x2="402.39" y2="588.4" stroke="#111" stroke-width="0.9"/>
<line x1="400.52" y1="577.2" x2="400.52" y2="588.4" stroke="#111" stroke-width="0.9"/>
<line x1="397.44" y1="577.2" x2="397.44" y2="588.4" stroke="#111" stroke-width="0.9"/>
<line x1="399.43" y1="577.2" x2="399.43" y2="588.4" stroke="#111" stroke-width="0.9"/>
<line x1="394.25" y1="577.2" x2="394.25" y2="588.4" stroke="#111" stroke-width="0.9"/>
<line x1="396.01" y1="577.2" x2="396.01" y2="588.4" stroke="#111" stroke-width="0.9"/>
<line x1="396.94" y1="577.2" x2="396.94" y2="588.4" stroke="#111" stroke-width="0.9"/>
<line x1="401.58" y1="577.2" x2="401.58" y2="588.4" stroke="#111" stroke-width="0.9"/>
<line x1="400.21" y1="577.2" x2="400.21" y2="588.4" stroke="#111" stroke-width="0.9"/>
<line x1="399.62" y1="577.2" x2="399.62" y2="588.4" stroke="#111" stroke-width="0.9"/>
<line x1="409.57" y1="577.2" x2="409.57" y2="588.4" stroke="#111" stroke-width="0.9"/>
<line x1="409.12" y1="577.2" x2="409.12" y2="588.4" stroke="#111" stroke-width="0.9"/>
<line x1="409.46" y1="577.2" x2="409.46" y2="588.4" stroke="#111" stroke-width="0.9"/>
<line x1="406.02" y1="577.2" x2="406.02" y2="588.4" stroke="#111" stroke-width="0.9"/>
<line x1="409.21" y1="577.2" x2="409.21" y2="588.4" stroke="#111" stroke-width="0.9"/>
<line x1="414.87" y1="577.2" x2="414.87" y2="588.4" stroke="#111" stroke-width="0.9"/>
<line x1="413.9" y1="577.2" x2="413.9" y2="588.4" stroke="#111" stroke-width="0.9"/>
<line x1="408.07" y1="577.2" x2="408.07" y2="588.4" stroke="#111" stroke-width="0.9"/>
<line x1="410.64" y1="577.2" x2="410.64" y2="588.4" stroke="#111" stroke-width="0.9"/>
<line x1="413.17" y1="577.2" x2="413.17" y2="588.4" stroke="#111" stroke-width="0.9"/>
<line x1="420.84" y1="577.2" x2="420.84" y2="588.4" stroke="#111" stroke-width="0.9"/>
<line x1="422.04" y1="577.2" x2="422.04" y2="588.4" stroke="#111" stroke-width="0.9"/>
<line x1="423.82" y1="577.2" x2="423.82" y2="588.4" stroke="#111" stroke-width="0.9"/>
<line x1="420.75" y1="577.2" x2="420.75" y2="588.4" stroke="#111" stroke-width="0.9"/>
<line x1="426.3" y1="577.2" x2="426.3" y2="588.4" stroke="#111" stroke-width="0.9"/>
<line x1="419.45" y1="577.2" x2="419.45" y2="588.4" stroke="#111" stroke-width="0.9"/>
<line x1="426.08" y1="577.2" x2="426.08" y2="588.4" stroke="#111" stroke-width="0.9"/>
<line x1="424.45" y1="577.2" x2="424.45" y2="588.4" stroke="#111" stroke-width="0.9"/>
<line x1="438.82" y1="577.2" x2="438.82" y2="588.4" stroke="#111" stroke-width="0.9"/>
<line x1="436.07" y1="577.2" x2="436.07" y2="588.4" stroke="#111" stroke-width="0.9"/>
<line x1="450.68" y1="577.2" x2="450.68" y2="588.4" stroke="#111" stroke-width="0.9"/>
<line x1="446.73" y1="577.2" x2="446.73" y2="588.4" stroke="#111" stroke-width="0.9"/>
<line x1="434.1" y1="577.2" x2="434.1" y2="588.4" stroke="#111" stroke-width="0.9"/>
<line x1="436.8" y1="577.2" x2="436.8" y2="588.4" stroke="#111" stroke-width="0.9"/>
<line x1="431.15" y1="577.2" x2="431.15" y2="588.4" stroke="#111" stroke-width="0.9"/>
<line x1="444.64" y1="577.2" x2="444.64" y2="588.4" stroke="#111" stroke-width="0.9"/>
<line x1="439.48" y1="577.2" x2="439.48" y2="588.4" stroke="#111" stroke-width="0.9"/>
<line x1="436.81" y1="577.2" x2="436.81" y2="588.4" stroke="#111" stroke-width="0.9"/>
<line x1="446.54" y1="577.2" x2="446.54" y2="588.4" stroke="#111" stroke-width="0.9"/>
<line x1="435.2" y1="577.2" x2="435.2" y2="588.4" stroke="#111" stroke-width="0.9"/>
<line x1="432.37" y1="577.2" x2="432.37" y2="588.4" stroke="#111" stroke-width="0.9"/>
<line x1="448.86" y1="577.2" x2="448.86" y2="588.4" stroke="#111" stroke-width="0.9"/>
<line x1="451.15" y1="577.2" x2="451.15" y2="588.4" stroke="#111" stroke-width="0.9"/>
<line x1="449.14" y1="577.2" x2="449.14" y2="588.4" stroke="#111" stroke-width="0.9"/>
<line x1="442.88" y1="577.2" x2="442.88" y2="588.4" stroke="#111" stroke-width="0.9"/>
<line x1="446.87" y1="577.2" x2="446.87" y2="588.4" stroke="#111" stroke-width="0.9"/>
<line x1="450.55" y1="577.2" x2="450.55" y2="588.4" stroke="#111" stroke-width="0.9"/>
<line x1="429.78" y1="577.2" x2="429.78" y2="588.4" stroke="#111" stroke-width="0.9"/>
<line x1="436.34" y1="577.2" x2="436.34" y2="588.4" stroke="#111" stroke-width="0.9"/>
<line x1="437.76" y1="577.2" x2="437.76" y2="588.4" stroke="#111" stroke-width="0.9"/>
<line x1="447.28" y1="577.2" x2="447.28" y2="588.4" stroke="#111" stroke-width="0.9"/>
<line x1="437.27" y1="577.2" x2="437.27" y2="588.4" stroke="#111" stroke-width="0.9"/>
<line x1="448.05" y1="577.2" x2="448.05" y2="588.4" stroke="#111" stroke-width="0.9"/>
<line x1="435.29" y1="577.2" x2="435.29" y2="588.4" stroke="#111" stroke-width="0.9"/>
<line x1="452.65" y1="577.2" x2="452.65" y2="588.4" stroke="#111" stroke-width="0.9"/>
<line x1="439.77" y1="577.2" x2="439.77" y2="588.4" stroke="#111" stroke-width="0.9"/>
<line x1="443.68" y1="577.2" x2="443.68" y2="588.4" stroke="#111" stroke-width="0.9"/>
<line x1="444.64" y1="577.2" x2="444.64" y2="588.4" stroke="#111" stroke-width="0.9"/>
<defs><linearGradient id="cbF2" x1="0" y1="0" x2="1" y2="0"><stop offset="0" stop-color="#d63a36"/><stop offset="0.08" stop-color="#e2604e"/><stop offset="0.14" stop-color="#f0a894"/><stop offset="0.22" stop-color="#f6e4e2"/><stop offset="0.3" stop-color="#f4f4f8"/><stop offset="0.5" stop-color="#e8eef7"/><stop offset="0.56" stop-color="#c0d6ec"/><stop offset="0.68" stop-color="#5d9ad0"/><stop offset="1" stop-color="#2a6aac"/></linearGradient></defs>
<rect x="373" y="588.4" width="81.5" height="4.7" fill="url(#cbF2)"/>
<path d="M373.2,612.5 L373.2,610 L374.21,610.5 L375.23,610.91 L376.24,611.23 L377.25,611.48 L378.27,611.69 L379.28,611.85 L380.3,611.98 L381.31,612.09 L382.32,612.17 L383.34,612.24 L384.35,612.29 L385.37,612.33 L386.38,612.37 L387.39,612.39 L388.41,612.41 L389.42,612.43 L390.43,612.45 L391.45,612.46 L392.46,612.47 L393.48,612.47 L394.49,612.48 L395.5,612.48 L396.52,612.49 L397.53,612.49 L398.54,612.49 L399.56,612.49 L400.57,612.49 L401.58,612.5 L402.6,612.5 L403.61,612.5 L404.63,612.5 L405.64,612.5 L406.65,612.5 L407.67,612.5 L408.68,612.5 L409.69,612.5 L410.71,612.5 L411.72,612.5 L412.74,612.5 L413.75,612.5 L414.76,612.5 L415.78,612.5 L416.79,612.51 L417.81,612.51 L418.82,612.52 L419.83,612.53 L420.85,612.54 L421.86,612.55 L422.87,612.56 L423.89,612.57 L424.9,612.59 L425.92,612.61 L426.93,612.63 L427.94,612.65 L428.96,612.67 L429.97,612.69 L430.98,612.72 L432,612.74 L433.01,612.77 L434.02,612.8 L435.04,612.83 L436.05,612.86 L437.07,612.9 L438.08,612.93 L439.09,612.97 L440.11,613.01 L441.12,613.05 L442.13,613.09 L443.15,613.13 L444.16,613.17 L445.18,613.22 L446.19,613.27 L447.2,613.41 L448.22,613.82 L449.23,614.52 L450.25,615.54 L451.26,616.9 L452.27,618.63 L453.29,620.72 L454.3,623.2 L454.3,612.5 Z" fill="#c8c8c8" stroke="#b0b0b0" stroke-width="0.3"/>
<line x1="371" y1="602" x2="373" y2="602" stroke="#333" stroke-width="0.8"/>
<text x="367.6" y="604.1" font-size="5.9" text-anchor="end" fill="#222" stroke="#222" stroke-width="0.12">50</text>
<line x1="371" y1="612.5" x2="373" y2="612.5" stroke="#333" stroke-width="0.8"/>
<text x="367.6" y="614.6" font-size="5.9" text-anchor="end" fill="#222" stroke="#222" stroke-width="0.12">0</text>
<line x1="371" y1="623" x2="373" y2="623" stroke="#333" stroke-width="0.8"/>
<text x="367.6" y="625.1" font-size="5.9" text-anchor="end" fill="#222" stroke="#222" stroke-width="0.12">&#8722;50</text>
<line x1="372.5" y1="626.3" x2="454.5" y2="626.3" stroke="#222" stroke-width="1.1"/>
<line x1="392.5" y1="626.3" x2="392.5" y2="628.3" stroke="#333" stroke-width="0.8"/>
<text x="392.5" y="637.6" font-size="5.9" text-anchor="middle" fill="#222" stroke="#222" stroke-width="0.12">100</text>
<line x1="411.5" y1="626.3" x2="411.5" y2="628.3" stroke="#333" stroke-width="0.8"/>
<text x="411.5" y="637.6" font-size="5.9" text-anchor="middle" fill="#222" stroke="#222" stroke-width="0.12">200</text>
<line x1="430.5" y1="626.3" x2="430.5" y2="628.3" stroke="#333" stroke-width="0.8"/>
<text x="430.5" y="637.6" font-size="5.9" text-anchor="middle" fill="#222" stroke="#222" stroke-width="0.12">300</text>
<line x1="449.5" y1="626.3" x2="449.5" y2="628.3" stroke="#333" stroke-width="0.8"/>
<text x="449.5" y="637.6" font-size="5.9" text-anchor="middle" fill="#222" stroke="#222" stroke-width="0.12">400</text>
<text x="414.5" y="647.8" font-size="7.4" text-anchor="middle" fill="#222" font-weight="bold" textLength="60" lengthAdjust="spacingAndGlyphs">Rank in ordered dataset</text>
<text x="350.9" y="552" font-size="7.2" text-anchor="middle" fill="#222" font-weight="bold" transform="rotate(-90 350.9 552)" textLength="44.1" lengthAdjust="spacingAndGlyphs">Enrichment score</text>
<text x="350.9" y="610.1" font-size="7.2" text-anchor="middle" fill="#222" font-weight="bold" transform="rotate(-90 350.9 610.1)" textLength="45" lengthAdjust="spacingAndGlyphs">Ranked list metric</text>
<text x="382" y="513.4" font-size="5.9" text-anchor="middle" fill="#3f55a8" stroke="#3f55a8" stroke-width="0.12"><tspan font-style="italic">Actn1</tspan><tspan font-size="3.6" dy="-2.3">fl/fl</tspan></text>
<text x="436.9" y="513.4" font-size="5.9" text-anchor="middle" fill="#e25a5a" stroke="#e25a5a" stroke-width="0.12">PF4-<tspan font-style="italic">Actn1</tspan><tspan font-size="3.6" dy="-2.3">&#8722;/&#8722;</tspan></text>
<text x="413.4" y="524.1" font-size="5.8" text-anchor="middle" fill="#222" stroke="#222" stroke-width="0.12">Adherens junctions interactions</text>
<text x="436.8" y="532.9" font-size="5.9" text-anchor="middle" fill="#222" stroke="#222" stroke-width="0.12"><tspan font-style="italic">P</tspan> &lt; .001</text>
<text x="6.4" y="501.7" font-size="11" text-anchor="start" fill="#111" font-weight="bold">G</text>
<polygon points="73.5,607.3 86.0,607.3 94.6,627.6" fill="#c9c9c9"/>
<polygon points="101.0,607.3 118.0,607.3 95.6,627.6" fill="#c9c9c9"/>
<path d="M87.4 614.8h0M87.9 609.8h0M83.5 617.6h0M87.3 608.7h0M87.3 615.1h0M81.2 615.0h0M88.8 618.5h0M86.4 610.3h0M78.1 609.3h0M81.1 608.6h0M83.2 611.7h0M87.0 612.3h0M80.1 613.1h0M83.1 612.8h0M80.3 608.8h0M80.7 611.4h0M87.1 611.0h0M86.6 609.4h0M86.4 608.2h0M88.8 617.3h0M82.0 615.9h0M93.5 625.6h0M83.7 609.5h0M80.7 609.2h0M75.2 607.2h0M85.5 618.3h0M74.2 608.8h0M81.3 608.7h0M87.3 615.4h0M83.7 609.0h0M84.6 610.6h0M78.8 607.9h0M85.4 618.7h0M84.5 610.1h0M83.1 607.1h0M91.9 625.5h0M77.5 608.0h0M89.4 619.8h0M80.9 614.7h0M86.1 615.6h0M85.6 608.8h0M84.9 609.9h0M90.6 618.5h0M81.3 607.3h0M81.0 607.4h0M90.2 621.1h0M83.3 611.5h0M86.0 613.8h0M87.6 620.2h0M91.3 623.5h0M90.0 623.4h0M86.2 617.6h0M88.3 612.2h0M88.9 619.1h0M84.3 607.8h0M86.4 614.8h0M88.4 620.2h0M85.9 610.6h0M91.1 622.6h0M86.8 607.5h0M85.6 608.1h0M81.1 615.3h0M73.6 608.3h0M83.9 615.2h0M78.6 607.7h0M80.5 610.0h0M83.5 609.9h0M85.9 618.7h0M83.9 608.4h0M86.9 613.2h0M89.5 620.0h0M92.5 624.4h0M81.4 611.8h0M85.2 617.6h0M74.6 608.0h0M83.8 610.6h0M83.3 608.8h0M92.9 623.3h0M76.2 610.7h0M90.1 616.3h0M81.7 610.6h0M81.0 608.1h0M80.3 608.2h0M86.7 607.1h0M84.0 616.6h0M89.6 616.7h0M87.1 608.4h0M87.7 616.6h0M88.7 612.8h0M85.1 609.2h0M88.9 618.5h0M87.9 614.6h0M86.4 619.7h0M84.1 609.5h0M87.5 610.7h0M84.5 614.9h0M86.0 607.8h0M86.8 615.1h0M90.2 619.5h0M77.3 611.0h0M85.2 610.8h0M81.0 614.5h0M90.4 616.8h0M89.9 623.3h0M86.9 611.6h0M93.7 627.0h0M78.7 607.5h0M76.0 610.5h0M81.5 614.3h0M88.5 611.6h0M79.9 611.6h0M76.4 609.5h0M73.5 607.5h0M87.3 612.4h0M90.8 618.0h0M89.7 614.7h0M81.3 612.4h0M84.2 611.1h0M81.7 608.2h0M74.7 609.2h0M85.3 608.2h0M86.6 610.1h0M86.1 611.6h0M79.1 612.8h0M87.0 611.2h0M77.2 611.5h0M75.0 608.5h0M75.7 608.7h0M93.0 626.0h0M82.4 612.2h0M89.4 617.7h0M85.5 610.4h0M82.7 611.4h0M86.6 616.7h0M87.6 616.1h0M82.8 610.9h0M85.4 613.8h0M86.9 618.4h0M90.9 621.9h0M85.0 609.9h0M89.0 614.1h0M89.2 615.3h0M78.2 609.4h0M87.8 611.4h0M87.7 614.0h0M84.8 618.6h0M82.9 609.8h0M85.9 610.5h0M82.0 609.1h0M92.4 622.0h0M81.6 608.5h0M93.0 626.3h0M76.0 610.1h0M76.6 609.0h0M74.7 607.1h0M90.9 619.7h0M84.8 617.4h0M89.6 621.5h0M83.5 612.7h0M85.5 615.1h0M88.6 619.9h0M83.7 616.0h0M87.6 621.4h0M83.1 617.1h0M81.3 613.8h0M78.9 612.2h0M79.3 610.0h0M87.5 613.7h0M83.0 614.0h0M90.5 620.7h0M88.3 616.5h0M86.5 607.6h0M92.4 623.3h0M84.2 609.0h0M78.8 611.4h0M81.1 609.1h0M79.8 611.3h0M89.8 619.1h0M74.3 607.0h0M79.4 613.0h0M80.8 608.3h0M88.5 619.6h0M88.4 614.7h0M82.6 616.3h0M74.0 607.8h0M81.3 614.4h0M78.9 611.9h0M90.9 624.1h0M80.5 608.4h0M86.4 613.9h0M91.1 624.4h0M92.1 624.9h0M85.2 611.2h0M90.7 622.0h0M80.7 613.3h0M81.7 615.5h0M87.6 618.5h0M94.2 627.1h0M77.8 610.0h0M85.1 611.2h0M87.8 617.0h0M81.8 610.3h0M76.9 608.6h0M82.9 615.0h0M86.2 619.7h0M87.2 617.1h0M87.7 610.2h0M83.7 609.0h0M83.4 617.1h0M89.7 619.9h0M87.5 620.7h0M76.7 611.2h0M84.8 618.1h0M85.7 610.1h0M75.4 607.3h0M81.8 609.6h0M81.8 611.7h0M89.1 620.4h0M87.2 620.2h0M88.9 613.8h0M83.4 616.4h0M89.2 622.6h0M76.2 608.0h0M91.3 624.6h0M90.9 620.5h0M85.3 613.2h0M89.1 621.8h0M77.7 608.2h0M85.8 619.0h0M82.9 610.2h0M89.2 614.1h0M88.3 620.7h0M81.7 609.2h0M87.1 607.5h0M87.0 616.6h0M87.3 611.2h0M84.7 612.3h0M93.5 625.5h0M81.9 613.7h0M81.2 612.5h0M80.3 608.4h0M86.1 619.4h0M91.2 624.2h0M81.8 611.2h0M90.4 619.1h0M82.1 616.1h0M82.4 608.2h0M73.4 607.9h0M91.1 624.5h0M79.0 613.1h0M74.8 609.5h0M85.2 611.2h0M89.8 615.0h0M83.6 607.6h0M86.9 609.5h0M86.7 614.1h0M91.0 622.6h0M91.8 623.8h0M87.7 614.3h0M85.5 612.2h0M111.2 613.6h0M105.2 611.8h0M108.7 615.6h0M104.8 618.0h0M99.9 615.6h0M103.1 612.8h0M99.3 617.0h0M106.0 616.8h0M100.1 620.6h0M103.9 616.8h0M99.3 615.9h0M99.0 613.0h0M113.3 608.7h0M99.4 613.3h0M114.2 610.6h0M96.3 625.3h0M108.0 616.3h0M108.4 611.9h0M111.2 611.8h0M116.3 607.4h0M102.9 621.3h0M109.7 609.5h0M111.8 613.3h0M101.6 607.8h0M113.6 611.3h0M106.8 611.0h0M99.5 615.7h0M109.9 610.9h0M108.6 607.9h0M114.7 610.5h0M100.4 616.0h0M98.2 623.2h0M99.5 622.0h0M108.1 613.1h0M97.8 622.4h0M102.7 608.8h0M97.8 626.0h0M103.9 610.9h0M103.3 614.8h0M101.2 621.9h0M99.4 612.4h0M107.9 616.7h0M110.3 613.0h0M104.2 612.2h0M112.5 612.4h0M99.0 612.7h0M103.5 607.4h0M111.1 609.8h0M108.0 615.4h0M101.0 619.9h0M108.0 610.9h0M101.1 614.1h0M100.9 620.5h0M97.3 626.2h0M100.1 614.6h0M107.4 614.7h0M102.3 616.4h0M101.8 608.3h0M111.1 612.4h0M110.7 610.3h0M97.7 623.7h0M104.5 610.4h0M115.4 609.6h0M103.9 610.2h0M100.7 613.7h0M103.2 608.5h0M98.0 625.3h0M104.2 613.5h0M105.7 617.9h0M106.9 612.9h0M111.9 610.2h0M108.2 612.5h0M111.8 609.3h0M106.9 614.4h0M112.6 607.0h0M103.7 609.6h0M102.8 617.0h0M102.8 608.2h0M104.7 610.4h0M106.5 607.4h0M104.2 608.7h0M98.4 615.4h0M98.0 617.1h0M101.7 613.0h0M97.8 622.3h0M100.2 623.9h0M104.9 616.6h0M110.9 607.4h0M115.0 609.1h0M103.6 609.0h0M104.0 607.8h0M99.7 624.1h0M110.0 612.8h0M111.6 611.5h0M109.5 612.6h0M113.9 610.0h0M97.7 621.6h0M101.8 611.9h0M105.6 608.5h0M99.5 616.1h0M100.9 619.2h0M109.9 613.1h0M106.5 608.5h0M103.1 610.0h0M103.8 613.5h0M109.0 613.7h0M102.9 618.6h0M108.8 611.1h0M97.6 618.7h0M108.3 611.4h0M106.7 616.9h0M110.1 612.4h0M103.8 620.1h0M112.5 609.8h0M115.7 608.5h0M113.7 610.5h0M101.1 612.8h0M111.2 608.1h0M97.2 623.4h0M106.3 610.6h0M108.6 613.6h0M102.7 608.5h0M100.7 608.0h0M103.6 615.6h0M117.9 608.3h0M97.7 619.3h0M111.9 609.6h0M105.4 612.4h0M100.4 622.3h0M108.4 608.2h0M99.8 612.6h0M103.4 612.6h0M99.1 619.7h0M103.6 609.2h0M99.3 615.5h0M107.9 608.7h0M108.6 614.2h0M98.3 617.0h0M102.3 610.8h0M102.3 619.0h0M104.5 618.6h0M103.5 614.8h0M99.7 613.0h0M112.6 608.0h0M99.5 610.9h0M100.7 615.0h0M105.2 615.2h0M110.8 614.3h0M108.7 613.8h0M101.3 607.9h0M105.5 615.1h0M99.5 610.4h0M116.6 609.4h0M103.8 615.9h0M104.0 616.7h0M98.4 619.9h0M108.4 613.8h0M106.0 616.5h0M103.3 608.2h0M104.1 610.6h0M105.7 611.2h0M99.2 620.1h0M107.9 608.4h0M104.4 616.0h0M107.5 608.9h0M97.9 624.5h0M101.8 609.7h0M96.5 624.9h0M98.5 617.5h0M103.2 614.1h0M104.0 619.8h0M97.8 621.5h0M101.7 608.1h0M103.2 611.6h0M102.0 611.2h0M102.8 614.6h0M113.4 609.8h0M98.7 613.4h0M105.2 614.6h0M99.6 609.4h0M102.3 611.6h0M109.8 607.6h0M101.0 618.2h0M104.0 620.4h0M116.1 609.2h0M99.3 622.8h0M107.5 616.2h0M104.4 616.6h0M113.8 608.1h0M106.9 617.5h0M111.6 609.2h0M113.4 608.7h0M100.7 608.1h0M96.7 624.6h0M113.1 608.2h0M110.8 611.6h0M106.7 612.5h0M104.3 616.6h0M114.0 607.0h0M100.0 612.0h0M109.6 612.0h0M99.6 611.3h0M108.8 613.8h0M100.4 612.9h0M100.4 607.3h0M100.1 621.4h0M112.9 612.2h0M104.6 609.5h0M97.7 619.7h0M100.8 611.8h0M99.2 622.3h0M114.0 610.4h0M105.0 614.9h0M114.8 610.8h0M116.4 608.6h0M108.5 615.6h0M97.9 617.9h0M98.3 621.0h0M109.6 608.3h0M102.3 608.0h0M117.7 607.0h0M104.9 614.6h0M100.1 623.9h0M105.6 618.4h0M107.7 617.2h0M110.7 610.2h0M112.9 612.5h0M96.2 627.1h0M98.4 623.8h0M102.0 619.0h0M110.8 612.1h0M114.8 609.4h0M103.9 611.9h0M108.8 607.7h0M104.2 607.9h0M103.4 620.1h0M116.5 607.8h0M113.6 608.3h0M104.4 613.8h0M109.2 615.7h0M99.9 613.7h0M110.1 607.7h0M106.1 611.7h0M107.6 612.1h0M102.2 617.5h0M108.2 611.2h0M105.6 612.7h0M107.7 608.4h0M104.2 614.4h0M112.0 610.2h0M101.0 612.7h0M115.0 610.1h0M102.9 618.2h0M95.8 627.4h0M102.7 610.2h0M100.6 623.0h0M106.8 614.3h0M103.7 608.0h0M105.2 609.6h0M115.3 609.2h0M104.5 616.5h0M96.8 625.6h0M103.2 607.6h0M100.9 610.4h0M102.9 620.7h0M117.0 607.2h0M118.0 607.3h0M97.8 626.1h0M106.3 612.1h0M111.6 609.5h0M112.1 609.6h0M100.6 620.7h0M101.2 617.5h0M100.7 616.5h0M112.6 607.2h0M98.4 616.5h0M107.6 615.3h0M112.0 612.7h0M98.8 619.2h0M98.2 616.0h0M101.3 608.6h0M105.2 607.7h0M106.3 615.9h0M105.0 614.4h0M104.9 609.0h0M106.6 618.0h0M110.3 610.3h0M109.9 612.2h0M102.6 617.4h0M108.0 611.9h0M105.5 609.8h0M99.7 611.2h0M98.8 615.7h0M110.6 607.4h0M112.8 608.5h0M101.1 615.5h0M100.2 619.5h0M105.4 615.5h0M107.0 609.5h0M110.4 613.9h0M85.7 597.9h0M85.2 603.9h0M82.9 597.4h0M83.2 598.7h0M81.6 602.0h0M83.9 606.3h0M84.0 604.7h0M83.5 597.3h0M82.3 598.2h0M83.8 600.0h0M83.9 600.4h0M80.7 599.3h0M85.6 601.5h0M84.1 602.4h0M83.0 603.8h0M85.5 603.3h0M84.8 600.5h0M82.0 597.1h0M83.4 597.6h0M82.0 601.6h0M82.6 599.1h0M82.8 606.2h0M83.6 603.6h0M86.0 603.4h0M85.7 604.0h0M107.5 603.9h0M108.5 603.4h0M105.2 604.2h0M104.0 602.4h0M108.2 600.2h0M105.5 601.4h0M106.6 605.8h0M105.1 603.5h0M103.7 600.9h0M105.6 604.1h0M107.9 606.1h0M106.0 601.1h0M107.6 605.8h0M107.5 604.3h0M106.7 602.1h0M106.4 601.9h0M107.0 606.0h0M105.0 604.9h0M104.0 599.7h0M104.4 601.3h0M92.5 608.1h0M99.6 597.7h0M99.0 603.4h0M90.5 610.5h0M92.7 613.7h0M86.5 614.4h0M86.6 601.0h0M90.2 611.9h0M96.9 597.0h0M86.5 608.8h0M89.4 618.2h0M98.2 624.0h0M100.8 625.8h0M89.6 613.6h0M88.0 612.9h0M96.5 615.6h0M100.7 607.6h0M92.4 623.9h0M98.0 601.8h0M91.9 620.0h0M86.9 621.3h0M99.4 616.1h0M87.8 613.1h0M88.3 623.6h0M89.7 597.6h0M66.8 610.6h0M72.9 609.7h0M61.8 612.6h0M66.6 615.1h0M74.4 613.0h0M73.1 609.0h0M67.2 620.4h0M72.5 616.6h0M61.3 622.0h0M65.4 617.0h0M61.5 608.5h0M66.2 618.9h0" stroke="#c2c2c2" stroke-width="1.6" stroke-linecap="round" fill="none"/>
<path d="M71.0 604.5h0M74.9 604.6h0M69.7 606.6h0M81.2 594.0h0M74.9 604.2h0M74.3 593.3h0M71.3 604.2h0M80.6 590.0h0M78.3 593.3h0M78.2 605.1h0M68.2 594.8h0M79.8 602.7h0M69.2 592.2h0M70.9 603.2h0M75.3 603.8h0M75.9 595.1h0M74.9 602.5h0M77.7 596.5h0M79.1 601.6h0M75.2 606.7h0M78.6 605.7h0M72.6 607.2h0M74.2 604.6h0M73.3 594.4h0M76.6 591.6h0M80.8 596.8h0M80.6 605.8h0M76.1 599.8h0M68.3 604.3h0M78.3 603.5h0M75.6 599.2h0M74.3 599.5h0M75.9 597.8h0M78.3 601.5h0M76.1 594.5h0M80.5 606.0h0M79.2 607.0h0M79.8 603.6h0M81.4 605.0h0M70.1 590.6h0M70.0 604.9h0M69.1 604.9h0M70.4 590.6h0M73.8 602.8h0M77.0 597.0h0M79.5 592.5h0M72.0 606.6h0M77.5 606.4h0M80.0 607.1h0M79.3 595.4h0M74.0 606.6h0M76.7 591.8h0M77.8 590.8h0M67.9 603.4h0M64.3 600.5h0M71.3 599.2h0M72.6 593.4h0M80.0 607.2h0M72.5 600.3h0M73.4 591.7h0M65.3 592.4h0M76.1 600.2h0M69.9 599.9h0M72.8 594.3h0M75.0 605.5h0M73.7 600.8h0M76.4 605.8h0M81.1 607.1h0M78.5 592.6h0M80.2 600.6h0M72.6 603.2h0M72.7 590.0h0M79.9 596.9h0M68.5 606.1h0M77.3 591.5h0M76.1 604.4h0M80.9 595.9h0M81.0 601.4h0M78.7 595.8h0M74.3 602.5h0M78.0 592.3h0M75.5 604.0h0M71.7 592.6h0M79.6 605.7h0M74.2 590.7h0M73.0 606.8h0M77.9 607.1h0M78.2 603.0h0M73.9 598.6h0M77.3 607.2h0M74.2 591.6h0M80.0 601.2h0M75.9 592.0h0M78.2 600.6h0M72.6 606.7h0M76.4 590.5h0M80.7 594.3h0M72.6 600.7h0M79.1 591.9h0M80.8 593.9h0M69.5 603.7h0M79.4 602.0h0M72.6 605.9h0M73.1 605.5h0M79.0 599.8h0M72.0 601.1h0M74.5 605.8h0M77.5 606.5h0M73.3 605.2h0M72.4 607.1h0M77.7 591.4h0M81.1 605.6h0M78.4 598.5h0M70.7 599.8h0M80.8 589.9h0M77.2 606.4h0M74.6 602.6h0M81.4 601.1h0M81.6 605.0h0M70.7 594.7h0M78.4 589.9h0M76.9 600.4h0M75.6 599.4h0M73.3 593.6h0M81.0 598.8h0M75.7 596.4h0M78.2 593.5h0M75.2 603.5h0M69.8 595.4h0M77.7 606.9h0M74.9 595.8h0M71.7 600.2h0M69.6 601.9h0M69.2 600.1h0M78.3 606.2h0M75.6 603.2h0M80.0 597.4h0M81.6 604.6h0M75.5 594.4h0M76.4 606.9h0M78.3 567.4h0M68.4 587.1h0M62.8 573.4h0M72.4 568.3h0M69.0 591.7h0M63.9 584.9h0M69.2 576.9h0M68.9 591.5h0M60.9 581.0h0M65.8 569.5h0M65.0 589.1h0M68.2 577.6h0M79.0 567.0h0M70.8 589.7h0M79.9 574.2h0M64.8 585.0h0M68.2 567.4h0M61.1 588.6h0M70.3 588.7h0M75.6 573.9h0M67.0 576.5h0M68.6 572.7h0M66.1 572.5h0M65.7 583.2h0M68.1 567.5h0M71.3 590.1h0M78.8 586.9h0M77.1 570.7h0M75.8 575.2h0M64.7 576.4h0M70.3 511.7h0M68.6 534.9h0M49.0 548.6h0M64.7 544.7h0M73.5 554.5h0M74.5 556.0h0M42.5 593.7h0M61.0 569.0h0M63.0 571.0h0M66.0 574.0h0M64.0 578.0h0M69.0 566.0h0M71.0 563.0h0M58.0 583.0h0M60.5 590.0h0" stroke="#1a4b86" stroke-width="1.7" stroke-linecap="round" fill="none"/>
<path d="M118.2 599.5h0M115.7 604.5h0M115.9 605.6h0M113.1 598.1h0M118.9 601.2h0M114.2 603.2h0M109.5 600.6h0M114.9 606.9h0M111.9 604.6h0M117.9 598.3h0M111.3 604.6h0M112.0 606.4h0M110.8 605.0h0M110.2 600.2h0M108.8 598.4h0M116.2 605.3h0M112.0 600.8h0M118.5 606.4h0M116.5 604.8h0M116.5 599.3h0M112.1 605.9h0M111.9 600.0h0M115.0 605.7h0M110.9 603.7h0M108.3 601.4h0M117.6 606.7h0M108.9 599.1h0M115.9 597.3h0M113.4 595.8h0M117.4 604.7h0M112.1 607.0h0M113.9 600.6h0M114.2 601.6h0M118.1 596.8h0M111.4 607.1h0M109.4 595.9h0M110.9 595.7h0M115.0 607.2h0M113.4 605.7h0M111.7 604.1h0M110.3 607.2h0M108.8 595.9h0M112.5 602.1h0M109.3 602.6h0M116.6 596.8h0M110.9 595.6h0M116.2 604.7h0M109.6 605.3h0M110.5 606.3h0M114.8 597.1h0M113.5 598.6h0M117.6 595.4h0M113.8 600.6h0M115.5 596.5h0M115.2 599.0h0M114.3 598.2h0M117.1 606.5h0M118.2 603.6h0M115.2 598.1h0M108.9 600.7h0M115.4 601.5h0M113.8 599.9h0M114.1 586.1h0M119.8 591.8h0M116.9 596.0h0M117.3 591.0h0M116.4 587.3h0M118.6 593.7h0M115.1 575.0h0M113.5 581.4h0M119.7 591.1h0M117.6 592.7h0M115.4 585.0h0M108.5 583.4h0M116.0 557.5h0M118.3 568.9h0M117.6 570.8h0M135.0 586.9h0M124.2 576.4h0M121.0 580.0h0M127.0 596.0h0M131.0 602.0h0" stroke="#b80f2c" stroke-width="1.7" stroke-linecap="round" fill="none"/>
<line x1="81.8" y1="512.2" x2="81.8" y2="633.5" stroke="#222" stroke-width="1.1" stroke-dasharray="3.2,3.3"/>
<line x1="108.4" y1="526" x2="108.4" y2="633.5" stroke="#222" stroke-width="1.1" stroke-dasharray="3.2,3.3"/>
<line x1="37.4" y1="607.7" x2="139" y2="607.7" stroke="#222" stroke-width="1.1" stroke-dasharray="3.2,3.3"/>
<line x1="62" y1="597.5" x2="82.9" y2="613.3" stroke="#111" stroke-width="0.7"/>
<line x1="58" y1="605" x2="82" y2="615.8" stroke="#111" stroke-width="0.7"/>
<line x1="64" y1="612" x2="84.6" y2="619.3" stroke="#111" stroke-width="0.7"/>
<line x1="63" y1="624" x2="93.3" y2="627.1" stroke="#111" stroke-width="0.7"/>
<line x1="77" y1="629.5" x2="92" y2="627.6" stroke="#111" stroke-width="0.7"/>
<line x1="124.4" y1="608.9" x2="95.5" y2="627.5" stroke="#111" stroke-width="0.7"/>
<line x1="113" y1="620.5" x2="96" y2="627.5" stroke="#111" stroke-width="0.7"/>
<line x1="115" y1="627" x2="96" y2="627.8" stroke="#111" stroke-width="0.7"/>
<line x1="117.5" y1="569" x2="96.7" y2="625.4" stroke="#111" stroke-width="0.7"/>
<line x1="114.9" y1="580.4" x2="98.4" y2="623.6" stroke="#111" stroke-width="0.7"/>
<line x1="123" y1="600" x2="100" y2="621.9" stroke="#111" stroke-width="0.7"/>
<line x1="105" y1="630" x2="97" y2="628" stroke="#111" stroke-width="0.7"/>
<line x1="37.4" y1="509.2" x2="37.4" y2="634.4" stroke="#222" stroke-width="1.1"/>
<line x1="36.9" y1="633.9" x2="139" y2="633.9" stroke="#222" stroke-width="1.1"/>
<line x1="35.4" y1="628" x2="37.4" y2="628" stroke="#222" stroke-width="0.9"/>
<text x="33.6" y="630.1" font-size="5.9" text-anchor="end" fill="#222" stroke="#222" stroke-width="0.12">0</text>
<line x1="35.4" y1="596.4" x2="37.4" y2="596.4" stroke="#222" stroke-width="0.9"/>
<text x="33.6" y="598.5" font-size="5.9" text-anchor="end" fill="#222" stroke="#222" stroke-width="0.12">2</text>
<line x1="35.4" y1="564.8" x2="37.4" y2="564.8" stroke="#222" stroke-width="0.9"/>
<text x="33.6" y="566.9" font-size="5.9" text-anchor="end" fill="#222" stroke="#222" stroke-width="0.12">4</text>
<line x1="35.4" y1="533.2" x2="37.4" y2="533.2" stroke="#222" stroke-width="0.9"/>
<text x="33.6" y="535.3" font-size="5.9" text-anchor="end" fill="#222" stroke="#222" stroke-width="0.12">6</text>
<line x1="41.98" y1="633.9" x2="41.98" y2="635.9" stroke="#222" stroke-width="0.9"/>
<text x="41.98" y="644.5" font-size="5.9" text-anchor="middle" fill="#222" stroke="#222" stroke-width="0.12">&#8722;4</text>
<line x1="68.54" y1="633.9" x2="68.54" y2="635.9" stroke="#222" stroke-width="0.9"/>
<text x="68.54" y="644.5" font-size="5.9" text-anchor="middle" fill="#222" stroke="#222" stroke-width="0.12">&#8722;2</text>
<line x1="95.1" y1="633.9" x2="95.1" y2="635.9" stroke="#222" stroke-width="0.9"/>
<text x="95.1" y="644.5" font-size="5.9" text-anchor="middle" fill="#222" stroke="#222" stroke-width="0.12">0</text>
<line x1="121.66" y1="633.9" x2="121.66" y2="635.9" stroke="#222" stroke-width="0.9"/>
<text x="121.66" y="644.5" font-size="5.9" text-anchor="middle" fill="#222" stroke="#222" stroke-width="0.12">2</text>
<text x="23" y="571.4" font-size="7.2" text-anchor="middle" fill="#222" font-weight="bold" transform="rotate(-90 23 571.4)" textLength="39.7" lengthAdjust="spacingAndGlyphs">&#8722;Log<tspan font-size="4.6" dy="1.8">10</tspan><tspan dy="-1.8">(</tspan><tspan font-style="italic">P</tspan> value)</text>
<text x="89.2" y="656.7" font-size="7.4" text-anchor="middle" fill="#222" font-weight="bold" textLength="39.5" lengthAdjust="spacingAndGlyphs">Log<tspan font-size="4.8" dy="1.8">2</tspan><tspan dy="-1.8">FoldChange</tspan></text>
<text x="89.5" y="501.6" font-size="5.95" text-anchor="middle" fill="#222" stroke="#222" stroke-width="0.12">PF4-<tspan font-style="italic">Actn1</tspan><tspan font-size="3.5" dy="-2.3">&#8722;/&#8722;</tspan><tspan dy="2.3"> vs </tspan><tspan font-style="italic">Actn1</tspan><tspan font-size="3.5" dy="-2.3">fl/fl</tspan></text>
<circle cx="99.1" cy="510.1" r="1.9" fill="#173f70"/>
<text x="103.7" y="512.2" font-size="5.7" text-anchor="start" fill="#222" stroke="#222" stroke-width="0.12">Down expresion</text>
<circle cx="99.1" cy="517.9" r="1.9" fill="#a30d2a"/>
<text x="103.7" y="520" font-size="5.7" text-anchor="start" fill="#222" stroke="#222" stroke-width="0.12">Up expression</text>
<text x="67.5" y="560.5" font-size="3" text-anchor="start" fill="#555" font-style="italic">Actn1</text>
<text x="118.5" y="566.5" font-size="3" text-anchor="start" fill="#555" font-style="italic">Itga2b</text>
<text x="53" y="598" font-size="3" text-anchor="start" fill="#555" font-style="italic">Itgb5</text>
<text x="50.5" y="605.5" font-size="3" text-anchor="start" fill="#555" font-style="italic">Pf4</text>
<text x="54" y="613" font-size="3" text-anchor="start" fill="#555" font-style="italic">Itga6</text>
<text x="47" y="625.5" font-size="3" text-anchor="start" fill="#555" font-style="italic">Itga2</text>
<text x="66" y="632" font-size="3" text-anchor="start" fill="#555" font-style="italic">Itgb3</text>
<text x="124" y="600.5" font-size="3" text-anchor="start" fill="#555" font-style="italic">Vwf</text>
<text x="126" y="610.5" font-size="3" text-anchor="start" fill="#555" font-style="italic">Cd151b</text>
<text x="121" y="621.5" font-size="3" text-anchor="start" fill="#555" font-style="italic">Itgb1</text>
<text x="122" y="628.5" font-size="3" text-anchor="start" fill="#555" font-style="italic">Itgb3</text>
<text x="105" y="632" font-size="3" text-anchor="start" fill="#555" font-style="italic">Cd9</text>
<rect x="0.5" y="0.5" width="519" height="666" fill="none" stroke="#555" stroke-width="1.2"/>
</svg>
</div></body></html>
